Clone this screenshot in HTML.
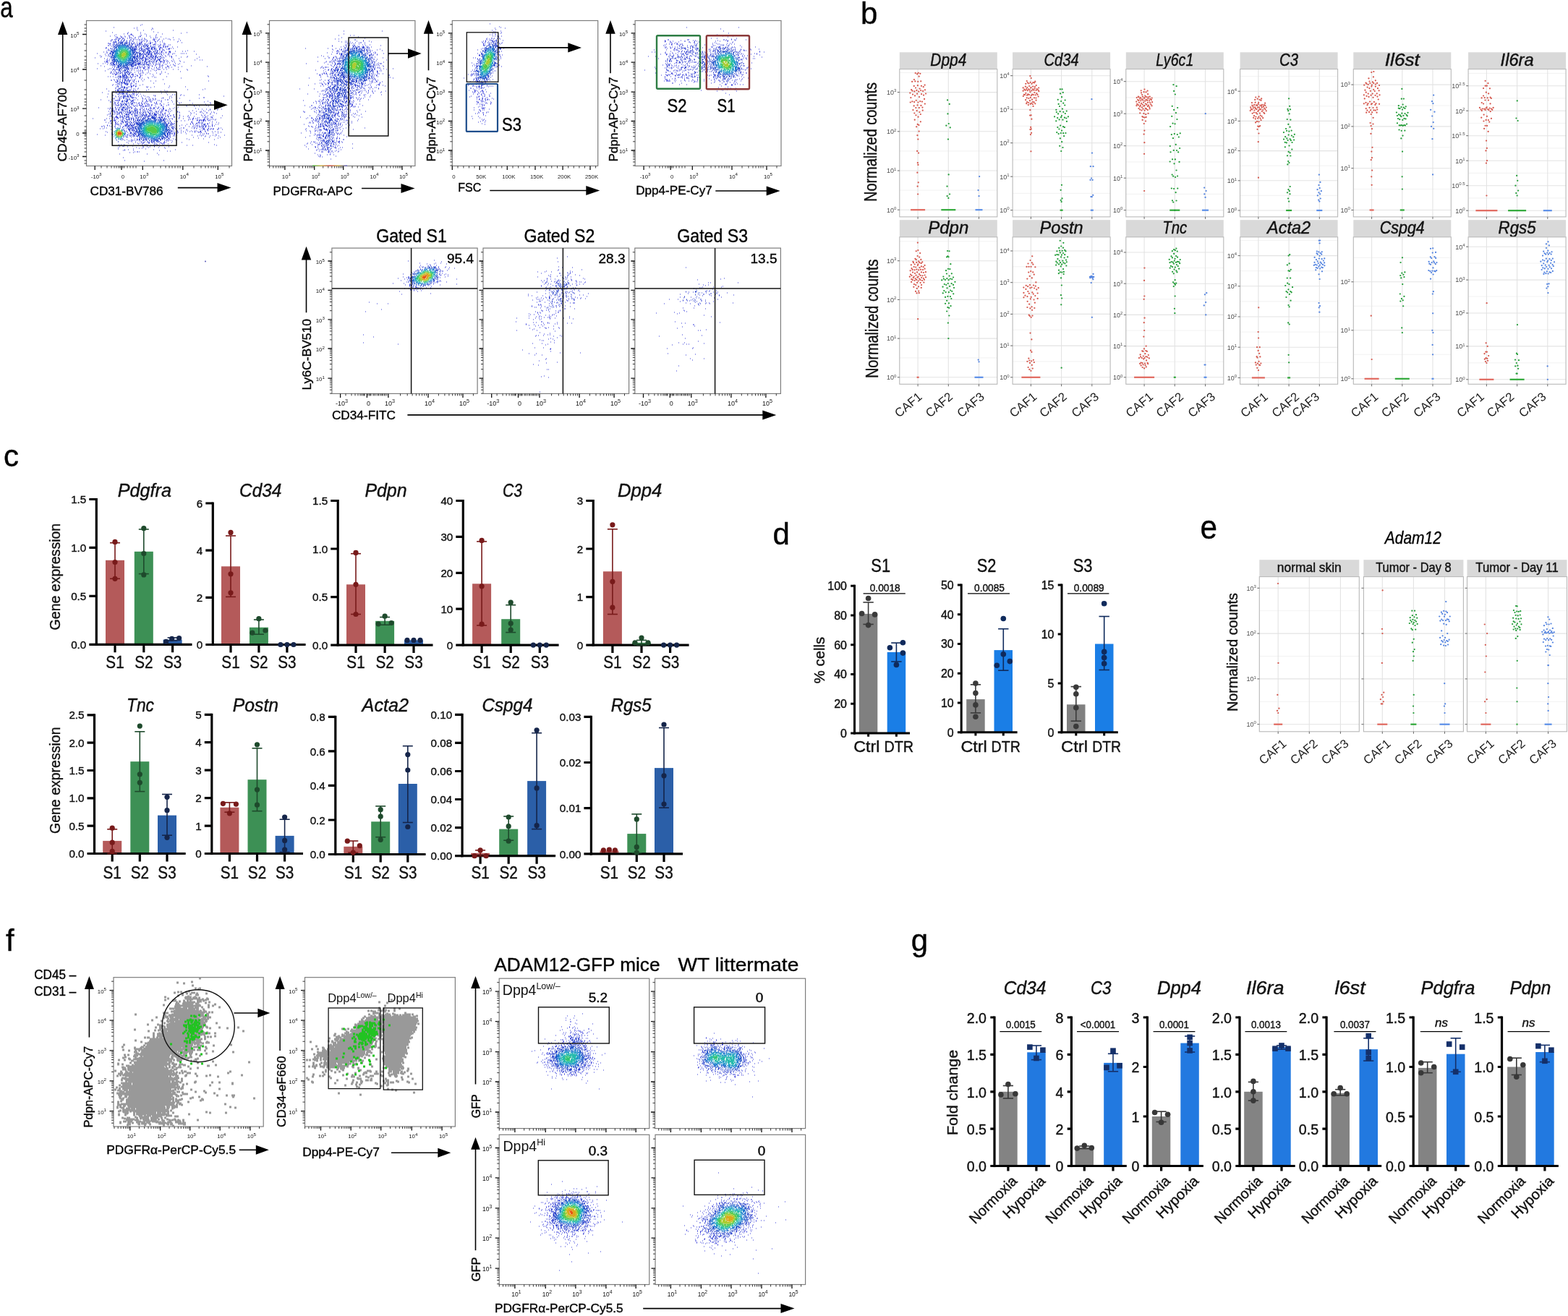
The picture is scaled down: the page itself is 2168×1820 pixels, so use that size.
<!DOCTYPE html>
<html><head><meta charset="utf-8"><title>Figure</title>
<style>html,body{margin:0;padding:0;background:#fff;}svg{display:block;}text{font-family:"Liberation Sans",Arial,sans-serif;}.k{stroke:#111;stroke-width:.4px;}</style>
</head><body>
<svg width="2168" height="1820" viewBox="0 0 2168 1820">
<rect width="2168" height="1820" fill="#fff"/>
<text x="0.3" y="24" font-size="40" class="k" textLength="17.5" lengthAdjust="spacingAndGlyphs">a</text>
<rect x="119.5" y="28.5" width="201" height="201" fill="#fff" stroke="#7d7d7d" stroke-width="1.2"/>
<path d="M131.2 229.5v5.5M168 229.5v5.5M197.3 229.5v5.5M252.8 229.5v5.5M301.3 229.5v5.5" stroke="#111" stroke-width="1.3" fill="none"/>
<path d="M140 229.5v3.0M148 229.5v3.0M154 229.5v3.0M158 229.5v3.0M161 229.5v3.0M164 229.5v3.0M166 229.5v3.0M170 229.5v3.0M172 229.5v3.0M176 229.5v3.0M180 229.5v3.0M184 229.5v3.0M188 229.5v3.0M212 229.5v3.0M222 229.5v3.0M229 229.5v3.0M234 229.5v3.0M238 229.5v3.0M242 229.5v3.0M246 229.5v3.0M249 229.5v3.0M268 229.5v3.0M278 229.5v3.0M284 229.5v3.0M288 229.5v3.0M292 229.5v3.0M295 229.5v3.0M298 229.5v3.0M317 229.5v3.0" stroke="#222" stroke-width="0.9" fill="none"/>
<text x="133.2" y="246.5" font-size="7.8" text-anchor="middle" fill="#111">-10<tspan dy="-3.5" font-size="6.2">3</tspan></text>
<text x="170" y="246.5" font-size="7.8" text-anchor="middle" fill="#222">0</text>
<text x="199.3" y="246.5" font-size="7.8" text-anchor="middle" fill="#111">10<tspan dy="-3.5" font-size="6.2">3</tspan></text>
<text x="254.8" y="246.5" font-size="7.8" text-anchor="middle" fill="#111">10<tspan dy="-3.5" font-size="6.2">4</tspan></text>
<text x="303.3" y="246.5" font-size="7.8" text-anchor="middle" fill="#111">10<tspan dy="-3.5" font-size="6.2">5</tspan></text>
<path d="M119.5 47.5h-5.5M119.5 96h-5.5M119.5 150.1h-5.5M119.5 184h-5.5M119.5 216.5h-5.5" stroke="#111" stroke-width="1.3" fill="none"/>
<path d="M119.5 34h-3.0M119.5 39h-3.0M119.5 43h-3.0M119.5 61h-3.0M119.5 70h-3.0M119.5 78h-3.0M119.5 83h-3.0M119.5 87h-3.0M119.5 90h-3.0M119.5 93h-3.0M119.5 111h-3.0M119.5 124h-3.0M119.5 131h-3.0M119.5 137h-3.0M119.5 141h-3.0M119.5 145h-3.0M119.5 160h-3.0M119.5 168h-3.0M119.5 175h-3.0M119.5 180h-3.0M119.5 182h-3.0M119.5 186h-3.0M119.5 188h-3.0M119.5 192h-3.0M119.5 196h-3.0M119.5 200h-3.0M119.5 205h-3.0M119.5 210h-3.0M119.5 222h-3.0M119.5 226h-3.0" stroke="#222" stroke-width="0.9" fill="none"/>
<text x="109.5" y="51.5" font-size="7.8" text-anchor="end" fill="#111">10<tspan dy="-3.5" font-size="6.2">5</tspan></text>
<text x="109.5" y="100" font-size="7.8" text-anchor="end" fill="#111">10<tspan dy="-3.5" font-size="6.2">4</tspan></text>
<text x="109.5" y="154.1" font-size="7.8" text-anchor="end" fill="#111">10<tspan dy="-3.5" font-size="6.2">3</tspan></text>
<text x="109.5" y="188" font-size="7.8" text-anchor="end" fill="#222">0</text>
<text x="109.5" y="220.5" font-size="7.8" text-anchor="end" fill="#111">-10<tspan dy="-3.5" font-size="6.2">3</tspan></text>
<path d="M196 34h1m-3 1h1m-38 3h1m31 0h1m-5 1h1m24 0h1m-22 1h1m21 0h1m-3 1h1m-20 1h1m7 0h1m40 0h1m-94 1h1m65 1h1m-58 1h1m21 0h1m16 0h1m23 0h1m39 0h1m-83 1h1m73 0h1m-80 1h1m4 0h1m4 0h1m12 0h1m5 0h1m23 0h1m-65 1h1m19 0h1m0 0h1m0 0h1m19 0h1m13 0h1m-59 1h1m19 0h1m4 0h1m11 0h1m19 0h1m-64 1h1m13 0h1m5 0h1m5 0h1m5 0h1m8 0h1m0 0h1m7 0h1m4 0h1m-49 1h1m1 0h1m5 0h1m0 0h1m4 0h1m5 0h1m11 0h1m1 0h1m21 0h1m6 0h1m-62 1h1m0 0h1m5 0h1m10 0h1m1 0h1m4 0h1m0 0h1m20 0h1m6 0h1m1 0h1m21 0h1m-77 1h1m1 0h1m0 0h1m2 0h1m0 0h1m0 0h1m4 0h1m2 0h1m2 0h1m8 0h1m4 0h1m2 0h1m12 0h1m16 0h1m-71 1h1m0 0h1m0 0h1m22 0h1m1 0h1m13 0h1m12 0h1m1 0h1m4 0h1m5 0h1m5 0h1m1 0h1m12 0h1m-94 1h1m0 0h1m2 0h1m21 0h1m0 0h1m2 0h1m3 0h1m1 0h1m1 0h1m0 0h1m1 0h1m0 0h1m3 0h1m1 0h1m8 0h1m0 0h1m0 0h1m5 0h1m15 0h1m4 0h1m-88 1h1m5 0h1m38 0h1m4 0h1m9 0h1m4 0h1m5 0h1m24 0h1m-97 1h1m30 0h1m8 0h1m2 0h1m2 0h1m3 0h1m3 0h1m6 0h1m2 0h1m28 0h1m-91 1h1m32 0h1m5 0h1m0 0h1m5 0h1m11 0h1m0 0h1m5 0h1m2 0h1m20 0h1m-54 1h1m1 0h1m0 0h1m11 0h1m0 0h1m1 0h1m40 0h1m-103 1h1m0 0h1m1 0h1m36 0h1m10 0h1m4 0h1m1 0h1m0 0h1m6 0h1m10 0h1m0 0h1m-77 1h1m0 0h1m54 0h1m5 0h1m0 0h1m6 0h1m6 0h1m-18 1h1m0 0h1m0 0h1m1 0h1m2 0h1m3 0h1m3 0h1m0 0h1m5 0h1m1 0h1m-87 1h1m0 0h1m1 0h1m67 0h1m0 0h1m3 0h1m-7 1h1m6 0h1m1 0h1m0 0h1m1 0h1m0 0h1m-14 1h1m1 0h1m3 0h1m0 0h1m2 0h1m1 0h1m6 0h1m6 0h1m-100 1h1m0 0h1m73 0h1m0 0h1m0 0h1m4 0h1m-83 1h1m73 0h1m0 0h1m2 0h1m8 0h1m0 0h1m1 0h1m2 0h1m-91 1h1m70 0h1m9 0h1m1 0h1m0 0h1m0 0h1m-85 1h1m69 0h1m0 0h1m2 0h1m0 0h1m0 0h1m-78 1h1m77 0h1m31 0h1m-113 1h1m75 0h1m0 0h1m8 0h1m0 0h1m0 0h1m6 0h1m9 0h1m3 0h1m11 0h1m-126 1h1m78 0h1m0 0h1m5 0h1m4 0h1m0 0h1m-89 1h1m0 0h1m74 0h1m1 0h1m2 0h1m1 0h1m2 0h1m1 0h1m-102 1h1m98 0h1m5 0h1m1 0h1m8 0h1m1 0h1m1 0h1m2 0h1m-113 1h1m77 0h1m2 0h1m5 0h1m5 0h1m32 0h1m-123 1h1m82 0h1m1 0h1m-97 1h1m7 0h1m77 0h1m3 0h1m14 0h1m-104 1h1m8 0h1m79 0h1m4 0h1m1 0h1m0 0h1m21 0h1m-121 1h1m85 0h1m11 0h1m12 0h1m7 0h1m16 0h1m-145 1h1m93 0h1m1 0h1m9 0h1m-94 1h1m3 0h1m98 0h1m24 0h1m-122 1h1m73 0h1m13 0h1m-93 1h1m0 0h1m77 0h1m2 0h1m39 0h1m6 0h1m2 0h1m-131 1h1m1 0h1m74 0h1m0 0h1m3 0h1m5 0h1m2 0h1m7 0h1m-105 1h1m1 0h1m0 0h1m0 0h1m73 0h1m0 0h1m0 0h1m1 0h1m3 0h1m1 0h1m5 0h1m10 0h1m-103 1h1m0 0h1m73 0h1m4 0h1m13 0h1m12 0h1m-110 1h1m3 0h1m69 0h1m1 0h1m3 0h1m0 0h1m4 0h1m2 0h1m-100 1h1m6 0h1m9 0h1m58 0h1m4 0h1m25 0h1m5 0h1m-101 1h1m63 0h1m2 0h1m1 0h1m1 0h1m0 0h1m0 0h1m6 0h1m1 0h1m8 0h1m6 0h1m-95 1h1m55 0h1m6 0h1m8 0h1m0 0h1m9 0h1m4 0h1m-102 1h1m70 0h1m3 0h1m5 0h1m0 0h1m1 0h1m7 0h1m9 0h1m0 0h1m21 0h1m-121 1h1m55 0h1m2 0h1m2 0h1m3 0h1m13 0h1m6 0h1m0 0h1m0 0h1m17 0h1m34 0h1m-132 1h1m37 0h1m0 0h1m1 0h1m1 0h1m1 0h1m4 0h1m10 0h1m3 0h1m0 0h1m7 0h1m7 0h1m8 0h1m-58 1h1m0 0h1m2 0h1m4 0h1m0 0h1m4 0h1m0 0h1m0 0h1m6 0h1m2 0h1m2 0h1m4 0h1m4 0h1m3 0h1m-100 1h1m16 0h1m1 0h1m3 0h1m30 0h1m1 0h1m7 0h1m0 0h1m9 0h1m7 0h1m-69 1h1m6 0h1m0 0h1m36 0h1m6 0h1m1 0h1m1 0h1m5 0h1m6 0h1m0 0h1m0 0h1m0 0h1m4 0h1m3 0h1m8 0h1m6 0h1m11 0h1m-104 1h1m2 0h1m0 0h1m25 0h1m5 0h1m8 0h1m12 0h1m2 0h1m42 0h1m-115 1h1m43 0h1m3 0h1m0 0h1m1 0h1m0 0h1m7 0h1m2 0h1m6 0h1m-63 1h1m3 0h1m1 0h1m31 0h1m31 0h1m25 0h1m-96 1h1m5 0h1m25 0h1m10 0h1m7 0h1m22 0h1m-77 1h1m0 0h1m3 0h1m3 0h1m29 0h1m2 0h1m1 0h1m1 0h1m4 0h1m12 0h1m6 0h1m-69 1h1m2 0h1m1 0h1m22 0h1m9 0h1m13 0h1m13 0h1m10 0h1m-77 1h1m2 0h1m0 0h1m0 0h1m20 0h1m0 0h1m0 0h1m2 0h1m5 0h1m7 0h1m9 0h1m9 0h1m-63 1h1m23 0h1m5 0h1m4 0h1m1 0h1m-13 1h1m4 0h1m0 0h1m3 0h1m17 0h1m74 0h1m-139 1h1m2 0h1m3 0h1m26 0h1m2 0h1m0 0h1m6 0h1m15 0h1m19 0h1m57 0h1m-130 1h1m1 0h1m19 0h1m0 0h1m9 0h1m0 0h1m10 0h1m8 0h1m1 0h1m-35 1h1m11 0h1m2 0h1m8 0h1m44 0h1m-64 1h1m-31 1h1m3 0h1m20 0h1m2 0h1m9 0h1m3 0h1m25 0h1m-73 1h1m0 0h1m3 0h1m3 0h1m17 0h1m4 0h1m-25 1h1m21 0h1m1 0h1m5 0h1m5 0h1m10 0h1m6 0h1m72 0h1m-130 1h1m24 0h1m3 0h1m2 0h1m-32 1h1m0 0h1m23 0h1m-24 1h1m18 0h1m0 0h1m29 0h1m-33 1h1m6 0h1m0 0h1m38 0h1m-72 1h1m3 0h1m1 0h1m18 0h1m15 0h1m-43 1h1m24 0h1m3 0h1m0 0h1m7 0h1m-32 1h1m18 0h1m0 0h1m1 0h1m2 0h1m0 0h1m45 0h1m-74 1h1m15 0h1m1 0h1m1 0h1m0 0h1m4 0h1m14 0h1m1 0h1m8 0h1m42 0h1m-81 1h1m4 0h1m21 0h1m4 0h1m24 0h1m-75 1h1m0 0h1m30 0h1m-45 1h1m33 0h1m2 0h1m1 0h1m3 0h1m92 0h1m-122 1h1m16 0h1m25 0h1m53 0h1m20 0h1m-122 1h1m0 0h1m1 0h1m16 0h1m0 0h1m3 0h1m2 0h1m14 0h1m24 0h1m-78 1h1m11 0h1m19 0h1m1 0h1m0 0h1m2 0h1m33 0h1m6 0h1m1 0h1m-76 1h1m28 0h1m6 0h1m0 0h1m49 0h1m-103 1h1m13 0h1m1 0h1m2 0h1m27 0h1m39 0h1m-69 1h1m22 0h1m1 0h1m5 0h1m31 0h1m6 0h1m-82 1h1m12 0h1m0 0h1m19 0h1m0 0h1m0 0h1m3 0h1m4 0h1m-31 1h1m24 0h1m41 0h1m6 0h1m2 0h1m8 0h1m24 0h1m-120 1h1m26 0h1m1 0h1m2 0h1m9 0h1m13 0h1m1 0h1m34 0h1m4 0h1m-96 1h1m4 0h1m26 0h1m3 0h1m4 0h1m13 0h1m21 0h1m72 0h1m-162 1h1m11 0h1m2 0h1m2 0h1m36 0h1m1 0h1m28 0h1m-70 1h1m17 0h1m0 0h1m0 0h1m1 0h1m8 0h1m9 0h1m18 0h1m11 0h1m43 0h1m0 0h1m-127 1h1m1 0h1m6 0h1m1 0h1m15 0h1m4 0h1m8 0h1m3 0h1m9 0h1m2 0h1m8 0h1m1 0h1m8 0h1m13 0h1m26 0h1m-119 1h1m5 0h1m1 0h1m31 0h1m2 0h1m4 0h1m1 0h1m3 0h1m3 0h1m-77 1h1m14 0h1m10 0h1m18 0h1m1 0h1m3 0h1m11 0h1m4 0h1m4 0h1m1 0h1m13 0h1m2 0h1m0 0h1m-83 1h1m4 0h1m3 0h1m0 0h1m0 0h1m0 0h1m0 0h1m0 0h1m0 0h1m18 0h1m12 0h1m4 0h1m3 0h1m1 0h1m1 0h1m7 0h1m1 0h1m2 0h1m13 0h1m24 0h1m-108 1h1m1 0h1m38 0h1m5 0h1m1 0h1m2 0h1m14 0h1m22 0h1m41 0h1m-136 1h1m0 0h1m9 0h1m20 0h1m12 0h1m3 0h1m1 0h1m4 0h1m0 0h1m6 0h1m6 0h1m14 0h1m43 0h1m-125 1h1m0 0h1m3 0h1m21 0h1m0 0h1m1 0h1m3 0h1m2 0h1m4 0h1m12 0h1m2 0h1m15 0h1m14 0h1m2 0h1m39 0h1m-134 1h1m1 0h1m2 0h1m28 0h1m0 0h1m2 0h1m3 0h1m2 0h1m11 0h1m1 0h1m4 0h1m26 0h1m17 0h1m24 0h1m-129 1h1m25 0h1m6 0h1m0 0h1m2 0h1m2 0h1m0 0h1m0 0h1m9 0h1m1 0h1m3 0h1m4 0h1m13 0h1m43 0h1m-130 1h1m1 0h1m1 0h1m0 0h1m3 0h1m18 0h1m8 0h1m0 0h1m2 0h1m9 0h1m2 0h1m0 0h1m12 0h1m8 0h1m0 0h1m28 0h1m28 0h1m-131 1h1m0 0h1m0 0h1m20 0h1m2 0h1m1 0h1m2 0h1m1 0h1m0 0h1m5 0h1m1 0h1m1 0h1m3 0h1m4 0h1m7 0h1m0 0h1m6 0h1m26 0h1m10 0h1m2 0h1m13 0h1m-101 1h1m0 0h1m2 0h1m4 0h1m1 0h1m0 0h1m0 0h1m1 0h1m0 0h1m0 0h1m1 0h1m1 0h1m18 0h1m32 0h1m9 0h1m6 0h1m12 0h1m-134 1h1m3 0h1m19 0h1m0 0h1m0 0h1m16 0h1m9 0h1m6 0h1m3 0h1m5 0h1m20 0h1m-111 1h1m15 0h1m2 0h1m3 0h1m2 0h1m19 0h1m4 0h1m6 0h1m1 0h1m10 0h1m4 0h1m0 0h1m5 0h1m5 0h1m15 0h1m-93 1h1m2 0h1m1 0h1m1 0h1m3 0h1m20 0h1m0 0h1m4 0h1m8 0h1m2 0h1m2 0h1m4 0h1m0 0h1m0 0h1m2 0h1m0 0h1m3 0h1m0 0h1m3 0h1m2 0h1m0 0h1m7 0h1m4 0h1m4 0h1m25 0h1m-120 1h1m2 0h1m5 0h1m27 0h1m0 0h1m3 0h1m0 0h1m7 0h1m2 0h1m5 0h1m13 0h1m0 0h1m8 0h1m38 0h1m4 0h1m5 0h1m4 0h1m10 0h1m4 0h1m-151 1h1m3 0h1m29 0h1m2 0h1m3 0h1m0 0h1m0 0h1m3 0h1m1 0h1m2 0h1m5 0h1m5 0h1m2 0h1m0 0h1m4 0h1m3 0h1m9 0h1m46 0h1m9 0h1m-147 1h1m1 0h1m1 0h1m35 0h1m5 0h1m8 0h1m15 0h1m2 0h1m0 0h1m0 0h1m6 0h1m28 0h1m14 0h1m6 0h1m-139 1h1m2 0h1m1 0h1m0 0h1m1 0h1m59 0h1m0 0h1m2 0h1m0 0h1m0 0h1m7 0h1m2 0h1m9 0h1m15 0h1m9 0h1m6 0h1m4 0h1m-127 1h1m1 0h1m33 0h1m0 0h1m26 0h1m11 0h1m11 0h1m1 0h1m28 0h1m0 0h1m14 0h1m2 0h1m-144 1h1m5 0h1m63 0h1m0 0h1m4 0h1m19 0h1m14 0h1m4 0h1m10 0h1m5 0h1m0 0h1m9 0h1m-145 1h1m7 0h1m63 0h1m2 0h1m0 0h1m5 0h1m29 0h1m16 0h1m9 0h1m7 0h1m-150 1h1m1 0h1m3 0h1m1 0h1m3 0h1m70 0h1m9 0h1m27 0h1m18 0h1m-143 1h1m12 0h1m3 0h1m62 0h1m2 0h1m7 0h1m0 0h1m7 0h1m14 0h1m14 0h1m4 0h1m-131 1h1m12 0h1m64 0h1m3 0h1m0 0h1m11 0h1m11 0h1m18 0h1m2 0h1m4 0h1m6 0h1m12 0h1m-157 1h1m1 0h1m6 0h1m0 0h1m4 0h1m16 0h1m45 0h1m2 0h1m0 0h1m6 0h1m12 0h1m5 0h1m8 0h1m15 0h1m-129 1h1m2 0h1m0 0h1m0 0h1m0 0h1m2 0h1m1 0h1m64 0h1m7 0h1m0 0h1m6 0h1m12 0h1m18 0h1m3 0h1m1 0h1m4 0h1m0 0h1m0 0h1m-136 1h1m2 0h1m0 0h1m0 0h1m2 0h1m80 0h1m13 0h1m5 0h1m5 0h1m1 0h1m6 0h1m0 0h1m9 0h1m11 0h1m-178 1h1m18 0h1m3 0h1m3 0h1m1 0h1m5 0h1m69 0h1m2 0h1m1 0h1m8 0h1m5 0h1m12 0h1m0 0h1m2 0h1m1 0h1m13 0h1m1 0h1m-131 1h1m2 0h1m72 0h1m3 0h1m22 0h1m1 0h1m2 0h1m14 0h1m0 0h1m0 0h1m2 0h1m4 0h1m1 0h1m1 0h1m2 0h1m-155 1h1m0 0h1m11 0h1m1 0h1m6 0h1m1 0h1m91 0h1m5 0h1m5 0h1m0 0h1m1 0h1m0 0h1m0 0h1m0 0h1m1 0h1m0 0h1m0 0h1m4 0h1m1 0h1m7 0h1m-146 1h1m0 0h1m0 0h1m0 0h1m1 0h1m0 0h1m0 0h1m73 0h1m1 0h1m14 0h1m4 0h1m16 0h1m2 0h1m2 0h1m1 0h1m0 0h1m1 0h1m0 0h1m3 0h1m1 0h1m-139 1h1m7 0h1m2 0h1m3 0h1m0 0h1m66 0h1m5 0h1m1 0h1m0 0h1m0 0h1m19 0h1m9 0h1m5 0h1m11 0h1m-148 1h1m12 0h1m76 0h1m27 0h1m0 0h1m8 0h1m24 0h1m-150 1h1m2 0h1m5 0h1m0 0h1m1 0h1m4 0h1m69 0h1m28 0h1m5 0h1m1 0h1m0 0h1m0 0h1m12 0h1m3 0h1m8 0h1m-150 1h1m6 0h1m5 0h1m1 0h1m69 0h1m1 0h1m0 0h1m21 0h1m2 0h1m4 0h1m0 0h1m10 0h1m2 0h1m0 0h1m-129 1h1m1 0h1m0 0h1m0 0h1m0 0h1m2 0h1m71 0h1m18 0h1m4 0h1m3 0h1m2 0h1m16 0h1m5 0h1m4 0h1m2 0h1m-154 1h1m10 0h1m91 0h1m21 0h1m1 0h1m17 0h1m-151 1h1m4 0h1m15 0h1m1 0h1m74 0h1m6 0h1m7 0h1m10 0h1m1 0h1m1 0h1m0 0h1m5 0h1m6 0h1m2 0h1m4 0h1m2 0h1m-157 1h1m0 0h1m2 0h1m8 0h1m4 0h1m0 0h1m10 0h1m0 0h1m89 0h1m4 0h1m6 0h1m1 0h1m0 0h1m1 0h1m5 0h1m3 0h1m1 0h1m2 0h1m-125 1h1m71 0h1m26 0h1m1 0h1m5 0h1m7 0h1m-141 1h1m2 0h1m7 0h1m6 0h1m1 0h1m4 0h1m70 0h1m9 0h1m2 0h1m0 0h1m10 0h1m2 0h1m3 0h1m5 0h1m9 0h1m13 0h1m2 0h1m-168 1h1m3 0h1m21 0h1m6 0h1m2 0h1m67 0h1m5 0h1m19 0h1m2 0h1m8 0h1m0 0h1m0 0h1m5 0h1m2 0h1m0 0h1m1 0h1m0 0h1m6 0h1m-150 1h1m1 0h1m6 0h1m5 0h1m75 0h1m13 0h1m17 0h1m4 0h1m0 0h1m3 0h1m0 0h1m2 0h1m3 0h1m5 0h1m0 0h1m5 0h1m-153 1h1m6 0h1m6 0h1m1 0h1m78 0h1m6 0h1m21 0h1m3 0h1m3 0h1m-128 1h1m4 0h1m2 0h1m2 0h1m0 0h1m1 0h1m65 0h1m4 0h1m13 0h1m4 0h1m4 0h1m1 0h1m5 0h1m9 0h1m-142 1h1m18 0h1m1 0h1m6 0h1m70 0h1m4 0h1m2 0h1m8 0h1m3 0h1m2 0h1m3 0h1m2 0h1m0 0h1m5 0h1m0 0h1m8 0h1m3 0h1m3 0h1m-154 1h1m12 0h1m1 0h1m12 0h1m62 0h1m1 0h1m4 0h1m9 0h1m12 0h1m4 0h1m0 0h1m1 0h1m0 0h1m26 0h1m-145 1h1m6 0h1m0 0h1m71 0h1m3 0h1m4 0h1m34 0h1m8 0h1m6 0h1m-142 1h1m2 0h1m3 0h1m0 0h1m0 0h1m2 0h1m0 0h1m4 0h1m61 0h1m0 0h1m15 0h1m19 0h1m2 0h1m1 0h1m2 0h1m1 0h1m0 0h1m-155 1h1m19 0h1m5 0h1m1 0h1m9 0h1m68 0h1m56 0h1m-154 1h1m14 0h1m2 0h1m2 0h1m4 0h1m3 0h1m0 0h1m1 0h1m61 0h1m3 0h1m20 0h1m10 0h1m2 0h1m1 0h1m12 0h1m4 0h1m10 0h1m-148 1h1m6 0h1m2 0h1m5 0h1m0 0h1m0 0h1m57 0h1m1 0h1m31 0h1m4 0h1m5 0h1m5 0h1m6 0h1m4 0h1m-141 1h1m0 0h1m4 0h1m2 0h1m3 0h1m107 0h1m-110 1h1m1 0h1m4 0h1m53 0h1m31 0h1m21 0h1m14 0h1m-142 1h1m110 0h1m26 0h1m-134 1h1m0 0h1m16 0h1m47 0h1m4 0h1m18 0h1m22 0h1m-116 1h1m3 0h1m4 0h1m5 0h1m7 0h1m52 0h1m18 0h1m34 0h1m-125 1h1m9 0h1m0 0h1m1 0h1m3 0h1m42 0h1m1 0h1m1 0h1m7 0h1m-68 1h1m1 0h1m1 0h1m5 0h1m4 0h1m37 0h1m1 0h1m5 0h1m-76 1h1m18 0h1m44 0h1m-53 1h1m11 0h1m7 0h1m30 0h1m0 0h1m1 0h1m7 0h1m13 0h1m36 0h1m-112 1h1m12 0h1m2 0h1m2 0h1m0 0h1m0 0h1m23 0h1m0 0h1m2 0h1m-43 1h1m6 0h1m28 0h1m3 0h1m0 0h1m1 0h1m4 0h1m-69 1h1m2 0h1m3 0h1m24 0h1m3 0h1m1 0h1m10 0h1m1 0h1m1 0h1m78 0h1m-142 1h1m16 0h1m24 0h1m2 0h1m2 0h1m0 0h1m3 0h1m3 0h1m5 0h1m6 0h1m32 0h1m7 0h1m32 0h1m-130 1h1m0 0h1m11 0h1m14 0h1m14 0h1m6 0h1m-56 1h1m10 0h1m20 0h1m5 0h1m3 0h1m5 0h1m19 0h1m-71 1h1m24 0h1m9 0h1m6 0h1m13 0h1m7 0h1m-36 1h1m3 0h1m31 0h1m-66 1h1m20 0h1m16 0h1m-30 1h1m4 0h1m34 0h1m29 0h1m-73 1h1m1 0h1m11 0h1m35 0h1m10 1h1m3 0h1m-50 1h1m2 0h1m0 0h1m1 0h1m-14 1h1m4 0h1m32 1h1m-53 1h1m37 0h1m15 1h1m-50 4h1m1 4h1m53 0h1m-28 1h1" stroke="#373cd9" stroke-width="1.1" fill="none"/>
<path d="M164 54h1m0 0h1m3 0h1m-7 1h1m4 0h1m2 0h1m0 0h1m-10 1h1m0 0h1m2 0h1m3 0h1m3 0h1m3 0h1m-20 1h1m2 0h1m3 0h1m2 0h1m0 0h1m2 0h1m4 0h1m2 0h1m0 0h1m-27 1h1m0 0h1m0 0h1m0 0h1m4 0h1m0 0h1m7 0h1m1 0h1m2 0h1m-24 1h1m1 0h1m1 0h1m2 0h1m11 0h1m2 0h1m2 0h1m3 0h1m-29 1h1m3 0h1m16 0h1m0 0h1m2 0h1m1 0h1m0 0h1m6 0h1m0 0h1m0 0h1m0 0h1m-40 1h1m1 0h1m22 0h1m0 0h1m0 0h1m3 0h1m2 0h1m1 0h1m0 0h1m2 0h1m2 0h1m1 0h1m1 0h1m-48 1h1m1 0h1m24 0h1m2 0h1m2 0h1m1 0h1m1 0h1m0 0h1m1 0h1m3 0h1m1 0h1m1 0h1m-49 1h1m30 0h1m1 0h1m0 0h1m1 0h1m5 0h1m0 0h1m1 0h1m0 0h1m0 0h1m1 0h1m2 0h1m-55 1h1m2 0h1m29 0h1m0 0h1m3 0h1m2 0h1m1 0h1m0 0h1m1 0h1m2 0h1m0 0h1m3 0h1m5 0h1m-59 1h1m28 0h1m0 0h1m0 0h1m0 0h1m2 0h1m3 0h1m3 0h1m1 0h1m1 0h1m0 0h1m3 0h1m1 0h1m0 0h1m0 0h1m0 0h1m-26 1h1m4 0h1m1 0h1m3 0h1m5 0h1m0 0h1m2 0h1m0 0h1m1 0h1m1 0h1m-63 1h1m0 0h1m1 0h1m31 0h1m1 0h1m2 0h1m1 0h1m0 0h1m1 0h1m3 0h1m0 0h1m0 0h1m0 0h1m0 0h1m0 0h1m2 0h1m0 0h1m2 0h1m0 0h1m1 0h1m-63 1h1m32 0h1m0 0h1m3 0h1m2 0h1m0 0h1m3 0h1m1 0h1m0 0h1m0 0h1m3 0h1m0 0h1m0 0h1m1 0h1m0 0h1m0 0h1m-27 1h1m1 0h1m1 0h1m2 0h1m1 0h1m0 0h1m0 0h1m0 0h1m3 0h1m0 0h1m0 0h1m3 0h1m4 0h1m0 0h1m-66 1h1m1 0h1m39 0h1m0 0h1m0 0h1m1 0h1m2 0h1m6 0h1m6 0h1m2 0h1m0 0h1m-66 1h1m38 0h1m3 0h1m0 0h1m0 0h1m0 0h1m1 0h1m5 0h1m0 0h1m3 0h1m0 0h1m1 0h1m1 0h1m-65 1h1m38 0h1m5 0h1m0 0h1m3 0h1m3 0h1m1 0h1m2 0h1m2 0h1m1 0h1m2 0h1m-69 1h1m45 0h1m2 0h1m0 0h1m0 0h1m0 0h1m2 0h1m2 0h1m2 0h1m2 0h1m0 0h1m-67 1h1m0 0h1m44 0h1m1 0h1m3 0h1m1 0h1m0 0h1m1 0h1m0 0h1m3 0h1m0 0h1m0 0h1m0 0h1m1 0h1m0 0h1m1 0h1m-70 1h1m43 0h1m0 0h1m1 0h1m0 0h1m0 0h1m0 0h1m1 0h1m0 0h1m0 0h1m1 0h1m0 0h1m4 0h1m2 0h1m2 0h1m1 0h1m-73 1h1m47 0h1m2 0h1m2 0h1m0 0h1m1 0h1m1 0h1m0 0h1m2 0h1m1 0h1m7 0h1m-72 1h1m44 0h1m0 0h1m3 0h1m0 0h1m4 0h1m0 0h1m1 0h1m3 0h1m0 0h1m-66 1h1m44 0h1m1 0h1m3 0h1m0 0h1m3 0h1m1 0h1m1 0h1m0 0h1m1 0h1m0 0h1m3 0h1m1 0h1m0 0h1m-71 1h1m0 0h1m43 0h1m0 0h1m1 0h1m1 0h1m1 0h1m0 0h1m1 0h1m0 0h1m0 0h1m0 0h1m1 0h1m1 0h1m0 0h1m0 0h1m0 0h1m2 0h1m1 0h1m-29 1h1m1 0h1m0 0h1m0 0h1m1 0h1m5 0h1m3 0h1m0 0h1m2 0h1m2 0h1m0 0h1m4 0h1m-71 1h1m40 0h1m0 0h1m0 0h1m0 0h1m2 0h1m0 0h1m0 0h1m1 0h1m1 0h1m0 0h1m2 0h1m1 0h1m1 0h1m0 0h1m5 0h1m0 0h1m-30 1h1m1 0h1m5 0h1m0 0h1m1 0h1m3 0h1m0 0h1m2 0h1m1 0h1m3 0h1m0 0h1m0 0h1m0 0h1m-68 1h1m37 0h1m3 0h1m0 0h1m0 0h1m1 0h1m0 0h1m0 0h1m1 0h1m5 0h1m2 0h1m0 0h1m2 0h1m1 0h1m0 0h1m-27 1h1m2 0h1m3 0h1m4 0h1m0 0h1m4 0h1m3 0h1m0 0h1m2 0h1m0 0h1m-67 1h1m36 0h1m0 0h1m2 0h1m2 0h1m0 0h1m0 0h1m3 0h1m0 0h1m1 0h1m0 0h1m1 0h1m1 0h1m1 0h1m0 0h1m4 0h1m-68 1h1m39 0h1m4 0h1m1 0h1m0 0h1m0 0h1m0 0h1m1 0h1m3 0h1m1 0h1m3 0h1m-65 1h1m1 0h1m0 0h1m0 0h1m34 0h1m0 0h1m0 0h1m0 0h1m1 0h1m0 0h1m1 0h1m2 0h1m4 0h1m3 0h1m2 0h1m-62 1h1m2 0h1m0 0h1m31 0h1m0 0h1m0 0h1m0 0h1m0 0h1m6 0h1m1 0h1m3 0h1m1 0h1m-55 1h1m1 0h1m0 0h1m0 0h1m28 0h1m0 0h1m1 0h1m0 0h1m0 0h1m0 0h1m0 0h1m0 0h1m1 0h1m0 0h1m0 0h1m0 0h1m1 0h1m0 0h1m0 0h1m0 0h1m-52 1h1m0 0h1m1 0h1m0 0h1m27 0h1m0 0h1m0 0h1m2 0h1m4 0h1m1 0h1m4 0h1m1 0h1m0 0h1m-51 1h1m2 0h1m25 0h1m1 0h1m5 0h1m5 0h1m5 0h1m-48 1h1m24 0h1m0 0h1m5 0h1m1 0h1m3 0h1m-39 1h1m2 0h1m0 0h1m20 0h1m6 0h1m-30 1h1m1 0h1m14 0h1m2 0h1m4 0h1m0 0h1m-23 1h1m11 0h1m2 0h1m1 0h1m0 0h1m1 0h1m-26 1h1m0 0h1m0 0h1m1 0h1m0 0h1m1 0h1m9 0h1m0 0h1m-16 1h1m0 0h1m0 0h1m2 0h1m7 0h1m4 0h1m0 0h1m-18 1h1m0 0h1m3 0h1m5 0h1m2 0h1m-16 1h1m1 0h1m2 0h1m1 0h1m3 0h1m0 0h1m0 0h1m-17 1h1m1 0h1m3 0h1m4 0h1m2 0h1m1 0h1m0 0h1m1 0h1m0 0h1m-19 1h1m1 0h1m0 0h1m1 0h1m0 0h1m2 0h1m3 0h1m2 0h1m-18 1h1m3 0h1m5 0h1m3 0h1m1 0h1m0 0h1m-16 1h1m4 0h1m0 0h1m6 0h1m0 0h1m2 0h1m-13 1h1m1 0h1m0 0h1m0 0h1m0 0h1m0 0h1m2 0h1m-16 1h1m1 0h1m0 0h1m2 0h1m0 0h1m0 0h1m0 0h1m1 0h1m5 0h1m-18 1h1m1 0h1m0 0h1m0 0h1m1 0h1m0 0h1m0 0h1m2 0h1m0 0h1m0 0h1m3 0h1m-18 1h1m1 0h1m0 0h1m1 0h1m2 0h1m0 0h1m0 0h1m0 0h1m1 0h1m0 0h1m1 0h1m-14 1h1m2 0h1m0 0h1m0 0h1m2 0h1m0 0h1m-13 1h1m0 0h1m7 0h1m0 0h1m1 0h1m1 0h1m-12 1h1m2 0h1m1 0h1m1 0h1m3 0h1m-13 1h1m3 0h1m2 0h1m0 0h1m0 0h1m1 0h1m0 0h1m1 0h1m-18 1h1m0 0h1m5 0h1m2 0h1m1 0h1m1 0h1m1 0h1m0 0h1m-18 1h1m2 0h1m0 0h1m2 0h1m2 0h1m2 0h1m2 0h1m-15 1h1m2 0h1m0 0h1m1 0h1m0 0h1m0 0h1m2 0h1m2 0h1m-14 1h1m1 0h1m0 0h1m0 0h1m1 0h1m0 0h1m0 0h1m1 0h1m-13 1h1m0 0h1m7 0h1m0 0h1m0 0h1m0 0h1m0 0h1m0 0h1m-13 1h1m1 0h1m0 0h1m4 0h1m1 0h1m0 0h1m-2 1h1m-13 1h1m3 0h1m0 0h1m-6 1h1m5 0h1m1 0h1m0 0h1m-6 1h1m0 0h1m0 0h1m1 0h1m0 0h1m1 0h1m-12 1h1m1 0h1m0 0h1m4 0h1m0 0h1m1 0h1m0 0h1m0 0h1m-13 1h1m0 0h1m4 0h1m-8 1h1m3 0h1m0 0h1m1 0h1m3 0h1m-12 1h1m3 0h1m1 0h1m0 0h1m0 0h1m1 0h1m1 0h1m0 0h1m0 0h1m-15 1h1m0 0h1m0 0h1m0 0h1m1 0h1m1 0h1m1 0h1m3 0h1m0 0h1m0 0h1m-11 1h1m0 0h1m0 0h1m0 0h1m7 0h1m-15 1h1m0 0h1m0 0h1m1 0h1m5 0h1m0 0h1m1 0h1m-15 1h1m0 0h1m2 0h1m0 0h1m0 0h1m0 0h1m1 0h1m1 0h1m-10 1h1m1 0h1m1 0h1m0 0h1m2 0h1m0 0h1m-7 1h1m6 0h1m1 0h1m0 0h1m1 0h1m-11 1h1m1 0h1m2 0h1m3 0h1m-14 1h1m2 0h1m0 0h1m0 0h1m1 0h1m1 0h1m0 0h1m1 0h1m0 0h1m0 0h1m-14 1h1m1 0h1m1 0h1m0 0h1m1 0h1m0 0h1m0 0h1m2 0h1m1 0h1m-13 1h1m0 0h1m6 0h1m2 0h1m0 0h1m-13 1h1m0 0h1m2 0h1m-2 1h1m1 0h1m0 0h1m1 0h1m0 0h1m-5 1h1m1 0h1m1 0h1m-11 1h1m2 0h1m2 0h1m0 0h1m3 0h1m1 0h1m0 0h1m-16 1h1m0 0h1m1 0h1m1 0h1m0 0h1m0 0h1m0 0h1m4 0h1m0 0h1m0 0h1m-16 1h1m0 0h1m4 0h1m0 0h1m5 0h1m-11 1h1m5 0h1m2 0h1m2 0h1m-18 1h1m1 0h1m3 0h1m1 0h1m1 0h1m1 0h1m2 0h1m0 0h1m0 0h1m-18 1h1m1 0h1m1 0h1m0 0h1m1 0h1m0 0h1m6 0h1m1 0h1m-17 1h1m0 0h1m1 0h1m2 0h1m0 0h1m0 0h1m2 0h1m2 0h1m-18 1h1m2 0h1m1 0h1m2 0h1m2 0h1m2 0h1m-13 1h1m0 0h1m8 0h1m-9 1h1m1 0h1m0 0h1m1 0h1m2 0h1m0 0h1m-14 1h1m0 0h1m0 0h1m2 0h1m0 0h1m0 0h1m0 0h1m2 0h1m2 0h1m-11 1h1m1 0h1m3 0h1m1 0h1m1 0h1m-16 1h1m1 0h1m2 0h1m0 0h1m2 0h1m0 0h1m1 0h1m0 0h1m8 0h1m0 0h1m-24 1h1m0 0h1m2 0h1m0 0h1m0 0h1m0 0h1m2 0h1m0 0h1m4 0h1m7 0h1m-24 1h1m4 0h1m1 0h1m4 0h1m1 0h1m0 0h1m2 0h1m2 0h1m0 0h1m0 0h1m0 0h1m0 0h1m16 0h1m0 0h1m0 0h1m-48 1h1m6 0h1m1 0h1m1 0h1m2 0h1m3 0h1m2 0h1m2 0h1m1 0h1m2 0h1m6 0h1m2 0h1m2 0h1m6 0h1m4 0h1m0 0h1m-56 1h1m0 0h1m2 0h1m0 0h1m0 0h1m5 0h1m0 0h1m1 0h1m0 0h1m1 0h1m0 0h1m0 0h1m1 0h1m0 0h1m2 0h1m1 0h1m0 0h1m7 0h1m0 0h1m1 0h1m2 0h1m0 0h1m2 0h1m5 0h1m1 0h1m-54 1h1m1 0h1m1 0h1m0 0h1m1 0h1m5 0h1m1 0h1m0 0h1m0 0h1m4 0h1m1 0h1m1 0h1m2 0h1m3 0h1m1 0h1m2 0h1m3 0h1m1 0h1m2 0h1m1 0h1m3 0h1m1 0h1m-57 1h1m1 0h1m0 0h1m2 0h1m3 0h1m2 0h1m2 0h1m1 0h1m2 0h1m1 0h1m1 0h1m1 0h1m0 0h1m2 0h1m0 0h1m2 0h1m3 0h1m4 0h1m0 0h1m2 0h1m2 0h1m0 0h1m3 0h1m2 0h1m-59 1h1m4 0h1m4 0h1m0 0h1m0 0h1m1 0h1m0 0h1m2 0h1m0 0h1m3 0h1m9 0h1m1 0h1m3 0h1m3 0h1m0 0h1m0 0h1m1 0h1m2 0h1m0 0h1m0 0h1m0 0h1m7 0h1m-56 1h1m4 0h1m0 0h1m0 0h1m0 0h1m4 0h1m3 0h1m1 0h1m1 0h1m1 0h1m1 0h1m0 0h1m1 0h1m0 0h1m1 0h1m0 0h1m0 0h1m0 0h1m8 0h1m0 0h1m0 0h1m0 0h1m0 0h1m2 0h1m0 0h1m0 0h1m0 0h1m1 0h1m0 0h1m0 0h1m-56 1h1m0 0h1m5 0h1m7 0h1m0 0h1m0 0h1m0 0h1m6 0h1m0 0h1m1 0h1m0 0h1m1 0h1m2 0h1m0 0h1m0 0h1m0 0h1m0 0h1m0 0h1m3 0h1m0 0h1m-48 1h1m0 0h1m2 0h1m1 0h1m1 0h1m0 0h1m8 0h1m2 0h1m3 0h1m0 0h1m1 0h1m3 0h1m1 0h1m1 0h1m0 0h1m0 0h1m9 0h1m4 0h1m1 0h1m1 0h1m2 0h1m-60 1h1m1 0h1m2 0h1m0 0h1m0 0h1m0 0h1m0 0h1m8 0h1m3 0h1m0 0h1m2 0h1m2 0h1m1 0h1m0 0h1m1 0h1m0 0h1m14 0h1m0 0h1m2 0h1m0 0h1m-56 1h1m0 0h1m3 0h1m3 0h1m1 0h1m1 0h1m1 0h1m3 0h1m0 0h1m1 0h1m2 0h1m3 0h1m0 0h1m17 0h1m1 0h1m0 0h1m0 0h1m0 0h1m0 0h1m0 0h1m2 0h1m-57 1h1m1 0h1m4 0h1m2 0h1m0 0h1m1 0h1m2 0h1m1 0h1m1 0h1m4 0h1m28 0h1m1 0h1m0 0h1m1 0h1m-62 1h1m0 0h1m3 0h1m0 0h1m1 0h1m0 0h1m0 0h1m1 0h1m2 0h1m0 0h1m4 0h1m2 0h1m33 0h1m1 0h1m-55 1h1m0 0h1m1 0h1m2 0h1m2 0h1m2 0h1m1 0h1m0 0h1m0 0h1m36 0h1m2 0h1m-63 1h1m1 0h1m0 0h1m11 0h1m2 0h1m1 0h1m0 0h1m-22 1h1m3 0h1m0 0h1m0 0h1m0 0h1m2 0h1m0 0h1m4 0h1m0 0h1m42 0h1m1 0h1m-63 1h1m0 0h1m2 0h1m1 0h1m1 0h1m3 0h1m2 0h1m2 0h1m0 0h1m44 0h1m45 0h1m-110 1h1m2 0h1m1 0h1m2 0h1m0 0h1m1 0h1m0 0h1m1 0h1m1 0h1m46 0h1m2 0h1m41 0h1m1 0h1m-106 1h1m0 0h1m3 0h1m5 0h1m45 0h1m0 0h1m1 0h1m1 0h1m41 0h1m-106 1h1m0 0h1m0 0h1m3 0h1m2 0h1m1 0h1m0 0h1m49 0h1m1 0h1m39 0h1m2 0h1m0 0h1m0 0h1m-112 1h1m0 0h1m0 0h1m1 0h1m1 0h1m0 0h1m0 0h1m0 0h1m0 0h1m1 0h1m0 0h1m49 0h1m0 0h1m0 0h1m42 0h1m1 0h1m0 0h1m-111 1h1m0 0h1m0 0h1m1 0h1m0 0h1m2 0h1m0 0h1m0 0h1m0 0h1m48 0h1m0 0h1m45 0h1m3 0h1m-109 1h1m0 0h1m0 0h1m1 0h1m1 0h1m53 0h1m1 0h1m0 0h1m40 0h1m0 0h1m1 0h1m-109 1h1m3 0h1m2 0h1m0 0h1m0 0h1m0 0h1m51 0h1m1 0h1m40 0h1m-105 1h1m0 0h1m1 0h1m1 0h1m1 0h1m0 0h1m49 0h1m2 0h1m0 0h1m41 0h1m1 0h1m-106 1h1m1 0h1m0 0h1m0 0h1m0 0h1m1 0h1m53 0h1m0 0h1m-63 1h1m0 0h1m0 0h1m3 0h1m0 0h1m50 0h1m3 0h1m-62 1h1m0 0h1m1 0h1m0 0h1m0 0h1m1 0h1m50 0h1m-58 1h1m3 0h1m0 0h1m0 0h1m49 0h1m1 0h1m0 0h1m-60 1h1m6 0h1m49 0h1m0 0h1m-58 1h1m0 0h1m2 0h1m49 0h1m0 0h1m-56 1h1m0 0h1m3 0h1m0 0h1m47 0h1m0 0h1m1 0h1m-58 1h1m0 0h1m1 0h1m1 0h1m0 0h1m0 0h1m46 0h1m0 0h1m1 0h1m0 0h1m-56 1h1m0 0h1m2 0h1m0 0h1m45 0h1m-54 1h1m2 0h1m0 0h1m0 0h1m45 0h1m1 0h1m0 0h1m-53 1h1m1 0h1m2 0h1m0 0h1m41 0h1m0 0h1m-49 1h1m1 0h1m2 0h1m0 0h1m39 0h1m0 0h1m2 0h1m0 0h1m-44 1h1m37 0h1m0 0h1m0 0h1m-39 1h1m33 0h1m0 0h1m3 0h1m-45 1h1m2 0h1m0 0h1m1 0h1m0 0h1m30 0h1m4 0h1m0 0h1m-44 1h1m1 0h1m0 0h1m1 0h1m2 0h1m25 0h1m2 0h1m2 0h1m0 0h1m-40 1h1m4 0h1m0 0h1m0 0h1m1 0h1m20 0h1m6 0h1m-36 1h1m2 0h1m5 0h1m23 0h1m-33 1h1m4 0h1m3 0h1m4 0h1m1 0h1m5 0h1m1 0h1m0 0h1m-23 1h1m0 0h1m3 0h1m1 0h1m0 0h1m2 0h1m0 0h1m2 0h1m4 0h1m2 0h1m-17 1h1m0 0h1m4 0h1m2 0h1m-2 1h1m2 0h1" stroke="#3140d2" stroke-width="1.1" fill="none"/>
<path d="M168 58h1m0 0h1m-6 1h1m1 0h1m0 0h1m0 0h1m0 0h1m1 0h1m1 0h1m0 0h1m-12 1h1m1 0h1m0 0h1m0 0h1m0 0h1m0 0h1m2 0h1m0 0h1m0 0h1m0 0h1m0 0h1m-16 1h1m1 0h1m10 0h1m4 0h1m-20 1h1m0 0h1m0 0h1m13 0h1m0 0h1m0 0h1m0 0h1m-21 1h1m0 0h1m18 0h1m1 0h1m0 0h1m-25 1h1m21 0h1m0 0h1m-24 1h1m0 0h1m21 0h1m0 0h1m0 0h1m0 0h1m-28 1h1m1 0h1m21 0h1m1 0h1m-26 1h1m23 0h1m0 0h1m0 0h1m0 0h1m0 0h1m-30 1h1m25 0h1m1 0h1m0 0h1m-32 1h1m1 0h1m26 0h1m0 0h1m0 0h1m0 0h1m-32 1h1m27 0h1m0 0h1m0 0h1m17 0h1m0 0h1m0 0h1m-53 1h1m0 0h1m30 0h1m0 0h1m16 0h1m1 0h1m-53 1h1m0 0h1m29 0h1m0 0h1m1 0h1m0 0h1m14 0h1m1 0h1m-52 1h1m29 0h1m0 0h1m1 0h1m0 0h1m0 0h1m0 0h1m0 0h1m1 0h1m10 0h1m0 0h1m-54 1h1m1 0h1m31 0h1m1 0h1m2 0h1m0 0h1m0 0h1m-41 1h1m0 0h1m29 0h1m0 0h1m0 0h1m1 0h1m2 0h1m0 0h1m0 0h1m0 0h1m-41 1h1m30 0h1m0 0h1m2 0h1m2 0h1m1 0h1m-42 1h1m0 0h1m29 0h1m3 0h1m0 0h1m1 0h1m0 0h1m0 0h1m-41 1h1m30 0h1m0 0h1m0 0h1m0 0h1m0 0h1m0 0h1m1 0h1m1 0h1m-41 1h1m0 0h1m29 0h1m0 0h1m2 0h1m0 0h1m1 0h1m0 0h1m-40 1h1m30 0h1m0 0h1m0 0h1m0 0h1m2 0h1m-37 1h1m29 0h1m0 0h1m1 0h1m0 0h1m0 0h1m1 0h1m0 0h1m-38 1h1m29 0h1m1 0h1m0 0h1m-35 1h1m0 0h1m29 0h1m0 0h1m1 0h1m0 0h1m-36 1h1m1 0h1m26 0h1m1 0h1m0 0h1m1 0h1m1 0h1m-36 1h1m0 0h1m0 0h1m25 0h1m0 0h1m0 0h1m1 0h1m0 0h1m0 0h1m-34 1h1m0 0h1m25 0h1m0 0h1m1 0h1m2 0h1m-34 1h1m25 0h1m0 0h1m0 0h1m0 0h1m0 0h1m0 0h1m-29 1h1m0 0h1m20 0h1m0 0h1m0 0h1m-26 1h1m1 0h1m18 0h1m0 0h1m0 0h1m0 0h1m0 0h1m1 0h1m-26 1h1m1 0h1m14 0h1m0 0h1m0 0h1m0 0h1m0 0h1m2 0h1m-24 1h1m0 0h1m0 0h1m12 0h1m3 0h1m0 0h1m0 0h1m0 0h1m-22 1h1m0 0h1m0 0h1m9 0h1m0 0h1m2 0h1m1 0h1m0 0h1m-20 1h1m0 0h1m2 0h1m0 0h1m1 0h1m1 0h1m0 0h1m0 0h1m0 0h1m0 0h1m-13 1h1m1 0h1m1 0h1m1 0h1m0 0h1m0 0h1m0 0h1m0 0h1m1 0h1m0 0h1m-12 1h1m0 0h1m1 0h1m4 0h1m0 0h1m0 0h1m-5 1h1m1 0h1m1 0h1m-6 1h1m0 0h1m0 0h1m0 0h1m-3 1h1m0 0h1m-1 2h1m0 0h1m-1 1h1m-2 1h1m-2 1h1m0 0h1m38 57h1m-3 1h1m0 0h1m1 0h1m-5 1h1m0 0h1m0 0h1m0 0h1m0 0h1m1 0h1m-15 1h1m3 0h1m3 0h1m0 0h1m0 0h1m0 0h1m0 0h1m0 0h1m0 0h1m-19 1h1m0 0h1m0 0h1m0 0h1m3 0h1m0 0h1m0 0h1m0 0h1m0 0h1m1 0h1m0 0h1m0 0h1m0 0h1m0 0h1m6 0h1m-28 1h1m2 0h1m0 0h1m1 0h1m2 0h1m0 0h1m0 0h1m7 0h1m0 0h1m0 0h1m0 0h1m1 0h1m1 0h1m0 0h1m0 0h1m0 0h1m1 0h1m0 0h1m-35 1h1m0 0h1m1 0h1m0 0h1m0 0h1m18 0h1m1 0h1m0 0h1m1 0h1m0 0h1m0 0h1m1 0h1m0 0h1m-35 1h1m0 0h1m1 0h1m0 0h1m1 0h1m25 0h1m0 0h1m0 0h1m0 0h1m-37 1h1m2 0h1m0 0h1m31 0h1m-39 1h1m1 0h1m0 0h1m34 0h1m0 0h1m-41 1h1m0 0h1m0 0h1m1 0h1m0 0h1m34 0h1m0 0h1m-42 1h1m0 0h1m0 0h1m0 0h1m0 0h1m35 0h1m1 0h1m-43 1h1m0 0h1m0 0h1m0 0h1m37 0h1m0 0h1m0 0h1m-42 1h1m0 0h1m38 0h1m0 0h1m-43 1h1m40 0h1m0 0h1m-46 1h1m0 0h1m0 0h1m0 0h1m41 0h1m-45 1h1m2 0h1m41 0h1m0 0h1m-48 1h1m0 0h1m1 0h1m42 0h1m-47 1h1m0 0h1m0 0h1m45 0h1m-47 1h1m0 0h1m42 0h1m0 0h1m-48 1h1m1 0h1m42 0h1m0 0h1m0 0h1m0 0h1m-47 1h1m0 0h1m0 0h1m40 0h1m2 0h1m-48 1h1m0 0h1m0 0h1m42 0h1m0 0h1m-47 1h1m1 0h1m0 0h1m39 0h1m1 0h1m0 0h1m-46 1h1m1 0h1m0 0h1m39 0h1m0 0h1m-42 1h1m38 0h1m0 0h1m0 0h1m-42 1h1m0 0h1m35 0h1m2 0h1m0 0h1m-43 1h1m0 0h1m0 0h1m35 0h1m0 0h1m1 0h1m-41 1h1m0 0h1m1 0h1m33 0h1m0 0h1m-37 1h1m2 0h1m29 0h1m2 0h1m-37 1h1m1 0h1m0 0h1m0 0h1m27 0h1m0 0h1m0 0h1m-30 1h1m24 0h1m0 0h1m0 0h1m1 0h1m-30 1h1m1 0h1m0 0h1m0 0h1m18 0h1m1 0h1m0 0h1m0 0h1m-27 1h1m1 0h1m0 0h1m1 0h1m16 0h1m0 0h1m-21 1h1m3 0h1m2 0h1m0 0h1m1 0h1m3 0h1m0 0h1m0 0h1m2 0h1m-16 1h1m1 0h1m0 0h1m0 0h1m1 0h1m1 0h1m1 0h1m0 0h1m0 0h1m0 0h1m-8 1h1m0 0h1m2 0h1" stroke="#2b44cb" stroke-width="1.1" fill="none"/>
<path d="M166 61h1m1 0h1m0 0h1m1 0h1m0 0h1m-9 1h1m0 0h1m0 0h1m1 0h1m0 0h1m0 0h1m0 0h1m0 0h1m0 0h1m-12 1h1m0 0h1m0 0h1m0 0h1m7 0h1m0 0h1m0 0h1m0 0h1m0 0h1m-17 1h1m0 0h1m0 0h1m11 0h1m0 0h1m0 0h1m-18 1h1m0 0h1m15 0h1m0 0h1m0 0h1m-20 1h1m0 0h1m17 0h1m0 0h1m-22 1h1m19 0h1m0 0h1m-23 1h1m1 0h1m19 0h1m0 0h1m0 0h1m-2 1h1m0 0h1m0 0h1m-27 1h1m0 0h1m23 0h1m0 0h1m-27 1h1m0 0h1m23 0h1m0 0h1m0 0h1m-29 1h1m0 0h1m25 0h1m0 0h1m-29 1h1m0 0h1m24 0h1m0 0h1m0 0h1m-29 1h1m0 0h1m25 0h1m0 0h1m-2 1h1m0 0h1m-29 1h1m25 0h1m0 0h1m-28 1h1m0 0h1m24 0h1m-26 1h1m24 0h1m0 0h1m0 0h1m-29 1h1m0 0h1m25 0h1m0 0h1m-29 1h1m0 0h1m25 0h1m0 0h1m-28 1h1m0 0h1m22 0h1m0 0h1m0 0h1m-27 1h1m0 0h1m23 0h1m0 0h1m-27 1h1m0 0h1m0 0h1m20 0h1m0 0h1m0 0h1m0 0h1m0 0h1m-27 1h1m0 0h1m20 0h1m0 0h1m0 0h1m0 0h1m-25 1h1m0 0h1m0 0h1m17 0h1m2 0h1m0 0h1m-24 1h1m0 0h1m16 0h1m0 0h1m0 0h1m0 0h1m0 0h1m-22 1h1m1 0h1m0 0h1m12 0h1m0 0h1m0 0h1m0 0h1m1 0h1m-20 1h1m12 0h1m0 0h1m0 0h1m1 0h1m0 0h1m-18 1h1m0 0h1m8 0h1m0 0h1m0 0h1m1 0h1m0 0h1m-16 1h1m0 0h1m0 0h1m0 0h1m3 0h1m1 0h1m0 0h1m0 0h1m0 0h1m0 0h1m-12 1h1m0 0h1m1 0h1m0 0h1m0 0h1m0 0h1m0 0h1m0 0h1m0 0h1m-10 1h1m0 0h1m1 0h1m0 0h1m0 0h1m0 0h1m34 73h1m0 0h1m3 0h1m-12 1h1m0 0h1m0 0h1m0 0h1m1 0h1m0 0h1m1 0h1m3 0h1m0 0h1m0 0h1m-17 1h1m0 0h1m0 0h1m0 0h1m0 0h1m0 0h1m0 0h1m5 0h1m0 0h1m0 0h1m0 0h1m0 0h1m2 0h1m1 0h1m0 0h1m0 0h1m0 0h1m-27 1h1m0 0h1m2 0h1m0 0h1m12 0h1m1 0h1m1 0h1m0 0h1m0 0h1m0 0h1m0 0h1m-28 1h1m0 0h1m0 0h1m0 0h1m0 0h1m23 0h1m1 0h1m-33 1h1m0 0h1m0 0h1m0 0h1m0 0h1m27 0h1m-34 1h1m0 0h1m0 0h1m0 0h1m0 0h1m28 0h1m0 0h1m-36 1h1m0 0h1m0 0h1m0 0h1m0 0h1m30 0h1m0 0h1m-37 1h1m0 0h1m0 0h1m0 0h1m33 0h1m-38 1h1m0 0h1m0 0h1m0 0h1m32 0h1m0 0h1m-39 1h1m0 0h1m0 0h1m0 0h1m34 0h1m0 0h1m-40 1h1m1 0h1m35 0h1m0 0h1m-40 1h1m0 0h1m0 0h1m35 0h1m0 0h1m-41 1h1m0 0h1m0 0h1m36 0h1m0 0h1m-40 1h1m0 0h1m36 0h1m0 0h1m0 0h1m-42 1h1m1 0h1m0 0h1m34 0h1m0 0h1m0 0h1m-39 1h1m0 0h1m34 0h1m1 0h1m-40 1h1m0 0h1m0 0h1m33 0h1m0 0h1m0 0h1m0 0h1m-40 1h1m0 0h1m0 0h1m33 0h1m1 0h1m-37 1h1m0 0h1m31 0h1m0 0h1m0 0h1m-37 1h1m0 0h1m0 0h1m0 0h1m30 0h1m0 0h1m0 0h1m-36 1h1m1 0h1m0 0h1m28 0h1m0 0h1m0 0h1m-34 1h1m0 0h1m0 0h1m0 0h1m29 0h1m-32 1h1m0 0h1m0 0h1m25 0h1m0 0h1m-28 1h1m0 0h1m22 0h1m0 0h1m0 0h1m0 0h1m-27 1h1m0 0h1m0 0h1m21 0h1m-24 1h1m1 0h1m0 0h1m15 0h1m0 0h1m-17 1h1m0 0h1m2 0h1m0 0h1m0 0h1m5 0h1m1 0h1m0 0h1m0 0h1m-14 1h1m1 0h1m1 0h1m0 0h1m0 0h1m0 0h1m0 0h1m0 0h1m0 0h1m0 0h1m-6 1h1m0 0h1m0 0h1" stroke="#2657ca" stroke-width="1.1" fill="none"/>
<path d="M166 63h1m0 0h1m0 0h1m0 0h1m0 0h1m0 0h1m0 0h1m-9 1h1m0 0h1m0 0h1m0 0h1m0 0h1m0 0h1m0 0h1m0 0h1m0 0h1m0 0h1m0 0h1m-12 1h1m0 0h1m0 0h1m8 0h1m0 0h1m0 0h1m-14 1h1m0 0h1m10 0h1m1 0h1m-17 1h1m1 0h1m13 0h1m0 0h1m-18 1h1m0 0h1m16 0h1m-20 1h1m0 0h1m18 0h1m-22 1h1m0 0h1m0 0h1m17 0h1m0 0h1m0 0h1m-23 1h1m0 0h1m19 0h1m-23 1h1m0 0h1m0 0h1m19 0h1m0 0h1m-23 1h1m-1 1h1m21 0h1m-24 1h1m0 0h1m21 0h1m-24 1h1m22 0h1m-24 1h1m-1 1h1m0 0h1m20 0h1m0 0h1m-24 1h1m0 0h1m20 0h1m0 0h1m-24 1h1m0 0h1m19 0h1m0 0h1m0 0h1m-3 1h1m0 0h1m-22 1h1m0 0h1m0 0h1m16 0h1m0 0h1m0 0h1m-21 1h1m0 0h1m0 0h1m14 0h1m0 0h1m0 0h1m-19 1h1m0 0h1m0 0h1m12 0h1m0 0h1m0 0h1m0 0h1m-18 1h1m0 0h1m0 0h1m12 0h1m-15 1h1m0 0h1m0 0h1m9 0h1m0 0h1m0 0h1m-12 1h1m0 0h1m5 0h1m0 0h1m0 0h1m0 0h1m-12 1h1m0 0h1m0 0h1m0 0h1m0 0h1m0 0h1m0 0h1m1 0h1m0 0h1m0 0h1m-10 1h1m0 0h1m0 0h1m1 0h1m1 0h1m0 0h1m-6 1h1m1 0h1m35 77h1m0 0h1m0 0h1m0 0h1m0 0h1m-8 1h1m0 0h1m0 0h1m0 0h1m0 0h1m0 0h1m0 0h1m0 0h1m0 0h1m0 0h1m0 0h1m0 0h1m-13 1h1m0 0h1m0 0h1m0 0h1m6 0h1m0 0h1m0 0h1m0 0h1m1 0h1m1 0h1m0 0h1m0 0h1m0 0h1m-24 1h1m0 0h1m0 0h1m0 0h1m13 0h1m0 0h1m0 0h1m0 0h1m0 0h1m0 0h1m0 0h1m1 0h1m-27 1h1m0 0h1m0 0h1m22 0h1m0 0h1m0 0h1m-29 1h1m0 0h1m0 0h1m24 0h1m0 0h1m0 0h1m-30 1h1m0 0h1m26 0h1m0 0h1m0 0h1m-32 1h1m29 0h1m0 0h1m-33 1h1m0 0h1m0 0h1m28 0h1m0 0h1m0 0h1m-35 1h1m0 0h1m31 0h1m0 0h1m-35 1h1m0 0h1m0 0h1m30 0h1m-34 1h1m0 0h1m30 0h1m0 0h1m0 0h1m-36 1h1m0 0h1m0 0h1m30 0h1m1 0h1m-4 1h1m0 0h1m0 0h1m-34 1h1m0 0h1m0 0h1m28 0h1m0 0h1m-33 1h1m0 0h1m0 0h1m27 0h1m-30 1h1m1 0h1m26 0h1m0 0h1m0 0h1m-32 1h1m0 0h1m0 0h1m26 0h1m0 0h1m-30 1h1m0 0h1m0 0h1m24 0h1m0 0h1m0 0h1m-29 1h1m0 0h1m0 0h1m23 0h1m0 0h1m-27 1h1m0 0h1m0 0h1m21 0h1m0 0h1m0 0h1m-26 1h1m0 0h1m0 0h1m18 0h1m0 0h1m0 0h1m-23 1h1m0 0h1m0 0h1m0 0h1m15 0h1m0 0h1m0 0h1m-19 1h1m1 0h1m0 0h1m0 0h1m8 0h1m0 0h1m0 0h1m1 0h1m-16 1h1m0 0h1m1 0h1m0 0h1m0 0h1m0 0h1m0 0h1m0 0h1m0 0h1m1 0h1m0 0h1m-7 1h1m0 0h1m0 0h1m0 0h1m0 0h1" stroke="#2179cf" stroke-width="1.1" fill="none"/>
<path d="M166 65h1m0 0h1m0 0h1m0 0h1m0 0h1m0 0h1m0 0h1m0 0h1m-9 1h1m0 0h1m0 0h1m0 0h1m0 0h1m0 0h1m0 0h1m0 0h1m0 0h1m0 0h1m-11 1h1m0 0h1m0 0h1m7 0h1m1 0h1m-13 1h1m0 0h1m10 0h1m0 0h1m-16 1h1m0 0h1m0 0h1m12 0h1m-16 1h1m0 0h1m14 0h1m-18 1h1m0 0h1m15 0h1m0 0h1m-19 1h1m0 0h1m16 0h1m-20 1h1m0 0h1m17 0h1m0 0h1m-21 1h1m0 0h1m17 0h1m0 0h1m-21 1h1m0 0h1m17 0h1m0 0h1m-22 1h1m0 0h1m18 0h1m0 0h1m-22 1h1m0 0h1m18 0h1m0 0h1m-21 1h1m18 0h1m-20 1h1m0 0h1m16 0h1m-19 1h1m16 0h1m0 0h1m-18 1h1m14 0h1m0 0h1m0 0h1m-17 1h1m0 0h1m11 0h1m1 0h1m-14 1h1m0 0h1m9 0h1m0 0h1m-12 1h1m0 0h1m7 0h1m0 0h1m-11 1h1m0 0h1m0 0h1m0 0h1m3 0h1m0 0h1m0 0h1m-9 1h1m0 0h1m0 0h1m0 0h1m0 0h1m0 0h1m0 0h1m0 0h1m0 0h1m-7 1h1m0 0h1m0 0h1m0 0h1m0 0h1m33 82h1m0 0h1m0 0h1m0 0h1m0 0h1m0 0h1m-9 1h1m1 0h1m0 0h1m0 0h1m0 0h1m0 0h1m0 0h1m0 0h1m1 0h1m0 0h1m-14 1h1m0 0h1m0 0h1m0 0h1m0 0h1m7 0h1m0 0h1m0 0h1m0 0h1m0 0h1m0 0h1m0 0h1m0 0h1m0 0h1m0 0h1m-21 1h1m14 0h1m0 0h1m0 0h1m1 0h1m0 0h1m0 0h1m-25 1h1m0 0h1m0 0h1m19 0h1m0 0h1m0 0h1m0 0h1m-27 1h1m0 0h1m0 0h1m22 0h1m0 0h1m0 0h1m-27 1h1m23 0h1m0 0h1m0 0h1m-28 1h1m24 0h1m0 0h1m0 0h1m0 0h1m-30 1h1m0 0h1m24 0h1m0 0h1m0 0h1m0 0h1m-31 1h1m0 0h1m0 0h1m25 0h1m0 0h1m-30 1h1m1 0h1m24 0h1m0 0h1m0 0h1m-30 1h1m0 0h1m0 0h1m25 0h1m-28 1h1m0 0h1m23 0h1m0 0h1m0 0h1m-28 1h1m0 0h1m23 0h1m0 0h1m-26 1h1m0 0h1m22 0h1m0 0h1m-26 1h1m0 0h1m0 0h1m20 0h1m0 0h1m0 0h1m-25 1h1m0 0h1m0 0h1m19 0h1m0 0h1m-22 1h1m0 0h1m17 0h1m0 0h1m0 0h1m-22 1h1m0 0h1m0 0h1m0 0h1m13 0h1m0 0h1m0 0h1m0 0h1m-20 1h1m0 0h1m0 0h1m0 0h1m0 0h1m0 0h1m9 0h1m0 0h1m0 0h1m-16 1h1m0 0h1m0 0h1m0 0h1m0 0h1m0 0h1m0 0h1m0 0h1m0 0h1m0 0h1m0 0h1m0 0h1m0 0h1m0 0h1m0 0h1m-11 1h1m0 0h1m0 0h1m0 0h1m1 0h1m0 0h1m0 0h1" stroke="#219bc6" stroke-width="1.1" fill="none"/>
<path d="M167 67h1m0 0h1m0 0h1m0 0h1m1 0h1m0 0h1m-8 1h1m0 0h1m0 0h1m0 0h1m0 0h1m0 0h1m0 0h1m0 0h1m0 0h1m0 0h1m-11 1h1m0 0h1m0 0h1m7 0h1m0 0h1m-13 1h1m0 0h1m10 0h1m-14 1h1m0 0h1m0 0h1m11 0h1m-14 1h1m12 0h1m0 0h1m-17 1h1m0 0h1m13 0h1m0 0h1m-17 1h1m0 0h1m14 0h1m-17 1h1m0 0h1m14 0h1m-18 1h1m0 0h1m15 0h1m-18 1h1m0 0h1m14 0h1m0 0h1m-18 1h1m0 0h1m14 0h1m0 0h1m-17 1h1m0 0h1m12 0h1m0 0h1m-16 1h1m0 0h1m0 0h1m10 0h1m0 0h1m-14 1h1m0 0h1m0 0h1m8 0h1m0 0h1m-12 1h1m0 0h1m0 0h1m6 0h1m0 0h1m-9 1h1m0 0h1m4 0h1m0 0h1m0 0h1m-8 1h1m0 0h1m0 0h1m0 0h1m0 0h1m0 0h1m0 0h1m-5 1h1m0 0h1m0 0h1m34 86h1m0 0h1m0 0h1m0 0h1m0 0h1m0 0h1m0 0h1m-10 1h1m0 0h1m0 0h1m0 0h1m0 0h1m0 0h1m0 0h1m0 0h1m0 0h1m1 0h1m0 0h1m0 0h1m0 0h1m-15 1h1m0 0h1m0 0h1m0 0h1m7 0h1m0 0h1m1 0h1m0 0h1m0 0h1m0 0h1m0 0h1m-20 1h1m0 0h1m13 0h1m0 0h1m0 0h1m0 0h1m0 0h1m0 0h1m0 0h1m-23 1h1m0 0h1m16 0h1m0 0h1m1 0h1m0 0h1m-24 1h1m0 0h1m18 0h1m0 0h1m0 0h1m0 0h1m-24 1h1m0 0h1m19 0h1m0 0h1m0 0h1m-24 1h1m0 0h1m19 0h1m0 0h1m0 0h1m-24 1h1m0 0h1m19 0h1m0 0h1m0 0h1m-24 1h1m0 0h1m19 0h1m0 0h1m0 0h1m-24 1h1m0 0h1m19 0h1m0 0h1m-23 1h1m0 0h1m0 0h1m18 0h1m0 0h1m-22 1h1m0 0h1m0 0h1m16 0h1m0 0h1m0 0h1m-21 1h1m0 0h1m0 0h1m16 0h1m-19 1h1m0 0h1m0 0h1m0 0h1m12 0h1m0 0h1m0 0h1m-18 1h1m1 0h1m1 0h1m8 0h1m0 0h1m0 0h1m0 0h1m-15 1h1m0 0h1m0 0h1m0 0h1m0 0h1m0 0h1m0 0h1m2 0h1m0 0h1m0 0h1m0 0h1m-10 1h1m0 0h1m0 0h1m0 0h1m0 0h1m2 0h1m0 0h1" stroke="#27bbad" stroke-width="1.1" fill="none"/>
<path d="M168 69h1m0 0h1m0 0h1m0 0h1m0 0h1m0 0h1m0 0h1m-8 1h1m0 0h1m0 0h1m0 0h1m0 0h1m0 0h1m0 0h1m0 0h1m0 0h1m-10 1h1m0 0h1m0 0h1m5 0h1m0 0h1m0 0h1m-12 1h1m0 0h1m0 0h1m7 0h1m0 0h1m-12 1h1m0 0h1m9 0h1m-12 1h1m10 0h1m0 0h1m-14 1h1m0 0h1m10 0h1m0 0h1m-15 1h1m0 0h1m11 0h1m0 0h1m-15 1h1m0 0h1m10 0h1m0 0h1m-14 1h1m0 0h1m0 0h1m9 0h1m0 0h1m-13 1h1m0 0h1m8 0h1m0 0h1m-11 1h1m0 0h1m6 0h1m0 0h1m-9 1h1m0 0h1m0 0h1m2 0h1m0 0h1m0 0h1m-7 1h1m0 0h1m0 0h1m0 0h1m0 0h1m0 0h1m-4 1h1m0 0h1m0 0h1m34 90h1m0 0h1m0 0h1m0 0h1m0 0h1m0 0h1m0 0h1m-9 1h1m0 0h1m0 0h1m0 0h1m0 0h1m0 0h1m0 0h1m0 0h1m0 0h1m0 0h1m0 0h1m0 0h1m-14 1h1m0 0h1m0 0h1m0 0h1m0 0h1m0 0h1m4 0h1m0 0h1m0 0h1m0 0h1m0 0h1m0 0h1m-17 1h1m0 0h1m0 0h1m0 0h1m9 0h1m0 0h1m0 0h1m0 0h1m0 0h1m-18 1h1m0 0h1m12 0h1m0 0h1m0 0h1m0 0h1m0 0h1m-19 1h1m0 0h1m13 0h1m0 0h1m0 0h1m0 0h1m-19 1h1m0 0h1m14 0h1m0 0h1m0 0h1m-19 1h1m0 0h1m14 0h1m0 0h1m0 0h1m-19 1h1m0 0h1m0 0h1m13 0h1m0 0h1m0 0h1m-18 1h1m0 0h1m0 0h1m0 0h1m11 0h1m0 0h1m0 0h1m-17 1h1m0 0h1m0 0h1m0 0h1m0 0h1m0 0h1m8 0h1m0 0h1m-15 1h1m0 0h1m0 0h1m0 0h1m0 0h1m0 0h1m6 0h1m0 0h1m0 0h1m-12 1h1m0 0h1m0 0h1m0 0h1m0 0h1m0 0h1m0 0h1m0 0h1m0 0h1m0 0h1m-9 1h1m0 0h1m0 0h1m0 0h1m0 0h1m0 0h1m0 0h1m0 0h1m-4 1h1m0 0h1" stroke="#34c476" stroke-width="1.1" fill="none"/>
<path d="M169 71h1m0 0h1m0 0h1m0 0h1m0 0h1m-6 1h1m0 0h1m0 0h1m0 0h1m0 0h1m0 0h1m0 0h1m-8 1h1m0 0h1m0 0h1m3 0h1m0 0h1m0 0h1m-10 1h1m0 0h1m0 0h1m5 0h1m0 0h1m-10 1h1m0 0h1m6 0h1m0 0h1m-11 1h1m0 0h1m0 0h1m6 0h1m0 0h1m-11 1h1m0 0h1m0 0h1m5 0h1m0 0h1m-9 1h1m0 0h1m4 0h1m0 0h1m0 0h1m-9 1h1m0 0h1m0 0h1m0 0h1m1 0h1m0 0h1m0 0h1m-7 1h1m0 0h1m0 0h1m0 0h1m0 0h1m0 0h1m-4 1h1m0 0h1m37 94h1m0 0h1m0 0h1m0 0h1m-7 1h1m0 0h1m0 0h1m0 0h1m0 0h1m0 0h1m0 0h1m0 0h1m0 0h1m-11 1h1m0 0h1m0 0h1m0 0h1m0 0h1m0 0h1m0 0h1m0 0h1m0 0h1m0 0h1m0 0h1m0 0h1m-12 1h1m0 0h1m0 0h1m0 0h1m0 0h1m0 0h1m0 0h1m0 0h1m0 0h1m0 0h1m0 0h1m0 0h1m0 0h1m-13 1h1m0 0h1m0 0h1m0 0h1m0 0h1m0 0h1m0 0h1m0 0h1m0 0h1m0 0h1m0 0h1m0 0h1m0 0h1m0 0h1m-14 1h1m0 0h1m0 0h1m0 0h1m0 0h1m0 0h1m0 0h1m0 0h1m0 0h1m0 0h1m0 0h1m0 0h1m0 0h1m0 0h1m-13 1h1m0 0h1m0 0h1m0 0h1m0 0h1m0 0h1m0 0h1m0 0h1m0 0h1m0 0h1m0 0h1m0 0h1m0 0h1m-11 1h1m0 0h1m0 0h1m0 0h1m0 0h1m0 0h1m0 0h1m0 0h1m0 0h1m0 0h1m0 0h1m-8 1h1m0 0h1m0 0h1m0 0h1m0 0h1m0 0h1m0 0h1m0 0h1m-7 1h1m0 0h1m0 0h1m0 0h1m0 0h1m0 0h1" stroke="#58c948" stroke-width="1.1" fill="none"/>
<path d="M170 73h1m0 0h1m0 0h1m-4 1h1m0 0h1m0 0h1m0 0h1m0 0h1m-6 1h1m0 0h1m0 0h1m0 0h1m0 0h1m0 0h1m-6 1h1m0 0h1m0 0h1m0 0h1m0 0h1m0 0h1m-6 1h1m0 0h1m0 0h1m0 0h1m0 0h1m-5 1h1m0 0h1m0 0h1m0 0h1m-2 1h1" stroke="#accc30" stroke-width="1.1" fill="none"/>
<path d="M151 174h1m21 1h1m3 4h1m-9 23h1" stroke="#3140d2" stroke-width="1.2" fill="none"/>
<path d="M166 175h1m-13 9h1m21 2h1m-2 3h1m-13 7h1" stroke="#2b44cb" stroke-width="1.2" fill="none"/>
<path d="M159 177h1m13 6h1m-18 3h1m16 2h1m-17 1h1m2 4h1m0 1h1m6 0h1" stroke="#2657ca" stroke-width="1.2" fill="none"/>
<path d="M162 177h1m3 0h1m-7 1h1m9 1h1m-14 3h1m14 1h1m0 2h1m-4 5h1m-12 1h1m7 1h1m-5 1h1m2 0h1" stroke="#2179cf" stroke-width="1.2" fill="none"/>
<path d="M161 178h1m1 0h1m0 0h1m0 0h1m3 2h1m-12 2h1m12 0h1m-14 5h1m12 0h1m-12 3h1m-1 1h1m6 0h1m-4 1h1m0 0h1m0 0h1" stroke="#219bc6" stroke-width="1.2" fill="none"/>
<path d="M162 179h1m-3 1h1m0 0h1m6 0h1m-10 1h1m0 0h1m-3 3h1m12 0h1m-14 1h1m12 0h1m-1 1h1m-2 1h1m-12 1h1m0 1h1m0 1h1m5 0h1m0 0h1m-6 1h1" stroke="#27bbad" stroke-width="1.2" fill="none"/>
<path d="M164 179h1m0 0h1m-4 1h1m4 0h1m-7 1h1m6 0h1m-9 1h1m8 0h1m-11 1h1m10 1h1m-1 1h1m-12 1h1m0 1h1m8 1h1m-9 1h1m5 0h1m0 0h1m-7 1h1m1 0h1m0 0h1m0 0h1" stroke="#34c476" stroke-width="1.2" fill="none"/>
<path d="M163 180h1m0 0h1m-3 1h1m4 0h1m-7 1h1m6 0h1m-9 1h1m8 0h1m-10 1h1m8 0h1m-10 1h1m8 0h1m-10 1h1m8 0h1m-1 1h1m-9 1h1m5 0h1m0 0h1m-7 1h1m0 0h1m0 0h1m0 0h1m0 0h1" stroke="#58c948" stroke-width="1.2" fill="none"/>
<path d="M163 181h1m0 0h1m0 0h1m0 0h1m-5 1h1m4 0h1m-7 1h1m6 0h1m-8 1h1m-1 1h1m-1 1h1m6 0h1m-8 1h1m0 0h1m4 0h1m0 0h1m-7 1h1m0 0h1m0 0h1m0 0h1m0 0h1" stroke="#accc30" stroke-width="1.2" fill="none"/>
<path d="M163 182h1m0 0h1m0 0h1m0 0h1m-5 1h1m4 0h1m-6 1h1m5 0h1m-7 1h1m5 0h1m-7 1h1m4 0h1m-5 1h1m0 0h1m0 0h1m0 0h1" stroke="#dba91d" stroke-width="1.2" fill="none"/>
<path d="M163 183h1m0 0h1m0 0h1m0 0h1m-4 1h1m0 0h1m0 0h1m0 0h1m0 0h1m-5 1h1m0 0h1m0 0h1m0 0h1m0 0h1m-5 1h1m0 0h1m0 0h1m0 0h1" stroke="#e65712" stroke-width="1.2" fill="none"/>
<rect x="155.2" y="127.2" width="88.8" height="74.1" fill="none" stroke="#111" stroke-width="1.5"/>
<line x1="244.5" y1="145.3" x2="297" y2="145.3" stroke="#000" stroke-width="1.6"/>
<path d="M314.7 145.3L296 138.6L296 152Z" fill="#000"/>
<text x="92" y="223.5" font-size="16.5" class="k" textLength="102" lengthAdjust="spacingAndGlyphs" transform="rotate(-90 92 223.5)">CD45-AF700</text>
<line x1="86.7" y1="113" x2="86.7" y2="47" stroke="#000" stroke-width="1.6"/>
<path d="M86.7 29.3L80 48L93.4 48Z" fill="#000"/>
<text x="124.5" y="269.5" font-size="16.5" class="k" textLength="101" lengthAdjust="spacingAndGlyphs">CD31-BV786</text>
<line x1="245.8" y1="259.6" x2="301.5" y2="259.6" stroke="#000" stroke-width="1.6"/>
<path d="M319.5 259.6L300.5 253.1L300.5 266.1Z" fill="#000"/>
<rect x="372.5" y="28.5" width="201.4" height="201" fill="#fff" stroke="#7d7d7d" stroke-width="1.2"/>
<path d="M393.9 229.5v5.5M434.7 229.5v5.5M474.7 229.5v5.5M515.5 229.5v5.5M556 229.5v5.5" stroke="#111" stroke-width="1.3" fill="none"/>
<path d="M406.2 229.5v3.0M413.4 229.5v3.0M418.5 229.5v3.0M422.4 229.5v3.0M425.6 229.5v3.0M428.4 229.5v3.0M430.7 229.5v3.0M432.8 229.5v3.0M446.7 229.5v3.0M453.8 229.5v3.0M458.8 229.5v3.0M462.7 229.5v3.0M465.8 229.5v3.0M468.5 229.5v3.0M470.8 229.5v3.0M472.9 229.5v3.0M487 229.5v3.0M494.2 229.5v3.0M499.3 229.5v3.0M503.2 229.5v3.0M506.4 229.5v3.0M509.2 229.5v3.0M511.5 229.5v3.0M513.6 229.5v3.0M527.7 229.5v3.0M534.8 229.5v3.0M539.9 229.5v3.0M543.8 229.5v3.0M547 229.5v3.0M549.7 229.5v3.0M552.1 229.5v3.0M554.1 229.5v3.0M568.2 229.5v3.0M372.7 229.5v3.0M377.8 229.5v3.0M381.7 229.5v3.0M384.9 229.5v3.0M387.6 229.5v3.0M390 229.5v3.0M392 229.5v3.0" stroke="#222" stroke-width="0.9" fill="none"/>
<text x="395.9" y="246.5" font-size="7.8" text-anchor="middle" fill="#111">10<tspan dy="-3.5" font-size="6.2">1</tspan></text>
<text x="436.7" y="246.5" font-size="7.8" text-anchor="middle" fill="#111">10<tspan dy="-3.5" font-size="6.2">2</tspan></text>
<text x="476.7" y="246.5" font-size="7.8" text-anchor="middle" fill="#111">10<tspan dy="-3.5" font-size="6.2">3</tspan></text>
<text x="517.5" y="246.5" font-size="7.8" text-anchor="middle" fill="#111">10<tspan dy="-3.5" font-size="6.2">4</tspan></text>
<text x="558" y="246.5" font-size="7.8" text-anchor="middle" fill="#111">10<tspan dy="-3.5" font-size="6.2">5</tspan></text>
<path d="M372.5 208h-5.5M372.5 167.5h-5.5M372.5 127.2h-5.5M372.5 86.1h-5.5M372.5 45.9h-5.5" stroke="#111" stroke-width="1.3" fill="none"/>
<path d="M372.5 195.8h-3.0M372.5 188.7h-3.0M372.5 183.6h-3.0M372.5 179.7h-3.0M372.5 176.5h-3.0M372.5 173.8h-3.0M372.5 171.4h-3.0M372.5 169.4h-3.0M372.5 155.4h-3.0M372.5 148.3h-3.0M372.5 143.2h-3.0M372.5 139.3h-3.0M372.5 136.1h-3.0M372.5 133.4h-3.0M372.5 131.1h-3.0M372.5 129h-3.0M372.5 114.8h-3.0M372.5 107.6h-3.0M372.5 102.5h-3.0M372.5 98.5h-3.0M372.5 95.2h-3.0M372.5 92.5h-3.0M372.5 90.1h-3.0M372.5 88h-3.0M372.5 74h-3.0M372.5 66.9h-3.0M372.5 61.9h-3.0M372.5 58h-3.0M372.5 54.8h-3.0M372.5 52.1h-3.0M372.5 49.8h-3.0M372.5 47.7h-3.0M372.5 33.8h-3.0M372.5 229h-3.0M372.5 224h-3.0M372.5 220.1h-3.0M372.5 216.9h-3.0M372.5 214.2h-3.0M372.5 211.9h-3.0M372.5 209.8h-3.0" stroke="#222" stroke-width="0.9" fill="none"/>
<text x="362.5" y="212" font-size="7.8" text-anchor="end" fill="#111">10<tspan dy="-3.5" font-size="6.2">1</tspan></text>
<text x="362.5" y="171.5" font-size="7.8" text-anchor="end" fill="#111">10<tspan dy="-3.5" font-size="6.2">2</tspan></text>
<text x="362.5" y="131.2" font-size="7.8" text-anchor="end" fill="#111">10<tspan dy="-3.5" font-size="6.2">3</tspan></text>
<text x="362.5" y="90.1" font-size="7.8" text-anchor="end" fill="#111">10<tspan dy="-3.5" font-size="6.2">4</tspan></text>
<text x="362.5" y="49.9" font-size="7.8" text-anchor="end" fill="#111">10<tspan dy="-3.5" font-size="6.2">5</tspan></text>
<path d="M475 43h1m52 0h1m-54 4h1m-8 2h1m15 0h1m4 0h1m5 2h1m-24 1h1m31 1h1m-42 1h1m4 0h1m21 1h1m0 0h1m10 1h1m-35 1h1m8 0h1m1 0h1m13 0h1m8 0h1m7 0h1m-39 1h1m11 0h1m28 0h1m-37 1h1m1 0h1m7 0h1m3 0h1m4 0h1m1 0h1m0 0h1m4 0h1m-25 1h1m1 0h1m0 0h1m1 0h1m10 1h1m7 0h1m-28 1h1m1 0h1m3 0h1m17 0h1m9 0h1m-53 1h1m18 0h1m26 0h1m20 0h1m-68 1h1m15 0h1m31 0h1m-37 1h1m37 0h1m3 0h1m-4 1h1m-89 1h1m30 0h1m10 0h1m-6 1h1m9 0h1m2 0h1m52 0h1m-66 1h1m10 0h1m0 0h1m48 0h1m-56 1h1m0 0h1m46 0h1m13 0h1m-64 1h1m0 0h1m1 0h1m43 0h1m-54 1h1m58 0h1m-67 1h1m13 0h1m49 0h1m2 0h1m-55 1h1m0 0h1m51 0h1m11 0h1m-73 1h1m62 0h1m-6 1h1m4 0h1m15 0h1m-94 1h1m2 1h1m5 0h1m9 0h1m-25 1h1m21 0h1m2 0h1m53 0h1m-65 1h1m0 0h1m4 0h1m0 0h1m67 0h1m-81 1h1m9 1h1m0 0h1m60 0h1m12 1h1m-77 1h1m1 0h1m59 0h1m-82 1h1m11 0h1m4 0h1m4 0h1m-12 1h1m4 0h1m1 0h1m1 0h1m70 0h1m5 0h1m-89 1h1m74 0h1m12 0h1m-114 1h1m35 0h1m61 0h1m3 0h1m0 0h1m0 0h1m-75 1h1m69 0h1m-67 1h1m64 0h1m-65 1h1m65 0h1m4 0h1m-85 1h1m84 0h1m-87 1h1m4 0h1m0 0h1m0 0h1m1 0h1m68 0h1m-80 1h1m2 0h1m0 0h1m74 0h1m1 0h1m0 0h1m4 1h1m12 0h1m-95 1h1m4 0h1m71 0h1m7 0h1m-99 1h1m16 0h1m0 0h1m-8 1h1m73 0h1m3 0h1m1 0h1m-78 1h1m70 0h1m0 0h1m-2 1h1m-75 1h1m0 0h1m2 0h1m70 0h1m-85 1h1m6 0h1m2 0h1m1 0h1m0 0h1m70 0h1m1 0h1m4 0h1m-88 1h1m2 0h1m6 0h1m65 0h1m-78 1h1m0 0h1m77 0h1m0 0h1m15 0h1m0 0h1m-96 1h1m8 0h1m67 0h1m-68 1h1m68 0h1m-80 1h1m93 0h1m1 0h1m-113 1h1m115 0h1m-26 1h1m-75 1h1m73 0h1m-77 1h1m6 0h1m3 0h1m65 0h1m2 0h1m-8 1h1m4 0h1m-74 1h1m63 0h1m1 0h1m0 0h1m5 0h1m0 0h1m6 0h1m-14 1h1m2 0h1m6 0h1m-84 1h1m1 0h1m3 0h1m64 0h1m11 0h1m-91 1h1m9 0h1m4 0h1m60 0h1m12 0h1m-80 1h1m0 0h1m3 0h1m58 0h1m12 0h1m0 0h1m0 0h1m-99 1h1m78 0h1m1 0h1m4 0h1m7 0h1m3 0h1m4 0h1m-87 1h1m3 0h1m56 0h1m27 0h1m-20 1h1m-5 1h1m1 0h1m1 0h1m4 0h1m1 0h1m-19 1h1m0 0h1m19 0h1m-110 1h1m19 0h1m69 0h1m6 0h1m3 0h1m7 0h1m-78 2h1m1 0h1m51 0h1m2 0h1m1 0h1m3 0h1m-66 1h1m1 0h1m51 0h1m10 0h1m4 0h1m0 0h1m2 0h1m14 0h1m-95 1h1m56 0h1m0 0h1m2 0h1m5 0h1m20 0h1m-33 1h1m0 0h1m12 0h1m5 0h1m10 0h1m-35 1h1m6 0h1m8 0h1m7 0h1m-92 1h1m16 0h1m3 0h1m44 0h1m-44 1h1m40 0h1m2 0h1m4 0h1m5 0h1m1 0h1m21 0h1m-81 1h1m49 0h1m5 0h1m8 0h1m-72 1h1m62 1h1m6 0h1m-66 1h1m0 0h1m0 0h1m43 0h1m3 0h1m-9 1h1m4 0h1m5 0h1m2 0h1m-56 1h1m47 0h1m2 0h1m-57 1h1m3 0h1m0 0h1m46 0h1m2 0h1m11 0h1m-91 1h1m25 0h1m42 0h1m-53 1h1m3 0h1m0 0h1m2 0h1m44 0h1m7 0h1m-61 1h1m4 0h1m44 0h1m-55 1h1m54 0h1m-52 1h1m4 0h1m2 0h1m41 1h1m4 0h1m4 0h1m-55 1h1m43 0h1m-67 1h1m8 0h1m0 0h1m9 0h1m44 0h1m0 0h1m13 0h1m-17 1h1m0 0h1m2 0h1m1 0h1m-64 1h1m6 0h1m4 0h1m43 0h1m3 0h1m1 0h1m4 0h1m-63 1h1m1 0h1m0 0h1m4 0h1m37 0h1m-48 1h1m5 0h1m39 0h1m-49 1h1m4 0h1m41 0h1m2 0h1m0 0h1m-42 1h1m35 0h1m2 0h1m4 0h1m12 0h1m-61 1h1m46 0h1m8 0h1m-75 1h1m14 0h1m43 0h1m26 0h1m-86 1h1m0 0h1m13 0h1m43 0h1m4 0h1m9 0h1m-58 1h1m43 1h1m6 0h1m2 0h1m-14 1h1m0 0h1m10 0h1m8 0h1m-61 1h1m46 0h1m6 0h1m-66 1h1m49 0h1m17 0h1m-59 1h1m39 0h1m9 0h1m-74 1h1m21 0h1m39 0h1m3 0h1m8 0h1m9 0h1m-76 1h1m4 0h1m0 0h1m44 0h1m6 0h1m-61 1h1m7 0h1m4 0h1m-4 1h1m2 0h1m58 0h1m-63 1h1m40 0h1m1 0h1m2 0h1m-49 1h1m3 0h1m0 0h1m41 0h1m1 0h1m13 0h1m-63 1h1m4 0h1m48 0h1m-59 1h1m45 0h1m1 0h1m-50 1h1m1 0h1m2 0h1m0 0h1m37 0h1m8 0h1m5 0h1m-17 1h1m11 0h1m-63 1h1m49 0h1m7 0h1m-42 1h1m32 0h1m2 0h1m9 0h1m-58 1h1m0 1h1m2 0h1m0 0h1m4 0h1m35 0h1m9 0h1m-51 1h1m37 0h1m11 0h1m-47 1h1m1 0h1m30 0h1m8 0h1m25 0h1m-82 1h1m11 0h1m38 0h1m-53 1h1m47 0h1m17 0h1m-54 1h1m1 0h1m1 0h1m1 0h1m25 0h1m-45 1h1m4 0h1m7 0h1m36 0h1m-45 1h1m5 0h1m3 0h1m2 0h1m29 1h1m-57 1h1m12 0h1m37 0h1m2 0h1m-36 1h1m30 0h1m1 0h1m2 0h1m-36 1h1m2 0h1m26 0h1m2 0h1m-36 1h1m3 0h1m36 0h1m-48 1h1m9 0h1m27 1h1m12 0h1m-58 1h1m15 0h1m26 1h1m0 0h1m2 0h1m-33 1h1m27 0h1m3 0h1m-31 1h1m34 0h1m0 0h1m-36 1h1m24 0h1m3 1h1m-40 1h1m2 0h1m1 0h1m29 0h1m1 0h1m0 0h1m0 0h1m2 0h1m-39 1h1m6 0h1m26 0h1m4 0h1m-49 1h1m3 0h1m6 0h1m1 0h1m30 0h1m-46 1h1m16 0h1m45 0h1m-57 1h1m7 0h1m0 0h1m0 0h1m23 0h1m-45 1h1m46 0h1m-30 1h1m23 0h1m2 0h1m-44 1h1m11 0h1m0 0h1m-1 1h1m2 0h1m22 0h1m0 0h1m0 0h1m5 0h1m2 0h1m-10 1h1m22 0h1m-62 1h1m13 0h1m27 0h1m-31 1h1m3 0h1m1 0h1m0 0h1m25 0h1m-35 1h1m27 0h1m-25 1h1m16 0h1m0 0h1m3 0h1m4 0h1m-25 1h1m0 0h1m0 0h1m6 0h1m0 0h1m0 0h1m11 0h1m-14 1h1m2 0h1m2 0h1m-26 1h1m20 1h1m-18 1h1m2 0h1m9 0h1m3 0h1m4 0h1m-19 1h1m-4 1h1m1 0h1m21 0h1m-23 1h1m2 0h1m11 3h1" stroke="#373cd9" stroke-width="1.1" fill="none"/>
<path d="M488 61h1m1 0h1m-10 2h1m1 0h1m3 0h1m1 0h1m0 0h1m-13 1h1m9 0h1m0 0h1m1 0h1m2 0h1m1 0h1m5 0h1m-24 1h1m1 0h1m6 0h1m3 0h1m2 0h1m0 0h1m3 0h1m0 0h1m0 0h1m0 0h1m3 0h1m-32 1h1m0 0h1m3 0h1m15 0h1m3 0h1m0 0h1m0 0h1m3 0h1m0 0h1m-32 1h1m2 0h1m0 0h1m2 0h1m16 0h1m1 0h1m1 0h1m4 0h1m-36 1h1m4 0h1m0 0h1m21 0h1m3 0h1m1 0h1m-33 1h1m1 0h1m24 0h1m1 0h1m0 0h1m3 0h1m-37 1h1m1 0h1m0 0h1m28 0h1m1 0h1m1 0h1m-39 1h1m0 0h1m1 0h1m30 0h1m0 0h1m-41 1h1m5 0h1m1 0h1m34 0h1m-6 1h1m1 0h1m0 0h1m1 0h1m-43 1h1m1 0h1m0 0h1m0 0h1m33 0h1m5 0h1m-45 1h1m1 0h1m0 0h1m35 0h1m4 0h1m-43 1h1m0 0h1m0 0h1m36 0h1m0 0h1m0 0h1m0 0h1m1 0h1m-45 1h1m38 0h1m0 0h1m2 0h1m-44 1h1m39 0h1m-47 1h1m5 0h1m41 0h1m0 0h1m-46 1h1m1 0h1m41 0h1m1 0h1m-51 1h1m0 0h1m1 0h1m1 0h1m43 0h1m-52 1h1m5 0h1m46 0h1m0 0h1m-55 1h1m2 0h1m-5 1h1m1 0h1m3 0h1m46 0h1m-50 1h1m0 0h1m0 0h1m45 0h1m1 0h1m1 0h1m-57 1h1m51 0h1m2 0h1m-55 1h1m4 0h1m45 0h1m0 0h1m2 0h1m-56 1h1m2 0h1m0 0h1m0 0h1m48 0h1m-55 1h1m0 0h1m1 0h1m0 0h1m48 0h1m-55 1h1m53 0h1m0 0h1m0 0h1m1 0h1m-59 1h1m2 0h1m-6 1h1m5 0h1m49 0h1m1 0h1m-58 1h1m2 0h1m0 0h1m2 0h1m47 0h1m-53 1h1m0 0h1m0 0h1m50 0h1m1 0h1m-62 1h1m0 0h1m3 0h1m0 0h1m52 0h1m-60 1h1m2 0h1m53 0h1m1 0h1m0 0h1m-62 1h1m0 0h1m2 0h1m0 0h1m0 0h1m-5 1h1m2 0h1m0 0h1m51 0h1m0 0h1m-60 1h1m1 0h1m1 0h1m1 0h1m50 0h1m-56 1h1m1 0h1m3 0h1m49 0h1m0 0h1m-60 1h1m1 0h1m1 0h1m2 0h1m-9 1h1m1 0h1m0 0h1m0 0h1m6 0h1m45 0h1m0 0h1m1 0h1m-61 1h1m5 0h1m0 0h1m0 0h1m2 0h1m47 0h1m-57 1h1m2 0h1m3 0h1m0 0h1m-11 1h1m1 0h1m1 0h1m1 0h1m0 0h1m48 0h1m0 0h1m0 0h1m1 0h1m-54 1h1m48 0h1m-58 1h1m0 0h1m0 0h1m1 0h1m0 0h1m0 0h1m47 0h1m3 0h1m1 0h1m-58 1h1m1 0h1m0 0h1m46 0h1m0 0h1m0 0h1m1 0h1m0 0h1m2 0h1m-61 1h1m4 0h1m46 0h1m1 0h1m3 0h1m-61 1h1m60 0h1m-63 1h1m3 0h1m1 0h1m0 0h1m0 0h1m44 0h1m2 0h1m3 0h1m-61 1h1m0 1h1m3 0h1m1 0h1m0 0h1m-10 1h1m1 0h1m1 0h1m1 0h1m3 0h1m-11 1h1m0 0h1m3 0h1m0 0h1m34 0h1m7 0h1m1 0h1m0 0h1m-53 1h1m0 0h1m35 0h1m6 0h1m1 0h1m0 0h1m0 0h1m-44 1h1m0 0h1m0 0h1m1 0h1m0 0h1m26 0h1m0 0h1m8 0h1m0 0h1m1 0h1m-51 1h1m31 0h1m4 0h1m0 0h1m0 0h1m0 0h1m0 0h1m2 0h1m2 0h1m-45 1h1m0 0h1m3 0h1m21 0h1m4 0h1m2 0h1m2 0h1m0 0h1m0 0h1m2 0h1m-46 1h1m1 0h1m29 0h1m0 0h1m3 0h1m4 0h1m2 0h1m1 0h1m-49 1h1m0 0h1m0 0h1m24 0h1m0 0h1m4 0h1m6 0h1m0 0h1m2 0h1m2 0h1m-49 1h1m2 0h1m1 0h1m22 0h1m2 0h1m2 0h1m1 0h1m0 0h1m8 0h1m0 0h1m-50 1h1m0 0h1m3 0h1m0 0h1m24 0h1m1 0h1m2 0h1m7 0h1m-43 1h1m0 0h1m28 0h1m9 0h1m0 0h1m1 0h1m1 0h1m-48 1h1m0 0h1m3 0h1m1 0h1m24 0h1m1 0h1m2 0h1m2 0h1m1 0h1m1 0h1m-40 1h1m1 0h1m24 0h1m1 0h1m0 0h1m2 0h1m0 0h1m-41 1h1m0 0h1m2 0h1m2 0h1m0 0h1m2 0h1m0 0h1m29 0h1m-39 1h1m3 0h1m3 0h1m24 0h1m0 0h1m4 0h1m-41 1h1m0 0h1m1 0h1m2 0h1m0 0h1m2 0h1m0 0h1m20 0h1m0 0h1m0 0h1m1 0h1m-39 1h1m0 0h1m2 0h1m3 0h1m1 0h1m1 0h1m20 0h1m-35 1h1m5 0h1m0 0h1m0 0h1m1 0h1m21 0h1m0 0h1m4 0h1m-37 1h1m0 0h1m2 0h1m1 0h1m1 0h1m23 0h1m0 0h1m0 0h1m-34 1h1m2 0h1m0 0h1m0 0h1m0 0h1m0 0h1m25 0h1m-35 1h1m1 0h1m1 0h1m3 0h1m21 0h1m0 0h1m1 0h1m2 0h1m0 0h1m-39 1h1m4 0h1m0 0h1m2 0h1m11 0h1m8 0h1m3 0h1m0 0h1m0 0h1m-29 1h1m0 0h1m15 0h1m0 0h1m1 0h1m0 0h1m0 0h1m1 0h1m1 0h1m0 0h1m-34 1h1m0 0h1m4 0h1m16 0h1m1 0h1m1 0h1m1 0h1m2 0h1m-35 1h1m2 0h1m0 0h1m4 0h1m10 0h1m1 0h1m2 0h1m5 0h1m-31 1h1m2 0h1m4 0h1m10 0h1m5 0h1m2 0h1m3 0h1m0 0h1m-32 1h1m4 0h1m13 0h1m0 0h1m1 0h1m2 0h1m0 0h1m3 0h1m-38 1h1m2 0h1m0 0h1m1 0h1m3 0h1m0 0h1m15 0h1m0 0h1m2 0h1m0 0h1m0 0h1m3 0h1m1 0h1m-40 1h1m1 0h1m3 0h1m3 0h1m18 0h1m1 0h1m3 0h1m0 0h1m0 0h1m-38 1h1m2 0h1m2 0h1m1 0h1m1 0h1m20 0h1m1 0h1m4 0h1m-39 1h1m5 0h1m1 0h1m18 0h1m9 0h1m0 0h1m0 0h1m0 0h1m-37 1h1m3 0h1m1 0h1m17 0h1m5 0h1m1 0h1m-33 1h1m1 0h1m0 0h1m0 0h1m0 0h1m0 0h1m0 0h1m15 0h1m0 0h1m0 0h1m1 0h1m0 0h1m1 0h1m-37 1h1m4 0h1m0 0h1m2 0h1m16 0h1m0 0h1m0 0h1m1 0h1m1 0h1m-31 1h1m0 0h1m18 0h1m1 0h1m0 0h1m2 0h1m0 0h1m4 0h1m-37 1h1m3 0h1m2 0h1m3 0h1m12 0h1m6 0h1m-30 1h1m2 0h1m1 0h1m0 0h1m0 0h1m11 0h1m2 0h1m-22 1h1m2 0h1m0 0h1m14 0h1m5 0h1m0 0h1m1 0h1m-24 1h1m10 0h1m0 0h1m1 0h1m1 0h1m0 0h1m1 0h1m0 0h1m2 0h1m-33 1h1m2 0h1m1 0h1m14 0h1m2 0h1m0 0h1m8 0h1m-34 1h1m0 0h1m0 0h1m23 0h1m3 0h1m-31 1h1m4 0h1m0 0h1m11 0h1m0 0h1m0 0h1m0 0h1m5 0h1m3 0h1m0 0h1m2 0h1m-36 1h1m1 0h1m1 0h1m1 0h1m13 0h1m2 0h1m2 0h1m0 0h1m4 0h1m0 0h1m-14 1h1m1 0h1m1 0h1m0 0h1m0 0h1m4 0h1m-33 1h1m18 0h1m3 0h1m0 0h1m2 0h1m5 0h1m0 0h1m0 0h1m0 0h1m-36 1h1m1 0h1m16 0h1m1 0h1m0 0h1m2 0h1m5 0h1m4 0h1m-36 1h1m2 0h1m0 0h1m13 0h1m1 0h1m0 0h1m3 0h1m4 0h1m1 0h1m0 0h1m-36 1h1m3 0h1m0 0h1m16 0h1m5 0h1m0 0h1m3 0h1m1 0h1m0 0h1m-35 1h1m2 0h1m14 0h1m2 0h1m8 0h1m-32 1h1m0 0h1m2 0h1m14 0h1m14 0h1m-38 1h1m0 0h1m1 0h1m0 0h1m1 0h1m1 0h1m0 0h1m16 0h1m1 0h1m3 0h1m0 0h1m1 0h1m-32 1h1m3 0h1m19 0h1m0 0h1m0 0h1m2 0h1m1 0h1m-37 1h1m0 0h1m1 0h1m0 0h1m4 0h1m15 0h1m0 0h1m0 0h1m6 0h1m-28 1h1m1 0h1m2 0h1m14 0h1m1 0h1m2 0h1m-31 1h1m0 0h1m4 0h1m2 0h1m11 0h1m3 0h1m0 0h1m0 0h1m-28 1h1m1 0h1m6 0h1m0 0h1m0 0h1m10 0h1m0 0h1m5 0h1m-25 1h1m1 0h1m12 0h1m1 0h1m1 0h1m0 0h1m-25 1h1m2 0h1m2 0h1m2 0h1m11 0h1m1 0h1m0 0h1m2 0h1m0 0h1m-29 1h1m1 0h1m0 0h1m1 0h1m1 0h1m1 0h1m7 0h1m1 0h1m0 0h1m1 0h1m0 0h1m1 0h1m-23 1h1m1 0h1m3 0h1m0 0h1m0 0h1m5 0h1m0 0h1m6 0h1m1 0h1m0 0h1m-29 1h1m1 0h1m3 0h1m0 0h1m2 0h1m0 0h1m0 0h1m1 0h1m0 0h1m3 0h1m4 0h1m-25 1h1m1 0h1m0 0h1m0 0h1m1 0h1m0 0h1m0 0h1m3 0h1m0 0h1m2 0h1m5 0h1m0 0h1m1 0h1m0 0h1m-27 1h1m1 0h1m12 0h1m2 0h1m0 0h1m-20 1h1m6 0h1m0 0h1m5 0h1m1 0h1m6 0h1m1 0h1m1 0h1m-21 1h1m0 0h1m2 0h1m5 0h1m2 0h1m0 0h1m2 0h1m1 0h1m-26 1h1m1 0h1m4 0h1m0 0h1m0 0h1m0 0h1m0 0h1m1 0h1m4 0h1m1 0h1m-20 1h1m0 0h1m0 0h1m5 0h1m0 0h1m0 0h1m5 0h1m0 0h1m0 0h1m0 0h1m2 0h1m1 0h1m-15 1h1m5 0h1m5 0h1m1 0h1m-8 1h1m1 0h1m-16 1h1m2 0h1m2 0h1m7 0h1m3 0h1m-24 1h1m3 0h1m2 0h1m0 0h1m0 0h1m8 0h1m1 0h1m3 0h1m-19 1h1m1 0h1m12 0h1m-22 1h1m1 0h1m3 0h1m3 0h1m6 0h1m0 0h1m1 0h1m-22 1h1m0 0h1m0 0h1m1 0h1m1 0h1m4 0h1m8 0h1m1 0h1m-17 1h1m0 0h1m2 0h1m0 0h1m4 0h1m3 0h1m-19 1h1m3 0h1m0 0h1m2 0h1m7 0h1m-19 1h1m0 0h1m0 0h1m6 0h1m0 0h1m1 0h1m2 0h1m1 0h1m2 0h1m-21 1h1m1 0h1m0 0h1m0 0h1m4 0h1m0 0h1m2 0h1m1 0h1m3 0h1m1 0h1m-17 1h1m3 0h1m1 0h1m4 0h1m2 0h1m-18 1h1m4 0h1m8 0h1m1 0h1m-15 1h1m1 0h1m0 0h1m0 0h1m9 0h1m1 0h1m1 0h1m-20 1h1m1 0h1m0 0h1m1 0h1m10 0h1m0 0h1m-14 1h1m0 0h1m10 0h1m0 0h1m0 0h1m-18 1h1m0 0h1m3 0h1m8 0h1m1 0h1m1 0h1m0 0h1m-20 1h1m4 0h1m7 0h1m6 0h1m-22 1h1m1 0h1m4 0h1m6 0h1m0 0h1m1 0h1m0 0h1m-16 1h1m1 0h1m4 0h1m0 0h1m6 0h1m1 0h1m-20 1h1m2 0h1m2 0h1m0 0h1m0 0h1m0 0h1m2 0h1m0 0h1m-14 1h1m0 0h1m2 0h1m8 0h1m0 0h1m1 0h1m-15 1h1m1 0h1m1 0h1m1 0h1m4 0h1m2 0h1m-13 1h1m3 0h1m0 0h1m0 0h1m0 0h1m-11 1h1m0 0h1m0 0h1m5 0h1m4 0h1m-10 1h1m0 0h1m1 0h1m0 0h1m2 0h1m0 0h1m-12 1h1m0 0h1m1 0h1m2 0h1m1 0h1m-6 1h1m1 0h1m2 0h1m1 0h1m-3 1h1" stroke="#3140d2" stroke-width="1.1" fill="none"/>
<path d="M491 65h1m-5 1h1m0 0h1m1 0h1m1 0h1m0 0h1m0 0h1m-9 1h1m2 0h1m0 0h1m1 0h1m0 0h1m3 0h1m1 0h1m-16 1h1m1 0h1m0 0h1m0 0h1m1 0h1m1 0h1m0 0h1m1 0h1m0 0h1m0 0h1m0 0h1m1 0h1m-21 1h1m0 0h1m2 0h1m0 0h1m10 0h1m2 0h1m0 0h1m2 0h1m-25 1h1m0 0h1m19 0h1m0 0h1m0 0h1m0 0h1m-4 1h1m2 0h1m-27 1h1m0 0h1m24 0h1m-28 1h1m3 0h1m20 0h1m-27 1h1m3 0h1m24 0h1m0 0h1m-29 1h1m0 0h1m25 0h1m-30 1h1m0 0h1m1 0h1m26 0h1m0 0h1m-33 1h1m-2 1h1m0 0h1m0 0h1m-2 1h1m1 0h1m31 0h1m2 0h1m-39 1h1m0 0h1m36 0h1m-40 1h1m1 0h1m34 0h1m0 0h1m1 0h1m-40 1h1m36 0h1m0 0h1m0 0h1m0 1h1m-45 1h1m0 0h1m0 0h1m0 0h1m38 0h1m1 0h1m-44 1h1m-2 1h1m42 0h1m-42 1h1m-3 1h1m0 0h1m42 0h1m-45 1h1m0 0h1m0 0h1m40 0h1m-44 2h1m42 0h1m0 0h1m1 0h1m-46 1h1m41 0h1m0 0h1m1 0h1m-47 1h1m42 0h1m2 0h1m-45 1h1m0 0h1m40 0h1m-47 1h1m3 0h1m0 0h1m39 0h1m1 0h1m-51 1h1m1 0h1m0 0h1m0 0h1m2 0h1m42 0h1m-51 1h1m0 0h1m0 0h1m0 0h1m2 0h1m0 0h1m41 0h1m0 0h1m-49 1h1m0 0h1m2 0h1m0 0h1m0 0h1m38 0h1m1 0h1m0 0h1m-49 1h1m2 0h1m41 0h1m0 0h1m-46 1h1m1 0h1m2 0h1m0 0h1m36 0h1m0 0h1m-45 1h1m1 0h1m0 0h1m0 0h1m0 0h1m0 0h1m0 0h1m-6 1h1m3 0h1m0 0h1m35 0h1m0 0h1m-44 1h1m2 0h1m0 0h1m0 0h1m0 0h1m35 0h1m-43 1h1m2 0h1m0 0h1m0 0h1m1 0h1m0 0h1m33 0h1m0 0h1m-45 1h1m1 0h1m0 0h1m0 0h1m1 0h1m0 0h1m0 0h1m32 0h1m2 0h1m-41 1h1m2 0h1m0 0h1m0 0h1m0 0h1m0 0h1m1 0h1m26 0h1m1 0h1m-45 1h1m3 0h1m0 0h1m1 0h1m0 0h1m0 0h1m0 0h1m0 0h1m1 0h1m0 0h1m1 0h1m24 0h1m0 0h1m-43 1h1m0 0h1m1 0h1m2 0h1m3 0h1m0 0h1m3 0h1m1 0h1m0 0h1m21 0h1m-43 1h1m0 0h1m0 0h1m1 0h1m0 0h1m1 0h1m3 0h1m0 0h1m1 0h1m4 0h1m0 0h1m0 0h1m21 0h1m1 0h1m-44 1h1m3 0h1m0 0h1m0 0h1m0 0h1m2 0h1m3 0h1m1 0h1m1 0h1m0 0h1m2 0h1m0 0h1m0 0h1m0 0h1m13 0h1m1 0h1m-44 1h1m1 0h1m0 0h1m0 0h1m0 0h1m1 0h1m1 0h1m0 0h1m1 0h1m1 0h1m1 0h1m3 0h1m1 0h1m1 0h1m3 0h1m0 0h1m0 0h1m9 0h1m0 0h1m0 0h1m0 0h1m-44 1h1m1 0h1m0 0h1m0 0h1m0 0h1m0 0h1m0 0h1m0 0h1m1 0h1m2 0h1m0 0h1m0 0h1m6 0h1m0 0h1m0 0h1m0 0h1m0 0h1m2 0h1m0 0h1m1 0h1m0 0h1m0 0h1m0 0h1m0 0h1m1 0h1m0 0h1m0 0h1m0 0h1m0 0h1m-42 1h1m1 0h1m1 0h1m1 0h1m0 0h1m1 0h1m0 0h1m2 0h1m0 0h1m0 0h1m0 0h1m0 0h1m1 0h1m2 0h1m0 0h1m0 0h1m0 0h1m0 0h1m1 0h1m0 0h1m8 0h1m-38 1h1m0 0h1m0 0h1m3 0h1m0 0h1m1 0h1m0 0h1m2 0h1m0 0h1m0 0h1m2 0h1m0 0h1m0 0h1m5 0h1m0 0h1m2 0h1m3 0h1m0 0h1m-35 1h1m1 0h1m3 0h1m0 0h1m2 0h1m4 0h1m0 0h1m0 0h1m0 0h1m0 0h1m0 0h1m1 0h1m7 0h1m0 0h1m1 0h1m0 0h1m0 0h1m-37 1h1m0 0h1m0 0h1m4 0h1m1 0h1m0 0h1m0 0h1m1 0h1m0 0h1m4 0h1m1 0h1m1 0h1m-22 1h1m2 0h1m0 0h1m4 0h1m0 0h1m0 0h1m1 0h1m1 0h1m1 0h1m0 0h1m0 0h1m0 0h1m-25 1h1m0 0h1m0 0h1m0 0h1m0 0h1m1 0h1m0 0h1m1 0h1m2 0h1m2 0h1m0 0h1m2 0h1m-21 1h1m0 0h1m8 0h1m1 0h1m0 0h1m3 0h1m-19 1h1m0 0h1m0 0h1m1 0h1m0 0h1m0 0h1m5 0h1m3 0h1m-19 1h1m0 0h1m0 0h1m4 0h1m0 0h1m0 0h1m1 0h1m0 0h1m4 0h1m0 0h1m-19 1h1m0 0h1m0 0h1m0 0h1m2 0h1m1 0h1m2 0h1m1 0h1m0 0h1m1 0h1m0 0h1m-20 1h1m1 0h1m2 0h1m1 0h1m0 0h1m0 0h1m2 0h1m0 0h1m0 0h1m2 0h1m3 0h1m-22 1h1m1 0h1m2 0h1m0 0h1m1 0h1m0 0h1m0 0h1m1 0h1m0 0h1m0 0h1m1 0h1m0 0h1m0 0h1m0 0h1m0 0h1m0 0h1m-20 1h1m0 0h1m0 0h1m2 0h1m0 0h1m3 0h1m1 0h1m1 0h1m1 0h1m0 0h1m0 0h1m0 0h1m-17 1h1m0 0h1m1 0h1m0 0h1m3 0h1m1 0h1m0 0h1m0 0h1m1 0h1m2 0h1m-17 1h1m0 0h1m3 0h1m1 0h1m5 0h1m0 0h1m0 0h1m1 0h1m0 0h1m0 0h1m-16 1h1m0 0h1m0 0h1m3 0h1m0 0h1m0 0h1m0 0h1m1 0h1m1 0h1m0 0h1m0 0h1m-17 1h1m0 0h1m0 0h1m0 0h1m0 0h1m0 0h1m0 0h1m1 0h1m2 0h1m0 0h1m2 0h1m-17 1h1m0 0h1m2 0h1m1 0h1m0 0h1m1 0h1m2 0h1m-16 1h1m4 0h1m0 0h1m0 0h1m3 0h1m1 0h1m0 0h1m0 0h1m1 0h1m-20 1h1m1 0h1m3 0h1m0 0h1m0 0h1m0 0h1m0 0h1m1 0h1m0 0h1m2 0h1m1 0h1m-16 1h1m0 0h1m1 0h1m0 0h1m5 0h1m1 0h1m0 0h1m0 0h1m1 0h1m-19 1h1m0 0h1m1 0h1m1 0h1m0 0h1m0 0h1m1 0h1m1 0h1m1 0h1m1 0h1m0 0h1m0 0h1m0 0h1m-16 1h1m1 0h1m1 0h1m0 0h1m5 0h1m0 0h1m1 0h1m-19 1h1m1 0h1m0 0h1m0 0h1m2 0h1m-5 1h1m1 0h1m0 0h1m0 0h1m0 0h1m-8 1h1m0 0h1m2 0h1m3 0h1m-10 1h1m0 0h1m1 0h1m0 0h1m2 0h1m0 0h1m-9 1h1m0 0h1m1 0h1m0 0h1m0 0h1m1 0h1m0 0h1m1 0h1m-11 1h1m0 0h1m2 0h1m0 0h1m1 0h1m1 0h1m-11 1h1m3 0h1m1 0h1m0 0h1m0 0h1m-9 1h1m0 0h1m0 0h1m2 0h1m1 0h1m2 0h1m0 0h1m0 0h1m-12 1h1m2 0h1m3 0h1m2 0h1m0 0h1m0 0h1m-14 1h1m0 0h1m7 0h1m2 0h1m0 0h1m-13 1h1m0 0h1m1 0h1m1 0h1m0 0h1m1 0h1m-13 1h1m0 0h1m2 0h1m0 0h1m0 0h1m0 0h1m0 0h1m3 0h1m0 0h1m-15 1h1m2 0h1m0 0h1m1 0h1m0 0h1m-9 1h1m2 0h1m2 0h1m-7 1h1m0 0h1m2 0h1m0 0h1m1 0h1m0 0h1m-12 1h1m0 0h1m0 0h1m0 0h1m0 0h1m3 0h1m0 0h1m-7 1h1m1 0h1m0 0h1m1 0h1m-10 1h1m0 0h1m1 0h1m0 0h1m0 0h1m0 0h1m0 0h1m-9 1h1m0 0h1m0 0h1m2 0h1m3 0h1m-6 1h1m1 0h1m0 0h1m0 0h1m0 0h1m-11 1h1m0 0h1m4 0h1m1 0h1m1 0h1m-12 1h1m2 0h1m0 0h1m1 0h1m2 0h1m-9 1h1m1 0h1m0 0h1m0 0h1m4 0h1m-11 1h1m0 0h1m0 0h1m0 0h1m1 0h1m0 0h1m0 0h1m0 0h1m-9 1h1m0 0h1m3 0h1m1 0h1m0 0h1m2 0h1m0 0h1m-12 1h1m0 0h1m2 0h1m1 0h1m1 0h1m1 0h1m-12 1h1m0 0h1m1 0h1m0 0h1m2 0h1m4 0h1m-12 1h1m3 0h1m0 0h1m0 0h1m0 0h1m0 0h1m0 0h1m-10 1h1m0 0h1m0 0h1m0 0h1m0 0h1m0 0h1m0 0h1m2 0h1m0 0h1m-6 1h1m0 0h1m1 0h1m0 0h1m0 0h1m-8 1h1m3 0h1m0 0h1m0 0h1m0 0h1m0 0h1m-10 1h1m3 0h1m0 0h1m0 0h1m0 0h1m1 0h1m-10 1h1m0 0h1m3 0h1m-5 1h1m0 0h1m0 0h1m0 0h1m0 0h1m0 0h1m-4 1h1m1 0h1m2 0h1m-7 1h1m0 0h1m1 0h1m1 0h1m-4 2h1m0 0h1m-1 7h1m0 0h1m-2 1h1m0 0h1m-2 1h1m0 0h1m-3 1h1m0 0h1m0 0h1m1 0h1m-5 1h1m0 0h1m0 0h1m1 0h1m-7 1h1m1 0h1m0 0h1m-3 1h1m2 0h1m0 0h1m-4 1h1m0 0h1m-4 1h1m0 0h1m0 0h1m0 0h1m-2 1h1m-1 4h1m-3 1h1m1 0h1m0 0h1m-5 1h1m0 0h1m0 0h1m0 0h1m1 0h1m-7 1h1m0 0h1m2 0h1m1 0h1m-7 1h1m1 0h1m0 0h1m0 0h1m-4 1h1m0 0h1m2 0h1m-5 1h1m0 0h1m1 0h1" stroke="#2b44cb" stroke-width="1.1" fill="none"/>
<path d="M487 69h1m1 0h1m2 0h1m1 0h1m-10 1h1m1 0h1m0 0h1m0 0h1m0 0h1m1 0h1m0 0h1m1 0h1m1 0h1m0 0h1m-16 1h1m0 0h1m0 0h1m0 0h1m0 0h1m0 0h1m0 0h1m0 0h1m0 0h1m1 0h1m0 0h1m0 0h1m0 0h1m0 0h1m0 0h1m0 0h1m-17 1h1m0 0h1m0 0h1m0 0h1m8 0h1m1 0h1m0 0h1m0 0h1m0 0h1m-19 1h1m0 0h1m0 0h1m11 0h1m1 0h1m0 0h1m0 0h1m-21 1h1m0 0h1m0 0h1m0 0h1m13 0h1m2 0h1m-21 1h1m0 0h1m0 0h1m16 0h1m0 0h1m0 0h1m0 0h1m-24 1h1m0 0h1m0 0h1m0 0h1m19 0h1m0 0h1m0 0h1m-27 1h1m0 0h1m0 0h1m20 0h1m0 0h1m1 0h1m0 0h1m-28 1h1m0 0h1m24 0h1m1 0h1m-30 1h1m1 0h1m24 0h1m2 0h1m-32 1h1m0 0h1m0 0h1m26 0h1m0 0h1m0 0h1m-31 1h1m28 0h1m0 0h1m-33 1h1m0 0h1m0 0h1m30 0h1m0 0h1m-36 1h1m0 0h1m0 0h1m30 0h1m1 0h1m-37 1h1m0 0h1m0 0h1m33 0h1m0 0h1m-38 1h1m0 0h1m0 0h1m32 0h1m1 0h1m-39 1h1m1 0h1m34 0h1m0 0h1m-38 1h1m0 0h1m34 0h1m-36 1h1m35 0h1m0 0h1m-39 1h1m0 0h1m34 0h1m0 0h1m0 0h1m-39 1h1m35 0h1m0 0h1m-39 1h1m36 0h1m0 0h1m0 0h1m-39 1h1m0 0h1m34 0h1m0 0h1m-38 1h1m36 0h1m0 0h1m-39 1h1m0 0h1m-2 1h1m0 0h1m0 0h1m33 0h1m0 0h1m-37 1h1m0 0h1m33 0h1m0 0h1m0 0h1m-39 1h1m35 0h1m0 0h1m0 0h1m-39 1h1m2 0h1m31 0h1m0 0h1m-35 1h1m32 0h1m-35 1h1m0 0h1m0 0h1m0 0h1m29 0h1m0 0h1m-33 1h1m1 0h1m28 0h1m0 0h1m-33 1h1m1 0h1m-4 1h1m4 0h1m24 0h1m0 0h1m0 0h1m0 0h1m-32 1h1m0 0h1m0 0h1m1 0h1m0 0h1m23 0h1m0 0h1m-28 1h1m0 0h1m0 0h1m0 0h1m0 0h1m19 0h1m1 0h1m-24 1h1m0 0h1m0 0h1m0 0h1m16 0h1m0 0h1m0 0h1m0 0h1m-24 1h1m2 0h1m1 0h1m0 0h1m12 0h1m0 0h1m0 0h1m0 0h1m-22 1h1m0 0h1m4 0h1m0 0h1m1 0h1m0 0h1m7 0h1m0 0h1m-18 1h1m0 0h1m0 0h1m3 0h1m0 0h1m0 0h1m1 0h1m1 0h1m0 0h1m1 0h1m0 0h1m0 0h1m0 0h1m-13 1h1m3 0h1m0 0h1m0 0h1m0 0h1m0 0h1m2 0h1m-6 1h1m1 0h1" stroke="#2657ca" stroke-width="1.1" fill="none"/>
<path d="M487 72h1m0 0h1m0 0h1m0 0h1m1 0h1m0 0h1m-9 1h1m0 0h1m1 0h1m0 0h1m0 0h1m0 0h1m0 0h1m0 0h1m0 0h1m0 0h1m-12 1h1m0 0h1m0 0h1m0 0h1m0 0h1m1 0h1m0 0h1m0 0h1m0 0h1m2 0h1m-13 1h1m0 0h1m0 0h1m0 0h1m0 0h1m6 0h1m0 0h1m0 0h1m-12 1h1m8 0h1m0 0h1m0 0h1m-16 1h1m2 0h1m10 0h1m0 0h1m2 0h1m-20 1h1m0 0h1m0 0h1m13 0h1m1 0h1m0 0h1m0 0h1m-22 1h1m0 0h1m17 0h1m0 0h1m0 0h1m0 0h1m0 0h1m-25 1h1m21 0h1m0 0h1m1 0h1m-26 1h1m0 0h1m23 0h1m0 0h1m-28 1h1m0 0h1m0 0h1m24 0h1m-29 1h1m0 0h1m26 0h1m0 0h1m-30 1h1m27 0h1m0 0h1m-30 1h1m28 0h1m-32 1h1m0 0h1m0 0h1m28 0h1m0 0h1m0 0h1m-32 1h1m28 0h1m0 0h1m0 0h1m-34 1h1m0 0h1m30 0h1m0 0h1m-2 1h1m0 0h1m-34 1h1m0 0h1m30 0h1m0 0h1m-33 1h1m30 0h1m0 0h1m-34 1h1m0 0h1m0 0h1m29 0h1m0 0h1m-33 1h1m29 0h1m1 0h1m-34 1h1m0 0h1m0 0h1m28 0h1m-31 1h1m0 0h1m28 0h1m0 0h1m-32 1h1m0 0h1m28 0h1m0 0h1m-32 1h1m0 0h1m0 0h1m27 0h1m0 0h1m0 0h1m-32 1h1m0 0h1m27 0h1m0 0h1m-31 1h1m0 0h1m0 0h1m25 0h1m0 0h1m-29 1h1m0 0h1m25 0h1m0 0h1m-28 1h1m0 0h1m0 0h1m22 0h1m0 0h1m0 0h1m-27 1h1m1 0h1m0 0h1m20 0h1m0 0h1m-25 1h1m0 0h1m0 0h1m0 0h1m0 0h1m16 0h1m0 0h1m-19 1h1m1 0h1m13 0h1m0 0h1m0 0h1m-19 1h1m1 0h1m1 0h1m0 0h1m9 0h1m2 0h1m-17 1h1m0 0h1m0 0h1m0 0h1m0 0h1m0 0h1m0 0h1m0 0h1m0 0h1m0 0h1m0 0h1m0 0h1m0 0h1m0 0h1m0 0h1m0 0h1m-13 1h1m2 0h1m2 0h1m0 0h1m1 0h1m0 0h1m0 0h1m-7 1h1m1 0h1m0 0h1m1 0h1" stroke="#2179cf" stroke-width="1.1" fill="none"/>
<path d="M490 75h1m0 0h1m-5 1h1m0 0h1m0 0h1m0 0h1m0 0h1m0 0h1m0 0h1m0 0h1m-9 1h1m0 0h1m0 0h1m0 0h1m0 0h1m0 0h1m2 0h1m0 0h1m-11 1h1m0 0h1m0 0h1m0 0h1m4 0h1m0 0h1m0 0h1m0 0h1m-14 1h1m0 0h1m0 0h1m8 0h1m0 0h1m1 0h1m0 0h1m-17 1h1m0 0h1m1 0h1m11 0h1m0 0h1m1 0h1m-19 1h1m0 0h1m14 0h1m0 0h1m1 0h1m0 0h1m-22 1h1m0 0h1m17 0h1m0 0h1m-22 1h1m0 0h1m20 0h1m0 0h1m0 0h1m-26 1h1m23 0h1m0 0h1m-27 1h1m0 0h1m0 0h1m22 0h1m0 0h1m0 0h1m-28 1h1m0 0h1m24 0h1m0 0h1m-28 1h1m0 0h1m25 0h1m-29 1h1m0 0h1m25 0h1m0 0h1m0 0h1m-30 1h1m0 0h1m0 0h1m24 0h1m1 0h1m-30 1h1m0 0h1m0 0h1m24 0h1m0 0h1m0 0h1m-30 1h1m0 0h1m25 0h1m0 0h1m-27 1h1m24 0h1m0 0h1m-28 1h1m25 0h1m0 0h1m-28 1h1m0 0h1m24 0h1m0 0h1m-27 1h1m24 0h1m0 0h1m-28 1h1m0 0h1m0 0h1m23 0h1m0 0h1m-27 1h1m0 0h1m23 0h1m0 0h1m-27 1h1m1 0h1m22 0h1m0 0h1m-26 1h1m0 0h1m0 0h1m19 0h1m0 0h1m0 0h1m-24 1h1m0 0h1m0 0h1m18 0h1m1 0h1m-23 1h1m0 0h1m0 0h1m0 0h1m15 0h1m0 0h1m0 0h1m-18 1h1m13 0h1m0 0h1m0 0h1m-17 1h1m0 0h1m0 0h1m0 0h1m0 0h1m6 0h1m0 0h1m0 0h1m0 0h1m0 0h1m-13 1h1m0 0h1m0 0h1m0 0h1m2 0h1m0 0h1m0 0h1m0 0h1m0 0h1m0 0h1m-10 1h1m0 0h1m1 0h1m1 0h1m0 0h1m0 0h1" stroke="#219bc6" stroke-width="1.1" fill="none"/>
<path d="M490 78h1m0 0h1m0 0h1m-6 1h1m0 0h1m0 0h1m0 0h1m0 0h1m0 0h1m0 0h1m-8 1h1m0 0h1m0 0h1m0 0h1m0 0h1m0 0h1m0 0h1m1 0h1m0 0h1m-12 1h1m0 0h1m0 0h1m6 0h1m0 0h1m0 0h1m0 0h1m0 0h1m-14 1h1m0 0h1m0 0h1m9 0h1m0 0h1m0 0h1m0 0h1m-18 1h1m0 0h1m0 0h1m13 0h1m0 0h1m0 0h1m0 0h1m-21 1h1m0 0h1m0 0h1m16 0h1m0 0h1m0 0h1m-22 1h1m0 0h1m18 0h1m0 0h1m-23 1h1m0 0h1m0 0h1m18 0h1m0 0h1m-23 1h1m0 0h1m20 0h1m0 0h1m-24 1h1m21 0h1m0 0h1m-24 1h1m0 0h1m20 0h1m-23 1h1m0 0h1m20 0h1m0 0h1m-24 1h1m0 0h1m20 0h1m0 0h1m-24 1h1m0 0h1m20 0h1m-23 1h1m0 0h1m20 0h1m0 0h1m-24 1h1m0 0h1m20 0h1m0 0h1m-23 1h1m20 0h1m0 0h1m-23 1h1m0 0h1m18 0h1m0 0h1m0 0h1m-23 1h1m19 0h1m0 0h1m-21 1h1m0 0h1m16 0h1m0 0h1m0 0h1m-20 1h1m0 0h1m0 0h1m13 0h1m0 0h1m0 0h1m-17 1h1m1 0h1m0 0h1m8 0h1m1 0h1m0 0h1m0 0h1m-16 1h1m0 0h1m2 0h1m0 0h1m1 0h1m0 0h1m0 0h1m0 0h1m0 0h1m0 0h1m0 0h1m0 0h1m-12 1h1m0 0h1m0 0h1m0 0h1m0 0h1m1 0h1m0 0h1m0 0h1m0 0h1m-7 1h1m0 0h1m0 0h1m1 0h1" stroke="#27bbad" stroke-width="1.1" fill="none"/>
<path d="M488 81h1m0 0h1m0 0h1m0 0h1m0 0h1m-6 1h1m0 0h1m0 0h1m0 0h1m0 0h1m0 0h1m0 0h1m0 0h1m-10 1h1m0 0h1m0 0h1m0 0h1m1 0h1m0 0h1m0 0h1m0 0h1m0 0h1m0 0h1m0 0h1m0 0h1m-14 1h1m0 0h1m0 0h1m0 0h1m7 0h1m0 0h1m0 0h1m0 0h1m0 0h1m-17 1h1m0 0h1m0 0h1m11 0h1m0 0h1m0 0h1m0 0h1m-18 1h1m0 0h1m13 0h1m0 0h1m0 0h1m-19 1h1m0 0h1m0 0h1m14 0h1m0 0h1m0 0h1m-20 1h1m0 0h1m15 0h1m0 0h1m0 0h1m-20 1h1m16 0h1m0 0h1m0 0h1m-20 1h1m0 0h1m15 0h1m0 0h1m0 0h1m-19 1h1m15 0h1m0 0h1m0 0h1m-20 1h1m0 0h1m14 0h1m0 0h1m0 0h1m0 0h1m-20 1h1m0 0h1m14 0h1m0 0h1m0 0h1m0 0h1m-20 1h1m0 0h1m14 0h1m0 0h1m0 0h1m0 0h1m-20 1h1m0 0h1m0 0h1m13 0h1m0 0h1m0 0h1m0 0h1m-18 1h1m12 0h1m0 0h1m0 0h1m0 0h1m-18 1h1m0 0h1m0 0h1m10 0h1m0 0h1m0 0h1m0 0h1m0 0h1m-17 1h1m0 0h1m0 0h1m0 0h1m6 0h1m0 0h1m0 0h1m0 0h1m-12 1h1m0 0h1m0 0h1m0 0h1m0 0h1m0 0h1m0 0h1m0 0h1m0 0h1m0 0h1m0 0h1m1 0h1m-10 1h1m0 0h1m0 0h1m1 0h1m0 0h1m0 0h1" stroke="#34c476" stroke-width="1.1" fill="none"/>
<path d="M488 84h1m0 0h1m0 0h1m0 0h1m0 0h1m0 0h1m0 0h1m-9 1h1m0 0h1m0 0h1m0 0h1m0 0h1m0 0h1m0 0h1m0 0h1m0 0h1m0 0h1m0 0h1m-12 1h1m0 0h1m0 0h1m0 0h1m0 0h1m0 0h1m0 0h1m0 0h1m0 0h1m0 0h1m0 0h1m0 0h1m0 0h1m-13 1h1m0 0h1m0 0h1m0 0h1m3 0h1m0 0h1m0 0h1m0 0h1m0 0h1m0 0h1m0 0h1m-15 1h1m0 0h1m0 0h1m0 0h1m5 0h1m0 0h1m0 0h1m0 0h1m0 0h1m0 0h1m-15 1h1m0 0h1m0 0h1m6 0h1m0 0h1m0 0h1m0 0h1m1 0h1m-15 1h1m0 0h1m0 0h1m6 0h1m0 0h1m0 0h1m0 0h1m0 0h1m0 0h1m-15 1h1m0 0h1m0 0h1m5 0h1m0 0h1m1 0h1m0 0h1m0 0h1m0 0h1m-14 1h1m0 0h1m5 0h1m0 0h1m0 0h1m1 0h1m0 0h1m-14 1h1m0 0h1m0 0h1m5 0h1m0 0h1m0 0h1m0 0h1m0 0h1m0 0h1m-14 1h1m0 0h1m0 0h1m4 0h1m0 0h1m0 0h1m0 0h1m0 0h1m0 0h1m0 0h1m-13 1h1m0 0h1m0 0h1m0 0h1m1 0h1m0 0h1m0 0h1m0 0h1m0 0h1m0 0h1m0 0h1m0 0h1m-13 1h1m0 0h1m0 0h1m0 0h1m0 0h1m0 0h1m1 0h1m1 0h1m0 0h1m0 0h1m-11 1h1m0 0h1m0 0h1m0 0h1m0 0h1m0 0h1m0 0h1m0 0h1m0 0h1m0 0h1m-8 1h1m0 0h1m0 0h1m0 0h1m0 0h1m0 0h1" stroke="#58c948" stroke-width="1.1" fill="none"/>
<path d="M489 87h1m0 0h1m0 0h1m-4 1h1m0 0h1m0 0h1m0 0h1m0 0h1m-6 1h1m0 0h1m0 0h1m0 0h1m0 0h1m0 0h1m-6 1h1m0 0h1m0 0h1m0 0h1m0 0h1m0 0h1m-6 1h1m0 0h1m0 0h1m0 0h1m0 0h1m-5 1h1m0 0h1m0 0h1m0 0h1m0 0h1m-5 1h1m0 0h1m0 0h1m0 0h1m0 0h1m-5 1h1m0 0h1m0 0h1m0 0h1m-2 1h1" stroke="#accc30" stroke-width="1.1" fill="none"/>
<defs><linearGradient id="gr1"><stop offset="0" stop-color="#3c3"/><stop offset=".25" stop-color="#ec3"/><stop offset=".5" stop-color="#e33"/><stop offset=".75" stop-color="#ec3"/><stop offset="1" stop-color="#44d"/></linearGradient></defs>
<rect x="432" y="228.4" width="48" height="1.3" fill="url(#gr1)" opacity=".75"/>
<rect x="482.1" y="52" width="54.7" height="136" fill="none" stroke="#111" stroke-width="1.5"/>
<line x1="536.8" y1="74" x2="565" y2="74" stroke="#000" stroke-width="1.6"/>
<path d="M582.7 74L564 67.3L564 80.7Z" fill="#000"/>
<text x="349" y="223.5" font-size="16.5" class="k" textLength="117" lengthAdjust="spacingAndGlyphs" transform="rotate(-90 349 223.5)">Pdpn-APC-Cy7</text>
<line x1="341.3" y1="100" x2="341.3" y2="47" stroke="#000" stroke-width="1.6"/>
<path d="M341.3 29.3L334.6 48L348 48Z" fill="#000"/>
<text x="377.5" y="270" font-size="16.5" class="k" textLength="110" lengthAdjust="spacingAndGlyphs">PDGFRα-APC</text>
<line x1="500" y1="260.5" x2="555.5" y2="260.5" stroke="#000" stroke-width="1.6"/>
<path d="M573.5 260.5L554.5 254L554.5 267Z" fill="#000"/>
<rect x="625.3" y="28.5" width="201.4" height="201" fill="#fff" stroke="#7d7d7d" stroke-width="1.2"/>
<path d="M625.3 229.5v5.5M663.2 229.5v5.5M701.3 229.5v5.5M740 229.5v5.5M778.1 229.5v5.5M816 229.5v5.5" stroke="#111" stroke-width="1.3" fill="none"/>
<path d="M633 229.5v3.0M640.9 229.5v3.0M648.5 229.5v3.0M656 229.5v3.0M671 229.5v3.0M678.6 229.5v3.0M686.2 229.5v3.0M693.8 229.5v3.0M709 229.5v3.0M716.7 229.5v3.0M724.4 229.5v3.0M732 229.5v3.0M747.6 229.5v3.0M755.2 229.5v3.0M762.8 229.5v3.0M770.5 229.5v3.0M785.7 229.5v3.0M793.3 229.5v3.0M800.9 229.5v3.0M808.5 229.5v3.0M823.6 229.5v3.0" stroke="#222" stroke-width="0.9" fill="none"/>
<text x="627.3" y="246.5" font-size="7.8" text-anchor="middle" fill="#222">0</text>
<text x="665.2" y="246.5" font-size="7.8" text-anchor="middle" fill="#222">50K</text>
<text x="703.3" y="246.5" font-size="7.8" text-anchor="middle" fill="#222">100K</text>
<text x="742" y="246.5" font-size="7.8" text-anchor="middle" fill="#222">150K</text>
<text x="780.1" y="246.5" font-size="7.8" text-anchor="middle" fill="#222">200K</text>
<text x="818" y="246.5" font-size="7.8" text-anchor="middle" fill="#222">250K</text>
<path d="M625.3 208h-5.5M625.3 167.5h-5.5M625.3 127.2h-5.5M625.3 86.1h-5.5M625.3 45.9h-5.5" stroke="#111" stroke-width="1.3" fill="none"/>
<path d="M625.3 195.8h-3.0M625.3 188.7h-3.0M625.3 183.6h-3.0M625.3 179.7h-3.0M625.3 176.5h-3.0M625.3 173.8h-3.0M625.3 171.4h-3.0M625.3 169.4h-3.0M625.3 155.4h-3.0M625.3 148.3h-3.0M625.3 143.2h-3.0M625.3 139.3h-3.0M625.3 136.1h-3.0M625.3 133.4h-3.0M625.3 131.1h-3.0M625.3 129h-3.0M625.3 114.8h-3.0M625.3 107.6h-3.0M625.3 102.5h-3.0M625.3 98.5h-3.0M625.3 95.2h-3.0M625.3 92.5h-3.0M625.3 90.1h-3.0M625.3 88h-3.0M625.3 74h-3.0M625.3 66.9h-3.0M625.3 61.9h-3.0M625.3 58h-3.0M625.3 54.8h-3.0M625.3 52.1h-3.0M625.3 49.8h-3.0M625.3 47.7h-3.0M625.3 33.8h-3.0M625.3 229h-3.0M625.3 224h-3.0M625.3 220.1h-3.0M625.3 216.9h-3.0M625.3 214.2h-3.0M625.3 211.9h-3.0M625.3 209.8h-3.0" stroke="#222" stroke-width="0.9" fill="none"/>
<text x="615.3" y="212" font-size="7.8" text-anchor="end" fill="#111">10<tspan dy="-3.5" font-size="6.2">1</tspan></text>
<text x="615.3" y="171.5" font-size="7.8" text-anchor="end" fill="#111">10<tspan dy="-3.5" font-size="6.2">2</tspan></text>
<text x="615.3" y="131.2" font-size="7.8" text-anchor="end" fill="#111">10<tspan dy="-3.5" font-size="6.2">3</tspan></text>
<text x="615.3" y="90.1" font-size="7.8" text-anchor="end" fill="#111">10<tspan dy="-3.5" font-size="6.2">4</tspan></text>
<text x="615.3" y="49.9" font-size="7.8" text-anchor="end" fill="#111">10<tspan dy="-3.5" font-size="6.2">5</tspan></text>
<path d="M677 33h1m12 4h1m1 1h1m-9 1h1m13 0h1m-14 2h1m-6 1h1m11 1h1m-11 1h1m1 0h1m-1 1h1m8 0h1m-13 1h1m10 0h1m-9 1h1m3 0h1m-12 1h1m2 0h1m4 0h1m-5 2h1m2 0h1m2 0h1m1 0h1m3 0h1m-5 1h1m-17 2h1m5 0h1m0 0h1m2 0h1m3 0h1m0 0h1m1 0h1m-19 1h1m3 0h1m5 0h1m8 0h1m-19 1h1m4 0h1m-8 1h1m4 0h1m18 0h1m-28 1h1m2 0h1m-6 1h1m4 0h1m-5 1h1m2 0h1m23 0h1m-27 1h1m21 0h1m2 0h1m-26 1h1m1 0h1m20 0h1m-24 1h1m-1 1h1m-2 4h1m24 0h1m3 0h1m-32 1h1m26 0h1m-33 1h1m32 2h1m-30 1h1m25 0h1m-31 2h1m1 2h1m28 0h1m2 0h1m-33 1h1m28 1h1m0 1h1m-39 1h1m2 0h1m2 1h1m31 0h1m-33 1h1m29 1h1m-39 4h1m5 1h1m-4 1h1m33 1h1m0 0h1m-38 1h1m2 0h1m30 1h1m0 0h1m4 0h1m-8 1h1m-34 4h1m29 1h1m1 0h1m-35 1h1m29 2h1m-30 1h1m-6 1h1m3 0h1m1 0h1m-3 1h1m1 0h1m-3 1h1m28 0h1m-40 3h1m39 2h1m-28 1h1m22 0h1m-28 2h1m3 3h1m-8 1h1m1 0h1m2 0h1m5 0h1m-12 1h1m6 0h1m18 0h1m-21 1h1m0 0h1m1 0h1m16 0h1m3 0h1m1 0h1m1 0h1m-38 1h1m13 0h1m0 0h1m15 0h1m-7 1h1m-20 1h1m0 0h1m7 0h1m8 0h1m-15 1h1m7 0h1m-7 1h1m14 0h1m-24 1h1m7 0h1m1 0h1m7 0h1m0 0h1m-12 1h1m0 0h1m2 0h1m4 0h1m1 0h1m-15 1h1m2 0h1m7 0h1m2 0h1m0 0h1m3 0h1m-19 1h1m1 0h1m4 0h1m0 1h1m4 0h1m0 0h1m9 0h1m-25 1h1m5 0h1m4 0h1m3 0h1m-10 1h1m4 0h1m4 0h1m5 0h1m-11 1h1m-16 1h1m10 0h1m6 0h1m0 0h1m5 0h1m0 0h1m-29 1h1m9 0h1m1 0h1m0 0h1m4 0h1m-9 1h1m13 0h1m-8 1h1m0 0h1m3 0h1m8 0h1m-22 1h1m2 0h1m0 0h1m3 0h1m2 0h1m3 0h1m7 0h1m-21 1h1m3 0h1m4 0h1m1 0h1m0 0h1m1 0h1m-13 1h1m1 0h1m4 0h1m-13 1h1m6 0h1m1 0h1m-10 1h1m1 0h1m3 0h1m1 0h1m2 0h1m7 0h1m-19 1h1m0 0h1m10 0h1m6 0h1m-9 1h1m1 0h1m4 0h1m-20 1h1m3 0h1m1 0h1m1 0h1m10 0h1m-13 1h1m2 0h1m-3 1h1m1 0h1m-7 1h1m2 0h1m-6 1h1m-7 1h1m10 0h1m1 0h1m1 0h1m-5 1h1m0 0h1m0 0h1m0 0h1m6 1h1m-22 1h1m6 0h1m0 0h1m3 0h1m1 0h1m-6 1h1m-1 1h1m-4 1h1m11 0h1m1 0h1m-14 1h1m4 0h1m0 0h1m3 0h1m-16 1h1m2 0h1m7 1h1m-1 1h1m2 1h1m-20 1h1m8 0h1m-18 2h1m18 0h1m-11 1h1m12 1h1m2 0h1m-2 1h1m-2 1h1m3 0h1m-8 1h1m-4 1h1m8 0h1m-5 2h1m3 1h1" stroke="#373cd9" stroke-width="1.1" fill="none"/>
<path d="M686 55h1m1 0h1m-11 1h1m0 0h1m0 0h1m0 0h1m3 0h1m0 0h1m1 0h1m-8 1h1m1 0h1m0 0h1m1 0h1m-12 1h1m4 0h1m0 0h1m0 0h1m3 0h1m1 0h1m0 0h1m-16 1h1m2 0h1m1 0h1m2 0h1m1 0h1m2 0h1m-12 1h1m9 0h1m1 0h1m-14 1h1m0 1h1m-8 1h1m0 0h1m17 1h1m0 0h1m0 1h1m-3 1h1m-2 1h1m2 0h1m0 0h1m-3 1h1m1 0h1m-4 1h1m-22 1h1m0 0h1m-2 1h1m19 0h1m2 0h1m-2 1h1m-24 1h1m-2 1h1m0 0h1m-2 1h1m23 0h1m-27 1h1m26 0h1m-28 1h1m24 2h1m-26 2h1m24 0h1m-26 1h1m24 0h1m-28 1h1m0 0h1m25 0h1m-29 2h1m0 0h1m26 1h1m-28 1h1m-3 1h1m0 0h1m25 0h1m0 0h1m-30 2h1m0 1h1m0 0h1m23 0h1m1 0h1m-29 1h1m0 0h1m-1 1h1m24 0h1m-28 1h1m0 0h1m23 1h1m-27 1h1m-1 2h1m-3 1h1m1 0h1m24 0h1m-3 2h1m-26 1h1m0 0h1m1 0h1m0 1h1m19 0h1m-23 1h1m1 1h1m16 1h1m0 0h1m-19 1h1m19 0h1m-22 1h1m1 0h1m-5 1h1m2 0h1m0 0h1m14 0h1m1 0h1m-22 1h1m3 0h1m13 0h1m1 0h1m-18 1h1m0 0h1m13 0h1m-17 1h1m1 0h1m0 0h1m10 0h1m1 0h1m-15 1h1m0 0h1m0 0h1m4 0h1m2 0h1m0 0h1m0 0h1m-14 1h1m2 0h1m1 0h1m1 0h1m1 0h1m1 0h1m1 0h1m-12 1h1m2 0h1m1 0h1m0 0h1m0 0h1m3 0h1m-14 1h1m4 0h1m1 0h1m0 1h1m1 0h1m0 0h1m-8 1h1m2 0h1m0 0h1m0 0h1m-6 1h1m2 0h1m-5 1h1m0 0h1m0 0h1m1 0h1m-4 1h1m3 0h1m-3 1h1m0 0h1m0 0h1" stroke="#3140d2" stroke-width="1.1" fill="none"/>
<path d="M682 60h1m1 0h1m0 0h1m-9 1h1m1 0h1m1 0h1m1 0h1m1 0h1m-9 1h1m2 0h1m0 0h1m2 0h1m0 0h1m0 0h1m-13 1h1m0 0h1m0 0h1m6 0h1m0 0h1m1 0h1m0 0h1m-16 1h1m0 0h1m10 0h1m0 0h1m0 0h1m0 0h1m-3 1h1m1 0h1m-18 1h1m0 0h1m0 0h1m12 0h1m-17 1h1m1 0h1m0 0h1m-3 1h1m15 0h1m-17 1h1m16 0h1m-18 1h1m14 0h1m0 0h1m-19 1h1m16 0h1m1 1h1m-2 1h1m0 0h1m-22 2h1m20 0h1m-22 1h1m0 0h1m18 0h1m-22 2h1m0 0h1m19 0h1m-1 1h1m0 1h1m-2 1h1m-1 1h1m-22 1h1m20 0h1m-24 1h1m-1 1h1m0 0h1m-2 1h1m21 0h1m-24 1h1m21 0h1m0 0h1m-23 1h1m20 0h1m0 0h1m-3 1h1m-23 1h1m21 0h1m0 0h1m-2 1h1m-24 1h1m-2 3h1m0 0h1m20 1h1m-24 1h1m0 0h1m20 0h1m-23 1h1m0 0h1m-3 1h1m1 0h1m-2 2h1m19 0h1m-20 1h1m0 0h1m0 0h1m16 0h1m-18 1h1m-3 1h1m0 0h1m0 0h1m13 0h1m1 0h1m-3 1h1m-2 1h1m-15 1h1m0 0h1m10 0h1m1 0h1m0 0h1m-15 1h1m0 0h1m0 0h1m8 0h1m-12 1h1m10 0h1m0 0h1m-13 1h1m2 0h1m4 0h1m2 0h1m-11 1h1m4 0h1m1 0h1m0 0h1m-9 1h1m0 0h1m1 0h1" stroke="#2b44cb" stroke-width="1.1" fill="none"/>
<path d="M681 63h1m0 0h1m-6 1h1m0 0h1m1 0h1m0 0h1m0 0h1m-7 1h1m0 0h1m0 0h1m0 0h1m2 0h1m-8 1h1m1 0h1m0 0h1m2 0h1m0 0h1m1 0h1m-12 1h1m0 0h1m0 0h1m6 0h1m0 0h1m-12 1h1m0 0h1m0 0h1m8 0h1m-13 1h1m0 0h1m10 0h1m0 0h1m-14 1h1m0 0h1m-3 1h1m0 0h1m12 0h1m-16 1h1m0 0h1m13 0h1m0 0h1m-16 1h1m14 1h1m-19 1h1m0 0h1m-2 2h1m-1 1h1m0 0h1m-2 1h1m17 0h1m-19 1h1m16 0h1m-18 1h1m16 0h1m0 0h1m-2 1h1m-19 1h1m17 0h1m-21 1h1m0 0h1m17 1h1m-20 1h1m0 0h1m17 0h1m-20 1h1m18 0h1m-20 1h1m18 0h1m-21 1h1m0 0h1m17 0h1m-1 1h1m-21 1h1m0 0h1m17 0h1m0 0h1m-21 1h1m0 0h1m-1 1h1m16 1h1m-1 1h1m-2 1h1m-3 1h1m0 0h1m0 0h1m-20 1h1m0 0h1m16 0h1m-19 1h1m0 0h1m0 0h1m14 0h1m-17 1h1m15 0h1m-17 1h1m14 0h1m-2 1h1m0 0h1m-4 1h1m0 0h1m-13 1h1m10 0h1m0 0h1m-3 1h1m1 0h1m-13 1h1m0 0h1m0 0h1m0 0h1m5 0h1m-9 1h1m0 0h1m0 0h1m0 0h1m0 0h1m2 0h1m0 0h1m-8 1h1m0 0h1m1 0h1m0 0h1m0 0h1m0 0h1m0 0h1m-6 1h1m0 0h1m0 0h1m0 0h1m0 0h1" stroke="#2657ca" stroke-width="1.1" fill="none"/>
<path d="M680 66h1m-5 1h1m0 0h1m0 0h1m0 0h1m0 0h1m0 0h1m-7 1h1m1 0h1m2 0h1m0 0h1m0 0h1m-9 1h1m0 0h1m0 0h1m0 0h1m0 0h1m0 0h1m0 0h1m0 0h1m0 0h1m-10 1h1m7 0h1m0 0h1m-2 1h1m0 0h1m0 0h1m-13 1h1m11 0h1m-13 1h1m0 0h1m10 1h1m0 0h1m-15 1h1m12 0h1m0 0h1m-16 1h1m13 0h1m0 0h1m-17 1h1m0 0h1m14 0h1m-16 1h1m14 0h1m-17 1h1m0 0h1m12 0h1m-15 1h1m-1 1h1m14 0h1m-17 1h1m0 0h1m14 0h1m-18 2h1m15 0h1m-17 1h1m-1 1h1m-2 1h1m15 0h1m-17 1h1m15 0h1m-2 2h1m-17 1h1m15 0h1m-17 1h1m14 0h1m0 0h1m-17 1h1m14 0h1m-18 1h1m0 0h1m0 0h1m-2 1h1m14 0h1m-17 1h1m0 0h1m0 0h1m13 0h1m-15 1h1m-2 1h1m0 0h1m11 0h1m0 0h1m-2 1h1m-14 1h1m0 0h1m11 0h1m-3 1h1m0 0h1m-12 1h1m8 0h1m0 0h1m-12 1h1m0 0h1m0 0h1m6 0h1m-9 1h1m0 0h1m0 0h1m2 0h1m0 0h1m0 0h1m0 0h1m-8 1h1m1 0h1m0 0h1m0 0h1m0 0h1m0 0h1m-6 1h1m0 0h1m0 0h1m0 0h1m0 0h1m-3 1h1" stroke="#2179cf" stroke-width="1.1" fill="none"/>
<path d="M674 70h1m0 0h1m0 0h1m0 0h1m0 0h1m0 0h1m-7 1h1m0 0h1m0 0h1m1 0h1m0 0h1m1 0h1m-9 1h1m0 0h1m6 0h1m0 1h1m0 0h1m-1 1h1m-12 1h1m10 0h1m-13 1h1m0 0h1m10 0h1m-13 1h1m11 0h1m0 0h1m-1 1h1m-15 2h1m12 0h1m-14 1h1m12 0h1m-14 1h1m10 0h1m1 0h1m-16 1h1m0 0h1m0 0h1m11 0h1m-14 1h1m12 1h1m-15 1h1m0 0h1m11 0h1m0 0h1m-2 1h1m-15 1h1m0 0h1m12 0h1m-1 1h1m-2 1h1m-15 1h1m13 0h1m-15 1h1m12 0h1m-14 1h1m11 0h1m0 0h1m-2 1h1m0 0h1m-14 1h1m11 0h1m-2 1h1m-12 1h1m10 0h1m-12 1h1m0 0h1m8 0h1m-12 1h1m1 0h1m7 0h1m0 0h1m-11 1h1m0 0h1m0 0h1m5 0h1m0 0h1m-10 1h1m0 0h1m0 0h1m3 0h1m0 0h1m0 0h1m-9 1h1m0 0h1m0 0h1m0 0h1m0 0h1m0 0h1m0 0h1m0 0h1m-7 1h1m0 0h1m1 0h1m1 0h1m-5 1h1m0 0h1" stroke="#219bc6" stroke-width="1.1" fill="none"/>
<path d="M675 72h1m0 0h1m0 0h1m0 0h1m0 0h1m-7 1h1m1 0h1m0 0h1m0 0h1m0 0h1m0 0h1m0 0h1m-9 1h1m1 0h1m4 0h1m0 0h1m0 0h1m-10 1h1m0 0h1m0 0h1m5 0h1m0 0h1m-10 1h1m0 0h1m7 0h1m-11 1h1m0 0h1m8 0h1m-12 1h1m10 0h1m-1 1h1m-12 1h1m0 0h1m9 0h1m-2 1h1m0 0h1m-12 1h1m-1 1h1m9 0h1m-12 1h1m10 0h1m-13 1h1m0 1h1m-3 1h1m0 0h1m0 0h1m9 1h1m-13 1h1m10 0h1m0 0h1m-2 1h1m-13 1h1m10 0h1m0 0h1m-13 1h1m0 0h1m9 0h1m-12 1h1m0 0h1m8 0h1m-12 1h1m0 0h1m0 0h1m-2 1h1m8 0h1m0 0h1m-12 1h1m0 0h1m7 0h1m-9 1h1m6 0h1m-6 1h1m0 0h1m2 0h1m0 0h1m0 0h1m-8 1h1m0 0h1m0 0h1m0 0h1m0 0h1m0 0h1m0 0h1m-6 1h1m0 0h1m0 0h1m0 0h1m0 0h1m-4 1h1" stroke="#27bbad" stroke-width="1.1" fill="none"/>
<path d="M675 74h1m1 0h1m0 0h1m-4 1h1m0 0h1m0 0h1m0 0h1m0 0h1m-6 1h1m0 0h1m2 0h1m0 0h1m0 0h1m-8 1h1m5 0h1m0 0h1m-10 1h1m0 0h1m0 0h1m5 0h1m0 0h1m-9 1h1m6 0h1m0 0h1m-2 1h1m0 0h1m-11 1h1m0 0h1m0 0h1m6 0h1m-1 1h1m-9 1h1m7 0h1m-10 1h1m0 0h1m7 0h1m-1 1h1m-1 1h1m-10 1h1m7 0h1m-10 1h1m7 0h1m0 0h1m-11 1h1m8 0h1m-11 1h1m0 0h1m0 0h1m7 0h1m-11 1h1m0 0h1m7 0h1m-2 1h1m0 0h1m-3 1h1m0 0h1m-8 1h1m0 0h1m3 0h1m0 0h1m0 0h1m-9 1h1m0 0h1m0 0h1m2 0h1m0 0h1m0 0h1m-8 1h1m0 0h1m1 0h1m0 0h1m0 0h1m0 0h1m-6 1h1m0 0h1m0 0h1m0 0h1m0 0h1m-3 1h1m0 0h1" stroke="#34c476" stroke-width="1.1" fill="none"/>
<path d="M677 76h1m-4 1h1m0 0h1m0 0h1m0 0h1m0 0h1m-5 1h1m0 0h1m0 0h1m1 0h1m-6 1h1m0 0h1m0 0h1m0 0h1m0 0h1m0 0h1m-7 1h1m0 0h1m0 0h1m0 0h1m0 0h1m0 0h1m0 0h1m-6 1h1m0 0h1m2 0h1m0 0h1m-8 1h1m1 0h1m3 0h1m0 0h1m-7 1h1m4 0h1m0 0h1m-1 1h1m-9 1h1m0 0h1m0 0h1m4 0h1m0 0h1m-9 1h1m0 0h1m5 0h1m0 0h1m-2 1h1m-8 1h1m5 0h1m-8 1h1m0 0h1m0 0h1m3 0h1m0 0h1m-7 1h1m0 0h1m0 0h1m0 0h1m0 0h1m0 0h1m-7 1h1m0 0h1m0 0h1m0 0h1m0 0h1m1 0h1m-8 1h1m0 0h1m0 0h1m0 0h1m0 0h1m0 0h1m0 0h1m-7 1h1m0 0h1m0 0h1m0 0h1m0 0h1m0 0h1m-4 1h1m0 0h1m0 0h1m-3 1h1m0 0h1" stroke="#58c948" stroke-width="1.1" fill="none"/>
<path d="M675 81h1m0 0h1m-3 1h1m0 0h1m0 0h1m-3 1h1m0 0h1m0 0h1m-5 1h1m0 0h1m0 0h1m0 0h1m0 0h1m0 0h1m-5 1h1m0 0h1m0 0h1m0 0h1m-5 1h1m0 0h1m0 0h1m0 0h1m0 0h1m-5 1h1m0 0h1m0 0h1m0 0h1m0 0h1m-6 1h1m0 0h1m0 0h1m0 0h1m0 0h1m-4 1h1m0 0h1m0 0h1" stroke="#accc30" stroke-width="1.1" fill="none"/>
<rect x="645.3" y="44.8" width="43.5" height="68.5" fill="none" stroke="#111" stroke-width="1.3"/>
<rect x="644.8" y="116" width="43.2" height="65.9" fill="none" stroke="#1f4e8c" stroke-width="2.2" rx="1.5"/>
<text x="694.1" y="180.8" font-size="25" class="k" textLength="27" lengthAdjust="spacingAndGlyphs">S3</text>
<line x1="688.8" y1="65.9" x2="786.3" y2="65.9" stroke="#000" stroke-width="1.6"/>
<path d="M804 65.9L785.3 59.2L785.3 72.6Z" fill="#000"/>
<text x="601.5" y="223.5" font-size="16.5" class="k" textLength="117" lengthAdjust="spacingAndGlyphs" transform="rotate(-90 601.5 223.5)">Pdpn-APC-Cy7</text>
<line x1="592.5" y1="97.3" x2="592.5" y2="45.7" stroke="#000" stroke-width="1.6"/>
<path d="M592.5 28L585.8 46.7L599.2 46.7Z" fill="#000"/>
<text x="633.3" y="265.3" font-size="16.5" class="k" textLength="32" lengthAdjust="spacingAndGlyphs">FSC</text>
<line x1="677.3" y1="263.5" x2="811.3" y2="263.5" stroke="#000" stroke-width="1.6"/>
<path d="M829.3 263.5L810.3 257L810.3 270Z" fill="#000"/>
<rect x="878.1" y="28.5" width="201.9" height="201" fill="#fff" stroke="#7d7d7d" stroke-width="1.2"/>
<path d="M890.1 229.5v5.5M927.2 229.5v5.5M957.3 229.5v5.5M1012 229.5v5.5M1060 229.5v5.5" stroke="#111" stroke-width="1.3" fill="none"/>
<path d="M898 229.5v3.0M906 229.5v3.0M912 229.5v3.0M916 229.5v3.0M920 229.5v3.0M923 229.5v3.0M925 229.5v3.0M929 229.5v3.0M931 229.5v3.0M935 229.5v3.0M939 229.5v3.0M943 229.5v3.0M947 229.5v3.0M973 229.5v3.0M983 229.5v3.0M989 229.5v3.0M994 229.5v3.0M998 229.5v3.0M1002 229.5v3.0M1005 229.5v3.0M1008 229.5v3.0M1026 229.5v3.0M1035 229.5v3.0M1041 229.5v3.0M1045 229.5v3.0M1049 229.5v3.0M1052 229.5v3.0M1055 229.5v3.0M1074 229.5v3.0" stroke="#222" stroke-width="0.9" fill="none"/>
<text x="892.1" y="246.5" font-size="7.8" text-anchor="middle" fill="#111">-10<tspan dy="-3.5" font-size="6.2">3</tspan></text>
<text x="929.2" y="246.5" font-size="7.8" text-anchor="middle" fill="#222">0</text>
<text x="959.3" y="246.5" font-size="7.8" text-anchor="middle" fill="#111">10<tspan dy="-3.5" font-size="6.2">3</tspan></text>
<text x="1014" y="246.5" font-size="7.8" text-anchor="middle" fill="#111">10<tspan dy="-3.5" font-size="6.2">4</tspan></text>
<text x="1062" y="246.5" font-size="7.8" text-anchor="middle" fill="#111">10<tspan dy="-3.5" font-size="6.2">5</tspan></text>
<path d="M878.1 208h-5.5M878.1 167.5h-5.5M878.1 127.2h-5.5M878.1 86.1h-5.5M878.1 45.9h-5.5" stroke="#111" stroke-width="1.3" fill="none"/>
<path d="M878.1 195.8h-3.0M878.1 188.7h-3.0M878.1 183.6h-3.0M878.1 179.7h-3.0M878.1 176.5h-3.0M878.1 173.8h-3.0M878.1 171.4h-3.0M878.1 169.4h-3.0M878.1 155.4h-3.0M878.1 148.3h-3.0M878.1 143.2h-3.0M878.1 139.3h-3.0M878.1 136.1h-3.0M878.1 133.4h-3.0M878.1 131.1h-3.0M878.1 129h-3.0M878.1 114.8h-3.0M878.1 107.6h-3.0M878.1 102.5h-3.0M878.1 98.5h-3.0M878.1 95.2h-3.0M878.1 92.5h-3.0M878.1 90.1h-3.0M878.1 88h-3.0M878.1 74h-3.0M878.1 66.9h-3.0M878.1 61.9h-3.0M878.1 58h-3.0M878.1 54.8h-3.0M878.1 52.1h-3.0M878.1 49.8h-3.0M878.1 47.7h-3.0M878.1 33.8h-3.0M878.1 229h-3.0M878.1 224h-3.0M878.1 220.1h-3.0M878.1 216.9h-3.0M878.1 214.2h-3.0M878.1 211.9h-3.0M878.1 209.8h-3.0" stroke="#222" stroke-width="0.9" fill="none"/>
<text x="868.1" y="212" font-size="7.8" text-anchor="end" fill="#111">10<tspan dy="-3.5" font-size="6.2">1</tspan></text>
<text x="868.1" y="171.5" font-size="7.8" text-anchor="end" fill="#111">10<tspan dy="-3.5" font-size="6.2">2</tspan></text>
<text x="868.1" y="131.2" font-size="7.8" text-anchor="end" fill="#111">10<tspan dy="-3.5" font-size="6.2">3</tspan></text>
<text x="868.1" y="90.1" font-size="7.8" text-anchor="end" fill="#111">10<tspan dy="-3.5" font-size="6.2">4</tspan></text>
<text x="868.1" y="49.9" font-size="7.8" text-anchor="end" fill="#111">10<tspan dy="-3.5" font-size="6.2">5</tspan></text>
<path d="M949 38h1m71 0h1m-26 2h1m3 3h1m6 3h1m-17 2h1m7 2h1m13 0h1m20 0h1m-29 1h1m-24 2h1m7 0h1m26 0h1m-8 1h1m-89 1h1m0 0h1m25 0h1m0 0h1m0 0h1m47 0h1m0 0h1m2 0h1m6 0h1m3 0h1m1 0h1m13 0h1m-113 1h1m21 0h1m16 0h1m2 0h1m30 0h1m10 0h1m2 0h1m9 0h1m-98 1h1m0 0h1m5 0h1m3 0h1m15 0h1m0 0h1m12 0h1m2 0h1m25 0h1m5 0h1m9 0h1m0 0h1m-88 1h1m7 0h1m10 0h1m13 0h1m0 0h1m6 0h1m5 0h1m46 0h1m-88 1h1m1 0h1m5 0h1m19 0h1m4 0h1m28 0h1m23 0h1m-84 1h1m2 0h1m3 0h1m27 0h1m20 0h1m4 0h1m14 0h1m3 0h1m-89 1h1m3 0h1m2 0h1m6 0h1m0 0h1m3 0h1m1 0h1m0 0h1m48 0h1m1 0h1m16 0h1m3 0h1m-97 1h1m8 0h1m0 0h1m7 0h1m2 0h1m33 0h1m10 0h1m10 0h1m1 0h1m9 0h1m-92 1h1m32 0h1m35 0h1m1 0h1m34 0h1m-105 1h1m1 1h1m4 0h1m2 0h1m3 0h1m2 0h1m13 0h1m32 0h1m0 0h1m0 0h1m29 0h1m9 0h1m18 0h1m-126 1h1m0 0h1m6 0h1m43 0h1m44 0h1m-95 1h1m4 0h1m4 0h1m0 0h1m2 0h1m-5 1h1m47 0h1m1 0h1m41 0h1m11 0h1m0 0h1m11 0h1m-146 1h1m16 0h1m9 0h1m2 0h1m0 0h1m0 0h1m43 0h1m43 0h1m3 0h1m9 0h1m-107 1h1m4 0h1m85 0h1m4 0h1m0 0h1m1 0h1m-105 1h1m10 0h1m0 0h1m37 0h1m3 0h1m68 0h1m-150 1h1m3 0h1m14 0h1m55 0h1m73 0h1m5 0h1m-138 1h1m9 0h1m7 0h1m-18 1h1m5 0h1m3 0h1m3 0h1m90 0h1m17 0h1m2 0h1m-134 1h1m7 0h1m0 0h1m104 0h1m10 0h1m7 0h1m-126 1h1m128 0h1m-91 1h1m65 0h1m2 0h1m3 0h1m-138 1h1m9 0h1m54 0h1m64 0h1m15 0h1m-15 1h1m24 0h1m-23 1h1m-122 1h1m116 0h1m3 0h1m9 0h1m1 0h1m-85 1h1m0 0h1m71 0h1m-73 1h1m-4 1h1m-38 1h1m14 1h1m19 0h1m1 0h1m1 0h1m0 0h1m0 0h1m0 0h1m-29 1h1m0 0h1m103 0h1m-120 1h1m11 0h1m31 0h1m63 0h1m-113 2h1m11 0h1m6 0h1m26 0h1m-34 1h1m2 0h1m1 0h1m3 0h1m14 0h1m5 0h1m69 0h1m-77 1h1m2 0h1m-52 1h1m25 0h1m3 0h1m1 0h1m96 0h1m-116 1h1m9 0h1m102 0h1m0 0h1m-128 1h1m14 0h1m6 0h1m8 0h1m100 0h1m-100 1h1m10 0h1m1 0h1m1 0h1m0 0h1m72 0h1m2 0h1m-141 1h1m29 0h1m10 0h1m1 0h1m5 0h1m11 0h1m4 0h1m72 0h1m-100 1h1m3 0h1m0 0h1m0 0h1m1 0h1m4 0h1m1 0h1m19 0h1m-41 1h1m42 0h1m1 0h1m-52 1h1m0 0h1m11 0h1m9 0h1m7 0h1m12 0h1m62 0h1m-122 1h1m21 0h1m0 0h1m5 0h1m16 0h1m78 0h1m0 0h1m-105 1h1m0 0h1m10 0h1m7 0h1m-29 1h1m3 0h1m1 0h1m3 0h1m13 0h1m3 0h1m76 0h1m1 0h1m-114 1h1m6 0h1m0 0h1m0 0h1m1 0h1m7 0h1m9 0h1m0 0h1m3 0h1m0 0h1m2 0h1m10 0h1m1 0h1m10 0h1m1 0h1m2 0h1m1 0h1m42 0h1m-105 1h1m10 0h1m0 0h1m11 0h1m30 0h1m2 0h1m40 0h1m-103 1h1m7 0h1m14 0h1m0 0h1m7 0h1m73 0h1m-107 1h1m17 0h1m0 0h1m1 0h1m1 0h1m6 0h1m14 0h1m1 0h1m10 0h1m50 0h1m-96 1h1m9 0h1m2 0h1m2 0h1m0 0h1m0 0h1m12 0h1m12 0h1m56 0h1m-116 1h1m9 0h1m3 0h1m18 0h1m27 0h1m41 0h1m3 0h1m-107 1h1m4 0h1m20 0h1m10 0h1m6 0h1m8 0h1m3 0h1m9 0h1m29 0h1m1 0h1m5 0h1m-104 1h1m9 0h1m1 0h1m11 0h1m11 0h1m5 0h1m18 0h1m4 0h1m4 0h1m0 0h1m22 0h1m-100 1h1m2 0h1m0 0h1m0 0h1m0 0h1m0 0h1m0 0h1m14 0h1m5 0h1m4 0h1m3 0h1m3 0h1m12 0h1m21 0h1m28 0h1m-92 1h1m26 0h1m1 0h1m1 0h1m23 0h1m6 0h1m19 0h1m0 0h1m-58 1h1m27 0h1m21 0h1m8 0h1m-90 1h1m0 0h1m11 0h1m40 0h1m14 0h1m6 0h1m8 0h1m-12 1h1m12 0h1m2 0h1m-81 1h1m9 0h1m45 0h1m6 0h1m0 0h1m0 0h1m6 0h1m0 0h1m3 0h1m6 0h1m3 0h1m-17 1h1m0 0h1m-16 1h1m8 1h1m-14 1h1m8 1h1m3 0h1m3 0h1m6 0h1m-22 1h1m11 0h1m-12 1h1m7 0h1m10 0h1m-48 1h1m29 0h1m-9 1h1m26 0h1m-16 3h1m4 2h1" stroke="#373cd9" stroke-width="1.1" fill="none"/>
<path d="M960 59h1m-1 2h1m1 0h1m0 1h1m36 0h1m3 0h1m-66 1h1m3 0h1m0 0h1m11 0h1m2 0h1m1 0h1m0 0h1m35 0h1m1 0h1m5 0h1m0 0h1m-69 1h1m14 0h1m0 0h1m1 0h1m4 0h1m32 0h1m-55 1h1m0 0h1m14 0h1m0 0h1m32 0h1m1 0h1m0 0h1m0 0h1m7 0h1m1 0h1m1 0h1m4 0h1m-70 1h1m1 0h1m1 0h1m3 0h1m2 0h1m2 0h1m1 0h1m1 0h1m1 0h1m26 0h1m2 0h1m0 0h1m1 0h1m2 0h1m0 0h1m1 0h1m0 0h1m1 0h1m5 0h1m1 0h1m-76 1h1m0 0h1m2 0h1m0 0h1m1 0h1m0 0h1m0 0h1m6 0h1m8 0h1m0 0h1m0 0h1m21 0h1m1 0h1m16 0h1m3 0h1m-70 1h1m5 0h1m0 0h1m8 0h1m3 0h1m0 0h1m1 0h1m21 0h1m3 0h1m20 0h1m4 0h1m-67 1h1m0 0h1m5 0h1m5 0h1m2 0h1m21 0h1m0 0h1m1 0h1m21 0h1m0 0h1m1 0h1m-74 1h1m10 0h1m0 0h1m0 0h1m1 0h1m4 0h1m2 0h1m15 0h1m3 0h1m0 0h1m-46 1h1m3 0h1m2 0h1m0 0h1m1 0h1m1 0h1m2 0h1m8 0h1m4 0h1m13 0h1m0 0h1m1 0h1m27 0h1m0 0h1m4 0h1m-81 1h1m3 0h1m1 0h1m0 0h1m1 0h1m1 0h1m1 0h1m2 0h1m0 0h1m8 0h1m0 0h1m1 0h1m2 0h1m43 0h1m0 0h1m1 0h1m1 0h1m-76 1h1m2 0h1m1 0h1m0 0h1m2 0h1m3 0h1m1 0h1m0 0h1m6 0h1m3 0h1m0 0h1m0 0h1m4 0h1m37 0h1m-80 1h1m2 0h1m2 0h1m0 0h1m7 0h1m4 0h1m0 0h1m4 0h1m2 0h1m1 0h1m11 0h1m1 0h1m33 0h1m1 0h1m-81 1h1m0 0h1m0 0h1m0 0h1m3 0h1m0 0h1m0 0h1m5 0h1m6 0h1m1 0h1m2 0h1m4 0h1m3 0h1m3 0h1m36 0h1m4 0h1m-99 1h1m4 0h1m4 0h1m0 0h1m11 0h1m8 0h1m3 0h1m8 0h1m0 0h1m3 0h1m5 0h1m0 0h1m1 0h1m34 0h1m0 0h1m-96 1h1m4 0h1m10 0h1m2 0h1m0 0h1m7 0h1m0 0h1m11 0h1m6 0h1m0 0h1m0 0h1m1 0h1m2 0h1m38 0h1m-97 1h1m3 0h1m0 0h1m0 0h1m6 0h1m0 0h1m3 0h1m7 0h1m2 0h1m2 0h1m5 0h1m3 0h1m0 0h1m1 0h1m1 0h1m1 0h1m0 0h1m2 0h1m1 0h1m1 0h1m1 0h1m0 0h1m-60 1h1m4 0h1m5 0h1m0 0h1m1 0h1m0 0h1m0 0h1m1 0h1m4 0h1m0 0h1m14 0h1m5 0h1m0 0h1m0 0h1m1 0h1m3 0h1m43 0h1m-94 1h1m4 0h1m3 0h1m4 0h1m2 0h1m2 0h1m0 0h1m2 0h1m11 0h1m0 0h1m1 0h1m0 0h1m3 0h1m0 0h1m4 0h1m0 0h1m41 0h1m-100 1h1m2 0h1m1 0h1m1 0h1m1 0h1m0 0h1m0 0h1m6 0h1m5 0h1m3 0h1m1 0h1m12 0h1m1 0h1m5 0h1m5 0h1m-59 1h1m3 0h1m0 0h1m13 0h1m3 0h1m0 0h1m0 0h1m0 0h1m4 0h1m0 0h1m13 0h1m1 0h1m0 0h1m0 0h1m2 0h1m0 0h1m4 0h1m42 0h1m0 0h1m-103 1h1m2 0h1m8 0h1m5 0h1m1 0h1m11 0h1m15 0h1m3 0h1m0 0h1m4 0h1m42 0h1m1 0h1m-107 1h1m1 0h1m2 0h1m0 0h1m1 0h1m6 0h1m0 0h1m0 0h1m4 0h1m9 0h1m0 0h1m0 0h1m15 0h1m5 0h1m1 0h1m2 0h1m-57 1h1m0 0h1m1 0h1m10 0h1m3 0h1m2 0h1m1 0h1m3 0h1m13 0h1m12 0h1m-58 1h1m16 0h1m0 0h1m3 0h1m2 0h1m3 0h1m15 0h1m58 0h1m-90 1h1m1 0h1m0 0h1m2 0h1m9 0h1m11 0h1m1 0h1m56 0h1m0 0h1m-103 1h1m2 0h1m22 0h1m0 0h1m17 0h1m58 0h1m-107 1h1m1 0h1m1 0h1m16 0h1m23 0h1m-46 1h1m2 0h1m0 0h1m18 0h1m2 0h1m2 0h1m17 0h1m56 0h1m-104 1h1m0 0h1m1 0h1m20 0h1m4 0h1m13 0h1m58 0h1m2 0h1m0 0h1m-107 1h1m25 0h1m12 0h1m4 0h1m3 0h1m-50 1h1m1 0h1m4 0h1m13 0h1m0 0h1m0 0h1m2 0h1m0 0h1m2 0h1m4 0h1m1 0h1m1 0h1m7 0h1m1 0h1m-46 1h1m1 0h1m13 0h1m0 0h1m3 0h1m0 0h1m0 0h1m9 0h1m1 0h1m3 0h1m5 0h1m0 0h1m51 0h1m1 0h1m-80 1h1m16 0h1m6 0h1m4 0h1m1 0h1m4 0h1m42 0h1m-105 1h1m19 0h1m0 0h1m15 0h1m2 0h1m1 0h1m3 0h1m2 0h1m1 0h1m1 0h1m2 0h1m0 0h1m1 0h1m1 0h1m41 0h1m1 0h1m-105 1h1m0 0h1m23 0h1m0 0h1m18 0h1m5 0h1m3 0h1m0 0h1m6 0h1m37 0h1m-101 1h1m0 0h1m46 0h1m12 0h1m37 0h1m-63 1h1m14 0h1m1 0h1m0 0h1m2 0h1m1 0h1m40 0h1m-65 1h1m0 0h1m0 0h1m12 0h1m10 0h1m34 0h1m1 0h1m0 0h1m-64 1h1m24 0h1m37 0h1m-70 1h1m1 0h1m1 0h1m0 0h1m57 0h1m2 0h1m1 0h1m-89 1h1m2 0h1m1 0h1m15 0h1m29 0h1m0 0h1m0 0h1m-53 1h1m0 0h1m0 0h1m0 0h1m15 0h1m1 0h1m30 0h1m0 0h1m28 0h1m0 0h1m-67 1h1m6 0h1m26 0h1m0 0h1m30 0h1m-65 1h1m0 0h1m0 0h1m2 0h1m0 0h1m24 0h1m2 0h1m1 0h1m22 0h1m-58 1h1m1 0h1m26 0h1m0 0h1m4 0h1m1 0h1m0 0h1m18 0h1m1 0h1m-28 1h1m1 0h1m4 0h1m2 0h1m7 0h1m2 0h1m0 0h1m-25 1h1m2 0h1m9 0h1m0 0h1m0 0h1m3 0h1m2 0h1m-89 1h1m0 0h1m76 0h1m2 0h1m3 0h1m1 0h1m-11 1h1m1 0h1m5 0h1m5 0h1m2 0h1m-12 1h1m0 0h1m1 0h1m-8 1h1m0 0h1m3 0h1" stroke="#3140d2" stroke-width="1.1" fill="none"/>
<path d="M995 67h1m0 0h1m1 0h1m2 0h1m0 0h1m-9 1h1m1 0h1m2 0h1m0 0h1m0 0h1m2 0h1m1 0h1m0 0h1m0 0h1m-17 1h1m2 0h1m9 0h1m3 0h1m1 0h1m-20 1h1m0 0h1m2 0h1m0 0h1m1 0h1m3 0h1m1 0h1m0 0h1m0 0h1m4 0h1m-24 1h1m2 0h1m0 0h1m17 0h1m0 0h1m-21 1h1m21 0h1m0 0h1m-28 1h1m0 0h1m1 0h1m22 0h1m2 0h1m-4 1h1m-27 1h1m0 0h1m0 0h1m26 0h1m-32 1h1m31 0h1m-34 1h1m30 0h1m-32 1h1m0 0h1m0 0h1m-4 1h1m1 0h1m33 0h1m-1 1h1m0 0h1m-36 1h1m-4 1h1m35 0h1m0 0h1m-35 1h1m34 0h1m0 0h1m-39 1h1m0 0h1m35 0h1m-51 1h1m0 0h1m8 0h1m0 0h1m0 0h1m-15 1h1m1 0h1m0 0h1m0 0h1m2 0h1m0 0h1m0 0h1m1 0h1m3 0h1m-16 1h1m1 0h1m2 0h1m2 0h1m5 0h1m-14 1h1m0 0h1m2 0h1m2 0h1m0 0h1m2 0h1m39 0h1m0 0h1m0 0h1m-51 1h1m0 0h1m1 0h1m0 0h1m3 0h1m1 0h1m38 0h1m-51 1h1m1 0h1m0 0h1m0 0h1m0 0h1m5 0h1m1 0h1m-15 1h1m1 0h1m3 0h1m1 0h1m2 0h1m-9 1h1m6 0h1m1 0h1m1 0h1m37 0h1m-52 1h1m0 0h1m0 0h1m4 0h1m2 0h1m1 0h1m2 0h1m-13 1h1m0 0h1m0 0h1m0 0h1m3 0h1m0 0h1m1 0h1m0 0h1m1 0h1m32 0h1m0 0h1m-39 1h1m1 0h1m0 0h1m33 0h1m0 0h1m-37 1h1m34 0h1m0 0h1m-36 1h1m0 0h1m0 0h1m31 0h1m-32 1h1m30 0h1m-34 1h1m1 0h1m28 0h1m-31 1h1m0 0h1m1 0h1m-1 2h1m0 0h1m21 0h1m0 0h1m-24 1h1m19 0h1m3 0h1m-27 1h1m0 0h1m1 0h1m17 0h1m1 0h1m-23 1h1m0 0h1m4 0h1m0 0h1m0 0h1m0 0h1m6 0h1m0 0h1m1 0h1m2 0h1m0 0h1m-23 1h1m1 0h1m0 0h1m3 0h1m0 0h1m0 0h1m1 0h1m0 0h1m2 0h1m0 0h1m1 0h1m1 0h1m-14 1h1m3 0h1m-4 1h1m0 0h1m0 0h1" stroke="#2b44cb" stroke-width="1.1" fill="none"/>
<path d="M995 71h1m0 0h1m2 0h1m0 0h1m0 0h1m0 0h1m0 0h1m0 0h1m0 0h1m3 0h1m0 0h1m-17 1h1m0 0h1m1 0h1m0 0h1m0 0h1m0 0h1m0 0h1m0 0h1m1 0h1m0 0h1m1 0h1m0 0h1m-15 1h1m1 0h1m3 0h1m10 0h1m1 0h1m-22 1h1m0 0h1m2 0h1m-4 1h1m18 0h1m0 0h1m0 0h1m-1 1h1m-25 1h1m24 0h1m-28 1h1m1 0h1m24 0h1m-27 1h1m27 0h1m-30 1h1m0 0h1m0 0h1m27 0h1m-30 1h1m27 0h1m1 0h1m-34 1h1m0 0h1m30 0h1m-31 1h1m-1 1h1m0 0h1m-4 1h1m0 0h1m0 0h1m31 0h1m-36 1h1m0 0h1m0 0h1m0 0h1m-5 1h1m0 0h1m0 0h1m33 0h1m-36 1h1m0 0h1m0 0h1m-2 1h1m1 0h1m0 0h1m-4 1h1m0 0h1m32 0h1m-34 1h1m32 0h1m-33 2h1m0 0h1m0 0h1m28 0h1m0 0h1m0 0h1m-33 1h1m30 0h1m-33 1h1m0 0h1m29 0h1m0 0h1m-31 1h1m0 0h1m0 0h1m0 0h1m24 0h1m0 0h1m-30 1h1m1 0h1m24 0h1m0 0h1m0 0h1m-3 1h1m0 0h1m-25 1h1m21 0h1m0 0h1m-25 1h1m0 0h1m19 0h1m2 0h1m-25 1h1m0 0h1m0 0h1m-2 1h1m1 0h1m2 0h1m1 0h1m9 0h1m0 0h1m0 0h1m-19 1h1m0 0h1m0 0h1m1 0h1m0 0h1m0 0h1m0 0h1m0 0h1m0 0h1m0 0h1m0 0h1m0 0h1m0 0h1m0 0h1m1 0h1m-13 1h1m3 0h1m2 0h1m0 1h1" stroke="#2657ca" stroke-width="1.1" fill="none"/>
<path d="M1003 73h1m1 0h1m0 0h1m0 0h1m0 0h1m0 0h1m-12 1h1m3 0h1m0 0h1m0 0h1m1 0h1m0 0h1m0 0h1m0 0h1m0 0h1m0 0h1m-17 1h1m0 0h1m0 0h1m2 0h1m2 0h1m7 0h1m-20 1h1m1 0h1m-4 1h1m1 0h1m20 0h1m-24 1h1m0 0h1m20 0h1m-24 1h1m22 0h1m0 0h1m-24 1h1m0 0h1m23 0h1m-26 1h1m22 0h1m0 0h1m-26 1h1m0 0h1m0 0h1m24 0h1m-27 1h1m0 0h1m-3 1h1m0 0h1m26 0h1m-30 1h1m27 0h1m0 0h1m-30 1h1m1 0h1m26 0h1m0 0h1m-32 1h1m0 0h1m1 0h1m0 0h1m24 0h1m0 0h1m0 0h1m-31 1h1m29 0h1m-30 1h1m1 0h1m24 0h1m0 0h1m0 0h1m-31 1h1m0 0h1m0 0h1m0 0h1m24 0h1m1 0h1m-31 1h1m0 0h1m0 0h1m26 0h1m-28 1h1m24 0h1m0 0h1m0 0h1m-28 1h1m24 0h1m0 0h1m0 0h1m-27 1h1m0 0h1m22 0h1m0 0h1m0 0h1m-25 1h1m21 0h1m0 0h1m-2 1h1m0 0h1m-23 1h1m18 0h1m1 0h1m-23 1h1m1 0h1m17 0h1m0 0h1m0 0h1m-22 1h1m0 0h1m0 0h1m0 0h1m12 0h1m0 0h1m-18 1h1m1 0h1m2 0h1m0 0h1m9 0h1m0 0h1m0 0h1m-15 1h1m0 0h1m1 0h1m0 0h1m0 0h1m0 0h1m1 0h1m0 0h1m1 0h1m1 0h1m-11 1h1m1 0h1m0 0h1m0 0h1m1 0h1m0 0h1m0 0h1" stroke="#2179cf" stroke-width="1.1" fill="none"/>
<path d="M1004 75h1m0 0h1m0 0h1m2 0h1m-13 1h1m0 0h1m0 0h1m0 0h1m0 0h1m0 0h1m0 0h1m0 0h1m4 0h1m0 0h1m0 0h1m-18 1h1m0 0h1m0 0h1m0 0h1m0 0h1m0 0h1m0 0h1m0 0h1m0 0h1m7 0h1m0 0h1m0 0h1m-20 1h1m0 0h1m0 0h1m0 0h1m14 0h1m0 0h1m-21 1h1m0 0h1m0 0h1m17 0h1m-20 1h1m0 0h1m17 0h1m0 0h1m0 0h1m-23 1h1m0 0h1m18 0h1m0 0h1m-21 1h1m19 0h1m0 0h1m-1 1h1m0 0h1m-23 1h1m20 0h1m0 0h1m-24 1h1m22 0h1m0 0h1m-25 1h1m22 0h1m0 0h1m-24 1h1m21 0h1m0 0h1m-25 1h1m0 0h1m21 0h1m0 0h1m0 0h1m-25 1h1m22 0h1m-24 1h1m22 0h1m-24 1h1m0 0h1m20 0h1m-23 1h1m0 0h1m19 0h1m0 0h1m-23 1h1m0 0h1m0 0h1m18 0h1m-21 1h1m0 0h1m16 0h1m0 0h1m-1 1h1m0 0h1m-20 1h1m1 0h1m14 0h1m0 0h1m0 0h1m-18 1h1m0 0h1m1 0h1m9 0h1m1 0h1m0 0h1m-17 1h1m1 0h1m0 0h1m0 0h1m9 0h1m0 0h1m-13 1h1m1 0h1m1 0h1m0 0h1m0 0h1m0 0h1m0 0h1m0 0h1m-8 1h1m0 0h1m0 0h1m0 0h1m0 0h1m0 0h1m0 0h1m0 0h1" stroke="#219bc6" stroke-width="1.1" fill="none"/>
<path d="M1006 76h1m0 0h1m0 0h1m-6 1h1m0 0h1m2 0h1m0 0h1m0 0h1m-12 1h1m0 0h1m2 0h1m0 0h1m0 0h1m3 0h1m0 0h1m0 0h1m-16 1h1m0 0h1m0 0h1m0 0h1m0 0h1m0 0h1m0 0h1m0 0h1m6 0h1m0 0h1m0 0h1m-17 1h1m0 0h1m13 0h1m0 0h1m-18 1h1m0 0h1m14 0h1m0 0h1m-18 1h1m0 0h1m14 0h1m0 0h1m0 0h1m-19 1h1m0 0h1m13 0h1m0 0h1m0 0h1m0 0h1m0 0h1m-20 1h1m16 0h1m0 0h1m0 0h1m-20 1h1m0 0h1m0 0h1m13 0h1m0 0h1m0 0h1m0 0h1m0 0h1m-4 1h1m0 0h1m0 0h1m0 0h1m-21 1h1m1 0h1m15 0h1m1 0h1m-19 1h1m15 0h1m0 0h1m-19 1h1m16 0h1m0 0h1m0 0h1m-21 1h1m17 0h1m0 0h1m0 0h1m-20 1h1m0 0h1m0 0h1m13 0h1m0 0h1m0 0h1m-18 1h1m0 0h1m14 0h1m0 0h1m-18 1h1m0 0h1m0 0h1m12 0h1m1 0h1m-18 1h1m0 0h1m0 0h1m11 1h1m0 0h1m0 0h1m-15 1h1m1 0h1m0 0h1m0 0h1m7 0h1m-10 1h1m0 0h1m0 0h1m1 0h1m0 0h1m0 0h1m0 0h1m0 0h1m-7 1h1m1 0h1m2 0h1m0 0h1" stroke="#27bbad" stroke-width="1.1" fill="none"/>
<path d="M1006 78h1m0 0h1m-5 1h1m0 0h1m0 0h1m0 0h1m0 0h1m0 0h1m-12 1h1m0 0h1m0 0h1m0 0h1m0 0h1m0 0h1m0 0h1m0 0h1m0 0h1m0 0h1m0 0h1m0 0h1m0 0h1m-14 1h1m0 0h1m1 0h1m0 0h1m0 0h1m0 0h1m0 0h1m0 0h1m0 0h1m0 0h1m0 0h1m-12 1h1m0 0h1m8 0h1m-1 1h1m0 0h1m0 0h1m-13 1h1m10 0h1m0 0h1m0 0h1m-3 1h1m1 0h1m-14 1h1m11 0h1m1 0h1m-1 1h1m0 0h1m-15 1h1m11 0h1m0 0h1m0 0h1m-16 1h1m0 0h1m12 0h1m0 0h1m-16 1h1m0 0h1m12 0h1m0 0h1m-14 1h1m-1 1h1m10 0h1m0 0h1m0 0h1m-13 1h1m9 0h1m0 0h1m-12 1h1m1 0h1m7 0h1m0 0h1m-11 1h1m0 0h1m0 0h1m3 0h1m0 0h1m1 0h1m-7 1h1m0 0h1m0 0h1m0 0h1m0 0h1m0 0h1" stroke="#34c476" stroke-width="1.1" fill="none"/>
<path d="M998 82h1m0 0h1m0 0h1m0 0h1m0 0h1m0 0h1m0 0h1m-8 1h1m0 0h1m0 0h1m0 0h1m0 0h1m0 0h1m0 0h1m0 0h1m0 0h1m-9 1h1m0 0h1m0 0h1m0 0h1m0 0h1m0 0h1m0 0h1m0 0h1m0 0h1m-9 1h1m0 0h1m0 0h1m5 0h1m0 0h1m-10 1h1m0 0h1m7 0h1m0 0h1m-10 1h1m7 0h1m0 0h1m0 0h1m-10 1h1m7 0h1m0 0h1m-11 1h1m0 0h1m0 0h1m8 0h1m-12 1h1m0 0h1m8 0h1m0 0h1m-11 1h1m1 0h1m5 0h1m0 0h1m0 0h1m-11 1h1m0 0h1m0 0h1m5 0h1m0 0h1m-9 1h1m0 0h1m0 0h1m0 0h1m0 0h1m0 0h1m0 0h1m0 0h1m0 0h1m-7 1h1m0 0h1m0 0h1m0 0h1m0 0h1m0 0h1m0 0h1m-5 1h1m0 0h1" stroke="#58c948" stroke-width="1.1" fill="none"/>
<path d="M1000 85h1m1 0h1m0 0h1m0 0h1m-6 1h1m0 0h1m1 0h1m0 0h1m0 0h1m-6 1h1m0 0h1m0 0h1m1 0h1m1 0h1m-6 1h1m0 0h1m0 0h1m1 0h1m0 0h1m0 0h1m-6 1h1m0 0h1m0 0h1m0 0h1m0 0h1m0 0h1m-7 1h1m0 0h1m0 0h1m0 0h1m0 0h1m0 0h1m0 0h1m0 0h1m-6 1h1m0 0h1m0 0h1m0 0h1m0 0h1m-5 1h1m0 0h1m0 0h1m0 0h1m0 0h1" stroke="#accc30" stroke-width="1.1" fill="none"/>
<rect x="908" y="49.3" width="60" height="73.4" fill="none" stroke="#2e7d44" stroke-width="2.4" rx="1.5"/>
<rect x="976.8" y="49.3" width="59.2" height="73.9" fill="none" stroke="#8b3a3a" stroke-width="2.4" rx="1.5"/>
<text x="936" y="154.7" font-size="25" text-anchor="middle" class="k" textLength="27" lengthAdjust="spacingAndGlyphs">S2</text>
<text x="1004" y="154.7" font-size="25" text-anchor="middle" class="k" textLength="25" lengthAdjust="spacingAndGlyphs">S1</text>
<text x="853.5" y="223.5" font-size="16.5" class="k" textLength="117" lengthAdjust="spacingAndGlyphs" transform="rotate(-90 853.5 223.5)">Pdpn-APC-Cy7</text>
<line x1="844" y1="101.3" x2="844" y2="45.7" stroke="#000" stroke-width="1.6"/>
<path d="M844 28L837.3 46.7L850.7 46.7Z" fill="#000"/>
<text x="879.2" y="269.3" font-size="16.5" class="k" textLength="105.6" lengthAdjust="spacingAndGlyphs">Dpp4-PE-Cy7</text>
<line x1="989.3" y1="264" x2="1060.7" y2="264" stroke="#000" stroke-width="1.6"/>
<path d="M1078.7 264L1059.7 257.5L1059.7 270.5Z" fill="#000"/>
<rect x="458.9" y="343.1" width="201.2" height="201.3" fill="#fff" stroke="#7d7d7d" stroke-width="1.2"/>
<path d="M470.6 544.4v5.5M507.4 544.4v5.5M536.9 544.4v5.5M592 544.4v5.5M640 544.4v5.5" stroke="#111" stroke-width="1.3" fill="none"/>
<path d="M478 544.4v3.0M486 544.4v3.0M491 544.4v3.0M495 544.4v3.0M498 544.4v3.0M500 544.4v3.0M502 544.4v3.0M504 544.4v3.0M509 544.4v3.0M511 544.4v3.0M513 544.4v3.0M516 544.4v3.0M520 544.4v3.0M524 544.4v3.0M528 544.4v3.0M532 544.4v3.0M553.5 544.4v3.0M563.2 544.4v3.0M570.1 544.4v3.0M575.4 544.4v3.0M579.8 544.4v3.0M583.5 544.4v3.0M586.7 544.4v3.0M589.5 544.4v3.0M606.4 544.4v3.0M614.9 544.4v3.0M620.9 544.4v3.0M625.6 544.4v3.0M629.4 544.4v3.0M632.6 544.4v3.0M635.3 544.4v3.0M637.8 544.4v3.0M654.4 544.4v3.0M503.3 544.4v3.0M511.8 544.4v3.0M517.8 544.4v3.0M522.5 544.4v3.0M526.3 544.4v3.0M529.5 544.4v3.0M532.2 544.4v3.0M534.7 544.4v3.0" stroke="#222" stroke-width="0.9" fill="none"/>
<text x="472.6" y="561.4" font-size="9" text-anchor="middle" fill="#111">-10<tspan dy="-4" font-size="7.2">3</tspan></text>
<text x="509.4" y="561.4" font-size="9" text-anchor="middle" fill="#222">0</text>
<text x="538.9" y="561.4" font-size="9" text-anchor="middle" fill="#111">10<tspan dy="-4" font-size="7.2">3</tspan></text>
<text x="594" y="561.4" font-size="9" text-anchor="middle" fill="#111">10<tspan dy="-4" font-size="7.2">4</tspan></text>
<text x="642" y="561.4" font-size="9" text-anchor="middle" fill="#111">10<tspan dy="-4" font-size="7.2">5</tspan></text>
<path d="M458.9 523.1h-5.5M458.9 482h-5.5M458.9 441.9h-5.5M458.9 401.4h-5.5M458.9 361h-5.5" stroke="#111" stroke-width="1.3" fill="none"/>
<path d="M458.9 510.7h-3.0M458.9 503.5h-3.0M458.9 498.4h-3.0M458.9 494.4h-3.0M458.9 491.1h-3.0M458.9 488.4h-3.0M458.9 486h-3.0M458.9 483.9h-3.0M458.9 469.9h-3.0M458.9 462.9h-3.0M458.9 457.9h-3.0M458.9 454h-3.0M458.9 450.8h-3.0M458.9 448.1h-3.0M458.9 445.8h-3.0M458.9 443.7h-3.0M458.9 429.7h-3.0M458.9 422.6h-3.0M458.9 417.5h-3.0M458.9 413.6h-3.0M458.9 410.4h-3.0M458.9 407.7h-3.0M458.9 405.3h-3.0M458.9 403.3h-3.0M458.9 389.2h-3.0M458.9 382.1h-3.0M458.9 377.1h-3.0M458.9 373.2h-3.0M458.9 370h-3.0M458.9 367.3h-3.0M458.9 364.9h-3.0M458.9 362.8h-3.0M458.9 348.8h-3.0M458.9 544.2h-3.0M458.9 539.2h-3.0M458.9 535.3h-3.0M458.9 532.1h-3.0M458.9 529.4h-3.0M458.9 527h-3.0M458.9 524.9h-3.0" stroke="#222" stroke-width="0.9" fill="none"/>
<text x="448.9" y="527.1" font-size="7.8" text-anchor="end" fill="#111">10<tspan dy="-3.5" font-size="6.2">1</tspan></text>
<text x="448.9" y="486" font-size="7.8" text-anchor="end" fill="#111">10<tspan dy="-3.5" font-size="6.2">2</tspan></text>
<text x="448.9" y="445.9" font-size="7.8" text-anchor="end" fill="#111">10<tspan dy="-3.5" font-size="6.2">3</tspan></text>
<text x="448.9" y="405.4" font-size="7.8" text-anchor="end" fill="#111">10<tspan dy="-3.5" font-size="6.2">4</tspan></text>
<text x="448.9" y="365" font-size="7.8" text-anchor="end" fill="#111">10<tspan dy="-3.5" font-size="6.2">5</tspan></text>
<rect x="668" y="343.1" width="201.6" height="201.3" fill="#fff" stroke="#7d7d7d" stroke-width="1.2"/>
<path d="M679.7 544.4v5.5M716.5 544.4v5.5M746 544.4v5.5M801.1 544.4v5.5M849.1 544.4v5.5" stroke="#111" stroke-width="1.3" fill="none"/>
<path d="M687.1 544.4v3.0M695.1 544.4v3.0M700.1 544.4v3.0M704.1 544.4v3.0M707.1 544.4v3.0M709.1 544.4v3.0M711.1 544.4v3.0M713.1 544.4v3.0M718.1 544.4v3.0M720.1 544.4v3.0M722.1 544.4v3.0M725.1 544.4v3.0M729.1 544.4v3.0M733.1 544.4v3.0M737.1 544.4v3.0M741.1 544.4v3.0M762.6 544.4v3.0M772.3 544.4v3.0M779.2 544.4v3.0M784.5 544.4v3.0M788.9 544.4v3.0M792.6 544.4v3.0M795.8 544.4v3.0M798.6 544.4v3.0M815.5 544.4v3.0M824 544.4v3.0M830 544.4v3.0M834.7 544.4v3.0M838.5 544.4v3.0M841.7 544.4v3.0M844.4 544.4v3.0M846.9 544.4v3.0M863.5 544.4v3.0M712.4 544.4v3.0M720.9 544.4v3.0M726.9 544.4v3.0M731.6 544.4v3.0M735.4 544.4v3.0M738.6 544.4v3.0M741.3 544.4v3.0M743.8 544.4v3.0" stroke="#222" stroke-width="0.9" fill="none"/>
<text x="681.7" y="561.4" font-size="9" text-anchor="middle" fill="#111">-10<tspan dy="-4" font-size="7.2">3</tspan></text>
<text x="718.5" y="561.4" font-size="9" text-anchor="middle" fill="#222">0</text>
<text x="748" y="561.4" font-size="9" text-anchor="middle" fill="#111">10<tspan dy="-4" font-size="7.2">3</tspan></text>
<text x="803.1" y="561.4" font-size="9" text-anchor="middle" fill="#111">10<tspan dy="-4" font-size="7.2">4</tspan></text>
<text x="851.1" y="561.4" font-size="9" text-anchor="middle" fill="#111">10<tspan dy="-4" font-size="7.2">5</tspan></text>
<path d="M668 523.1h-5.5M668 482h-5.5M668 441.9h-5.5M668 401.4h-5.5M668 361h-5.5" stroke="#111" stroke-width="1.3" fill="none"/>
<path d="M668 510.7h-3.0M668 503.5h-3.0M668 498.4h-3.0M668 494.4h-3.0M668 491.1h-3.0M668 488.4h-3.0M668 486h-3.0M668 483.9h-3.0M668 469.9h-3.0M668 462.9h-3.0M668 457.9h-3.0M668 454h-3.0M668 450.8h-3.0M668 448.1h-3.0M668 445.8h-3.0M668 443.7h-3.0M668 429.7h-3.0M668 422.6h-3.0M668 417.5h-3.0M668 413.6h-3.0M668 410.4h-3.0M668 407.7h-3.0M668 405.3h-3.0M668 403.3h-3.0M668 389.2h-3.0M668 382.1h-3.0M668 377.1h-3.0M668 373.2h-3.0M668 370h-3.0M668 367.3h-3.0M668 364.9h-3.0M668 362.8h-3.0M668 348.8h-3.0M668 544.2h-3.0M668 539.2h-3.0M668 535.3h-3.0M668 532.1h-3.0M668 529.4h-3.0M668 527h-3.0M668 524.9h-3.0" stroke="#222" stroke-width="0.9" fill="none"/>
<rect x="877.8" y="343.1" width="201.6" height="201.3" fill="#fff" stroke="#7d7d7d" stroke-width="1.2"/>
<path d="M889.5 544.4v5.5M926.3 544.4v5.5M955.8 544.4v5.5M1010.9 544.4v5.5M1058.9 544.4v5.5" stroke="#111" stroke-width="1.3" fill="none"/>
<path d="M896.9 544.4v3.0M904.9 544.4v3.0M909.9 544.4v3.0M913.9 544.4v3.0M916.9 544.4v3.0M918.9 544.4v3.0M920.9 544.4v3.0M922.9 544.4v3.0M927.9 544.4v3.0M929.9 544.4v3.0M931.9 544.4v3.0M934.9 544.4v3.0M938.9 544.4v3.0M942.9 544.4v3.0M946.9 544.4v3.0M950.9 544.4v3.0M972.4 544.4v3.0M982.1 544.4v3.0M989 544.4v3.0M994.3 544.4v3.0M998.7 544.4v3.0M1002.4 544.4v3.0M1005.6 544.4v3.0M1008.4 544.4v3.0M1025.3 544.4v3.0M1033.8 544.4v3.0M1039.8 544.4v3.0M1044.5 544.4v3.0M1048.3 544.4v3.0M1051.5 544.4v3.0M1054.2 544.4v3.0M1056.7 544.4v3.0M1073.3 544.4v3.0M922.2 544.4v3.0M930.7 544.4v3.0M936.7 544.4v3.0M941.4 544.4v3.0M945.2 544.4v3.0M948.4 544.4v3.0M951.1 544.4v3.0M953.6 544.4v3.0" stroke="#222" stroke-width="0.9" fill="none"/>
<text x="891.5" y="561.4" font-size="9" text-anchor="middle" fill="#111">-10<tspan dy="-4" font-size="7.2">3</tspan></text>
<text x="928.3" y="561.4" font-size="9" text-anchor="middle" fill="#222">0</text>
<text x="957.8" y="561.4" font-size="9" text-anchor="middle" fill="#111">10<tspan dy="-4" font-size="7.2">3</tspan></text>
<text x="1012.9" y="561.4" font-size="9" text-anchor="middle" fill="#111">10<tspan dy="-4" font-size="7.2">4</tspan></text>
<text x="1060.9" y="561.4" font-size="9" text-anchor="middle" fill="#111">10<tspan dy="-4" font-size="7.2">5</tspan></text>
<path d="M877.8 523.1h-5.5M877.8 482h-5.5M877.8 441.9h-5.5M877.8 401.4h-5.5M877.8 361h-5.5" stroke="#111" stroke-width="1.3" fill="none"/>
<path d="M877.8 510.7h-3.0M877.8 503.5h-3.0M877.8 498.4h-3.0M877.8 494.4h-3.0M877.8 491.1h-3.0M877.8 488.4h-3.0M877.8 486h-3.0M877.8 483.9h-3.0M877.8 469.9h-3.0M877.8 462.9h-3.0M877.8 457.9h-3.0M877.8 454h-3.0M877.8 450.8h-3.0M877.8 448.1h-3.0M877.8 445.8h-3.0M877.8 443.7h-3.0M877.8 429.7h-3.0M877.8 422.6h-3.0M877.8 417.5h-3.0M877.8 413.6h-3.0M877.8 410.4h-3.0M877.8 407.7h-3.0M877.8 405.3h-3.0M877.8 403.3h-3.0M877.8 389.2h-3.0M877.8 382.1h-3.0M877.8 377.1h-3.0M877.8 373.2h-3.0M877.8 370h-3.0M877.8 367.3h-3.0M877.8 364.9h-3.0M877.8 362.8h-3.0M877.8 348.8h-3.0M877.8 544.2h-3.0M877.8 539.2h-3.0M877.8 535.3h-3.0M877.8 532.1h-3.0M877.8 529.4h-3.0M877.8 527h-3.0M877.8 524.9h-3.0" stroke="#222" stroke-width="0.9" fill="none"/>
<path d="M600 360h1m-37 1h1m45 1h1m-31 2h1m21 0h1m6 0h1m-20 1h1m9 0h1m16 0h1m-37 2h1m-2 2h1m25 0h1m9 0h1m-11 1h1m8 0h1m5 0h1m6 1h1m-9 1h1m-13 1h1m9 1h1m-10 1h1m1 0h1m0 0h1m-44 2h1m41 1h1m-55 1h1m58 0h1m-8 1h1m4 0h1m4 0h1m-11 1h1m9 1h1m-63 1h1m6 0h1m50 0h1m-54 1h1m-13 1h1m8 1h1m71 0h1m-69 1h1m-10 1h1m53 0h1m-2 1h1m1 0h1m-48 1h1m54 0h1m-75 2h1m14 0h1m40 1h1m31 0h1m-72 1h1m47 0h1m-13 2h1m-8 2h1m5 0h1m-37 1h1m5 0h1m29 0h1m-29 1h1m16 0h1m-18 1h1m1 0h1m2 0h1m-1 1h1m9 0h1m-31 1h1m24 0h1m17 3h1m-41 1h1m-46 11h1m10 2h1m14 0h1m-10 8h1m-23 3h1m-4 32h1m13 3h1m-15 8h1m47 2h1" stroke="#373cd9" stroke-width="1.1" fill="none"/>
<path d="M594 366h1m0 1h1m7 0h1m-13 1h1m0 0h1m-10 1h1m1 0h1m-6 1h1m3 0h1m19 2h1m1 0h1m0 0h1m-31 1h1m31 1h1m-36 1h1m0 0h1m31 0h1m-36 1h1m35 0h1m-41 2h1m2 0h1m36 0h1m-39 1h1m36 0h1m-41 1h1m39 0h1m-43 3h1m40 0h1m-42 1h1m42 0h1m-45 1h1m0 0h1m39 0h1m-2 1h1m0 1h1m-41 1h1m0 0h1m37 1h1m0 0h1m-42 1h1m0 0h1m37 0h1m1 0h1m-5 1h1m2 0h1m-6 1h1m-34 1h1m-1 1h1m0 0h1m1 0h1m-4 1h1m2 0h1m22 0h1m-27 1h1m7 0h1m-7 1h1m1 0h1m0 0h1m3 0h1m-7 1h1m4 0h1m0 0h1m0 0h1m0 0h1m0 0h1m1 0h1m1 0h1m-9 1h1m3 0h1m1 0h1m-9 1h1m4 0h1m3 0h1m-7 1h1" stroke="#3140d2" stroke-width="1.1" fill="none"/>
<path d="M595 368h1m-3 1h1m2 0h1m2 0h1m0 0h1m0 0h1m0 0h1m-16 1h1m0 0h1m3 0h1m0 0h1m2 0h1m4 0h1m-1 1h1m0 0h1m0 0h1m-23 1h1m-1 1h1m21 0h1m1 0h1m-30 1h1m1 0h1m0 0h1m23 0h1m0 0h1m0 0h1m-29 1h1m26 0h1m-32 2h1m30 0h1m-1 1h1m-34 1h1m0 0h1m0 0h1m-2 1h1m-3 2h1m33 0h1m-36 1h1m0 0h1m0 0h1m31 0h1m0 0h1m-38 1h1m0 0h1m0 0h1m34 0h1m0 0h1m-39 1h1m0 0h1m33 0h1m-37 1h1m0 0h1m0 0h1m0 0h1m31 0h1m1 0h1m-36 1h1m31 0h1m-34 1h1m0 0h1m31 0h1m-34 1h1m0 0h1m0 0h1m29 0h1m0 0h1m-31 1h1m25 0h1m0 0h1m1 0h1m-31 1h1m0 1h1m23 0h1m0 0h1m0 0h1m-27 1h1m20 0h1m0 0h1m0 0h1m-23 1h1m3 0h1m15 0h1m2 0h1m-23 1h1m12 0h1m1 0h1m0 0h1m-18 1h1m3 0h1m5 0h1m2 0h1m0 0h1" stroke="#2b44cb" stroke-width="1.1" fill="none"/>
<path d="M590 370h1m3 0h1m3 0h1m1 0h1m-14 1h1m0 0h1m3 0h1m0 0h1m0 0h1m1 0h1m0 0h1m1 0h1m0 0h1m-6 1h1m-13 1h1m0 0h1m17 0h1m-21 1h1m19 0h1m-1 1h1m-25 1h1m0 0h1m22 1h1m0 0h1m-31 1h1m1 0h1m-2 1h1m28 1h1m0 0h1m-3 1h1m1 0h1m-32 1h1m29 0h1m-2 1h1m-33 1h1m0 0h1m29 0h1m-32 1h1m29 0h1m-2 1h1m-30 1h1m0 0h1m27 0h1m-31 1h1m0 0h1m28 0h1m-30 1h1m1 1h1m21 0h1m0 0h1m-26 1h1m0 0h1m1 0h1m-2 1h1m0 0h1m3 0h1m13 0h1m-19 1h1m1 0h1m6 0h1m0 0h1m0 0h1m5 0h1m-15 1h1m1 0h1m3 0h1m2 0h1m0 0h1m0 0h1m-9 1h1m1 0h1m0 0h1" stroke="#2657ca" stroke-width="1.1" fill="none"/>
<path d="M591 371h1m-5 1h1m1 0h1m0 0h1m3 0h1m1 0h1m1 0h1m0 0h1m-14 1h1m0 0h1m1 0h1m7 0h1m0 0h1m0 0h1m0 0h1m-17 1h1m15 0h1m0 1h1m-1 1h1m0 0h1m-26 1h1m0 0h1m0 0h1m21 0h1m-26 1h1m0 0h1m0 0h1m-4 1h1m1 0h1m-3 1h1m25 0h1m-26 1h1m-5 1h1m1 0h1m26 0h1m-30 1h1m1 0h1m-3 1h1m27 0h1m-3 1h1m-28 1h1m0 0h1m25 0h1m-27 1h1m25 0h1m-28 1h1m0 0h1m22 0h1m0 0h1m0 0h1m-27 1h1m0 0h1m0 0h1m0 0h1m0 0h1m17 0h1m1 0h1m-20 1h1m16 0h1m-19 1h1m0 0h1m0 0h1m13 0h1m-17 1h1m2 0h1m5 0h1m1 0h1m-9 1h1m0 0h1m5 0h1m1 0h1m0 0h1m0 0h1" stroke="#2179cf" stroke-width="1.1" fill="none"/>
<path d="M588 373h1m1 0h1m2 0h1m0 0h1m0 0h1m-10 1h1m1 0h1m2 0h1m1 0h1m1 0h1m1 0h1m0 0h1m0 0h1m-18 1h1m0 0h1m12 0h1m3 1h1m-21 1h1m0 0h1m0 0h1m17 0h1m-21 1h1m18 0h1m1 0h1m-23 1h1m20 0h1m0 0h1m-25 1h1m22 0h1m-26 1h1m23 0h1m1 0h1m-2 1h1m-28 2h1m0 0h1m23 0h1m-26 1h1m0 0h1m22 0h1m-24 1h1m-2 1h1m0 0h1m20 0h1m0 0h1m-23 1h1m19 0h1m-20 2h1m16 0h1m-15 1h1m0 0h1m0 0h1m0 0h1m7 0h1m0 0h1m-12 1h1m0 0h1m0 0h1m0 0h1m0 0h1m3 0h1" stroke="#219bc6" stroke-width="1.1" fill="none"/>
<path d="M587 374h1m2 0h1m3 0h1m-10 1h1m0 0h1m0 0h1m1 0h1m4 0h1m0 0h1m-13 1h1m0 0h1m0 0h1m11 0h1m0 0h1m0 0h1m-15 1h1m11 0h1m0 0h1m0 0h1m-19 1h1m15 0h1m-20 1h1m2 0h1m17 0h1m-21 1h1m0 0h1m18 0h1m-2 1h1m-23 1h1m20 0h1m1 0h1m-24 1h1m21 0h1m-24 1h1m21 0h1m-23 1h1m-1 1h1m19 0h1m0 0h1m-22 1h1m17 0h1m-19 1h1m0 0h1m14 0h1m-16 1h1m0 0h1m0 0h1m0 0h1m-3 1h1m1 0h1m0 0h1m8 0h1m0 0h1m-8 1h1m2 0h1m0 0h1m0 0h1" stroke="#27bbad" stroke-width="1.1" fill="none"/>
<path d="M588 375h1m1 0h1m0 0h1m0 0h1m-7 1h1m2 0h1m4 0h1m0 0h1m0 0h1m-13 1h1m9 0h1m0 0h1m0 0h1m-15 1h1m0 0h1m0 0h1m13 0h1m-19 1h1m1 0h1m14 0h1m0 0h1m-21 2h1m0 0h1m0 0h1m16 0h1m-21 1h1m0 0h1m0 0h1m18 0h1m-22 1h1m0 0h1m18 0h1m-22 1h1m0 0h1m18 0h1m-21 1h1m0 0h1m0 0h1m15 0h1m0 0h1m0 0h1m-21 1h1m0 0h1m15 0h1m-17 1h1m0 0h1m0 0h1m-2 1h1m0 0h1m12 0h1m-13 1h1m0 0h1m0 0h1m5 0h1m0 0h1m0 0h1m0 0h1m-7 1h1m0 0h1m0 0h1m0 0h1" stroke="#34c476" stroke-width="1.1" fill="none"/>
<path d="M587 376h1m0 0h1m1 0h1m0 0h1m0 0h1m-7 1h1m0 0h1m3 0h1m0 0h1m0 0h1m-8 1h1m8 0h1m0 0h1m-14 1h1m0 0h1m0 0h1m9 0h1m0 0h1m-16 1h1m0 0h1m13 0h1m0 0h1m-2 1h1m-17 1h1m15 0h1m-18 1h1m14 0h1m0 0h1m0 0h1m-19 1h1m0 0h1m12 0h1m0 0h1m0 0h1m0 0h1m-17 1h1m13 0h1m-15 1h1m0 0h1m-1 1h1m11 0h1m-13 1h1m0 0h1m0 0h1m7 0h1m-8 1h1m1 0h1m0 0h1m0 0h1" stroke="#58c948" stroke-width="1.1" fill="none"/>
<path d="M588 377h1m0 0h1m0 0h1m-6 1h1m1 0h1m1 0h1m2 0h1m0 0h1m-8 1h1m1 0h1m3 0h1m0 0h1m0 0h1m-12 1h1m0 0h1m9 0h1m0 0h1m-15 1h1m0 0h1m0 0h1m10 0h1m0 0h1m-15 1h1m0 0h1m11 0h1m0 0h1m-15 1h1m0 0h1m10 0h1m-14 1h1m0 0h1m-2 1h1m0 0h1m0 0h1m9 0h1m-12 1h1m0 0h1m0 0h1m7 0h1m0 0h1m-12 1h1m0 0h1m0 0h1m4 0h1m0 0h1m0 0h1m0 0h1m-9 1h1m1 0h1m0 0h1m0 0h1m0 0h1m0 0h1" stroke="#accc30" stroke-width="1.1" fill="none"/>
<path d="M588 378h1m1 0h1m0 0h1m-5 1h1m1 0h1m0 0h1m0 0h1m-7 1h1m0 0h1m0 0h1m0 0h1m0 0h1m0 0h1m0 0h1m0 0h1m0 0h1m-10 1h1m0 0h1m0 0h1m0 0h1m3 0h1m0 0h1m0 0h1m-11 1h1m0 0h1m5 0h1m0 0h1m0 0h1m0 0h1m-11 1h1m6 0h1m0 0h1m0 0h1m-11 1h1m0 0h1m6 0h1m0 0h1m-9 1h1m0 0h1m4 0h1m0 0h1m0 0h1m-8 1h1m0 0h1m0 0h1m0 0h1m0 0h1m0 0h1m0 0h1m-7 1h1m0 0h1m0 0h1m0 0h1" stroke="#dba91d" stroke-width="1.1" fill="none"/>
<path d="M588 381h1m0 0h1m0 0h1m-6 1h1m0 0h1m0 0h1m0 0h1m0 0h1m-6 1h1m0 0h1m0 0h1m0 0h1m0 0h1m-5 1h1m0 0h1m0 0h1m0 0h1m0 0h1m0 0h1m-5 1h1m0 0h1m0 0h1" stroke="#e65712" stroke-width="1.1" fill="none"/>
<path d="M784 355h1m-15 2h1m0 5h1m0 7h1m4 1h1m13 0h1m-20 3h1m31 0h1m-34 1h1m-17 1h1m32 0h1m-46 1h1m9 0h1m8 0h1m28 0h1m-8 1h1m3 0h1m-41 1h1m24 0h1m0 0h1m10 0h1m2 0h1m-2 1h1m-27 1h1m33 0h1m-38 1h1m16 0h1m25 0h1m-42 1h1m9 0h1m-28 1h1m17 0h1m27 0h1m-13 1h1m-22 1h1m49 0h1m-51 1h1m4 0h1m5 0h1m21 0h1m18 0h1m-19 1h1m-43 1h1m3 0h1m3 0h1m33 0h1m5 0h1m-35 1h1m33 0h1m-47 1h1m15 0h1m30 0h1m3 0h1m1 0h1m5 0h1m-2 1h1m-51 1h1m37 0h1m-45 1h1m8 0h1m29 0h1m9 0h1m4 0h1m-10 1h1m-50 1h1m48 0h1m-50 1h1m6 1h1m-2 1h1m0 2h1m44 1h1m-47 1h1m44 0h1m1 1h1m-60 1h1m11 2h1m58 0h1m-84 1h1m70 1h1m4 0h1m-77 1h1m4 0h1m14 0h1m60 1h1m-69 1h1m10 0h1m40 0h1m-55 1h1m6 0h1m6 0h1m42 0h1m4 0h1m-53 1h1m50 0h1m6 0h1m-68 1h1m1 0h1m1 0h1m39 0h1m-51 1h1m12 0h1m7 0h1m25 0h1m-38 1h1m37 0h1m0 0h1m-41 1h1m1 0h1m-6 1h1m10 0h1m34 1h1m3 0h1m0 0h1m0 0h1m-36 1h1m-16 1h1m2 0h1m-4 1h1m1 0h1m1 0h1m-14 1h1m23 0h1m8 0h1m12 0h1m-47 1h1m12 0h1m4 0h1m34 0h1m-50 1h1m1 0h1m23 0h1m3 0h1m7 0h1m-31 1h1m7 0h1m24 1h1m0 0h1m12 0h1m-47 2h1m6 0h1m2 0h1m15 0h1m-26 1h1m0 0h1m17 0h1m3 0h1m1 0h1m-35 1h1m18 0h1m-17 1h1m2 0h1m24 0h1m0 0h1m-30 1h1m3 0h1m20 0h1m-38 1h1m1 1h1m4 0h1m5 0h1m19 0h1m1 0h1m-13 1h1m4 0h1m3 0h1m-33 1h1m14 0h1m22 0h1m-29 1h1m3 0h1m2 0h1m10 0h1m1 0h1m25 0h1m-36 1h1m4 0h1m1 0h1m-46 1h1m16 0h1m8 0h1m4 0h1m14 0h1m6 0h1m11 0h1m7 0h1m-40 1h1m11 0h1m31 0h1m-56 1h1m8 0h1m-34 3h1m34 0h1m0 0h1m-13 1h1m3 0h1m15 0h1m12 0h1m-20 1h1m5 0h1m1 0h1m24 0h1m5 0h1m-64 1h1m39 0h1m2 0h1m-44 1h1m10 0h1m9 0h1m3 0h1m-22 1h1m12 0h1m-5 1h1m9 0h1m14 0h1m-20 2h1m6 0h1m4 0h1m13 0h1m-41 1h1m21 0h1m0 0h1m17 0h1m-36 1h1m26 0h1m-30 1h1m-23 1h1m27 0h1m24 1h1m10 0h1m-33 2h1m13 1h1m-9 1h1m4 1h1m2 0h1m-20 1h1m2 0h1m6 0h1m22 0h1m-35 1h1m24 0h1m10 0h1m-7 2h1m-10 1h1m-4 1h1m5 0h1m-19 1h1m2 1h1m1 0h1m14 0h1m-6 2h1m4 1h1m-31 1h1m12 0h1m7 1h1m-4 1h1m-16 4h1m11 0h1m9 1h1m-2 1h1m0 0h1m-40 1h1m38 2h1m12 2h1m27 0h1m-72 1h1m9 0h1m-3 2h1m9 0h1m5 5h1m-2 1h1m-10 2h1m24 2h1m-16 1h1m-19 2h1m6 1h1m11 6h1m1 0h1m-7 9h1m-5 1h1m9 1h1m-13 20h1" stroke="#373cd9" stroke-width="1.1" fill="none"/>
<path d="M785 380h1m-1 1h1m-2 1h1m-4 1h1m0 1h1m1 0h1m-6 1h1m-2 1h1m2 0h1m1 0h1m-12 1h1m-3 1h1m1 0h1m1 0h1m3 0h1m6 0h1m-19 1h1m3 0h1m6 0h1m1 0h1m-26 1h1m0 0h1m12 0h1m0 0h1m2 0h1m-20 1h1m14 0h1m15 0h1m0 0h1m-33 1h1m13 0h1m1 0h1m15 0h1m-1 1h1m-30 1h1m6 1h1m3 0h1m19 0h1m-21 1h1m15 0h1m-24 1h1m22 0h1m-26 1h1m23 0h1m8 0h1m2 0h1m-40 1h1m4 0h1m1 0h1m1 0h1m0 0h1m23 0h1m1 0h1m3 0h1m-37 1h1m16 0h1m2 0h1m0 0h1m1 0h1m5 0h1m3 0h1m-35 1h1m34 0h1m-36 1h1m1 0h1m15 0h1m13 0h1m-11 1h1m1 0h1m5 0h1m-12 1h1m5 0h1m2 0h1m3 0h1m-33 1h1m16 0h1m0 0h1m3 0h1m0 0h1m3 0h1m5 0h1m0 0h1m-16 1h1m0 0h1m3 0h1m10 0h1m-20 1h1m13 0h1m-30 1h1m5 0h1m12 0h1m2 0h1m7 0h1m-29 1h1m11 0h1m8 0h1m-25 1h1m12 0h1m0 0h1m3 0h1m1 0h1m2 0h1m2 0h1m3 0h1m-31 1h1m0 0h1m6 0h1m15 0h1m6 0h1m-32 1h1m11 0h1m7 0h1m-21 1h1m0 0h1m4 0h1m8 0h1m0 0h1m0 0h1m9 0h1m3 0h1m0 0h1m1 0h1m-31 1h1m0 0h1m6 0h1m2 0h1m18 0h1m-25 1h1m2 0h1m0 0h1m19 0h1m0 0h1m-36 1h1m3 0h1m13 0h1m-15 1h1m-3 1h1m1 0h1m2 0h1m3 0h1m10 0h1m-13 1h1m1 0h1m4 0h1m1 0h1m-17 1h1m0 0h1m11 0h1m0 0h1m-4 1h1m-10 1h1m7 0h1m4 0h1m-15 1h1m5 0h1m4 0h1m-14 1h1m3 0h1m7 0h1m-17 1h1m5 0h1m-7 1h1m2 1h1m-3 1h1" stroke="#3140d2" stroke-width="1.1" fill="none"/>
<path d="M779 390h1m4 0h1m-4 1h1m-11 1h1m0 0h1m1 0h1m3 0h1m4 0h1m-12 1h1m1 0h1m4 0h1m0 0h1m2 0h1m0 0h1m-14 1h1m2 0h1m1 0h1m4 0h1m0 0h1m0 0h1m-15 1h1m2 0h1m1 0h1m5 0h1m1 0h1m-10 1h1m0 0h1m1 0h1m2 0h1m0 0h1m-12 1h1m5 0h1m1 0h1m0 0h1m1 0h1m-10 1h1m2 0h1m3 0h1m-9 1h1m0 0h1m-5 1h1m8 0h1m-6 1h1m0 0h1m3 0h1m-12 1h1m3 0h1m0 0h1m1 0h1m-10 1h1m2 0h1m3 0h1m0 0h1m-10 1h1m1 0h1m6 0h1m-8 1h1m0 0h1m4 0h1m-7 1h1m4 0h1m-6 1h1m3 0h1m1 0h1m2 0h1m-7 1h1m0 0h1m1 1h1m4 6h1m-1 1h1m-2 1h1m1 0h1m0 0h1" stroke="#2b44cb" stroke-width="1.1" fill="none"/>
<path d="M769 404h1m-2 1h1" stroke="#2657ca" stroke-width="1.1" fill="none"/>
<path d="M948 370h1m52 15h1m-6 1h1m-33 1h1m14 4h1m2 0h1m37 0h1m-55 2h1m5 1h1m6 0h1m-5 1h1m23 1h1m-29 1h1m14 0h1m10 0h1m-39 2h1m25 1h1m-38 3h1m3 1h1m52 1h1m-55 1h1m-12 1h1m73 1h1m-75 3h1m14 0h1m41 0h1m-11 1h1m-63 2h1m11 0h1m54 0h1m-53 3h1m45 0h1m-39 2h1m31 0h1m32 0h1m-96 1h1m35 0h1m26 0h1m-22 3h1m-17 3h1m14 0h1m15 1h1m-31 2h1m0 1h1m2 1h1m-18 1h1m-26 1h1m31 0h1m-4 1h1m36 2h1m9 2h1m-51 7h1m61 1h1m-54 1h1m4 0h1m10 2h1m0 0h1m0 2h1m-18 1h1m-8 2h1m39 2h1m-12 1h1m2 0h1m-26 6h1m26 1h1m-60 1h1m35 3h1m17 4h1m-28 2h1m7 0h1m26 1h1m-30 1h1m4 0h1m2 0h1m-24 1h1m28 4h1m-37 1h1m34 0h1m-35 7h1m37 1h1m-14 1h1m5 5h1m18 0h1m-17 2h1m-20 8h1m-4 7h1" stroke="#373cd9" stroke-width="1.1" fill="none"/>
<path d="M967 398h1m1 0h1m-8 2h1m14 2h1m3 0h1m8 0h1m-16 1h1m0 0h1m3 0h1m-33 1h1m9 0h1m27 0h1m5 0h1m-23 1h1m5 0h1m13 0h1m-9 1h1m0 0h1m7 0h1m-20 1h1m0 0h1m6 0h1m8 0h1m-29 1h1m5 0h1m13 0h1m12 0h1m-24 1h1m11 0h1m10 0h1m-49 1h1m16 0h1m-18 1h1m-2 1h1m16 0h1m3 0h1m-8 1h1m-11 1h1m7 0h1m10 0h1m0 0h1m-26 1h1m4 0h1m5 0h1m19 0h1m-32 1h1m5 0h1m2 0h1m4 0h1m10 0h1m0 0h1m-8 1h1m11 0h1m-15 1h1m5 1h1m8 0h1m-12 1h1m2 0h1m6 0h1m-11 1h1m0 1h1" stroke="#3140d2" stroke-width="1.1" fill="none"/>
<path d="M963 402h1m-3 1h1m0 0h1m-2 1h1m0 0h1m2 1h1m1 0h1m-7 2h1m3 0h1m-6 8h1m0 0h1m-2 2h1" stroke="#2b44cb" stroke-width="1.1" fill="none"/>
<line x1="568.6" y1="343.1" x2="568.6" y2="544.4" stroke="#111" stroke-width="1.5"/>
<line x1="458.9" y1="399" x2="660.1" y2="399" stroke="#111" stroke-width="1.5"/>
<line x1="778.4" y1="343.1" x2="778.4" y2="544.4" stroke="#111" stroke-width="1.5"/>
<line x1="668" y1="399" x2="869.6" y2="399" stroke="#111" stroke-width="1.5"/>
<line x1="988.6" y1="343.1" x2="988.6" y2="544.4" stroke="#111" stroke-width="1.5"/>
<line x1="877.8" y1="399" x2="1079.4" y2="399" stroke="#111" stroke-width="1.5"/>
<text x="569" y="335" font-size="25" text-anchor="middle" class="k" textLength="97.7" lengthAdjust="spacingAndGlyphs">Gated S1</text>
<text x="773.4" y="335" font-size="25" text-anchor="middle" class="k" textLength="97.7" lengthAdjust="spacingAndGlyphs">Gated S2</text>
<text x="985.2" y="335" font-size="25" text-anchor="middle" class="k" textLength="97.7" lengthAdjust="spacingAndGlyphs">Gated S3</text>
<text x="655" y="363.7" font-size="19" text-anchor="end" class="k">95.4</text>
<text x="864.5" y="363.7" font-size="19" text-anchor="end" class="k">28.3</text>
<text x="1074.5" y="363.7" font-size="19" text-anchor="end" class="k">13.5</text>
<text x="429.7" y="539.6" font-size="16.5" class="k" textLength="98.7" lengthAdjust="spacingAndGlyphs" transform="rotate(-90 429.7 539.6)">Ly6C-BV510</text>
<line x1="423.5" y1="432.3" x2="423.5" y2="358.4" stroke="#000" stroke-width="1.6"/>
<path d="M423.5 340.7L416.8 359.4L430.2 359.4Z" fill="#000"/>
<text x="458.9" y="579.7" font-size="16.5" class="k" textLength="88" lengthAdjust="spacingAndGlyphs">CD34-FITC</text>
<circle cx="284" cy="361.5" r="0.9" fill="#4a4ab0"/>
<line x1="563.4" y1="573.9" x2="1055.3" y2="573.9" stroke="#000" stroke-width="1.6"/>
<path d="M1073.3 573.9L1054.3 567.4L1054.3 580.4Z" fill="#000"/>
<text x="1190" y="32.7" font-size="42" class="k">b</text>
<rect x="1243.8" y="72.3" width="135" height="23.3" fill="#d9d9d9"/>
<text x="1311.3" y="90.9" font-size="23" text-anchor="middle" font-style="italic" fill="#111" class="k" textLength="50" lengthAdjust="spacingAndGlyphs">Dpp4</text>
<rect x="1243.8" y="95.6" width="135" height="204.3" fill="#fff"/>
<path d="M1243.8 263.1H1378.8M1243.8 208.9H1378.8M1243.8 154.7H1378.8M1243.8 100.5H1378.8" stroke="#efefef" stroke-width="0.8" fill="none"/>
<path d="M1243.8 290.2H1378.8M1243.8 236H1378.8M1243.8 181.8H1378.8M1243.8 127.6H1378.8M1269.1 95.6V299.9M1311.3 95.6V299.9M1353.5 95.6V299.9" stroke="#e3e3e3" stroke-width="1.1" fill="none"/>
<rect x="1243.8" y="95.6" width="135" height="204.3" fill="none" stroke="#b8b8b8" stroke-width="1.1"/>
<text x="1239.3" y="293.5" font-size="9" text-anchor="end" fill="#4d4d4d">10<tspan dy="-3.6" font-size="6">0</tspan></text>
<text x="1239.3" y="239.3" font-size="9" text-anchor="end" fill="#4d4d4d">10<tspan dy="-3.6" font-size="6">1</tspan></text>
<text x="1239.3" y="185.1" font-size="9" text-anchor="end" fill="#4d4d4d">10<tspan dy="-3.6" font-size="6">2</tspan></text>
<text x="1239.3" y="130.9" font-size="9" text-anchor="end" fill="#4d4d4d">10<tspan dy="-3.6" font-size="6">3</tspan></text>
<path d="M1243.8 290.2h-3M1243.8 236h-3M1243.8 181.8h-3M1243.8 127.6h-3M1269.1 299.9v3M1311.3 299.9v3M1353.5 299.9v3" stroke="#555" stroke-width="0.9" fill="none"/>
<rect x="1259.1" y="289.1" width="20" height="2.2" fill="#e0685e"/>
<path d="M1269.1 268.5h.1M1268.6 257.7h.1M1269.7 252.3h.1M1268.3 238.7h.1M1269.4 227.9h.1M1268.8 225.2h.1M1270.0 211.6h.1M1268.1 208.9h.1M1269.3 192.6h.1M1268.4 187.2h.1M1270.6 181.6h.1M1267.1 175.3h.1M1270.4 173.0h.1M1268.7 171.9h.1M1272.8 168.3h.1M1264.7 165.7h.1M1269.5 161.7h.1M1266.4 159.3h.1M1272.8 158.0h.1M1264.3 156.5h.1M1271.4 155.1h.1M1267.6 153.2h.1M1275.7 152.7h.1M1262.4 152.1h.1M1270.8 149.1h.1M1266.3 149.1h.1M1275.4 148.6h.1M1263.6 146.4h.1M1273.4 145.9h.1M1268.5 145.4h.1M1278.8 143.6h.1M1258.7 141.5h.1M1269.4 141.5h.1M1264.1 141.1h.1M1274.9 140.6h.1M1261.3 140.3h.1M1272.2 140.1h.1M1266.7 138.8h.1M1278.0 136.9h.1M1259.3 135.1h.1M1271.0 134.1h.1M1265.0 132.4h.1M1277.0 131.6h.1M1262.0 130.6h.1M1274.0 130.1h.1M1268.0 129.7h.1M1280.0 129.5h.1M1258.3 128.6h.1M1270.2 126.6h.1M1264.3 126.4h.1M1276.1 125.9h.1M1261.4 125.6h.1M1273.1 125.0h.1M1267.3 124.9h.1M1278.9 124.3h.1M1260.1 124.1h.1M1271.6 122.6h.1M1266.0 121.5h.1M1276.7 120.2h.1M1263.7 118.9h.1M1273.9 118.8h.1M1268.8 118.2h.1M1278.6 117.6h.1M1261.1 112.9h.1M1269.2 112.8h.1M1265.3 112.4h.1M1273.2 112.3h.1M1263.9 110.0h.1M1270.6 105.7h.1M1268.1 102.4h.1M1272.3 101.8h.1M1265.7 101.1h.1M1269.7 100.8h.1" stroke="#d65a50" stroke-width="2.2" stroke-linecap="round" fill="none"/>
<rect x="1301.3" y="289.1" width="20" height="2.2" fill="#2fa838"/>
<path d="M1311.3 273.9h.1M1309.6 271.2h.1M1313.0 268.5h.1M1309.5 257.7h.1M1311.6 241.4h.1M1310.9 192.6h.1M1313.7 176.4h.1M1308.3 173.7h.1M1311.7 171.0h.1M1310.4 157.4h.1M1312.7 143.9h.1M1310.0 138.4h.1" stroke="#259e3a" stroke-width="2.2" stroke-linecap="round" fill="none"/>
<rect x="1348.5" y="289.1" width="10" height="2.2" fill="#5a8ee8"/>
<path d="M1353.5 271.2h.1M1352.5 263.1h.1M1354.1 244.1h.1" stroke="#5585e0" stroke-width="2.2" stroke-linecap="round" fill="none"/>
<rect x="1400.1" y="72.3" width="135" height="23.3" fill="#d9d9d9"/>
<text x="1467.6" y="90.9" font-size="23" text-anchor="middle" font-style="italic" fill="#111" class="k" textLength="48" lengthAdjust="spacingAndGlyphs">Cd34</text>
<rect x="1400.1" y="95.6" width="135" height="204.3" fill="#fff"/>
<path d="M1400.1 267.4H1535.1M1400.1 220.9H1535.1M1400.1 174.4H1535.1M1400.1 127.9H1535.1" stroke="#efefef" stroke-width="0.8" fill="none"/>
<path d="M1400.1 290.7H1535.1M1400.1 244.2H1535.1M1400.1 197.7H1535.1M1400.1 151.2H1535.1M1400.1 104.7H1535.1M1425.4 95.6V299.9M1467.6 95.6V299.9M1509.8 95.6V299.9" stroke="#e3e3e3" stroke-width="1.1" fill="none"/>
<rect x="1400.1" y="95.6" width="135" height="204.3" fill="none" stroke="#b8b8b8" stroke-width="1.1"/>
<text x="1395.6" y="294" font-size="9" text-anchor="end" fill="#4d4d4d">10<tspan dy="-3.6" font-size="6">0</tspan></text>
<text x="1395.6" y="247.5" font-size="9" text-anchor="end" fill="#4d4d4d">10<tspan dy="-3.6" font-size="6">1</tspan></text>
<text x="1395.6" y="201" font-size="9" text-anchor="end" fill="#4d4d4d">10<tspan dy="-3.6" font-size="6">2</tspan></text>
<text x="1395.6" y="154.5" font-size="9" text-anchor="end" fill="#4d4d4d">10<tspan dy="-3.6" font-size="6">3</tspan></text>
<text x="1395.6" y="108" font-size="9" text-anchor="end" fill="#4d4d4d">10<tspan dy="-3.6" font-size="6">4</tspan></text>
<path d="M1400.1 290.7h-3M1400.1 244.2h-3M1400.1 197.7h-3M1400.1 151.2h-3M1400.1 104.7h-3M1425.4 299.9v3M1467.6 299.9v3M1509.8 299.9v3" stroke="#555" stroke-width="0.9" fill="none"/>
<path d="M1425.4 209.3h.1M1424.9 186.1h.1M1426.0 183.8h.1M1424.4 179.1h.1M1425.7 178.4h.1M1425.1 175.9h.1M1426.3 164.7h.1M1424.1 159.6h.1M1425.6 159.3h.1M1424.3 152.2h.1M1428.5 146.9h.1M1421.8 145.1h.1M1427.8 144.0h.1M1424.6 143.8h.1M1431.2 143.3h.1M1419.2 143.2h.1M1425.8 142.8h.1M1422.2 142.0h.1M1429.7 141.3h.1M1420.1 141.1h.1M1427.8 141.1h.1M1423.8 139.2h.1M1432.5 138.7h.1M1418.1 138.2h.1M1427.1 137.7h.1M1422.3 136.0h.1M1432.4 135.5h.1M1419.7 135.3h.1M1429.9 135.3h.1M1424.8 134.9h.1M1435.6 133.5h.1M1414.8 133.0h.1M1425.8 132.0h.1M1420.1 131.7h.1M1431.5 131.3h.1M1417.1 131.1h.1M1428.7 131.1h.1M1422.9 131.0h.1M1434.4 130.9h.1M1415.7 130.8h.1M1427.2 130.6h.1M1421.4 130.3h.1M1433.2 129.0h.1M1418.3 128.8h.1M1430.3 128.0h.1M1424.3 127.2h.1M1436.3 126.2h.1M1414.6 125.7h.1M1426.5 125.3h.1M1420.6 125.2h.1M1432.5 125.0h.1M1417.6 124.8h.1M1429.5 124.7h.1M1423.6 124.6h.1M1435.4 124.5h.1M1416.3 123.7h.1M1428.0 123.4h.1M1422.2 123.3h.1M1433.7 123.2h.1M1419.3 123.1h.1M1430.7 122.3h.1M1425.1 121.6h.1M1436.1 121.5h.1M1414.6 121.4h.1M1425.6 121.0h.1M1420.2 121.0h.1M1430.8 120.0h.1M1417.8 119.7h.1M1428.1 119.6h.1M1423.1 119.0h.1M1432.7 118.1h.1M1418.2 115.8h.1M1426.6 115.8h.1M1422.5 115.5h.1M1430.2 114.4h.1M1420.8 114.3h.1M1428.3 114.1h.1M1424.6 113.8h.1M1431.2 112.7h.1M1419.7 112.0h.1M1425.7 108.0h.1M1424.3 105.1h.1" stroke="#d65a50" stroke-width="2.2" stroke-linecap="round" fill="none"/>
<rect x="1465.6" y="289.6" width="4" height="2.2" fill="#2fa838"/>
<path d="M1467.6 279.1h.1M1466.7 276.8h.1M1468.5 274.4h.1M1466.6 262.8h.1M1467.9 255.8h.1M1467.2 209.0h.1M1469.4 204.0h.1M1465.2 201.8h.1M1468.1 196.2h.1M1465.8 191.4h.1M1471.1 188.2h.1M1463.6 185.1h.1M1470.1 184.2h.1M1466.8 184.1h.1M1473.4 184.0h.1M1461.2 183.1h.1M1468.0 180.6h.1M1464.4 178.5h.1M1471.9 176.1h.1M1462.3 176.1h.1M1470.0 175.2h.1M1466.1 173.6h.1M1474.9 167.9h.1M1460.2 167.3h.1M1469.4 165.7h.1M1464.6 165.4h.1M1474.3 163.5h.1M1462.1 163.1h.1M1471.9 162.7h.1M1467.0 162.2h.1M1476.9 161.3h.1M1458.0 161.3h.1M1467.9 160.1h.1M1463.0 157.4h.1M1472.8 157.0h.1M1460.8 155.0h.1M1470.2 154.8h.1M1465.6 154.2h.1M1474.7 153.6h.1M1460.3 151.8h.1M1468.9 150.6h.1M1465.0 147.0h.1M1472.2 145.5h.1M1463.6 143.9h.1M1470.2 142.7h.1M1467.1 140.0h.1M1472.6 138.5h.1M1462.7 137.8h.1M1468.0 134.2h.1M1466.0 129.4h.1M1469.7 127.9h.1M1465.8 123.4h.1M1468.5 123.4h.1" stroke="#259e3a" stroke-width="2.2" stroke-linecap="round" fill="none"/>
<rect x="1507.8" y="289.6" width="4" height="2.2" fill="#5a8ee8"/>
<path d="M1509.8 272.1h.1M1508.4 272.1h.1M1511.2 269.8h.1M1507.5 248.8h.1M1510.6 248.8h.1M1509.0 246.5h.1M1511.5 230.2h.1M1507.8 230.2h.1M1509.9 211.6h.1M1509.4 137.2h.1" stroke="#5585e0" stroke-width="2.2" stroke-linecap="round" fill="none"/>
<rect x="1556.8" y="72.3" width="135" height="23.3" fill="#d9d9d9"/>
<text x="1624.3" y="90.9" font-size="23" text-anchor="middle" font-style="italic" fill="#111" class="k" textLength="52" lengthAdjust="spacingAndGlyphs">Ly6c1</text>
<rect x="1556.8" y="95.6" width="135" height="204.3" fill="#fff"/>
<path d="M1556.8 268.4H1691.8M1556.8 223.9H1691.8M1556.8 179.4H1691.8M1556.8 134.9H1691.8" stroke="#efefef" stroke-width="0.8" fill="none"/>
<path d="M1556.8 290.7H1691.8M1556.8 246.2H1691.8M1556.8 201.7H1691.8M1556.8 157.2H1691.8M1556.8 112.7H1691.8M1582.1 95.6V299.9M1624.3 95.6V299.9M1666.5 95.6V299.9" stroke="#e3e3e3" stroke-width="1.1" fill="none"/>
<rect x="1556.8" y="95.6" width="135" height="204.3" fill="none" stroke="#b8b8b8" stroke-width="1.1"/>
<text x="1552.3" y="294" font-size="9" text-anchor="end" fill="#4d4d4d">10<tspan dy="-3.6" font-size="6">0</tspan></text>
<text x="1552.3" y="249.5" font-size="9" text-anchor="end" fill="#4d4d4d">10<tspan dy="-3.6" font-size="6">1</tspan></text>
<text x="1552.3" y="205" font-size="9" text-anchor="end" fill="#4d4d4d">10<tspan dy="-3.6" font-size="6">2</tspan></text>
<text x="1552.3" y="160.5" font-size="9" text-anchor="end" fill="#4d4d4d">10<tspan dy="-3.6" font-size="6">3</tspan></text>
<text x="1552.3" y="116" font-size="9" text-anchor="end" fill="#4d4d4d">10<tspan dy="-3.6" font-size="6">4</tspan></text>
<path d="M1556.8 290.7h-3M1556.8 246.2h-3M1556.8 201.7h-3M1556.8 157.2h-3M1556.8 112.7h-3M1582.1 299.9v3M1624.3 299.9v3M1666.5 299.9v3" stroke="#555" stroke-width="0.9" fill="none"/>
<path d="M1582.1 264.0h.1M1582.0 212.8h.1M1582.3 197.2h.1M1581.6 185.6h.1M1582.3 180.6h.1M1581.7 171.0h.1M1584.0 167.5h.1M1579.6 165.9h.1M1582.6 162.5h.1M1580.6 162.0h.1M1584.6 161.9h.1M1579.4 161.2h.1M1584.2 158.2h.1M1581.4 156.9h.1M1587.5 156.8h.1M1576.2 156.3h.1M1582.6 152.7h.1M1578.5 152.6h.1M1586.8 152.1h.1M1576.2 151.6h.1M1585.0 150.7h.1M1580.4 150.6h.1M1589.6 150.4h.1M1574.4 150.0h.1M1583.9 149.8h.1M1578.9 148.4h.1M1589.2 148.1h.1M1576.1 147.4h.1M1586.8 147.1h.1M1581.4 146.7h.1M1592.5 146.3h.1M1571.4 146.2h.1M1582.5 146.1h.1M1576.8 145.7h.1M1588.1 145.6h.1M1573.9 145.3h.1M1585.4 144.7h.1M1579.6 144.6h.1M1591.2 144.4h.1M1572.2 143.9h.1M1584.0 143.5h.1M1578.0 142.8h.1M1590.0 142.0h.1M1575.0 141.8h.1M1587.0 141.8h.1M1581.0 141.5h.1M1593.0 141.2h.1M1571.2 140.6h.1M1583.2 139.7h.1M1577.3 139.3h.1M1589.1 139.3h.1M1574.4 139.1h.1M1586.2 138.9h.1M1580.3 138.6h.1M1591.9 138.1h.1M1573.1 138.0h.1M1584.6 137.7h.1M1578.9 137.2h.1M1590.2 136.9h.1M1576.2 136.7h.1M1587.3 136.4h.1M1581.8 135.9h.1M1592.6 135.6h.1M1571.7 135.1h.1M1582.3 135.0h.1M1577.0 135.0h.1M1587.4 134.4h.1M1574.6 134.4h.1M1584.8 134.1h.1M1579.8 133.7h.1M1589.7 133.7h.1M1573.8 133.5h.1M1583.4 132.6h.1M1579.1 131.0h.1M1587.1 130.2h.1M1578.0 128.4h.1M1584.5 127.4h.1M1581.5 127.2h.1M1586.6 125.6h.1M1577.7 125.3h.1M1582.4 123.5h.1" stroke="#d65a50" stroke-width="2.2" stroke-linecap="round" fill="none"/>
<rect x="1617.3" y="289.6" width="14" height="2.2" fill="#2fa838"/>
<path d="M1624.3 290.8h.1M1622.2 279.6h.1M1626.5 277.5h.1M1620.9 277.3h.1M1625.6 266.2h.1M1623.0 261.0h.1M1628.2 260.6h.1M1619.8 260.5h.1M1625.0 245.0h.1M1622.1 243.7h.1M1628.0 243.5h.1M1620.6 241.5h.1M1626.5 235.5h.1M1623.5 226.3h.1M1630.5 223.9h.1M1617.6 223.5h.1M1624.8 220.4h.1M1621.0 220.3h.1M1629.1 210.4h.1M1618.5 210.3h.1M1627.0 208.0h.1M1622.7 207.9h.1M1631.1 205.0h.1M1617.8 202.0h.1M1625.7 199.9h.1M1621.9 191.2h.1M1629.8 189.5h.1M1619.8 186.1h.1M1627.8 186.1h.1M1623.8 185.1h.1M1631.7 184.3h.1M1618.1 175.1h.1M1624.5 171.3h.1M1621.5 170.6h.1M1627.4 165.0h.1M1620.2 160.8h.1M1625.9 156.1h.1M1623.1 151.9h.1M1628.1 149.0h.1M1620.7 146.8h.1M1624.8 130.5h.1M1623.1 125.9h.1M1626.6 119.2h.1M1622.4 117.2h.1" stroke="#259e3a" stroke-width="2.2" stroke-linecap="round" fill="none"/>
<rect x="1662" y="289.6" width="9" height="2.2" fill="#5a8ee8"/>
<path d="M1666.5 272.9h.1M1665.3 268.4h.1M1667.6 264.0h.1M1665.1 259.6h.1M1666.7 157.2h.1" stroke="#5585e0" stroke-width="2.2" stroke-linecap="round" fill="none"/>
<rect x="1714.6" y="72.3" width="135" height="23.3" fill="#d9d9d9"/>
<text x="1782.1" y="90.9" font-size="23" text-anchor="middle" font-style="italic" fill="#111" class="k" textLength="26" lengthAdjust="spacingAndGlyphs">C3</text>
<rect x="1714.6" y="95.6" width="135" height="204.3" fill="#fff"/>
<path d="M1714.6 270.4H1849.6M1714.6 229.2H1849.6M1714.6 188H1849.6M1714.6 146.8H1849.6M1714.6 105.6H1849.6" stroke="#efefef" stroke-width="0.8" fill="none"/>
<path d="M1714.6 291H1849.6M1714.6 249.8H1849.6M1714.6 208.6H1849.6M1714.6 167.4H1849.6M1714.6 126.2H1849.6M1739.9 95.6V299.9M1782.1 95.6V299.9M1824.3 95.6V299.9" stroke="#e3e3e3" stroke-width="1.1" fill="none"/>
<rect x="1714.6" y="95.6" width="135" height="204.3" fill="none" stroke="#b8b8b8" stroke-width="1.1"/>
<text x="1710.1" y="294.3" font-size="9" text-anchor="end" fill="#4d4d4d">10<tspan dy="-3.6" font-size="6">0</tspan></text>
<text x="1710.1" y="253.1" font-size="9" text-anchor="end" fill="#4d4d4d">10<tspan dy="-3.6" font-size="6">1</tspan></text>
<text x="1710.1" y="211.9" font-size="9" text-anchor="end" fill="#4d4d4d">10<tspan dy="-3.6" font-size="6">2</tspan></text>
<text x="1710.1" y="170.7" font-size="9" text-anchor="end" fill="#4d4d4d">10<tspan dy="-3.6" font-size="6">3</tspan></text>
<text x="1710.1" y="129.5" font-size="9" text-anchor="end" fill="#4d4d4d">10<tspan dy="-3.6" font-size="6">4</tspan></text>
<path d="M1714.6 291h-3M1714.6 249.8h-3M1714.6 208.6h-3M1714.6 167.4h-3M1714.6 126.2h-3M1739.9 299.9v3M1782.1 299.9v3M1824.3 299.9v3" stroke="#555" stroke-width="0.9" fill="none"/>
<path d="M1739.9 245.7h.1M1739.7 196.2h.1M1740.4 184.5h.1M1738.5 178.8h.1M1740.6 175.1h.1M1739.2 174.6h.1M1742.1 174.1h.1M1736.0 169.4h.1M1740.5 168.3h.1M1738.0 167.9h.1M1743.5 166.1h.1M1735.8 164.4h.1M1742.5 163.7h.1M1739.1 163.7h.1M1746.1 163.2h.1M1733.1 162.8h.1M1740.4 161.7h.1M1736.4 161.5h.1M1744.6 160.8h.1M1734.0 160.2h.1M1742.7 159.6h.1M1738.1 157.6h.1M1748.2 156.9h.1M1731.6 156.8h.1M1741.9 156.6h.1M1736.6 155.9h.1M1747.3 155.6h.1M1733.8 155.5h.1M1744.9 154.1h.1M1739.2 154.0h.1M1750.7 153.3h.1M1728.7 153.1h.1M1740.3 152.6h.1M1734.4 152.5h.1M1746.2 152.0h.1M1731.3 151.5h.1M1743.3 151.3h.1M1737.3 151.2h.1M1749.3 151.1h.1M1729.8 150.8h.1M1741.8 150.8h.1M1735.8 149.9h.1M1747.8 149.5h.1M1732.8 149.3h.1M1744.7 148.7h.1M1738.8 148.6h.1M1750.7 148.5h.1M1729.2 148.4h.1M1741.0 148.4h.1M1735.1 148.3h.1M1746.8 147.2h.1M1732.4 147.0h.1M1743.8 146.6h.1M1738.2 145.9h.1M1749.3 145.8h.1M1731.3 145.6h.1M1742.3 145.5h.1M1736.9 145.3h.1M1747.6 145.0h.1M1734.2 144.9h.1M1744.9 144.8h.1M1739.6 143.9h.1M1749.1 142.7h.1M1730.9 142.1h.1M1740.1 141.8h.1M1735.6 141.7h.1M1743.5 138.8h.1M1735.2 137.9h.1M1741.6 137.8h.1M1738.6 136.7h.1M1744.1 136.4h.1M1736.2 134.5h.1M1740.5 133.7h.1" stroke="#d65a50" stroke-width="2.2" stroke-linecap="round" fill="none"/>
<rect x="1778.1" y="289.9" width="8" height="2.2" fill="#2fa838"/>
<path d="M1782.1 278.6h.1M1781.0 274.5h.1M1783.5 268.3h.1M1779.9 266.3h.1M1782.8 264.2h.1M1781.4 262.2h.1M1783.7 258.0h.1M1780.3 227.4h.1M1782.4 225.1h.1M1781.1 223.0h.1M1784.3 215.5h.1M1779.9 215.3h.1M1783.6 211.3h.1M1781.6 209.9h.1M1786.3 206.6h.1M1776.8 203.3h.1M1782.5 201.5h.1M1778.8 197.4h.1M1786.5 197.0h.1M1776.7 196.8h.1M1784.8 194.2h.1M1780.5 194.0h.1M1789.1 193.5h.1M1775.0 192.6h.1M1783.7 192.3h.1M1779.3 191.4h.1M1788.2 189.4h.1M1777.1 189.2h.1M1785.9 187.5h.1M1781.6 186.6h.1M1789.8 185.8h.1M1774.9 183.1h.1M1782.3 181.6h.1M1779.0 180.8h.1M1785.6 180.6h.1M1778.0 178.0h.1M1783.5 175.7h.1M1781.3 171.9h.1M1784.3 165.6h.1M1779.7 165.0h.1M1782.6 157.4h.1M1781.1 153.2h.1M1784.0 151.3h.1M1780.4 150.9h.1M1783.1 146.8h.1M1782.0 136.3h.1" stroke="#259e3a" stroke-width="2.2" stroke-linecap="round" fill="none"/>
<rect x="1820.3" y="289.9" width="8" height="2.2" fill="#5a8ee8"/>
<path d="M1824.3 278.6h.1M1823.1 276.6h.1M1825.7 274.5h.1M1821.8 270.4h.1M1825.1 268.3h.1M1823.4 266.3h.1M1826.8 264.2h.1M1821.5 262.2h.1M1824.7 260.1h.1M1823.4 256.0h.1M1825.4 251.9h.1M1823.8 241.6h.1" stroke="#5585e0" stroke-width="2.2" stroke-linecap="round" fill="none"/>
<rect x="1871.3" y="72.3" width="135" height="23.3" fill="#d9d9d9"/>
<text x="1938.8" y="90.9" font-size="23" text-anchor="middle" font-style="italic" fill="#111" class="k" textLength="48" lengthAdjust="spacingAndGlyphs">Il6st</text>
<rect x="1871.3" y="95.6" width="135" height="204.3" fill="#fff"/>
<path d="M1871.3 261.6H2006.3M1871.3 203.8H2006.3M1871.3 146H2006.3" stroke="#efefef" stroke-width="0.8" fill="none"/>
<path d="M1871.3 290.5H2006.3M1871.3 232.7H2006.3M1871.3 174.9H2006.3M1871.3 117.1H2006.3M1896.6 95.6V299.9M1938.8 95.6V299.9M1981 95.6V299.9" stroke="#e3e3e3" stroke-width="1.1" fill="none"/>
<rect x="1871.3" y="95.6" width="135" height="204.3" fill="none" stroke="#b8b8b8" stroke-width="1.1"/>
<text x="1866.8" y="293.8" font-size="9" text-anchor="end" fill="#4d4d4d">10<tspan dy="-3.6" font-size="6">0</tspan></text>
<text x="1866.8" y="236" font-size="9" text-anchor="end" fill="#4d4d4d">10<tspan dy="-3.6" font-size="6">1</tspan></text>
<text x="1866.8" y="178.2" font-size="9" text-anchor="end" fill="#4d4d4d">10<tspan dy="-3.6" font-size="6">2</tspan></text>
<text x="1866.8" y="120.4" font-size="9" text-anchor="end" fill="#4d4d4d">10<tspan dy="-3.6" font-size="6">3</tspan></text>
<path d="M1871.3 290.5h-3M1871.3 232.7h-3M1871.3 174.9h-3M1871.3 117.1h-3M1896.6 299.9v3M1938.8 299.9v3M1981 299.9v3" stroke="#555" stroke-width="0.9" fill="none"/>
<rect x="1893.6" y="289.4" width="6" height="2.2" fill="#e0685e"/>
<path d="M1896.6 255.8h.1M1896.2 244.3h.1M1897.1 235.6h.1M1895.7 221.1h.1M1896.9 218.2h.1M1896.3 209.6h.1M1897.4 203.8h.1M1895.4 184.9h.1M1896.9 178.2h.1M1895.6 174.1h.1M1898.5 171.5h.1M1894.6 170.0h.1M1898.6 162.8h.1M1895.7 158.0h.1M1903.5 155.7h.1M1889.2 155.7h.1M1897.1 155.3h.1M1893.0 154.9h.1M1901.7 152.7h.1M1890.4 152.7h.1M1899.4 152.4h.1M1894.9 152.3h.1M1904.2 151.5h.1M1888.7 150.1h.1M1898.5 149.0h.1M1893.5 148.9h.1M1903.6 148.7h.1M1890.5 145.2h.1M1901.4 144.9h.1M1895.9 144.1h.1M1907.0 143.8h.1M1885.8 143.3h.1M1897.0 143.3h.1M1891.4 143.2h.1M1902.5 143.1h.1M1888.5 141.9h.1M1899.8 140.9h.1M1894.1 140.6h.1M1905.7 137.5h.1M1886.7 136.4h.1M1898.5 134.8h.1M1892.5 133.9h.1M1904.4 133.6h.1M1889.5 132.8h.1M1901.5 131.8h.1M1895.5 131.7h.1M1907.5 131.3h.1M1885.8 131.3h.1M1897.7 129.6h.1M1891.7 129.6h.1M1903.7 129.3h.1M1888.7 127.7h.1M1900.7 126.0h.1M1894.8 125.8h.1M1906.6 125.3h.1M1887.4 124.7h.1M1899.2 123.9h.1M1893.4 122.2h.1M1904.9 122.2h.1M1890.6 120.6h.1M1901.8 119.7h.1M1896.3 119.5h.1M1907.0 118.0h.1M1886.2 117.7h.1M1896.8 117.6h.1M1891.6 116.9h.1M1901.9 116.5h.1M1889.3 115.7h.1M1899.2 115.0h.1M1894.3 115.0h.1M1904.0 114.9h.1M1888.5 114.5h.1M1897.9 113.4h.1M1893.5 112.5h.1M1901.8 111.3h.1M1892.4 108.4h.1M1898.9 106.4h.1M1896.2 100.0h.1M1899.3 99.0h.1" stroke="#d65a50" stroke-width="2.2" stroke-linecap="round" fill="none"/>
<rect x="1935.8" y="289.4" width="6" height="2.2" fill="#2fa838"/>
<path d="M1938.8 261.6h.1M1938.6 244.3h.1M1939.0 209.6h.1M1937.3 191.4h.1M1939.5 187.6h.1M1937.7 180.8h.1M1942.3 180.6h.1M1934.5 179.5h.1M1939.6 173.9h.1M1936.3 173.4h.1M1942.9 173.4h.1M1934.7 173.3h.1M1941.3 173.0h.1M1938.0 173.0h.1M1945.0 171.5h.1M1931.9 170.3h.1M1939.3 165.9h.1M1935.2 165.2h.1M1943.5 164.4h.1M1933.0 164.0h.1M1941.4 163.8h.1M1937.2 161.2h.1M1945.7 160.3h.1M1931.9 160.0h.1M1940.4 159.9h.1M1936.1 159.4h.1M1944.6 158.8h.1M1934.0 158.4h.1M1942.5 157.1h.1M1938.3 156.7h.1M1946.5 155.8h.1M1930.9 155.5h.1M1939.0 151.5h.1M1935.5 150.2h.1M1942.5 150.0h.1M1933.8 149.7h.1M1940.7 148.7h.1M1937.4 148.1h.1M1943.7 147.3h.1M1933.8 146.2h.1M1939.6 144.5h.1M1937.8 136.7h.1M1940.8 136.6h.1M1938.3 122.9h.1" stroke="#259e3a" stroke-width="2.2" stroke-linecap="round" fill="none"/>
<path d="M1981.0 241.4h.1M1980.4 192.2h.1M1982.2 177.8h.1M1979.0 174.9h.1M1981.7 169.1h.1M1980.2 160.5h.1M1983.4 154.7h.1M1978.1 151.8h.1M1981.4 143.1h.1M1980.0 140.2h.1M1982.1 131.6h.1" stroke="#5585e0" stroke-width="2.2" stroke-linecap="round" fill="none"/>
<rect x="2030.1" y="72.3" width="135" height="23.3" fill="#d9d9d9"/>
<text x="2097.6" y="90.9" font-size="23" text-anchor="middle" font-style="italic" fill="#111" class="k" textLength="46" lengthAdjust="spacingAndGlyphs">Il6ra</text>
<rect x="2030.1" y="95.6" width="135" height="204.3" fill="#fff"/>
<path d="M2030.1 273.9H2165.1M2030.1 239.4H2165.1M2030.1 204.9H2165.1M2030.1 170.4H2165.1M2030.1 135.9H2165.1M2030.1 101.4H2165.1" stroke="#efefef" stroke-width="0.8" fill="none"/>
<path d="M2030.1 291.2H2165.1M2030.1 256.7H2165.1M2030.1 222.2H2165.1M2030.1 187.7H2165.1M2030.1 153.2H2165.1M2030.1 118.7H2165.1M2055.4 95.6V299.9M2097.6 95.6V299.9M2139.8 95.6V299.9" stroke="#e3e3e3" stroke-width="1.1" fill="none"/>
<rect x="2030.1" y="95.6" width="135" height="204.3" fill="none" stroke="#b8b8b8" stroke-width="1.1"/>
<text x="2025.6" y="294.5" font-size="9" text-anchor="end" fill="#4d4d4d">10<tspan dy="-3.6" font-size="6">0</tspan></text>
<text x="2025.6" y="260" font-size="9" text-anchor="end" fill="#4d4d4d">10<tspan dy="-3.6" font-size="6">0.5</tspan></text>
<text x="2025.6" y="225.5" font-size="9" text-anchor="end" fill="#4d4d4d">10<tspan dy="-3.6" font-size="6">1</tspan></text>
<text x="2025.6" y="191" font-size="9" text-anchor="end" fill="#4d4d4d">10<tspan dy="-3.6" font-size="6">1.5</tspan></text>
<text x="2025.6" y="156.5" font-size="9" text-anchor="end" fill="#4d4d4d">10<tspan dy="-3.6" font-size="6">2</tspan></text>
<text x="2025.6" y="122" font-size="9" text-anchor="end" fill="#4d4d4d">10<tspan dy="-3.6" font-size="6">2.5</tspan></text>
<path d="M2030.1 291.2h-3M2030.1 256.7h-3M2030.1 222.2h-3M2030.1 187.7h-3M2030.1 153.2h-3M2030.1 118.7h-3M2055.4 299.9v3M2097.6 299.9v3M2139.8 299.9v3" stroke="#555" stroke-width="0.9" fill="none"/>
<rect x="2040.4" y="290.1" width="30" height="2.2" fill="#e0685e"/>
<path d="M2055.4 270.5h.1M2054.9 225.6h.1M2056.0 222.2h.1M2054.4 208.4h.1M2055.8 204.9h.1M2055.0 194.6h.1M2057.6 181.9h.1M2052.1 177.9h.1M2056.0 173.9h.1M2053.6 173.8h.1M2059.2 168.6h.1M2051.4 167.5h.1M2057.9 166.1h.1M2054.6 165.9h.1M2061.9 163.8h.1M2048.2 162.7h.1M2055.9 160.8h.1M2051.6 158.6h.1M2060.7 154.2h.1M2048.8 153.1h.1M2058.4 152.1h.1M2053.6 151.9h.1M2063.3 151.8h.1M2047.5 151.3h.1M2057.2 151.1h.1M2052.4 150.7h.1M2062.1 150.6h.1M2049.9 150.5h.1M2059.7 149.6h.1M2054.8 149.4h.1M2064.6 148.9h.1M2045.9 148.9h.1M2055.7 148.3h.1M2051.0 143.5h.1M2060.5 143.4h.1M2048.7 142.0h.1M2057.9 138.6h.1M2053.5 138.5h.1M2061.8 136.0h.1M2048.6 135.4h.1M2056.7 135.3h.1M2052.7 135.1h.1M2060.6 134.7h.1M2051.0 132.5h.1M2058.1 129.4h.1M2054.8 127.7h.1M2059.9 122.3h.1M2051.0 122.1h.1M2055.8 118.7h.1M2053.7 118.7h.1M2057.4 115.2h.1M2053.6 111.8h.1" stroke="#d65a50" stroke-width="2.2" stroke-linecap="round" fill="none"/>
<rect x="2085.1" y="290.1" width="25" height="2.2" fill="#2fa838"/>
<path d="M2097.6 270.5h.1M2096.2 267.1h.1M2099.1 263.6h.1M2095.4 256.7h.1M2098.2 249.8h.1M2097.1 242.9h.1M2098.6 167.0h.1M2096.4 163.5h.1M2097.7 139.4h.1" stroke="#259e3a" stroke-width="2.2" stroke-linecap="round" fill="none"/>
<rect x="2133.8" y="290.1" width="12" height="2.2" fill="#5a8ee8"/>
<rect x="1243.8" y="304.2" width="135" height="23.6" fill="#d9d9d9"/>
<text x="1311.3" y="323.1" font-size="23" text-anchor="middle" font-style="italic" fill="#111" class="k" textLength="56" lengthAdjust="spacingAndGlyphs">Pdpn</text>
<rect x="1243.8" y="327.8" width="135" height="203.5" fill="#fff"/>
<path d="M1243.8 494.9H1378.8M1243.8 441.2H1378.8M1243.8 387.5H1378.8M1243.8 333.8H1378.8" stroke="#efefef" stroke-width="0.8" fill="none"/>
<path d="M1243.8 521.8H1378.8M1243.8 468.1H1378.8M1243.8 414.4H1378.8M1243.8 360.7H1378.8M1269.1 327.8V531.3M1311.3 327.8V531.3M1353.5 327.8V531.3" stroke="#e3e3e3" stroke-width="1.1" fill="none"/>
<rect x="1243.8" y="327.8" width="135" height="203.5" fill="none" stroke="#b8b8b8" stroke-width="1.1"/>
<text x="1239.3" y="525.1" font-size="9" text-anchor="end" fill="#4d4d4d">10<tspan dy="-3.6" font-size="6">0</tspan></text>
<text x="1239.3" y="471.4" font-size="9" text-anchor="end" fill="#4d4d4d">10<tspan dy="-3.6" font-size="6">1</tspan></text>
<text x="1239.3" y="417.7" font-size="9" text-anchor="end" fill="#4d4d4d">10<tspan dy="-3.6" font-size="6">2</tspan></text>
<text x="1239.3" y="364" font-size="9" text-anchor="end" fill="#4d4d4d">10<tspan dy="-3.6" font-size="6">3</tspan></text>
<path d="M1243.8 521.8h-3M1243.8 468.1h-3M1243.8 414.4h-3M1243.8 360.7h-3M1269.1 531.3v3M1311.3 531.3v3M1353.5 531.3v3" stroke="#555" stroke-width="0.9" fill="none"/>
<rect x="1267.6" y="520.7" width="3" height="2.2" fill="#e0685e"/>
<path d="M1269.1 441.2h.1M1267.5 405.4h.1M1270.7 405.2h.1M1266.0 402.9h.1M1270.2 402.6h.1M1267.7 398.9h.1M1273.7 397.9h.1M1263.3 396.8h.1M1270.0 396.4h.1M1266.2 394.2h.1M1274.0 394.1h.1M1263.9 393.1h.1M1272.6 391.1h.1M1268.0 390.9h.1M1277.3 390.6h.1M1260.1 389.9h.1M1269.7 388.5h.1M1264.6 388.0h.1M1275.0 388.0h.1M1261.8 387.2h.1M1272.4 387.2h.1M1267.1 386.8h.1M1277.9 386.8h.1M1260.2 386.0h.1M1271.2 385.5h.1M1265.6 385.3h.1M1276.9 384.8h.1M1262.7 384.2h.1M1274.1 384.0h.1M1268.4 383.6h.1M1280.0 383.4h.1M1257.8 382.7h.1M1269.5 382.7h.1M1263.6 382.6h.1M1275.4 381.3h.1M1260.5 381.0h.1M1272.5 380.9h.1M1266.5 380.7h.1M1278.5 380.5h.1M1259.0 379.5h.1M1271.0 379.1h.1M1265.0 378.0h.1M1276.9 377.0h.1M1262.0 376.6h.1M1273.9 376.4h.1M1268.0 376.4h.1M1279.9 376.2h.1M1258.6 374.3h.1M1270.2 373.4h.1M1264.5 373.3h.1M1275.9 373.1h.1M1261.6 373.1h.1M1273.0 372.8h.1M1267.3 372.6h.1M1278.5 371.7h.1M1260.5 371.2h.1M1271.5 370.2h.1M1266.2 369.5h.1M1276.6 369.2h.1M1263.6 369.0h.1M1273.9 368.4h.1M1268.8 367.0h.1M1278.5 366.9h.1M1259.8 366.3h.1M1269.3 365.6h.1M1264.7 365.5h.1M1273.6 364.2h.1M1263.0 363.3h.1M1271.3 363.2h.1M1267.2 362.9h.1M1275.2 362.4h.1M1262.4 361.9h.1M1270.2 361.3h.1M1266.7 359.1h.1M1273.3 358.9h.1M1265.4 357.8h.1M1271.2 355.6h.1M1268.6 354.0h.1M1272.1 350.1h.1M1266.7 347.3h.1M1269.3 346.1h.1M1268.8 335.6h.1" stroke="#d65a50" stroke-width="2.2" stroke-linecap="round" fill="none"/>
<path d="M1311.3 468.1h.1M1310.8 446.6h.1M1312.3 436.5h.1M1309.1 430.5h.1M1312.2 425.8h.1M1310.3 425.1h.1M1314.5 423.2h.1M1307.0 419.8h.1M1311.9 419.3h.1M1309.1 415.8h.1M1315.3 413.0h.1M1307.0 410.9h.1M1313.9 410.1h.1M1310.4 409.9h.1M1318.2 406.3h.1M1303.7 405.4h.1M1311.8 404.2h.1M1307.6 404.1h.1M1316.2 402.8h.1M1305.3 402.1h.1M1314.1 401.5h.1M1309.5 398.4h.1M1319.0 398.0h.1M1303.5 396.7h.1M1313.1 395.9h.1M1308.2 394.0h.1M1318.0 393.9h.1M1305.8 393.0h.1M1315.6 392.2h.1M1310.7 392.0h.1M1320.4 389.8h.1M1302.2 387.4h.1M1311.6 387.2h.1M1306.9 387.0h.1M1316.2 386.1h.1M1304.8 385.6h.1M1313.8 385.5h.1M1309.3 385.2h.1M1318.0 383.5h.1M1304.3 382.5h.1M1312.6 381.6h.1M1308.9 378.5h.1M1315.8 378.3h.1M1308.0 374.2h.1M1313.3 372.2h.1M1310.9 371.8h.1M1314.3 365.2h.1M1309.0 355.5h.1M1311.5 355.3h.1M1310.3 354.3h.1M1312.5 347.3h.1M1310.0 347.0h.1" stroke="#259e3a" stroke-width="2.2" stroke-linecap="round" fill="none"/>
<rect x="1347.5" y="520.7" width="12" height="2.2" fill="#5a8ee8"/>
<path d="M1353.5 500.3h.1M1352.6 497.6h.1" stroke="#5585e0" stroke-width="2.2" stroke-linecap="round" fill="none"/>
<text x="1275.8" y="550.5" font-size="16.8" text-anchor="end" transform="rotate(-40 1275.8 550.5)" fill="#1a1a1a">CAF1</text>
<text x="1318.5" y="550.5" font-size="16.8" text-anchor="end" transform="rotate(-40 1318.5 550.5)" fill="#1a1a1a">CAF2</text>
<text x="1362.2" y="550.5" font-size="16.8" text-anchor="end" transform="rotate(-40 1362.2 550.5)" fill="#1a1a1a">CAF3</text>
<rect x="1400.1" y="304.2" width="135" height="23.6" fill="#d9d9d9"/>
<text x="1467.6" y="323.1" font-size="23" text-anchor="middle" font-style="italic" fill="#111" class="k" textLength="60" lengthAdjust="spacingAndGlyphs">Postn</text>
<rect x="1400.1" y="327.8" width="135" height="203.5" fill="#fff"/>
<path d="M1400.1 499.9H1535.1M1400.1 456.2H1535.1M1400.1 412.5H1535.1M1400.1 368.8H1535.1" stroke="#efefef" stroke-width="0.8" fill="none"/>
<path d="M1400.1 521.8H1535.1M1400.1 478.1H1535.1M1400.1 434.4H1535.1M1400.1 390.7H1535.1M1400.1 347H1535.1M1425.4 327.8V531.3M1467.6 327.8V531.3M1509.8 327.8V531.3" stroke="#e3e3e3" stroke-width="1.1" fill="none"/>
<rect x="1400.1" y="327.8" width="135" height="203.5" fill="none" stroke="#b8b8b8" stroke-width="1.1"/>
<text x="1395.6" y="525.1" font-size="9" text-anchor="end" fill="#4d4d4d">10<tspan dy="-3.6" font-size="6">0</tspan></text>
<text x="1395.6" y="481.4" font-size="9" text-anchor="end" fill="#4d4d4d">10<tspan dy="-3.6" font-size="6">1</tspan></text>
<text x="1395.6" y="437.7" font-size="9" text-anchor="end" fill="#4d4d4d">10<tspan dy="-3.6" font-size="6">2</tspan></text>
<text x="1395.6" y="394" font-size="9" text-anchor="end" fill="#4d4d4d">10<tspan dy="-3.6" font-size="6">3</tspan></text>
<text x="1395.6" y="350.3" font-size="9" text-anchor="end" fill="#4d4d4d">10<tspan dy="-3.6" font-size="6">4</tspan></text>
<path d="M1400.1 521.8h-3M1400.1 478.1h-3M1400.1 434.4h-3M1400.1 390.7h-3M1400.1 347h-3M1425.4 531.3v3M1467.6 531.3v3M1509.8 531.3v3" stroke="#555" stroke-width="0.9" fill="none"/>
<rect x="1412.4" y="520.7" width="26" height="2.2" fill="#e0685e"/>
<path d="M1425.4 512.8h.1M1423.3 510.9h.1M1427.7 509.6h.1M1421.6 508.0h.1M1426.8 504.8h.1M1423.9 501.9h.1M1429.8 501.1h.1M1420.4 499.9h.1M1426.1 499.3h.1M1423.3 498.5h.1M1428.8 497.8h.1M1422.3 495.7h.1M1426.4 486.8h.1M1425.1 484.7h.1M1426.3 469.4h.1M1424.5 460.6h.1M1425.6 438.8h.1M1423.8 437.0h.1M1427.5 436.6h.1M1422.7 435.7h.1M1427.1 428.8h.1M1424.3 426.4h.1M1430.3 426.0h.1M1420.4 425.0h.1M1426.6 424.3h.1M1423.1 420.7h.1M1430.8 418.7h.1M1420.6 416.8h.1M1429.5 414.5h.1M1424.8 413.4h.1M1434.6 412.9h.1M1415.4 411.3h.1M1425.7 410.8h.1M1420.4 410.1h.1M1431.3 409.1h.1M1417.4 408.7h.1M1428.7 406.6h.1M1422.8 405.8h.1M1434.6 405.5h.1M1415.4 404.9h.1M1427.3 404.4h.1M1421.3 403.1h.1M1433.2 400.4h.1M1418.4 399.9h.1M1430.1 398.5h.1M1424.3 398.3h.1M1435.7 398.2h.1M1415.3 397.6h.1M1426.5 397.5h.1M1421.1 396.2h.1M1431.7 395.7h.1M1418.7 394.8h.1M1428.9 394.5h.1M1423.9 394.0h.1M1432.3 390.4h.1M1420.3 385.6h.1M1426.8 384.4h.1M1423.7 381.9h.1M1429.7 379.7h.1M1422.2 376.6h.1M1428.2 376.4h.1M1425.2 375.2h.1M1431.3 369.3h.1M1419.5 368.9h.1M1425.5 368.8h.1M1422.5 368.8h.1M1428.3 365.7h.1M1421.5 364.5h.1M1426.8 363.4h.1M1424.5 360.0h.1M1427.2 354.3h.1" stroke="#d65a50" stroke-width="2.2" stroke-linecap="round" fill="none"/>
<path d="M1467.6 508.7h.1M1467.2 421.3h.1M1468.1 412.5h.1M1466.9 408.2h.1M1467.8 394.5h.1M1467.0 384.4h.1M1470.6 379.0h.1M1463.8 378.2h.1M1468.2 376.6h.1M1465.8 376.3h.1M1470.8 375.9h.1M1464.0 373.7h.1M1470.0 372.1h.1M1466.7 368.4h.1M1474.3 367.5h.1M1460.1 366.6h.1M1468.1 365.7h.1M1464.0 365.4h.1M1472.4 364.4h.1M1461.7 363.6h.1M1470.3 363.3h.1M1466.0 363.2h.1M1474.8 362.3h.1M1460.3 361.7h.1M1469.3 360.7h.1M1464.8 360.5h.1M1473.9 359.6h.1M1462.4 358.2h.1M1471.6 356.5h.1M1467.0 355.4h.1M1476.1 355.3h.1M1459.1 352.8h.1M1467.9 352.6h.1M1463.5 352.4h.1M1472.2 352.2h.1M1461.4 352.1h.1M1469.9 350.0h.1M1465.8 349.4h.1M1473.4 347.4h.1M1461.4 347.3h.1M1468.7 346.8h.1M1465.1 346.6h.1M1472.1 345.8h.1M1464.2 342.9h.1M1469.9 342.7h.1M1467.2 340.5h.1M1470.3 335.8h.1M1465.7 332.8h.1" stroke="#259e3a" stroke-width="2.2" stroke-linecap="round" fill="none"/>
<path d="M1509.8 438.8h.1M1508.7 391.1h.1M1511.3 386.3h.1M1507.3 384.3h.1M1510.6 384.3h.1M1509.0 383.3h.1M1512.2 382.9h.1M1506.9 382.8h.1M1510.2 382.4h.1M1508.6 381.8h.1M1511.5 378.9h.1" stroke="#5585e0" stroke-width="2.2" stroke-linecap="round" fill="none"/>
<text x="1434.7" y="550.5" font-size="16.8" text-anchor="end" transform="rotate(-40 1434.7 550.5)" fill="#1a1a1a">CAF1</text>
<text x="1476.1" y="550.5" font-size="16.8" text-anchor="end" transform="rotate(-40 1476.1 550.5)" fill="#1a1a1a">CAF2</text>
<text x="1520.4" y="550.5" font-size="16.8" text-anchor="end" transform="rotate(-40 1520.4 550.5)" fill="#1a1a1a">CAF3</text>
<rect x="1556.8" y="304.2" width="135" height="23.6" fill="#d9d9d9"/>
<text x="1624.3" y="323.1" font-size="23" text-anchor="middle" font-style="italic" fill="#111" class="k" textLength="34" lengthAdjust="spacingAndGlyphs">Tnc</text>
<rect x="1556.8" y="327.8" width="135" height="203.5" fill="#fff"/>
<path d="M1556.8 500.2H1691.8M1556.8 457H1691.8M1556.8 413.8H1691.8M1556.8 370.6H1691.8" stroke="#efefef" stroke-width="0.8" fill="none"/>
<path d="M1556.8 521.8H1691.8M1556.8 478.6H1691.8M1556.8 435.4H1691.8M1556.8 392.2H1691.8M1556.8 349H1691.8M1582.1 327.8V531.3M1624.3 327.8V531.3M1666.5 327.8V531.3" stroke="#e3e3e3" stroke-width="1.1" fill="none"/>
<rect x="1556.8" y="327.8" width="135" height="203.5" fill="none" stroke="#b8b8b8" stroke-width="1.1"/>
<text x="1552.3" y="525.1" font-size="9" text-anchor="end" fill="#4d4d4d">10<tspan dy="-3.6" font-size="6">0</tspan></text>
<text x="1552.3" y="481.9" font-size="9" text-anchor="end" fill="#4d4d4d">10<tspan dy="-3.6" font-size="6">1</tspan></text>
<text x="1552.3" y="438.7" font-size="9" text-anchor="end" fill="#4d4d4d">10<tspan dy="-3.6" font-size="6">2</tspan></text>
<text x="1552.3" y="395.5" font-size="9" text-anchor="end" fill="#4d4d4d">10<tspan dy="-3.6" font-size="6">3</tspan></text>
<text x="1552.3" y="352.3" font-size="9" text-anchor="end" fill="#4d4d4d">10<tspan dy="-3.6" font-size="6">4</tspan></text>
<path d="M1556.8 521.8h-3M1556.8 478.6h-3M1556.8 435.4h-3M1556.8 392.2h-3M1556.8 349h-3M1582.1 531.3v3M1624.3 531.3v3M1666.5 531.3v3" stroke="#555" stroke-width="0.9" fill="none"/>
<rect x="1568.1" y="520.7" width="28" height="2.2" fill="#e0685e"/>
<path d="M1582.1 509.4h.1M1579.6 508.0h.1M1584.7 507.4h.1M1577.6 505.4h.1M1583.6 505.0h.1M1580.5 504.3h.1M1587.2 503.2h.1M1576.1 502.9h.1M1583.0 502.6h.1M1579.5 502.1h.1M1586.6 501.9h.1M1577.6 501.5h.1M1585.0 498.4h.1M1581.1 496.4h.1M1588.8 495.4h.1M1574.9 495.1h.1M1582.6 495.0h.1M1578.8 495.0h.1M1586.4 493.8h.1M1577.0 493.4h.1M1584.4 493.0h.1M1580.7 492.5h.1M1587.8 491.0h.1M1576.6 490.4h.1M1583.3 489.2h.1M1580.4 485.9h.1M1585.8 485.9h.1M1579.2 485.3h.1M1584.3 485.0h.1M1581.9 482.4h.1M1584.6 478.6h.1M1581.3 465.6h.1M1582.1 457.0h.1M1581.7 446.2h.1M1582.5 439.7h.1M1581.6 413.8h.1M1582.3 409.5h.1M1582.0 387.9h.1M1582.4 370.6h.1" stroke="#d65a50" stroke-width="2.2" stroke-linecap="round" fill="none"/>
<rect x="1622.8" y="520.7" width="3" height="2.2" fill="#2fa838"/>
<path d="M1624.3 433.2h.1M1623.9 426.8h.1M1624.6 409.5h.1M1622.7 396.1h.1M1624.9 393.8h.1M1623.7 392.2h.1M1626.2 391.7h.1M1622.0 390.3h.1M1624.6 387.2h.1M1622.7 378.3h.1M1627.4 376.4h.1M1621.1 375.8h.1M1626.4 374.4h.1M1623.5 372.6h.1M1630.1 371.7h.1M1617.7 370.6h.1M1624.8 369.6h.1M1621.0 369.1h.1M1628.7 368.1h.1M1618.9 367.9h.1M1626.9 366.0h.1M1622.7 364.7h.1M1631.1 364.2h.1M1617.5 363.2h.1M1625.9 362.8h.1M1621.7 362.6h.1M1630.0 362.1h.1M1619.6 362.0h.1M1627.9 361.9h.1M1623.8 360.5h.1M1631.7 359.0h.1M1616.7 358.8h.1M1624.5 357.8h.1M1620.9 356.4h.1M1628.0 355.7h.1M1619.5 354.4h.1M1626.1 354.1h.1M1623.1 350.9h.1M1627.7 347.6h.1M1620.8 347.2h.1M1624.9 346.1h.1M1623.1 345.2h.1M1626.3 343.6h.1" stroke="#259e3a" stroke-width="2.2" stroke-linecap="round" fill="none"/>
<rect x="1664.5" y="520.7" width="4" height="2.2" fill="#5a8ee8"/>
<path d="M1666.5 504.5h.1M1665.5 504.5h.1M1667.2 435.4h.1M1664.7 422.4h.1M1667.1 418.1h.1M1665.9 407.3h.1M1668.2 405.2h.1" stroke="#5585e0" stroke-width="2.2" stroke-linecap="round" fill="none"/>
<text x="1595.4" y="550.5" font-size="16.8" text-anchor="end" transform="rotate(-40 1595.4 550.5)" fill="#1a1a1a">CAF1</text>
<text x="1637.3" y="550.5" font-size="16.8" text-anchor="end" transform="rotate(-40 1637.3 550.5)" fill="#1a1a1a">CAF2</text>
<text x="1681.3" y="550.5" font-size="16.8" text-anchor="end" transform="rotate(-40 1681.3 550.5)" fill="#1a1a1a">CAF3</text>
<rect x="1714.6" y="304.2" width="135" height="23.6" fill="#d9d9d9"/>
<text x="1782.1" y="323.1" font-size="23" text-anchor="middle" font-style="italic" fill="#111" class="k" textLength="60" lengthAdjust="spacingAndGlyphs">Acta2</text>
<rect x="1714.6" y="327.8" width="135" height="203.5" fill="#fff"/>
<path d="M1714.6 501.3H1849.6M1714.6 459.1H1849.6M1714.6 416.9H1849.6M1714.6 374.7H1849.6M1714.6 332.5H1849.6" stroke="#efefef" stroke-width="0.8" fill="none"/>
<path d="M1714.6 522.4H1849.6M1714.6 480.2H1849.6M1714.6 438H1849.6M1714.6 395.8H1849.6M1714.6 353.6H1849.6M1739.9 327.8V531.3M1782.1 327.8V531.3M1824.3 327.8V531.3" stroke="#e3e3e3" stroke-width="1.1" fill="none"/>
<rect x="1714.6" y="327.8" width="135" height="203.5" fill="none" stroke="#b8b8b8" stroke-width="1.1"/>
<text x="1710.1" y="525.7" font-size="9" text-anchor="end" fill="#4d4d4d">10<tspan dy="-3.6" font-size="6">0</tspan></text>
<text x="1710.1" y="483.5" font-size="9" text-anchor="end" fill="#4d4d4d">10<tspan dy="-3.6" font-size="6">1</tspan></text>
<text x="1710.1" y="441.3" font-size="9" text-anchor="end" fill="#4d4d4d">10<tspan dy="-3.6" font-size="6">2</tspan></text>
<text x="1710.1" y="399.1" font-size="9" text-anchor="end" fill="#4d4d4d">10<tspan dy="-3.6" font-size="6">3</tspan></text>
<text x="1710.1" y="356.9" font-size="9" text-anchor="end" fill="#4d4d4d">10<tspan dy="-3.6" font-size="6">4</tspan></text>
<path d="M1714.6 522.4h-3M1714.6 480.2h-3M1714.6 438h-3M1714.6 395.8h-3M1714.6 353.6h-3M1739.9 531.3v3M1782.1 531.3v3M1824.3 531.3v3" stroke="#555" stroke-width="0.9" fill="none"/>
<rect x="1730.9" y="521.3" width="18" height="2.2" fill="#e0685e"/>
<path d="M1739.9 512.1h.1M1738.2 508.8h.1M1742.0 505.1h.1M1736.7 504.6h.1M1741.0 504.5h.1M1738.8 502.7h.1M1743.3 502.5h.1M1735.9 501.4h.1M1740.5 499.8h.1M1738.4 494.6h.1M1742.3 493.4h.1M1737.6 493.2h.1M1741.1 488.8h.1M1739.6 484.9h.1M1741.7 480.2h.1M1738.0 480.2h.1M1740.0 467.5h.1M1739.6 459.1h.1M1740.2 425.3h.1" stroke="#d65a50" stroke-width="2.2" stroke-linecap="round" fill="none"/>
<rect x="1780.1" y="521.3" width="4" height="2.2" fill="#2fa838"/>
<path d="M1782.1 501.3h.1M1781.6 490.8h.1M1782.7 448.5h.1M1781.1 446.4h.1M1782.6 424.3h.1M1781.5 422.0h.1M1784.5 415.7h.1M1778.4 411.0h.1M1782.8 406.9h.1M1780.0 404.5h.1M1785.6 404.3h.1M1778.5 403.0h.1M1784.3 403.0h.1M1781.4 400.3h.1M1787.0 397.2h.1M1777.2 395.0h.1M1782.4 393.2h.1M1780.1 391.7h.1M1784.1 384.6h.1M1779.7 384.6h.1M1783.1 374.9h.1M1781.5 374.4h.1M1784.7 372.8h.1M1779.8 366.4h.1M1782.6 364.4h.1M1781.6 353.6h.1M1783.2 352.1h.1" stroke="#259e3a" stroke-width="2.2" stroke-linecap="round" fill="none"/>
<path d="M1824.3 431.7h.1M1823.7 425.3h.1M1824.9 423.2h.1M1823.5 419.0h.1M1824.6 386.0h.1M1823.5 379.3h.1M1827.9 375.3h.1M1819.2 373.3h.1M1825.1 371.5h.1M1821.7 370.8h.1M1828.7 370.2h.1M1819.8 370.1h.1M1827.1 369.5h.1M1823.3 368.6h.1M1831.3 367.3h.1M1816.7 366.8h.1M1824.8 366.7h.1M1820.7 366.5h.1M1828.9 365.9h.1M1818.6 365.8h.1M1826.9 364.3h.1M1822.7 364.0h.1M1831.1 363.4h.1M1817.5 362.8h.1M1825.8 362.6h.1M1821.7 361.4h.1M1829.8 360.5h.1M1819.9 359.1h.1M1827.6 358.2h.1M1823.8 357.5h.1M1831.2 357.4h.1M1817.6 355.9h.1M1824.5 353.8h.1M1821.7 351.7h.1M1827.2 351.7h.1M1820.6 350.3h.1M1825.7 350.0h.1M1823.3 348.4h.1M1827.7 348.3h.1M1820.8 347.5h.1M1824.5 336.4h.1M1823.8 332.7h.1M1825.1 332.5h.1" stroke="#5585e0" stroke-width="2.2" stroke-linecap="round" fill="none"/>
<text x="1754.2" y="550.5" font-size="16.8" text-anchor="end" transform="rotate(-40 1754.2 550.5)" fill="#1a1a1a">CAF1</text>
<text x="1797.4" y="550.5" font-size="16.8" text-anchor="end" transform="rotate(-40 1797.4 550.5)" fill="#1a1a1a">CAF2</text>
<text x="1825.3" y="550.5" font-size="16.8" text-anchor="end" transform="rotate(-40 1825.3 550.5)" fill="#1a1a1a">CAF3</text>
<rect x="1871.3" y="304.2" width="135" height="23.6" fill="#d9d9d9"/>
<text x="1938.8" y="323.1" font-size="23" text-anchor="middle" font-style="italic" fill="#111" class="k" textLength="62" lengthAdjust="spacingAndGlyphs">Cspg4</text>
<rect x="1871.3" y="327.8" width="135" height="203.5" fill="#fff"/>
<path d="M1871.3 490.3H2006.3M1871.3 423.3H2006.3M1871.3 356.3H2006.3" stroke="#efefef" stroke-width="0.8" fill="none"/>
<path d="M1871.3 523.8H2006.3M1871.3 456.8H2006.3M1871.3 389.8H2006.3M1896.6 327.8V531.3M1938.8 327.8V531.3M1981 327.8V531.3" stroke="#e3e3e3" stroke-width="1.1" fill="none"/>
<rect x="1871.3" y="327.8" width="135" height="203.5" fill="none" stroke="#b8b8b8" stroke-width="1.1"/>
<text x="1866.8" y="527.1" font-size="9" text-anchor="end" fill="#4d4d4d">10<tspan dy="-3.6" font-size="6">0</tspan></text>
<text x="1866.8" y="460.1" font-size="9" text-anchor="end" fill="#4d4d4d">10<tspan dy="-3.6" font-size="6">1</tspan></text>
<text x="1866.8" y="393.1" font-size="9" text-anchor="end" fill="#4d4d4d">10<tspan dy="-3.6" font-size="6">2</tspan></text>
<path d="M1871.3 523.8h-3M1871.3 456.8h-3M1871.3 389.8h-3M1896.6 531.3v3M1938.8 531.3v3M1981 531.3v3" stroke="#555" stroke-width="0.9" fill="none"/>
<rect x="1886.6" y="522.7" width="20" height="2.2" fill="#e0685e"/>
<path d="M1896.6 497.0h.1M1895.7 436.7h.1" stroke="#d65a50" stroke-width="2.2" stroke-linecap="round" fill="none"/>
<rect x="1928.8" y="522.7" width="20" height="2.2" fill="#2fa838"/>
<path d="M1938.8 460.1h.1M1938.2 453.4h.1M1940.1 423.3h.1M1936.3 416.6h.1M1939.7 415.3h.1M1937.9 413.2h.1M1941.4 409.9h.1M1935.8 406.5h.1M1939.2 393.1h.1M1937.2 384.4h.1M1941.4 383.1h.1M1936.2 381.1h.1M1940.4 379.8h.1M1938.3 377.7h.1M1942.3 376.4h.1M1936.5 363.0h.1M1938.9 356.3h.1" stroke="#259e3a" stroke-width="2.2" stroke-linecap="round" fill="none"/>
<rect x="1979.5" y="522.7" width="3" height="2.2" fill="#5a8ee8"/>
<path d="M1981.0 490.3h.1M1980.6 476.9h.1M1981.4 460.1h.1M1980.3 456.8h.1M1981.1 433.3h.1M1980.8 406.5h.1M1981.8 403.2h.1M1978.0 385.7h.1M1981.6 379.5h.1M1979.0 377.1h.1M1984.6 375.4h.1M1977.4 375.1h.1M1983.2 374.8h.1M1980.3 374.6h.1M1986.2 374.0h.1M1975.3 374.0h.1M1981.4 370.4h.1M1978.0 365.8h.1M1984.8 365.2h.1M1976.3 364.7h.1M1983.1 363.3h.1M1979.7 363.1h.1M1986.4 363.0h.1M1975.6 361.8h.1M1982.2 361.3h.1M1979.1 357.0h.1M1985.1 356.9h.1M1977.8 355.3h.1M1983.5 355.2h.1M1980.7 349.6h.1M1985.0 348.9h.1M1978.0 343.8h.1M1981.1 343.3h.1" stroke="#5585e0" stroke-width="2.2" stroke-linecap="round" fill="none"/>
<text x="1906.7" y="550.5" font-size="16.8" text-anchor="end" transform="rotate(-40 1906.7 550.5)" fill="#1a1a1a">CAF1</text>
<text x="1948.9" y="550.5" font-size="16.8" text-anchor="end" transform="rotate(-40 1948.9 550.5)" fill="#1a1a1a">CAF2</text>
<text x="1993" y="550.5" font-size="16.8" text-anchor="end" transform="rotate(-40 1993 550.5)" fill="#1a1a1a">CAF3</text>
<rect x="2030.1" y="304.2" width="135" height="23.6" fill="#d9d9d9"/>
<text x="2097.6" y="323.1" font-size="23" text-anchor="middle" font-style="italic" fill="#111" class="k" textLength="52" lengthAdjust="spacingAndGlyphs">Rgs5</text>
<rect x="2030.1" y="327.8" width="135" height="203.5" fill="#fff"/>
<path d="M2030.1 501.8H2165.1M2030.1 455.9H2165.1M2030.1 410H2165.1M2030.1 364.1H2165.1" stroke="#efefef" stroke-width="0.8" fill="none"/>
<path d="M2030.1 524.8H2165.1M2030.1 478.9H2165.1M2030.1 433H2165.1M2030.1 387.1H2165.1M2030.1 341.2H2165.1M2055.4 327.8V531.3M2097.6 327.8V531.3M2139.8 327.8V531.3" stroke="#e3e3e3" stroke-width="1.1" fill="none"/>
<rect x="2030.1" y="327.8" width="135" height="203.5" fill="none" stroke="#b8b8b8" stroke-width="1.1"/>
<text x="2025.6" y="528.1" font-size="9" text-anchor="end" fill="#4d4d4d">10<tspan dy="-3.6" font-size="6">0</tspan></text>
<text x="2025.6" y="482.2" font-size="9" text-anchor="end" fill="#4d4d4d">10<tspan dy="-3.6" font-size="6">1</tspan></text>
<text x="2025.6" y="436.3" font-size="9" text-anchor="end" fill="#4d4d4d">10<tspan dy="-3.6" font-size="6">2</tspan></text>
<text x="2025.6" y="390.4" font-size="9" text-anchor="end" fill="#4d4d4d">10<tspan dy="-3.6" font-size="6">3</tspan></text>
<text x="2025.6" y="344.5" font-size="9" text-anchor="end" fill="#4d4d4d">10<tspan dy="-3.6" font-size="6">4</tspan></text>
<path d="M2030.1 524.8h-3M2030.1 478.9h-3M2030.1 433h-3M2030.1 387.1h-3M2030.1 341.2h-3M2055.4 531.3v3M2097.6 531.3v3M2139.8 531.3v3" stroke="#555" stroke-width="0.9" fill="none"/>
<rect x="2045.4" y="523.7" width="20" height="2.2" fill="#e0685e"/>
<path d="M2055.4 502.0h.1M2053.9 500.0h.1M2057.0 498.8h.1M2052.8 496.7h.1M2056.3 495.8h.1M2054.5 495.2h.1M2058.1 492.0h.1M2052.5 489.2h.1M2055.8 486.7h.1M2054.3 486.6h.1M2056.6 478.9h.1M2054.6 474.3h.1M2055.6 419.2h.1" stroke="#d65a50" stroke-width="2.2" stroke-linecap="round" fill="none"/>
<rect x="2087.6" y="523.7" width="20" height="2.2" fill="#2fa838"/>
<path d="M2097.6 516.7h.1M2096.6 516.7h.1M2099.1 509.8h.1M2095.2 506.4h.1M2098.4 505.7h.1M2096.8 502.0h.1M2099.9 498.2h.1M2095.0 497.6h.1M2097.9 489.9h.1M2096.9 488.7h.1M2097.9 449.1h.1" stroke="#259e3a" stroke-width="2.2" stroke-linecap="round" fill="none"/>
<path d="M2139.8 524.8h.1M2139.6 506.4h.1M2140.4 405.1h.1M2138.4 398.6h.1M2140.3 396.3h.1M2139.2 392.9h.1M2141.5 392.4h.1M2134.4 378.9h.1M2140.6 378.5h.1M2137.4 378.2h.1M2144.2 377.0h.1M2135.3 376.6h.1M2142.5 376.3h.1M2138.8 375.3h.1M2146.8 374.9h.1M2131.6 373.0h.1M2140.4 371.8h.1M2135.8 371.4h.1M2145.0 371.3h.1M2133.3 370.4h.1M2142.8 369.3h.1M2138.0 369.0h.1M2147.8 368.1h.1M2131.7 367.2h.1M2141.7 366.8h.1M2136.7 366.6h.1M2146.6 366.1h.1M2134.2 364.3h.1M2144.1 363.8h.1M2139.2 362.3h.1M2149.0 362.3h.1M2130.3 361.7h.1M2140.1 360.6h.1M2135.3 360.5h.1M2144.8 360.1h.1M2133.0 359.5h.1M2142.4 358.2h.1M2137.8 357.7h.1M2146.8 357.6h.1M2133.0 353.6h.1M2140.9 351.7h.1M2137.2 351.7h.1M2144.6 351.6h.1M2135.6 350.3h.1M2142.6 349.8h.1M2139.2 349.5h.1M2145.5 348.3h.1M2134.2 347.7h.1M2140.3 346.7h.1M2137.9 343.0h.1M2141.8 339.4h.1M2137.9 337.4h.1M2140.5 334.3h.1" stroke="#5585e0" stroke-width="2.2" stroke-linecap="round" fill="none"/>
<text x="2053.1" y="550.5" font-size="16.8" text-anchor="end" transform="rotate(-40 2053.1 550.5)" fill="#1a1a1a">CAF1</text>
<text x="2094.6" y="550.5" font-size="16.8" text-anchor="end" transform="rotate(-40 2094.6 550.5)" fill="#1a1a1a">CAF2</text>
<text x="2138.9" y="550.5" font-size="16.8" text-anchor="end" transform="rotate(-40 2138.9 550.5)" fill="#1a1a1a">CAF3</text>
<text x="1211.5" y="279" font-size="23.5" fill="#111" class="k" textLength="165" lengthAdjust="spacingAndGlyphs" transform="rotate(-90 1211.5 279)">Normalized counts</text>
<text x="1214" y="523" font-size="23.5" fill="#111" class="k" textLength="164.4" lengthAdjust="spacingAndGlyphs" transform="rotate(-90 1214 523)">Normalized counts</text>
<text x="1659.5" y="745.2" font-size="46" class="k" textLength="23.5" lengthAdjust="spacingAndGlyphs">e</text>
<text x="1953.8" y="752.3" font-size="24" text-anchor="middle" font-style="italic" class="k" textLength="78" lengthAdjust="spacingAndGlyphs">Adam12</text>
<rect x="1741.3" y="774.2" width="138" height="23.4" fill="#d9d9d9"/>
<text x="1810.3" y="791" font-size="18" text-anchor="middle" fill="#111" class="k" textLength="89" lengthAdjust="spacingAndGlyphs">normal skin</text>
<rect x="1741.3" y="797.6" width="138" height="214.2" fill="#fff"/>
<path d="M1741.3 970.3H1879.3M1741.3 907.5H1879.3M1741.3 844.7H1879.3" stroke="#efefef" stroke-width="0.8" fill="none"/>
<path d="M1741.3 1001.7H1879.3M1741.3 938.9H1879.3M1741.3 876.1H1879.3M1741.3 813.3H1879.3M1767.2 797.6V1011.8M1810.3 797.6V1011.8M1853.4 797.6V1011.8" stroke="#e3e3e3" stroke-width="1.1" fill="none"/>
<rect x="1741.3" y="797.6" width="138" height="214.2" fill="none" stroke="#b8b8b8" stroke-width="1.1"/>
<text x="1736.8" y="1005" font-size="9" text-anchor="end" fill="#4d4d4d">10<tspan dy="-3.6" font-size="6">0</tspan></text>
<text x="1736.8" y="942.2" font-size="9" text-anchor="end" fill="#4d4d4d">10<tspan dy="-3.6" font-size="6">1</tspan></text>
<text x="1736.8" y="879.4" font-size="9" text-anchor="end" fill="#4d4d4d">10<tspan dy="-3.6" font-size="6">2</tspan></text>
<text x="1736.8" y="816.6" font-size="9" text-anchor="end" fill="#4d4d4d">10<tspan dy="-3.6" font-size="6">3</tspan></text>
<path d="M1741.3 1001.7h-3M1741.3 938.9h-3M1741.3 876.1h-3M1741.3 813.3h-3M1767.2 1011.8v3M1810.3 1011.8v3M1853.4 1011.8v3" stroke="#555" stroke-width="0.9" fill="none"/>
<rect x="1761.2" y="1000.6" width="12" height="2.2" fill="#e0685e"/>
<path d="M1767.2 986.0h.1M1765.9 982.9h.1M1768.4 979.7h.1M1766.3 960.9h.1M1767.4 916.9h.1M1767.0 807.0h.1" stroke="#d65a50" stroke-width="2.2" stroke-linecap="round" fill="none"/>
<text x="1779.7" y="1030.3" font-size="16.8" text-anchor="end" transform="rotate(-40 1779.7 1030.3)" fill="#1a1a1a">CAF1</text>
<text x="1822.8" y="1030.3" font-size="16.8" text-anchor="end" transform="rotate(-40 1822.8 1030.3)" fill="#1a1a1a">CAF2</text>
<text x="1865.9" y="1030.3" font-size="16.8" text-anchor="end" transform="rotate(-40 1865.9 1030.3)" fill="#1a1a1a">CAF3</text>
<rect x="1885.4" y="774.2" width="138" height="23.4" fill="#d9d9d9"/>
<text x="1954.4" y="791" font-size="18" text-anchor="middle" fill="#111" class="k" textLength="104.4" lengthAdjust="spacingAndGlyphs">Tumor - Day 8</text>
<rect x="1885.4" y="797.6" width="138" height="214.2" fill="#fff"/>
<path d="M1885.4 970.3H2023.4M1885.4 907.5H2023.4M1885.4 844.7H2023.4" stroke="#efefef" stroke-width="0.8" fill="none"/>
<path d="M1885.4 1001.7H2023.4M1885.4 938.9H2023.4M1885.4 876.1H2023.4M1885.4 813.3H2023.4M1911.3 797.6V1011.8M1954.4 797.6V1011.8M1997.5 797.6V1011.8" stroke="#e3e3e3" stroke-width="1.1" fill="none"/>
<rect x="1885.4" y="797.6" width="138" height="214.2" fill="none" stroke="#b8b8b8" stroke-width="1.1"/>
<path d="M1885.4 1001.7h-3M1885.4 938.9h-3M1885.4 876.1h-3M1885.4 813.3h-3M1911.3 1011.8v3M1954.4 1011.8v3M1997.5 1011.8v3" stroke="#555" stroke-width="0.9" fill="none"/>
<rect x="1904.3" y="1000.6" width="14" height="2.2" fill="#e0685e"/>
<path d="M1911.3 973.4h.1M1909.8 973.4h.1M1912.8 970.3h.1M1908.8 967.2h.1M1912.1 964.0h.1M1910.5 960.9h.1M1913.2 957.7h.1M1910.8 916.9h.1M1911.4 876.1h.1M1910.9 869.8h.1M1911.6 816.4h.1" stroke="#d65a50" stroke-width="2.2" stroke-linecap="round" fill="none"/>
<rect x="1950.4" y="1000.6" width="8" height="2.2" fill="#2fa838"/>
<path d="M1954.4 986.0h.1M1954.0 976.6h.1M1954.7 960.9h.1M1953.6 913.8h.1M1954.7 907.5h.1M1954.0 901.2h.1M1955.6 898.1h.1M1952.8 888.7h.1M1954.7 883.8h.1M1952.8 871.1h.1M1957.2 870.6h.1M1951.4 869.4h.1M1956.5 865.0h.1M1953.7 863.1h.1M1959.6 862.9h.1M1948.8 862.0h.1M1954.8 860.9h.1M1951.7 859.9h.1M1957.9 859.6h.1M1950.2 857.8h.1M1956.3 857.8h.1M1953.3 856.8h.1M1959.2 854.7h.1M1949.7 854.2h.1M1955.5 853.3h.1M1952.8 851.2h.1M1957.9 850.2h.1M1952.3 844.7h.1M1956.0 844.7h.1" stroke="#259e3a" stroke-width="2.2" stroke-linecap="round" fill="none"/>
<rect x="1990.5" y="1000.6" width="14" height="2.2" fill="#5a8ee8"/>
<path d="M1997.5 986.0h.1M1996.9 976.6h.1M1998.1 973.4h.1M1997.2 945.2h.1M1998.9 893.0h.1M1996.1 892.6h.1M2002.0 891.5h.1M1992.2 891.2h.1M1998.3 888.3h.1M1995.0 887.7h.1M2001.7 886.9h.1M1993.3 886.2h.1M2000.1 886.0h.1M1996.7 885.0h.1M2003.6 884.7h.1M1991.1 881.9h.1M1998.0 881.9h.1M1994.6 879.3h.1M2001.2 876.1h.1M1993.1 872.4h.1M1999.7 863.8h.1M1996.2 862.7h.1M2003.7 859.3h.1M1991.3 858.6h.1M1999.0 858.1h.1M1995.1 858.0h.1M2002.8 856.8h.1M1993.2 856.6h.1M2000.9 856.4h.1M1997.0 852.7h.1M2004.7 852.5h.1M1990.2 852.5h.1M1997.8 849.8h.1M1994.2 848.9h.1M2001.0 847.2h.1M1992.9 846.7h.1M1999.3 845.5h.1M1996.2 844.9h.1M1999.2 832.1h.1" stroke="#5585e0" stroke-width="2.2" stroke-linecap="round" fill="none"/>
<text x="1923.8" y="1030.3" font-size="16.8" text-anchor="end" transform="rotate(-40 1923.8 1030.3)" fill="#1a1a1a">CAF1</text>
<text x="1966.9" y="1030.3" font-size="16.8" text-anchor="end" transform="rotate(-40 1966.9 1030.3)" fill="#1a1a1a">CAF2</text>
<text x="2010" y="1030.3" font-size="16.8" text-anchor="end" transform="rotate(-40 2010 1030.3)" fill="#1a1a1a">CAF3</text>
<rect x="2028.5" y="774.2" width="138" height="23.4" fill="#d9d9d9"/>
<text x="2097.5" y="791" font-size="18" text-anchor="middle" fill="#111" class="k" textLength="114.4" lengthAdjust="spacingAndGlyphs">Tumor - Day 11</text>
<rect x="2028.5" y="797.6" width="138" height="214.2" fill="#fff"/>
<path d="M2028.5 970.3H2166.5M2028.5 907.5H2166.5M2028.5 844.7H2166.5" stroke="#efefef" stroke-width="0.8" fill="none"/>
<path d="M2028.5 1001.7H2166.5M2028.5 938.9H2166.5M2028.5 876.1H2166.5M2028.5 813.3H2166.5M2054.4 797.6V1011.8M2097.5 797.6V1011.8M2140.6 797.6V1011.8" stroke="#e3e3e3" stroke-width="1.1" fill="none"/>
<rect x="2028.5" y="797.6" width="138" height="214.2" fill="none" stroke="#b8b8b8" stroke-width="1.1"/>
<path d="M2028.5 1001.7h-3M2028.5 938.9h-3M2028.5 876.1h-3M2028.5 813.3h-3M2054.4 1011.8v3M2097.5 1011.8v3M2140.6 1011.8v3" stroke="#555" stroke-width="0.9" fill="none"/>
<rect x="2047.4" y="1000.6" width="14" height="2.2" fill="#e0685e"/>
<path d="M2054.4 986.0h.1M2053.0 970.3h.1M2055.7 967.2h.1M2053.3 929.5h.1M2054.8 907.5h.1M2053.8 891.8h.1M2056.1 876.1h.1M2052.7 863.5h.1" stroke="#d65a50" stroke-width="2.2" stroke-linecap="round" fill="none"/>
<rect x="2096.5" y="1000.6" width="2" height="2.2" fill="#2fa838"/>
<path d="M2097.5 970.3h.1M2097.3 951.5h.1M2097.7 913.8h.1M2095.7 882.9h.1M2098.3 880.1h.1M2096.2 871.9h.1M2101.6 870.9h.1M2092.6 870.5h.1M2098.2 869.5h.1M2095.3 869.3h.1M2101.3 868.0h.1M2093.5 866.6h.1M2099.9 866.6h.1M2096.7 864.5h.1M2103.4 863.3h.1M2091.1 863.1h.1M2097.9 862.3h.1M2094.5 860.6h.1M2101.4 859.6h.1M2092.7 859.4h.1M2099.6 855.9h.1M2096.2 855.5h.1M2103.0 855.3h.1M2092.1 854.7h.1M2098.7 851.4h.1M2095.6 850.8h.1M2101.7 850.5h.1M2094.5 847.1h.1M2099.7 845.9h.1M2097.2 845.5h.1M2102.2 845.2h.1M2092.9 844.1h.1M2097.6 838.4h.1M2096.0 838.0h.1" stroke="#259e3a" stroke-width="2.2" stroke-linecap="round" fill="none"/>
<rect x="2135.6" y="1000.6" width="10" height="2.2" fill="#5a8ee8"/>
<path d="M2140.6 982.9h.1M2140.2 973.4h.1M2141.0 964.0h.1M2140.3 945.2h.1M2140.9 920.1h.1M2140.3 920.1h.1M2142.7 906.0h.1M2137.3 901.5h.1M2141.2 898.5h.1M2138.9 898.0h.1M2144.2 893.9h.1M2137.0 893.5h.1M2142.8 893.3h.1M2139.9 892.8h.1M2146.9 888.5h.1M2133.8 888.0h.1M2141.1 885.2h.1M2137.2 885.0h.1M2145.1 884.8h.1M2135.0 883.6h.1M2143.2 883.3h.1M2139.1 883.0h.1M2147.7 879.5h.1M2133.4 877.4h.1M2142.3 876.0h.1M2137.9 875.4h.1M2146.7 875.4h.1M2135.7 875.2h.1M2144.5 874.9h.1M2140.1 874.8h.1M2148.8 874.3h.1M2132.2 873.8h.1M2140.9 873.7h.1M2136.6 873.5h.1M2145.2 873.1h.1M2134.6 871.6h.1M2143.0 871.6h.1M2138.8 870.1h.1M2146.8 868.9h.1M2134.9 865.2h.1M2141.6 863.5h.1M2138.5 863.3h.1M2144.5 862.5h.1M2137.4 861.0h.1M2142.2 856.6h.1M2140.4 853.3h.1" stroke="#5585e0" stroke-width="2.2" stroke-linecap="round" fill="none"/>
<text x="2066.9" y="1030.3" font-size="16.8" text-anchor="end" transform="rotate(-40 2066.9 1030.3)" fill="#1a1a1a">CAF1</text>
<text x="2110" y="1030.3" font-size="16.8" text-anchor="end" transform="rotate(-40 2110 1030.3)" fill="#1a1a1a">CAF2</text>
<text x="2153.1" y="1030.3" font-size="16.8" text-anchor="end" transform="rotate(-40 2153.1 1030.3)" fill="#1a1a1a">CAF3</text>
<text x="1711" y="984" font-size="21" fill="#111" class="k" textLength="164" lengthAdjust="spacingAndGlyphs" transform="rotate(-90 1711 984)">Normalized counts</text>
<text x="5" y="645" font-size="42" class="k">c</text>
<rect x="146" y="774.8" width="26" height="116.5" fill="#b45a5a"/>
<rect x="185.8" y="762.8" width="26" height="128.5" fill="#3d9055"/>
<rect x="225.6" y="884.6" width="26" height="6.7" fill="#2b5fa8"/>
<line x1="133.3" y1="689" x2="133.3" y2="892.9" stroke="#000" stroke-width="3.2"/>
<line x1="131.7" y1="891.3" x2="265.5" y2="891.3" stroke="#000" stroke-width="3.2"/>
<path d="M133.3 891.3h-10M133.3 824.4h-10M133.3 757.4h-10M133.3 690.5h-10M159 891.3v11M198.8 891.3v11M238.6 891.3v11" stroke="#000" stroke-width="3.2" fill="none"/>
<text x="119.3" y="896.9" font-size="15.2" text-anchor="end" fill="#111" class="k">0.0</text>
<text x="119.3" y="830" font-size="15.2" text-anchor="end" fill="#111" class="k">0.5</text>
<text x="119.3" y="763.1" font-size="15.2" text-anchor="end" fill="#111" class="k">1.0</text>
<text x="119.3" y="696.1" font-size="15.2" text-anchor="end" fill="#111" class="k">1.5</text>
<line x1="159" y1="750.7" x2="159" y2="800.3" stroke="#781a1a" stroke-width="1.6"/>
<line x1="152" y1="750.7" x2="166" y2="750.7" stroke="#781a1a" stroke-width="1.6"/>
<line x1="152" y1="800.3" x2="166" y2="800.3" stroke="#781a1a" stroke-width="1.6"/>
<circle cx="159" cy="749.4" r="3.6" fill="#781a1a"/>
<circle cx="159" cy="777.5" r="3.6" fill="#781a1a"/>
<circle cx="159" cy="800.3" r="3.6" fill="#781a1a"/>
<line x1="198.8" y1="732" x2="198.8" y2="793.6" stroke="#1e4a2c" stroke-width="1.6"/>
<line x1="191.8" y1="732" x2="205.8" y2="732" stroke="#1e4a2c" stroke-width="1.6"/>
<line x1="191.8" y1="793.6" x2="205.8" y2="793.6" stroke="#1e4a2c" stroke-width="1.6"/>
<circle cx="198.8" cy="730.7" r="3.6" fill="#1e4a2c"/>
<circle cx="198.8" cy="765.5" r="3.6" fill="#1e4a2c"/>
<circle cx="198.8" cy="794.9" r="3.6" fill="#1e4a2c"/>
<line x1="238.6" y1="881.9" x2="238.6" y2="885.9" stroke="#15254a" stroke-width="1.6"/>
<line x1="231.6" y1="881.9" x2="245.6" y2="881.9" stroke="#15254a" stroke-width="1.6"/>
<line x1="231.6" y1="885.9" x2="245.6" y2="885.9" stroke="#15254a" stroke-width="1.6"/>
<circle cx="237.6" cy="883.3" r="3.6" fill="#15254a"/>
<circle cx="247.6" cy="882.6" r="3.6" fill="#15254a"/>
<circle cx="229.6" cy="887.3" r="3.6" fill="#15254a"/>
<text x="159" y="923.8" font-size="23" text-anchor="middle" fill="#111" class="k" textLength="25.3" lengthAdjust="spacingAndGlyphs">S1</text>
<text x="198.8" y="923.8" font-size="23" text-anchor="middle" fill="#111" class="k" textLength="25.3" lengthAdjust="spacingAndGlyphs">S2</text>
<text x="238.6" y="923.8" font-size="23" text-anchor="middle" fill="#111" class="k" textLength="25.3" lengthAdjust="spacingAndGlyphs">S3</text>
<text x="199.8" y="687" font-size="25" text-anchor="middle" font-style="italic" fill="#111" class="k" textLength="74.3" lengthAdjust="spacingAndGlyphs">Pdgfra</text>
<rect x="306" y="783.3" width="26" height="108.2" fill="#b45a5a"/>
<rect x="344.9" y="867.7" width="26" height="23.8" fill="#3d9055"/>
<rect x="383.9" y="890.8" width="26" height="0.7" fill="#2b5fa8"/>
<line x1="294.3" y1="694.5" x2="294.3" y2="893.1" stroke="#000" stroke-width="3.2"/>
<line x1="292.7" y1="891.5" x2="422.6" y2="891.5" stroke="#000" stroke-width="3.2"/>
<path d="M294.3 891.5h-10M294.3 826.3h-10M294.3 761.2h-10M294.3 696h-10M319 891.5v11M357.9 891.5v11M396.9 891.5v11" stroke="#000" stroke-width="3.2" fill="none"/>
<text x="280.3" y="897.1" font-size="15.2" text-anchor="end" fill="#111" class="k">0</text>
<text x="280.3" y="832" font-size="15.2" text-anchor="end" fill="#111" class="k">2</text>
<text x="280.3" y="766.8" font-size="15.2" text-anchor="end" fill="#111" class="k">4</text>
<text x="280.3" y="701.6" font-size="15.2" text-anchor="end" fill="#111" class="k">6</text>
<line x1="319" y1="741" x2="319" y2="825.4" stroke="#781a1a" stroke-width="1.6"/>
<line x1="312" y1="741" x2="326" y2="741" stroke="#781a1a" stroke-width="1.6"/>
<line x1="312" y1="825.4" x2="326" y2="825.4" stroke="#781a1a" stroke-width="1.6"/>
<circle cx="319" cy="736.4" r="3.6" fill="#781a1a"/>
<circle cx="319" cy="793.8" r="3.6" fill="#781a1a"/>
<circle cx="319" cy="819.8" r="3.6" fill="#781a1a"/>
<line x1="357.9" y1="857" x2="357.9" y2="877.2" stroke="#1e4a2c" stroke-width="1.6"/>
<line x1="350.9" y1="857" x2="364.9" y2="857" stroke="#1e4a2c" stroke-width="1.6"/>
<line x1="350.9" y1="877.2" x2="364.9" y2="877.2" stroke="#1e4a2c" stroke-width="1.6"/>
<circle cx="357.9" cy="855.7" r="3.6" fill="#1e4a2c"/>
<circle cx="348.9" cy="875.2" r="3.6" fill="#1e4a2c"/>
<circle cx="366.9" cy="872" r="3.6" fill="#1e4a2c"/>
<circle cx="387.9" cy="891.5" r="3.6" fill="#15254a"/>
<circle cx="396.9" cy="891.5" r="3.6" fill="#15254a"/>
<circle cx="405.9" cy="891.5" r="3.6" fill="#15254a"/>
<text x="319" y="923.8" font-size="23" text-anchor="middle" fill="#111" class="k" textLength="25.3" lengthAdjust="spacingAndGlyphs">S1</text>
<text x="357.9" y="923.8" font-size="23" text-anchor="middle" fill="#111" class="k" textLength="25.3" lengthAdjust="spacingAndGlyphs">S2</text>
<text x="396.9" y="923.8" font-size="23" text-anchor="middle" fill="#111" class="k" textLength="25.3" lengthAdjust="spacingAndGlyphs">S3</text>
<text x="360.2" y="687" font-size="25" text-anchor="middle" font-style="italic" fill="#111" class="k" textLength="58.3" lengthAdjust="spacingAndGlyphs">Cd34</text>
<rect x="479" y="808.3" width="26" height="83.8" fill="#b45a5a"/>
<rect x="519.1" y="858.8" width="26" height="33.3" fill="#3d9055"/>
<rect x="559" y="885.4" width="26" height="6.7" fill="#2b5fa8"/>
<line x1="467.2" y1="691" x2="467.2" y2="893.7" stroke="#000" stroke-width="3.2"/>
<line x1="465.6" y1="892.1" x2="598.5" y2="892.1" stroke="#000" stroke-width="3.2"/>
<path d="M467.2 892.1h-10M467.2 825.6h-10M467.2 759h-10M467.2 692.5h-10M492 892.1v11M532.1 892.1v11M572 892.1v11" stroke="#000" stroke-width="3.2" fill="none"/>
<text x="453.2" y="897.7" font-size="15.2" text-anchor="end" fill="#111" class="k">0.0</text>
<text x="453.2" y="831.2" font-size="15.2" text-anchor="end" fill="#111" class="k">0.5</text>
<text x="453.2" y="764.7" font-size="15.2" text-anchor="end" fill="#111" class="k">1.0</text>
<text x="453.2" y="698.1" font-size="15.2" text-anchor="end" fill="#111" class="k">1.5</text>
<line x1="492" y1="765.7" x2="492" y2="849.5" stroke="#781a1a" stroke-width="1.6"/>
<line x1="485" y1="765.7" x2="499" y2="765.7" stroke="#781a1a" stroke-width="1.6"/>
<line x1="485" y1="849.5" x2="499" y2="849.5" stroke="#781a1a" stroke-width="1.6"/>
<circle cx="492" cy="764.4" r="3.6" fill="#781a1a"/>
<circle cx="492" cy="808.3" r="3.6" fill="#781a1a"/>
<circle cx="492" cy="849.5" r="3.6" fill="#781a1a"/>
<line x1="532.1" y1="853.5" x2="532.1" y2="864.2" stroke="#1e4a2c" stroke-width="1.6"/>
<line x1="525.1" y1="853.5" x2="539.1" y2="853.5" stroke="#1e4a2c" stroke-width="1.6"/>
<line x1="525.1" y1="864.2" x2="539.1" y2="864.2" stroke="#1e4a2c" stroke-width="1.6"/>
<circle cx="532.1" cy="852.2" r="3.6" fill="#1e4a2c"/>
<circle cx="523.1" cy="862.8" r="3.6" fill="#1e4a2c"/>
<circle cx="541.1" cy="861.5" r="3.6" fill="#1e4a2c"/>
<circle cx="563" cy="885.4" r="3.6" fill="#15254a"/>
<circle cx="572" cy="885.4" r="3.6" fill="#15254a"/>
<circle cx="581" cy="885.4" r="3.6" fill="#15254a"/>
<text x="492" y="923.8" font-size="23" text-anchor="middle" fill="#111" class="k" textLength="25.3" lengthAdjust="spacingAndGlyphs">S1</text>
<text x="532.1" y="923.8" font-size="23" text-anchor="middle" fill="#111" class="k" textLength="25.3" lengthAdjust="spacingAndGlyphs">S2</text>
<text x="572" y="923.8" font-size="23" text-anchor="middle" fill="#111" class="k" textLength="25.3" lengthAdjust="spacingAndGlyphs">S3</text>
<text x="533.5" y="687" font-size="25" text-anchor="middle" font-style="italic" fill="#111" class="k" textLength="58.2" lengthAdjust="spacingAndGlyphs">Pdpn</text>
<rect x="653.1" y="807.3" width="26" height="84.8" fill="#b45a5a"/>
<rect x="693.2" y="856.2" width="26" height="35.9" fill="#3d9055"/>
<rect x="733.3" y="891.6" width="26" height="0.5" fill="#2b5fa8"/>
<line x1="640.3" y1="691" x2="640.3" y2="893.7" stroke="#000" stroke-width="3.2"/>
<line x1="638.7" y1="892.1" x2="772.6" y2="892.1" stroke="#000" stroke-width="3.2"/>
<path d="M640.3 892.1h-10M640.3 842.2h-10M640.3 792.3h-10M640.3 742.4h-10M640.3 692.5h-10M666.1 892.1v11M706.2 892.1v11M746.3 892.1v11" stroke="#000" stroke-width="3.2" fill="none"/>
<text x="626.3" y="897.7" font-size="15.2" text-anchor="end" fill="#111" class="k">0</text>
<text x="626.3" y="847.8" font-size="15.2" text-anchor="end" fill="#111" class="k">10</text>
<text x="626.3" y="797.9" font-size="15.2" text-anchor="end" fill="#111" class="k">20</text>
<text x="626.3" y="748" font-size="15.2" text-anchor="end" fill="#111" class="k">30</text>
<text x="626.3" y="698.1" font-size="15.2" text-anchor="end" fill="#111" class="k">40</text>
<line x1="666.1" y1="748.9" x2="666.1" y2="864.9" stroke="#781a1a" stroke-width="1.6"/>
<line x1="659.1" y1="748.9" x2="673.1" y2="748.9" stroke="#781a1a" stroke-width="1.6"/>
<line x1="659.1" y1="864.9" x2="673.1" y2="864.9" stroke="#781a1a" stroke-width="1.6"/>
<circle cx="666.1" cy="747.4" r="3.6" fill="#781a1a"/>
<circle cx="666.1" cy="810.8" r="3.6" fill="#781a1a"/>
<circle cx="666.1" cy="863.2" r="3.6" fill="#781a1a"/>
<line x1="706.2" y1="836.7" x2="706.2" y2="874.6" stroke="#1e4a2c" stroke-width="1.6"/>
<line x1="699.2" y1="836.7" x2="713.2" y2="836.7" stroke="#1e4a2c" stroke-width="1.6"/>
<line x1="699.2" y1="874.6" x2="713.2" y2="874.6" stroke="#1e4a2c" stroke-width="1.6"/>
<circle cx="706.2" cy="833.2" r="3.6" fill="#1e4a2c"/>
<circle cx="706.2" cy="862.2" r="3.6" fill="#1e4a2c"/>
<circle cx="706.2" cy="871.1" r="3.6" fill="#1e4a2c"/>
<circle cx="737.3" cy="892.1" r="3.6" fill="#15254a"/>
<circle cx="746.3" cy="892.1" r="3.6" fill="#15254a"/>
<circle cx="755.3" cy="892.1" r="3.6" fill="#15254a"/>
<text x="666.1" y="923.8" font-size="23" text-anchor="middle" fill="#111" class="k" textLength="25.3" lengthAdjust="spacingAndGlyphs">S1</text>
<text x="706.2" y="923.8" font-size="23" text-anchor="middle" fill="#111" class="k" textLength="25.3" lengthAdjust="spacingAndGlyphs">S2</text>
<text x="746.3" y="923.8" font-size="23" text-anchor="middle" fill="#111" class="k" textLength="25.3" lengthAdjust="spacingAndGlyphs">S3</text>
<text x="708.6" y="687" font-size="25" text-anchor="middle" font-style="italic" fill="#111" class="k" textLength="27.2" lengthAdjust="spacingAndGlyphs">C3</text>
<rect x="833.9" y="790.3" width="26" height="101.8" fill="#b45a5a"/>
<rect x="874" y="888.8" width="26" height="3.3" fill="#3d9055"/>
<rect x="913.6" y="892.1" width="26" height="0" fill="#2b5fa8"/>
<line x1="820.3" y1="691" x2="820.3" y2="893.7" stroke="#000" stroke-width="3.2"/>
<line x1="818.7" y1="892.1" x2="952.6" y2="892.1" stroke="#000" stroke-width="3.2"/>
<path d="M820.3 892.1h-10M820.3 825.6h-10M820.3 759h-10M820.3 692.5h-10M846.9 892.1v11M887 892.1v11M926.6 892.1v11" stroke="#000" stroke-width="3.2" fill="none"/>
<text x="806.3" y="897.7" font-size="15.2" text-anchor="end" fill="#111" class="k">0</text>
<text x="806.3" y="831.2" font-size="15.2" text-anchor="end" fill="#111" class="k">1</text>
<text x="806.3" y="764.7" font-size="15.2" text-anchor="end" fill="#111" class="k">2</text>
<text x="806.3" y="698.1" font-size="15.2" text-anchor="end" fill="#111" class="k">3</text>
<line x1="846.9" y1="731.8" x2="846.9" y2="849.5" stroke="#781a1a" stroke-width="1.6"/>
<line x1="839.9" y1="731.8" x2="853.9" y2="731.8" stroke="#781a1a" stroke-width="1.6"/>
<line x1="839.9" y1="849.5" x2="853.9" y2="849.5" stroke="#781a1a" stroke-width="1.6"/>
<circle cx="846.9" cy="725.8" r="3.6" fill="#781a1a"/>
<circle cx="846.9" cy="804.3" r="3.6" fill="#781a1a"/>
<circle cx="846.9" cy="840.2" r="3.6" fill="#781a1a"/>
<line x1="887" y1="885.4" x2="887" y2="892.1" stroke="#1e4a2c" stroke-width="1.6"/>
<line x1="880" y1="885.4" x2="894" y2="885.4" stroke="#1e4a2c" stroke-width="1.6"/>
<line x1="880" y1="892.1" x2="894" y2="892.1" stroke="#1e4a2c" stroke-width="1.6"/>
<circle cx="887" cy="882.1" r="3.6" fill="#1e4a2c"/>
<circle cx="878" cy="888.8" r="3.6" fill="#1e4a2c"/>
<circle cx="896" cy="888.8" r="3.6" fill="#1e4a2c"/>
<circle cx="917.6" cy="892.1" r="3.6" fill="#15254a"/>
<circle cx="926.6" cy="892.1" r="3.6" fill="#15254a"/>
<circle cx="935.6" cy="892.1" r="3.6" fill="#15254a"/>
<text x="846.9" y="923.8" font-size="23" text-anchor="middle" fill="#111" class="k" textLength="25.3" lengthAdjust="spacingAndGlyphs">S1</text>
<text x="887" y="923.8" font-size="23" text-anchor="middle" fill="#111" class="k" textLength="25.3" lengthAdjust="spacingAndGlyphs">S2</text>
<text x="926.6" y="923.8" font-size="23" text-anchor="middle" fill="#111" class="k" textLength="25.3" lengthAdjust="spacingAndGlyphs">S3</text>
<text x="884.7" y="687" font-size="25" text-anchor="middle" font-style="italic" fill="#111" class="k" textLength="61.4" lengthAdjust="spacingAndGlyphs">Dpp4</text>
<rect x="142.2" y="1162.9" width="26" height="17.6" fill="#b45a5a"/>
<rect x="180.3" y="1053.2" width="26" height="127.3" fill="#3d9055"/>
<rect x="218" y="1127.6" width="26" height="52.9" fill="#2b5fa8"/>
<line x1="130.5" y1="987.3" x2="130.5" y2="1182.1" stroke="#000" stroke-width="3.2"/>
<line x1="128.9" y1="1180.5" x2="256.7" y2="1180.5" stroke="#000" stroke-width="3.2"/>
<path d="M130.5 1180.5h-10M130.5 1142.2h-10M130.5 1103.8h-10M130.5 1065.5h-10M130.5 1027.1h-10M130.5 988.8h-10M155.2 1180.5v11M193.3 1180.5v11M231 1180.5v11" stroke="#000" stroke-width="3.2" fill="none"/>
<text x="116.5" y="1186.1" font-size="15.2" text-anchor="end" fill="#111" class="k">0.0</text>
<text x="116.5" y="1147.8" font-size="15.2" text-anchor="end" fill="#111" class="k">0.5</text>
<text x="116.5" y="1109.4" font-size="15.2" text-anchor="end" fill="#111" class="k">1.0</text>
<text x="116.5" y="1071.1" font-size="15.2" text-anchor="end" fill="#111" class="k">1.5</text>
<text x="116.5" y="1032.8" font-size="15.2" text-anchor="end" fill="#111" class="k">2.0</text>
<text x="116.5" y="994.4" font-size="15.2" text-anchor="end" fill="#111" class="k">2.5</text>
<line x1="155.2" y1="1146.8" x2="155.2" y2="1180.5" stroke="#781a1a" stroke-width="1.6"/>
<line x1="148.2" y1="1146.8" x2="162.2" y2="1146.8" stroke="#781a1a" stroke-width="1.6"/>
<line x1="148.2" y1="1180.5" x2="162.2" y2="1180.5" stroke="#781a1a" stroke-width="1.6"/>
<circle cx="155.2" cy="1145.2" r="3.6" fill="#781a1a"/>
<circle cx="155.2" cy="1165.2" r="3.6" fill="#781a1a"/>
<circle cx="155.2" cy="1177.4" r="3.6" fill="#781a1a"/>
<line x1="193.3" y1="1011.8" x2="193.3" y2="1094.6" stroke="#1e4a2c" stroke-width="1.6"/>
<line x1="186.3" y1="1011.8" x2="200.3" y2="1011.8" stroke="#1e4a2c" stroke-width="1.6"/>
<line x1="186.3" y1="1094.6" x2="200.3" y2="1094.6" stroke="#1e4a2c" stroke-width="1.6"/>
<circle cx="193.3" cy="1004.1" r="3.6" fill="#1e4a2c"/>
<circle cx="193.3" cy="1070.8" r="3.6" fill="#1e4a2c"/>
<circle cx="193.3" cy="1082.3" r="3.6" fill="#1e4a2c"/>
<line x1="231" y1="1098.5" x2="231" y2="1155.2" stroke="#15254a" stroke-width="1.6"/>
<line x1="224" y1="1098.5" x2="238" y2="1098.5" stroke="#15254a" stroke-width="1.6"/>
<line x1="224" y1="1155.2" x2="238" y2="1155.2" stroke="#15254a" stroke-width="1.6"/>
<circle cx="231" cy="1102.3" r="3.6" fill="#15254a"/>
<circle cx="231" cy="1120.7" r="3.6" fill="#15254a"/>
<circle cx="231" cy="1158.3" r="3.6" fill="#15254a"/>
<text x="155.2" y="1215" font-size="23" text-anchor="middle" fill="#111" class="k" textLength="25.3" lengthAdjust="spacingAndGlyphs">S1</text>
<text x="193.3" y="1215" font-size="23" text-anchor="middle" fill="#111" class="k" textLength="25.3" lengthAdjust="spacingAndGlyphs">S2</text>
<text x="231" y="1215" font-size="23" text-anchor="middle" fill="#111" class="k" textLength="25.3" lengthAdjust="spacingAndGlyphs">S3</text>
<text x="194" y="984" font-size="25" text-anchor="middle" font-style="italic" fill="#111" class="k" textLength="38" lengthAdjust="spacingAndGlyphs">Tnc</text>
<rect x="304.4" y="1116.7" width="26" height="63.8" fill="#b45a5a"/>
<rect x="342.5" y="1078.2" width="26" height="102.3" fill="#3d9055"/>
<rect x="380.6" y="1155.9" width="26" height="24.6" fill="#2b5fa8"/>
<line x1="292.8" y1="986.8" x2="292.8" y2="1182.1" stroke="#000" stroke-width="3.2"/>
<line x1="291.2" y1="1180.5" x2="419" y2="1180.5" stroke="#000" stroke-width="3.2"/>
<path d="M292.8 1180.5h-10M292.8 1142.1h-10M292.8 1103.6h-10M292.8 1065.2h-10M292.8 1026.7h-10M292.8 988.3h-10M317.4 1180.5v11M355.5 1180.5v11M393.6 1180.5v11" stroke="#000" stroke-width="3.2" fill="none"/>
<text x="278.8" y="1186.1" font-size="15.2" text-anchor="end" fill="#111" class="k">0</text>
<text x="278.8" y="1147.7" font-size="15.2" text-anchor="end" fill="#111" class="k">1</text>
<text x="278.8" y="1109.2" font-size="15.2" text-anchor="end" fill="#111" class="k">2</text>
<text x="278.8" y="1070.8" font-size="15.2" text-anchor="end" fill="#111" class="k">3</text>
<text x="278.8" y="1032.4" font-size="15.2" text-anchor="end" fill="#111" class="k">4</text>
<text x="278.8" y="993.9" font-size="15.2" text-anchor="end" fill="#111" class="k">5</text>
<line x1="317.4" y1="1109.8" x2="317.4" y2="1123.2" stroke="#781a1a" stroke-width="1.6"/>
<line x1="310.4" y1="1109.8" x2="324.4" y2="1109.8" stroke="#781a1a" stroke-width="1.6"/>
<line x1="310.4" y1="1123.2" x2="324.4" y2="1123.2" stroke="#781a1a" stroke-width="1.6"/>
<circle cx="308.4" cy="1111.3" r="3.6" fill="#781a1a"/>
<circle cx="326.4" cy="1112.1" r="3.6" fill="#781a1a"/>
<circle cx="317.4" cy="1124.8" r="3.6" fill="#781a1a"/>
<line x1="355.5" y1="1034.8" x2="355.5" y2="1121.7" stroke="#1e4a2c" stroke-width="1.6"/>
<line x1="348.5" y1="1034.8" x2="362.5" y2="1034.8" stroke="#1e4a2c" stroke-width="1.6"/>
<line x1="348.5" y1="1121.7" x2="362.5" y2="1121.7" stroke="#1e4a2c" stroke-width="1.6"/>
<circle cx="355.5" cy="1029.8" r="3.6" fill="#1e4a2c"/>
<circle cx="355.5" cy="1092.1" r="3.6" fill="#1e4a2c"/>
<circle cx="355.5" cy="1113.2" r="3.6" fill="#1e4a2c"/>
<line x1="393.6" y1="1133.2" x2="393.6" y2="1178.6" stroke="#15254a" stroke-width="1.6"/>
<line x1="386.6" y1="1133.2" x2="400.6" y2="1133.2" stroke="#15254a" stroke-width="1.6"/>
<line x1="386.6" y1="1178.6" x2="400.6" y2="1178.6" stroke="#15254a" stroke-width="1.6"/>
<circle cx="393.6" cy="1130.1" r="3.6" fill="#15254a"/>
<circle cx="393.6" cy="1162.4" r="3.6" fill="#15254a"/>
<circle cx="393.6" cy="1175.1" r="3.6" fill="#15254a"/>
<text x="317.4" y="1215" font-size="23" text-anchor="middle" fill="#111" class="k" textLength="25.3" lengthAdjust="spacingAndGlyphs">S1</text>
<text x="355.5" y="1215" font-size="23" text-anchor="middle" fill="#111" class="k" textLength="25.3" lengthAdjust="spacingAndGlyphs">S2</text>
<text x="393.6" y="1215" font-size="23" text-anchor="middle" fill="#111" class="k" textLength="25.3" lengthAdjust="spacingAndGlyphs">S3</text>
<text x="353.5" y="984" font-size="25" text-anchor="middle" font-style="italic" fill="#111" class="k" textLength="63.3" lengthAdjust="spacingAndGlyphs">Postn</text>
<rect x="475.3" y="1170.8" width="26" height="10.7" fill="#b45a5a"/>
<rect x="513.2" y="1136.3" width="26" height="45.2" fill="#3d9055"/>
<rect x="550.8" y="1084" width="26" height="97.5" fill="#2b5fa8"/>
<line x1="463.8" y1="989.8" x2="463.8" y2="1183.1" stroke="#000" stroke-width="3.2"/>
<line x1="462.2" y1="1181.5" x2="588.6" y2="1181.5" stroke="#000" stroke-width="3.2"/>
<path d="M463.8 1181.5h-10M463.8 1134h-10M463.8 1086.4h-10M463.8 1038.8h-10M463.8 991.3h-10M488.3 1181.5v11M526.2 1181.5v11M563.8 1181.5v11" stroke="#000" stroke-width="3.2" fill="none"/>
<text x="449.8" y="1187.1" font-size="15.2" text-anchor="end" fill="#111" class="k">0.0</text>
<text x="449.8" y="1139.6" font-size="15.2" text-anchor="end" fill="#111" class="k">0.2</text>
<text x="449.8" y="1092" font-size="15.2" text-anchor="end" fill="#111" class="k">0.4</text>
<text x="449.8" y="1044.5" font-size="15.2" text-anchor="end" fill="#111" class="k">0.6</text>
<text x="449.8" y="996.9" font-size="15.2" text-anchor="end" fill="#111" class="k">0.8</text>
<line x1="488.3" y1="1163" x2="488.3" y2="1179.1" stroke="#781a1a" stroke-width="1.6"/>
<line x1="481.3" y1="1163" x2="495.3" y2="1163" stroke="#781a1a" stroke-width="1.6"/>
<line x1="481.3" y1="1179.1" x2="495.3" y2="1179.1" stroke="#781a1a" stroke-width="1.6"/>
<circle cx="480.3" cy="1163.2" r="3.6" fill="#781a1a"/>
<circle cx="497.3" cy="1169.6" r="3.6" fill="#781a1a"/>
<circle cx="488.3" cy="1179.1" r="3.6" fill="#781a1a"/>
<line x1="526.2" y1="1114.9" x2="526.2" y2="1157.7" stroke="#1e4a2c" stroke-width="1.6"/>
<line x1="519.2" y1="1114.9" x2="533.2" y2="1114.9" stroke="#1e4a2c" stroke-width="1.6"/>
<line x1="519.2" y1="1157.7" x2="533.2" y2="1157.7" stroke="#1e4a2c" stroke-width="1.6"/>
<circle cx="526.2" cy="1119.7" r="3.6" fill="#1e4a2c"/>
<circle cx="526.2" cy="1129.2" r="3.6" fill="#1e4a2c"/>
<circle cx="526.2" cy="1161.3" r="3.6" fill="#1e4a2c"/>
<line x1="563.8" y1="1031.7" x2="563.8" y2="1137.5" stroke="#15254a" stroke-width="1.6"/>
<line x1="556.8" y1="1031.7" x2="570.8" y2="1031.7" stroke="#15254a" stroke-width="1.6"/>
<line x1="556.8" y1="1137.5" x2="570.8" y2="1137.5" stroke="#15254a" stroke-width="1.6"/>
<circle cx="563.8" cy="1043.6" r="3.6" fill="#15254a"/>
<circle cx="563.8" cy="1065" r="3.6" fill="#15254a"/>
<circle cx="563.8" cy="1143.5" r="3.6" fill="#15254a"/>
<text x="488.3" y="1215" font-size="23" text-anchor="middle" fill="#111" class="k" textLength="25.3" lengthAdjust="spacingAndGlyphs">S1</text>
<text x="526.2" y="1215" font-size="23" text-anchor="middle" fill="#111" class="k" textLength="25.3" lengthAdjust="spacingAndGlyphs">S2</text>
<text x="563.8" y="1215" font-size="23" text-anchor="middle" fill="#111" class="k" textLength="25.3" lengthAdjust="spacingAndGlyphs">S3</text>
<text x="532.8" y="984.1" font-size="25" text-anchor="middle" font-style="italic" fill="#111" class="k" textLength="64.4" lengthAdjust="spacingAndGlyphs">Acta2</text>
<rect x="651.1" y="1179.8" width="26" height="3.9" fill="#b45a5a"/>
<rect x="690.2" y="1146.6" width="26" height="37.1" fill="#3d9055"/>
<rect x="729.1" y="1080.1" width="26" height="103.6" fill="#2b5fa8"/>
<line x1="639.1" y1="986.8" x2="639.1" y2="1185.3" stroke="#000" stroke-width="3.2"/>
<line x1="637.5" y1="1183.7" x2="768.1" y2="1183.7" stroke="#000" stroke-width="3.2"/>
<path d="M639.1 1183.7h-10M639.1 1144.6h-10M639.1 1105.5h-10M639.1 1066.5h-10M639.1 1027.4h-10M639.1 988.3h-10M664.1 1183.7v11M703.2 1183.7v11M742.1 1183.7v11" stroke="#000" stroke-width="3.2" fill="none"/>
<text x="625.1" y="1189.3" font-size="15.2" text-anchor="end" fill="#111" class="k">0.00</text>
<text x="625.1" y="1150.2" font-size="15.2" text-anchor="end" fill="#111" class="k">0.02</text>
<text x="625.1" y="1111.2" font-size="15.2" text-anchor="end" fill="#111" class="k">0.04</text>
<text x="625.1" y="1072.1" font-size="15.2" text-anchor="end" fill="#111" class="k">0.06</text>
<text x="625.1" y="1033" font-size="15.2" text-anchor="end" fill="#111" class="k">0.08</text>
<text x="625.1" y="993.9" font-size="15.2" text-anchor="end" fill="#111" class="k">0.10</text>
<line x1="664.1" y1="1175.9" x2="664.1" y2="1183.7" stroke="#781a1a" stroke-width="1.6"/>
<line x1="657.1" y1="1175.9" x2="671.1" y2="1175.9" stroke="#781a1a" stroke-width="1.6"/>
<line x1="657.1" y1="1183.7" x2="671.1" y2="1183.7" stroke="#781a1a" stroke-width="1.6"/>
<circle cx="664.1" cy="1175.9" r="3.6" fill="#781a1a"/>
<circle cx="656.1" cy="1183.7" r="3.6" fill="#781a1a"/>
<circle cx="672.1" cy="1183.7" r="3.6" fill="#781a1a"/>
<line x1="703.2" y1="1129" x2="703.2" y2="1162.2" stroke="#1e4a2c" stroke-width="1.6"/>
<line x1="696.2" y1="1129" x2="710.2" y2="1129" stroke="#1e4a2c" stroke-width="1.6"/>
<line x1="696.2" y1="1162.2" x2="710.2" y2="1162.2" stroke="#1e4a2c" stroke-width="1.6"/>
<circle cx="703.2" cy="1130" r="3.6" fill="#1e4a2c"/>
<circle cx="703.2" cy="1142.7" r="3.6" fill="#1e4a2c"/>
<circle cx="703.2" cy="1163.2" r="3.6" fill="#1e4a2c"/>
<line x1="742.1" y1="1013.7" x2="742.1" y2="1146.6" stroke="#15254a" stroke-width="1.6"/>
<line x1="735.1" y1="1013.7" x2="749.1" y2="1013.7" stroke="#15254a" stroke-width="1.6"/>
<line x1="735.1" y1="1146.6" x2="749.1" y2="1146.6" stroke="#15254a" stroke-width="1.6"/>
<circle cx="742.1" cy="1009.8" r="3.6" fill="#15254a"/>
<circle cx="742.1" cy="1089.9" r="3.6" fill="#15254a"/>
<circle cx="742.1" cy="1141.7" r="3.6" fill="#15254a"/>
<text x="664.1" y="1215" font-size="23" text-anchor="middle" fill="#111" class="k" textLength="25.3" lengthAdjust="spacingAndGlyphs">S1</text>
<text x="703.2" y="1215" font-size="23" text-anchor="middle" fill="#111" class="k" textLength="25.3" lengthAdjust="spacingAndGlyphs">S2</text>
<text x="742.1" y="1215" font-size="23" text-anchor="middle" fill="#111" class="k" textLength="25.3" lengthAdjust="spacingAndGlyphs">S3</text>
<text x="701.5" y="984.1" font-size="25" text-anchor="middle" font-style="italic" fill="#111" class="k" textLength="69.8" lengthAdjust="spacingAndGlyphs">Cspg4</text>
<rect x="829.4" y="1176.5" width="26" height="4.4" fill="#b45a5a"/>
<rect x="867.3" y="1153.1" width="26" height="27.8" fill="#3d9055"/>
<rect x="905" y="1062.1" width="26" height="118.8" fill="#2b5fa8"/>
<line x1="817.4" y1="989.8" x2="817.4" y2="1182.5" stroke="#000" stroke-width="3.2"/>
<line x1="815.8" y1="1180.9" x2="944" y2="1180.9" stroke="#000" stroke-width="3.2"/>
<path d="M817.4 1180.9h-10M817.4 1117.7h-10M817.4 1054.5h-10M817.4 991.3h-10M842.4 1180.9v11M880.3 1180.9v11M918 1180.9v11" stroke="#000" stroke-width="3.2" fill="none"/>
<text x="803.4" y="1186.5" font-size="15.2" text-anchor="end" fill="#111" class="k">0.00</text>
<text x="803.4" y="1123.3" font-size="15.2" text-anchor="end" fill="#111" class="k">0.01</text>
<text x="803.4" y="1060.1" font-size="15.2" text-anchor="end" fill="#111" class="k">0.02</text>
<text x="803.4" y="996.9" font-size="15.2" text-anchor="end" fill="#111" class="k">0.03</text>
<circle cx="834.4" cy="1175.8" r="3.6" fill="#781a1a"/>
<circle cx="842.4" cy="1175.2" r="3.6" fill="#781a1a"/>
<circle cx="850.4" cy="1175.8" r="3.6" fill="#781a1a"/>
<line x1="880.3" y1="1125.9" x2="880.3" y2="1179.6" stroke="#1e4a2c" stroke-width="1.6"/>
<line x1="873.3" y1="1125.9" x2="887.3" y2="1125.9" stroke="#1e4a2c" stroke-width="1.6"/>
<line x1="873.3" y1="1179.6" x2="887.3" y2="1179.6" stroke="#1e4a2c" stroke-width="1.6"/>
<circle cx="880.3" cy="1132.9" r="3.6" fill="#1e4a2c"/>
<circle cx="880.3" cy="1171.4" r="3.6" fill="#1e4a2c"/>
<circle cx="880.3" cy="1179" r="3.6" fill="#1e4a2c"/>
<line x1="918" y1="1006.5" x2="918" y2="1117.1" stroke="#15254a" stroke-width="1.6"/>
<line x1="911" y1="1006.5" x2="925" y2="1006.5" stroke="#15254a" stroke-width="1.6"/>
<line x1="911" y1="1117.1" x2="925" y2="1117.1" stroke="#15254a" stroke-width="1.6"/>
<circle cx="918" cy="1002" r="3.6" fill="#15254a"/>
<circle cx="918" cy="1072.8" r="3.6" fill="#15254a"/>
<circle cx="918" cy="1112" r="3.6" fill="#15254a"/>
<text x="842.4" y="1215" font-size="23" text-anchor="middle" fill="#111" class="k" textLength="25.3" lengthAdjust="spacingAndGlyphs">S1</text>
<text x="880.3" y="1215" font-size="23" text-anchor="middle" fill="#111" class="k" textLength="25.3" lengthAdjust="spacingAndGlyphs">S2</text>
<text x="918" y="1215" font-size="23" text-anchor="middle" fill="#111" class="k" textLength="25.3" lengthAdjust="spacingAndGlyphs">S3</text>
<text x="872.7" y="984.1" font-size="25" text-anchor="middle" font-style="italic" fill="#111" class="k" textLength="55.7" lengthAdjust="spacingAndGlyphs">Rgs5</text>
<text x="83.3" y="871.4" font-size="21" fill="#111" class="k" textLength="147.6" lengthAdjust="spacingAndGlyphs" transform="rotate(-90 83.3 871.4)">Gene expression</text>
<text x="83.3" y="1153" font-size="21" fill="#111" class="k" textLength="147.5" lengthAdjust="spacingAndGlyphs" transform="rotate(-90 83.3 1153)">Gene expression</text>
<text x="1068.6" y="753.2" font-size="42" class="k">d</text>
<rect x="1187.8" y="848.9" width="25.5" height="165.1" fill="#808080"/>
<rect x="1226.7" y="901.9" width="25.5" height="112.1" fill="#1a7ee6"/>
<line x1="1181.5" y1="808.7" x2="1181.5" y2="1015.5" stroke="#000" stroke-width="3"/>
<line x1="1180" y1="1014" x2="1258" y2="1014" stroke="#000" stroke-width="3"/>
<path d="M1181.5 1014h-5.3M1181.5 973.2h-5.3M1181.5 932.5h-5.3M1181.5 891.7h-5.3M1181.5 851h-5.3M1181.5 810.2h-5.3M1200.6 1014v4.8M1239.4 1014v4.8" stroke="#000" stroke-width="3" fill="none"/>
<text x="1171" y="1019.8" font-size="16" text-anchor="end" fill="#111" class="k">0</text>
<text x="1171" y="979" font-size="16" text-anchor="end" fill="#111" class="k">20</text>
<text x="1171" y="938.2" font-size="16" text-anchor="end" fill="#111" class="k">40</text>
<text x="1171" y="897.5" font-size="16" text-anchor="end" fill="#111" class="k">60</text>
<text x="1171" y="856.7" font-size="16" text-anchor="end" fill="#111" class="k">80</text>
<text x="1171" y="816" font-size="16" text-anchor="end" fill="#111" class="k">100</text>
<line x1="1200.6" y1="833" x2="1200.6" y2="863.4" stroke="#3a3a3a" stroke-width="1.6"/>
<line x1="1193.4" y1="833" x2="1207.8" y2="833" stroke="#3a3a3a" stroke-width="1.6"/>
<line x1="1193.4" y1="863.4" x2="1207.8" y2="863.4" stroke="#3a3a3a" stroke-width="1.6"/>
<circle cx="1200.6" cy="827.5" r="3.8" fill="#3a3a3a"/>
<circle cx="1191.6" cy="848.5" r="3.8" fill="#3a3a3a"/>
<circle cx="1209.6" cy="849.9" r="3.8" fill="#3a3a3a"/>
<circle cx="1200.6" cy="864.6" r="3.8" fill="#3a3a3a"/>
<line x1="1239.4" y1="889.1" x2="1239.4" y2="915" stroke="#0f2a5c" stroke-width="1.6"/>
<line x1="1232.2" y1="889.1" x2="1246.6" y2="889.1" stroke="#0f2a5c" stroke-width="1.6"/>
<line x1="1232.2" y1="915" x2="1246.6" y2="915" stroke="#0f2a5c" stroke-width="1.6"/>
<circle cx="1248.4" cy="888.7" r="3.8" fill="#0f2a5c"/>
<circle cx="1230.4" cy="895.8" r="3.8" fill="#0f2a5c"/>
<circle cx="1248.4" cy="903.1" r="3.8" fill="#0f2a5c"/>
<circle cx="1239.4" cy="919.4" r="3.8" fill="#0f2a5c"/>
<text x="1198.3" y="1040.4" font-size="22.5" text-anchor="middle" fill="#111" class="k" textLength="36.3" lengthAdjust="spacingAndGlyphs">Ctrl</text>
<text x="1242.8" y="1040.4" font-size="22.5" text-anchor="middle" fill="#111" class="k" textLength="40.8" lengthAdjust="spacingAndGlyphs">DTR</text>
<text x="1217.7" y="791.1" font-size="25" text-anchor="middle" fill="#111" class="k" textLength="26.7" lengthAdjust="spacingAndGlyphs">S1</text>
<text x="1223.7" y="817.6" font-size="14" text-anchor="middle" fill="#111" class="k" textLength="42" lengthAdjust="spacingAndGlyphs">0.0018</text>
<line x1="1193.6" y1="820.9" x2="1251.8" y2="820.9" stroke="#000" stroke-width="1.3"/>
<rect x="1336.2" y="967.1" width="25.5" height="45.7" fill="#808080"/>
<rect x="1374.5" y="899.1" width="25.5" height="113.7" fill="#1a7ee6"/>
<line x1="1329.2" y1="807.5" x2="1329.2" y2="1014.3" stroke="#000" stroke-width="3"/>
<line x1="1327.7" y1="1012.8" x2="1406.6" y2="1012.8" stroke="#000" stroke-width="3"/>
<path d="M1329.2 1012.8h-5.3M1329.2 972h-5.3M1329.2 931.3h-5.3M1329.2 890.5h-5.3M1329.2 849.8h-5.3M1329.2 809h-5.3M1348.9 1012.8v4.8M1387.3 1012.8v4.8" stroke="#000" stroke-width="3" fill="none"/>
<text x="1318.7" y="1018.6" font-size="16" text-anchor="end" fill="#111" class="k">0</text>
<text x="1318.7" y="977.8" font-size="16" text-anchor="end" fill="#111" class="k">10</text>
<text x="1318.7" y="937" font-size="16" text-anchor="end" fill="#111" class="k">20</text>
<text x="1318.7" y="896.3" font-size="16" text-anchor="end" fill="#111" class="k">30</text>
<text x="1318.7" y="855.5" font-size="16" text-anchor="end" fill="#111" class="k">40</text>
<text x="1318.7" y="814.8" font-size="16" text-anchor="end" fill="#111" class="k">50</text>
<line x1="1348.9" y1="946.8" x2="1348.9" y2="985.9" stroke="#3a3a3a" stroke-width="1.6"/>
<line x1="1341.8" y1="946.8" x2="1356.1" y2="946.8" stroke="#3a3a3a" stroke-width="1.6"/>
<line x1="1341.8" y1="985.9" x2="1356.1" y2="985.9" stroke="#3a3a3a" stroke-width="1.6"/>
<circle cx="1348.9" cy="945.1" r="3.8" fill="#3a3a3a"/>
<circle cx="1348.9" cy="958.6" r="3.8" fill="#3a3a3a"/>
<circle cx="1348.9" cy="974.9" r="3.8" fill="#3a3a3a"/>
<circle cx="1348.9" cy="991.2" r="3.8" fill="#3a3a3a"/>
<line x1="1387.3" y1="869.7" x2="1387.3" y2="927.2" stroke="#0f2a5c" stroke-width="1.6"/>
<line x1="1380.1" y1="869.7" x2="1394.5" y2="869.7" stroke="#0f2a5c" stroke-width="1.6"/>
<line x1="1380.1" y1="927.2" x2="1394.5" y2="927.2" stroke="#0f2a5c" stroke-width="1.6"/>
<circle cx="1387.3" cy="855.5" r="3.8" fill="#0f2a5c"/>
<circle cx="1387.3" cy="904.8" r="3.8" fill="#0f2a5c"/>
<circle cx="1396.3" cy="914.6" r="3.8" fill="#0f2a5c"/>
<circle cx="1378.3" cy="920.3" r="3.8" fill="#0f2a5c"/>
<text x="1346.6" y="1040.4" font-size="22.5" text-anchor="middle" fill="#111" class="k" textLength="36.4" lengthAdjust="spacingAndGlyphs">Ctrl</text>
<text x="1390.7" y="1040.4" font-size="22.5" text-anchor="middle" fill="#111" class="k" textLength="40.3" lengthAdjust="spacingAndGlyphs">DTR</text>
<text x="1364" y="791.1" font-size="25" text-anchor="middle" fill="#111" class="k" textLength="26.7" lengthAdjust="spacingAndGlyphs">S2</text>
<text x="1368" y="817.6" font-size="14" text-anchor="middle" fill="#111" class="k" textLength="42" lengthAdjust="spacingAndGlyphs">0.0085</text>
<line x1="1338" y1="820.9" x2="1396" y2="820.9" stroke="#000" stroke-width="1.3"/>
<rect x="1475" y="974.3" width="25.5" height="38.5" fill="#808080"/>
<rect x="1514" y="890.5" width="25.5" height="122.3" fill="#1a7ee6"/>
<line x1="1468" y1="807.5" x2="1468" y2="1014.3" stroke="#000" stroke-width="3"/>
<line x1="1466.5" y1="1012.8" x2="1545.8" y2="1012.8" stroke="#000" stroke-width="3"/>
<path d="M1468 1012.8h-5.3M1468 944.9h-5.3M1468 876.9h-5.3M1468 809h-5.3M1487.8 1012.8v4.8M1526.7 1012.8v4.8" stroke="#000" stroke-width="3" fill="none"/>
<text x="1457.5" y="1018.6" font-size="16" text-anchor="end" fill="#111" class="k">0</text>
<text x="1457.5" y="950.6" font-size="16" text-anchor="end" fill="#111" class="k">5</text>
<text x="1457.5" y="882.7" font-size="16" text-anchor="end" fill="#111" class="k">10</text>
<text x="1457.5" y="814.8" font-size="16" text-anchor="end" fill="#111" class="k">15</text>
<line x1="1487.8" y1="949.6" x2="1487.8" y2="997.2" stroke="#3a3a3a" stroke-width="1.6"/>
<line x1="1480.6" y1="949.6" x2="1495" y2="949.6" stroke="#3a3a3a" stroke-width="1.6"/>
<line x1="1480.6" y1="997.2" x2="1495" y2="997.2" stroke="#3a3a3a" stroke-width="1.6"/>
<circle cx="1487.8" cy="950.3" r="3.8" fill="#3a3a3a"/>
<circle cx="1487.8" cy="959.8" r="3.8" fill="#3a3a3a"/>
<circle cx="1487.8" cy="978.8" r="3.8" fill="#3a3a3a"/>
<circle cx="1487.8" cy="1004.6" r="3.8" fill="#3a3a3a"/>
<line x1="1526.7" y1="852.5" x2="1526.7" y2="926.5" stroke="#0f2a5c" stroke-width="1.6"/>
<line x1="1519.5" y1="852.5" x2="1533.9" y2="852.5" stroke="#0f2a5c" stroke-width="1.6"/>
<line x1="1519.5" y1="926.5" x2="1533.9" y2="926.5" stroke="#0f2a5c" stroke-width="1.6"/>
<circle cx="1526.7" cy="834.8" r="3.8" fill="#0f2a5c"/>
<circle cx="1526.7" cy="901.4" r="3.8" fill="#0f2a5c"/>
<circle cx="1526.7" cy="909.5" r="3.8" fill="#0f2a5c"/>
<circle cx="1526.7" cy="917.7" r="3.8" fill="#0f2a5c"/>
<text x="1485.5" y="1040.4" font-size="22.5" text-anchor="middle" fill="#111" class="k" textLength="36.8" lengthAdjust="spacingAndGlyphs">Ctrl</text>
<text x="1530.1" y="1040.4" font-size="22.5" text-anchor="middle" fill="#111" class="k" textLength="39.8" lengthAdjust="spacingAndGlyphs">DTR</text>
<text x="1497" y="791.1" font-size="25" text-anchor="middle" fill="#111" class="k" textLength="26.7" lengthAdjust="spacingAndGlyphs">S3</text>
<text x="1505.7" y="817.6" font-size="14" text-anchor="middle" fill="#111" class="k" textLength="42" lengthAdjust="spacingAndGlyphs">0.0089</text>
<line x1="1476" y1="820.9" x2="1533.4" y2="820.9" stroke="#000" stroke-width="1.3"/>
<text x="1140.4" y="945.2" font-size="21" fill="#111" class="k" textLength="64.4" lengthAdjust="spacingAndGlyphs" transform="rotate(-90 1140.4 945.2)">% cells</text>
<text x="1259.8" y="1315" font-size="42" class="k">g</text>
<rect x="1381.2" y="1509.8" width="25.5" height="102.8" fill="#838383"/>
<rect x="1420.2" y="1455.3" width="25.5" height="157.2" fill="#2279e0"/>
<line x1="1375" y1="1405.5" x2="1375" y2="1614.1" stroke="#000" stroke-width="3.2"/>
<line x1="1373.4" y1="1612.5" x2="1452" y2="1612.5" stroke="#000" stroke-width="3.2"/>
<path d="M1375 1612.5h-5.7M1375 1561.1h-5.7M1375 1509.8h-5.7M1375 1458.4h-5.7M1375 1407h-5.7M1393.9 1612.5v7M1432.9 1612.5v7" stroke="#000" stroke-width="3.2" fill="none"/>
<text x="1364" y="1620.3" font-size="19.6" text-anchor="end" fill="#111" class="k">0.0</text>
<text x="1364" y="1569" font-size="19.6" text-anchor="end" fill="#111" class="k">0.5</text>
<text x="1364" y="1517.6" font-size="19.6" text-anchor="end" fill="#111" class="k">1.0</text>
<text x="1364" y="1466.2" font-size="19.6" text-anchor="end" fill="#111" class="k">1.5</text>
<text x="1364" y="1414.8" font-size="19.6" text-anchor="end" fill="#111" class="k">2.0</text>
<line x1="1393.9" y1="1501.5" x2="1393.9" y2="1519" stroke="#383838" stroke-width="1.6"/>
<line x1="1386.8" y1="1501.5" x2="1401" y2="1501.5" stroke="#383838" stroke-width="1.6"/>
<line x1="1386.8" y1="1519" x2="1401" y2="1519" stroke="#383838" stroke-width="1.6"/>
<circle cx="1393.9" cy="1499.5" r="3.8" fill="#383838"/>
<circle cx="1383.9" cy="1513.9" r="3.8" fill="#383838"/>
<circle cx="1403.9" cy="1512.8" r="3.8" fill="#383838"/>
<line x1="1432.9" y1="1446" x2="1432.9" y2="1465.6" stroke="#14306a" stroke-width="1.6"/>
<line x1="1425.8" y1="1446" x2="1440" y2="1446" stroke="#14306a" stroke-width="1.6"/>
<line x1="1425.8" y1="1465.6" x2="1440" y2="1465.6" stroke="#14306a" stroke-width="1.6"/>
<rect x="1420.1" y="1444.3" width="7.6" height="7.6" fill="#14306a"/>
<rect x="1438.1" y="1448.4" width="7.6" height="7.6" fill="#14306a"/>
<rect x="1429.1" y="1459.7" width="7.6" height="7.6" fill="#14306a"/>
<text x="1407.4" y="1634.5" font-size="20" text-anchor="end" fill="#111" class="k" textLength="83.5" lengthAdjust="spacingAndGlyphs" transform="rotate(-45 1407.4 1634.5)">Normoxia</text>
<text x="1446.4" y="1634.5" font-size="20" text-anchor="end" fill="#111" class="k" textLength="73.5" lengthAdjust="spacingAndGlyphs" transform="rotate(-45 1446.4 1634.5)">Hypoxia</text>
<text x="1417" y="1375.4" font-size="25" text-anchor="middle" font-style="italic" fill="#111" class="k" textLength="58.5" lengthAdjust="spacingAndGlyphs">Cd34</text>
<text x="1411.3" y="1422.4" font-size="14" text-anchor="middle" fill="#111" class="k" textLength="41" lengthAdjust="spacingAndGlyphs">0.0015</text>
<line x1="1382.4" y1="1426.6" x2="1440.2" y2="1426.6" stroke="#000" stroke-width="1.3"/>
<rect x="1486.5" y="1586.8" width="25.5" height="25.7" fill="#838383"/>
<rect x="1526.2" y="1469.9" width="25.5" height="142.6" fill="#2279e0"/>
<line x1="1481.4" y1="1405.5" x2="1481.4" y2="1614.1" stroke="#000" stroke-width="3.2"/>
<line x1="1479.8" y1="1612.5" x2="1557.8" y2="1612.5" stroke="#000" stroke-width="3.2"/>
<path d="M1481.4 1612.5h-5.7M1481.4 1561.1h-5.7M1481.4 1509.8h-5.7M1481.4 1458.4h-5.7M1481.4 1407h-5.7M1499.3 1612.5v7M1539 1612.5v7" stroke="#000" stroke-width="3.2" fill="none"/>
<text x="1470.4" y="1620.3" font-size="19.6" text-anchor="end" fill="#111" class="k">0</text>
<text x="1470.4" y="1569" font-size="19.6" text-anchor="end" fill="#111" class="k">2</text>
<text x="1470.4" y="1517.6" font-size="19.6" text-anchor="end" fill="#111" class="k">4</text>
<text x="1470.4" y="1466.2" font-size="19.6" text-anchor="end" fill="#111" class="k">6</text>
<text x="1470.4" y="1414.8" font-size="19.6" text-anchor="end" fill="#111" class="k">8</text>
<line x1="1499.3" y1="1585" x2="1499.3" y2="1588.6" stroke="#383838" stroke-width="1.6"/>
<line x1="1492.2" y1="1585" x2="1506.4" y2="1585" stroke="#383838" stroke-width="1.6"/>
<line x1="1492.2" y1="1588.6" x2="1506.4" y2="1588.6" stroke="#383838" stroke-width="1.6"/>
<circle cx="1499.3" cy="1584.2" r="3.8" fill="#383838"/>
<circle cx="1489.3" cy="1588.1" r="3.8" fill="#383838"/>
<circle cx="1509.3" cy="1587.6" r="3.8" fill="#383838"/>
<line x1="1539" y1="1457.3" x2="1539" y2="1481.8" stroke="#14306a" stroke-width="1.6"/>
<line x1="1531.9" y1="1457.3" x2="1546.1" y2="1457.3" stroke="#14306a" stroke-width="1.6"/>
<line x1="1531.9" y1="1481.8" x2="1546.1" y2="1481.8" stroke="#14306a" stroke-width="1.6"/>
<rect x="1535.2" y="1449.4" width="7.6" height="7.6" fill="#14306a"/>
<rect x="1526.2" y="1472.6" width="7.6" height="7.6" fill="#14306a"/>
<rect x="1544.2" y="1470" width="7.6" height="7.6" fill="#14306a"/>
<text x="1512.8" y="1634.5" font-size="20" text-anchor="end" fill="#111" class="k" textLength="83.5" lengthAdjust="spacingAndGlyphs" transform="rotate(-45 1512.8 1634.5)">Normoxia</text>
<text x="1552.5" y="1634.5" font-size="20" text-anchor="end" fill="#111" class="k" textLength="73.5" lengthAdjust="spacingAndGlyphs" transform="rotate(-45 1552.5 1634.5)">Hypoxia</text>
<text x="1522.2" y="1375.4" font-size="25" text-anchor="middle" font-style="italic" fill="#111" class="k" textLength="28.5" lengthAdjust="spacingAndGlyphs">C3</text>
<text x="1518" y="1422.4" font-size="14" text-anchor="middle" fill="#111" class="k" textLength="48.3" lengthAdjust="spacingAndGlyphs"><0.0001</text>
<line x1="1489" y1="1426.6" x2="1547" y2="1426.6" stroke="#000" stroke-width="1.3"/>
<rect x="1592.8" y="1544" width="25.5" height="68.5" fill="#838383"/>
<rect x="1632.3" y="1442.6" width="25.5" height="169.9" fill="#2279e0"/>
<line x1="1586.4" y1="1405.5" x2="1586.4" y2="1614.1" stroke="#000" stroke-width="3.2"/>
<line x1="1584.8" y1="1612.5" x2="1663.9" y2="1612.5" stroke="#000" stroke-width="3.2"/>
<path d="M1586.4 1612.5h-5.7M1586.4 1544h-5.7M1586.4 1475.5h-5.7M1586.4 1407h-5.7M1605.6 1612.5v7M1645.1 1612.5v7" stroke="#000" stroke-width="3.2" fill="none"/>
<text x="1575.4" y="1620.3" font-size="19.6" text-anchor="end" fill="#111" class="k">0</text>
<text x="1575.4" y="1551.8" font-size="19.6" text-anchor="end" fill="#111" class="k">1</text>
<text x="1575.4" y="1483.3" font-size="19.6" text-anchor="end" fill="#111" class="k">2</text>
<text x="1575.4" y="1414.8" font-size="19.6" text-anchor="end" fill="#111" class="k">3</text>
<line x1="1605.6" y1="1537.2" x2="1605.6" y2="1551.5" stroke="#383838" stroke-width="1.6"/>
<line x1="1598.5" y1="1537.2" x2="1612.7" y2="1537.2" stroke="#383838" stroke-width="1.6"/>
<line x1="1598.5" y1="1551.5" x2="1612.7" y2="1551.5" stroke="#383838" stroke-width="1.6"/>
<circle cx="1596.6" cy="1538.5" r="3.8" fill="#383838"/>
<circle cx="1614.6" cy="1541.3" r="3.8" fill="#383838"/>
<circle cx="1605.6" cy="1552.2" r="3.8" fill="#383838"/>
<line x1="1645.1" y1="1433" x2="1645.1" y2="1455" stroke="#14306a" stroke-width="1.6"/>
<line x1="1638" y1="1433" x2="1652.2" y2="1433" stroke="#14306a" stroke-width="1.6"/>
<line x1="1638" y1="1455" x2="1652.2" y2="1455" stroke="#14306a" stroke-width="1.6"/>
<rect x="1641.3" y="1430.6" width="7.6" height="7.6" fill="#14306a"/>
<rect x="1641.3" y="1438.8" width="7.6" height="7.6" fill="#14306a"/>
<rect x="1641.3" y="1449.1" width="7.6" height="7.6" fill="#14306a"/>
<text x="1619.1" y="1634.5" font-size="20" text-anchor="end" fill="#111" class="k" textLength="83.5" lengthAdjust="spacingAndGlyphs" transform="rotate(-45 1619.1 1634.5)">Normoxia</text>
<text x="1658.6" y="1634.5" font-size="20" text-anchor="end" fill="#111" class="k" textLength="73.5" lengthAdjust="spacingAndGlyphs" transform="rotate(-45 1658.6 1634.5)">Hypoxia</text>
<text x="1630.5" y="1375.4" font-size="25" text-anchor="middle" font-style="italic" fill="#111" class="k" textLength="61" lengthAdjust="spacingAndGlyphs">Dpp4</text>
<text x="1623.5" y="1422.4" font-size="14" text-anchor="middle" fill="#111" class="k" textLength="41" lengthAdjust="spacingAndGlyphs">0.0001</text>
<line x1="1594.6" y1="1426.6" x2="1652.4" y2="1426.6" stroke="#000" stroke-width="1.3"/>
<rect x="1720.2" y="1509.8" width="25.5" height="102.8" fill="#838383"/>
<rect x="1759.2" y="1448.1" width="25.5" height="164.4" fill="#2279e0"/>
<line x1="1714" y1="1405.5" x2="1714" y2="1614.1" stroke="#000" stroke-width="3.2"/>
<line x1="1712.4" y1="1612.5" x2="1790.7" y2="1612.5" stroke="#000" stroke-width="3.2"/>
<path d="M1714 1612.5h-5.7M1714 1561.1h-5.7M1714 1509.8h-5.7M1714 1458.4h-5.7M1714 1407h-5.7M1732.9 1612.5v7M1772 1612.5v7" stroke="#000" stroke-width="3.2" fill="none"/>
<text x="1703" y="1620.3" font-size="19.6" text-anchor="end" fill="#111" class="k">0.0</text>
<text x="1703" y="1569" font-size="19.6" text-anchor="end" fill="#111" class="k">0.5</text>
<text x="1703" y="1517.6" font-size="19.6" text-anchor="end" fill="#111" class="k">1.0</text>
<text x="1703" y="1466.2" font-size="19.6" text-anchor="end" fill="#111" class="k">1.5</text>
<text x="1703" y="1414.8" font-size="19.6" text-anchor="end" fill="#111" class="k">2.0</text>
<line x1="1732.9" y1="1496.4" x2="1732.9" y2="1522.1" stroke="#383838" stroke-width="1.6"/>
<line x1="1725.8" y1="1496.4" x2="1740" y2="1496.4" stroke="#383838" stroke-width="1.6"/>
<line x1="1725.8" y1="1522.1" x2="1740" y2="1522.1" stroke="#383838" stroke-width="1.6"/>
<circle cx="1732.9" cy="1495.4" r="3.8" fill="#383838"/>
<circle cx="1732.9" cy="1509.8" r="3.8" fill="#383838"/>
<circle cx="1732.9" cy="1522.1" r="3.8" fill="#383838"/>
<line x1="1772" y1="1446" x2="1772" y2="1451.2" stroke="#14306a" stroke-width="1.6"/>
<line x1="1764.9" y1="1446" x2="1779.1" y2="1446" stroke="#14306a" stroke-width="1.6"/>
<line x1="1764.9" y1="1451.2" x2="1779.1" y2="1451.2" stroke="#14306a" stroke-width="1.6"/>
<rect x="1759.2" y="1446.4" width="7.6" height="7.6" fill="#14306a"/>
<rect x="1768.2" y="1442.2" width="7.6" height="7.6" fill="#14306a"/>
<rect x="1777.2" y="1446.4" width="7.6" height="7.6" fill="#14306a"/>
<text x="1746.4" y="1634.5" font-size="20" text-anchor="end" fill="#111" class="k" textLength="83.5" lengthAdjust="spacingAndGlyphs" transform="rotate(-45 1746.4 1634.5)">Normoxia</text>
<text x="1785.5" y="1634.5" font-size="20" text-anchor="end" fill="#111" class="k" textLength="73.5" lengthAdjust="spacingAndGlyphs" transform="rotate(-45 1785.5 1634.5)">Hypoxia</text>
<text x="1749.3" y="1375.4" font-size="25" text-anchor="middle" font-style="italic" fill="#111" class="k" textLength="52.4" lengthAdjust="spacingAndGlyphs">Il6ra</text>
<text x="1750.4" y="1422.4" font-size="14" text-anchor="middle" fill="#111" class="k" textLength="41" lengthAdjust="spacingAndGlyphs">0.0013</text>
<line x1="1721.5" y1="1426.6" x2="1779.3" y2="1426.6" stroke="#000" stroke-width="1.3"/>
<rect x="1840.5" y="1511.8" width="25.5" height="100.7" fill="#838383"/>
<rect x="1879.5" y="1451.2" width="25.5" height="161.3" fill="#2279e0"/>
<line x1="1834.1" y1="1405.5" x2="1834.1" y2="1614.1" stroke="#000" stroke-width="3.2"/>
<line x1="1832.5" y1="1612.5" x2="1910.2" y2="1612.5" stroke="#000" stroke-width="3.2"/>
<path d="M1834.1 1612.5h-5.7M1834.1 1561.1h-5.7M1834.1 1509.8h-5.7M1834.1 1458.4h-5.7M1834.1 1407h-5.7M1853.2 1612.5v7M1892.2 1612.5v7" stroke="#000" stroke-width="3.2" fill="none"/>
<text x="1823.1" y="1620.3" font-size="19.6" text-anchor="end" fill="#111" class="k">0.0</text>
<text x="1823.1" y="1569" font-size="19.6" text-anchor="end" fill="#111" class="k">0.5</text>
<text x="1823.1" y="1517.6" font-size="19.6" text-anchor="end" fill="#111" class="k">1.0</text>
<text x="1823.1" y="1466.2" font-size="19.6" text-anchor="end" fill="#111" class="k">1.5</text>
<text x="1823.1" y="1414.8" font-size="19.6" text-anchor="end" fill="#111" class="k">2.0</text>
<line x1="1853.2" y1="1506.7" x2="1853.2" y2="1514.9" stroke="#383838" stroke-width="1.6"/>
<line x1="1846.1" y1="1506.7" x2="1860.3" y2="1506.7" stroke="#383838" stroke-width="1.6"/>
<line x1="1846.1" y1="1514.9" x2="1860.3" y2="1514.9" stroke="#383838" stroke-width="1.6"/>
<circle cx="1853.2" cy="1504.6" r="3.8" fill="#383838"/>
<circle cx="1844.2" cy="1512.8" r="3.8" fill="#383838"/>
<circle cx="1862.2" cy="1512.8" r="3.8" fill="#383838"/>
<line x1="1892.2" y1="1435.8" x2="1892.2" y2="1467.1" stroke="#14306a" stroke-width="1.6"/>
<line x1="1885.1" y1="1435.8" x2="1899.3" y2="1435.8" stroke="#14306a" stroke-width="1.6"/>
<line x1="1885.1" y1="1467.1" x2="1899.3" y2="1467.1" stroke="#14306a" stroke-width="1.6"/>
<rect x="1888.4" y="1428.9" width="7.6" height="7.6" fill="#14306a"/>
<rect x="1888.4" y="1451.5" width="7.6" height="7.6" fill="#14306a"/>
<rect x="1888.4" y="1459.7" width="7.6" height="7.6" fill="#14306a"/>
<text x="1866.7" y="1634.5" font-size="20" text-anchor="end" fill="#111" class="k" textLength="83.5" lengthAdjust="spacingAndGlyphs" transform="rotate(-45 1866.7 1634.5)">Normoxia</text>
<text x="1905.7" y="1634.5" font-size="20" text-anchor="end" fill="#111" class="k" textLength="73.5" lengthAdjust="spacingAndGlyphs" transform="rotate(-45 1905.7 1634.5)">Hypoxia</text>
<text x="1866.6" y="1375.4" font-size="25" text-anchor="middle" font-style="italic" fill="#111" class="k" textLength="42.2" lengthAdjust="spacingAndGlyphs">l6st</text>
<text x="1873.4" y="1422.4" font-size="14" text-anchor="middle" fill="#111" class="k" textLength="41" lengthAdjust="spacingAndGlyphs">0.0037</text>
<line x1="1844.4" y1="1426.6" x2="1902.4" y2="1426.6" stroke="#000" stroke-width="1.3"/>
<rect x="1961" y="1476.9" width="25.5" height="135.6" fill="#838383"/>
<rect x="2000" y="1457.7" width="25.5" height="154.8" fill="#2279e0"/>
<line x1="1954.2" y1="1405.5" x2="1954.2" y2="1614.1" stroke="#000" stroke-width="3.2"/>
<line x1="1952.6" y1="1612.5" x2="2031.7" y2="1612.5" stroke="#000" stroke-width="3.2"/>
<path d="M1954.2 1612.5h-5.7M1954.2 1544h-5.7M1954.2 1475.5h-5.7M1954.2 1407h-5.7M1973.7 1612.5v7M2012.7 1612.5v7" stroke="#000" stroke-width="3.2" fill="none"/>
<text x="1943.2" y="1620.3" font-size="19.6" text-anchor="end" fill="#111" class="k">0.0</text>
<text x="1943.2" y="1551.8" font-size="19.6" text-anchor="end" fill="#111" class="k">0.5</text>
<text x="1943.2" y="1483.3" font-size="19.6" text-anchor="end" fill="#111" class="k">1.0</text>
<text x="1943.2" y="1414.8" font-size="19.6" text-anchor="end" fill="#111" class="k">1.5</text>
<line x1="1973.7" y1="1468.7" x2="1973.7" y2="1483.7" stroke="#383838" stroke-width="1.6"/>
<line x1="1966.6" y1="1468.7" x2="1980.8" y2="1468.7" stroke="#383838" stroke-width="1.6"/>
<line x1="1966.6" y1="1483.7" x2="1980.8" y2="1483.7" stroke="#383838" stroke-width="1.6"/>
<circle cx="1964.7" cy="1470" r="3.8" fill="#383838"/>
<circle cx="1982.7" cy="1475.5" r="3.8" fill="#383838"/>
<circle cx="1964.7" cy="1483.7" r="3.8" fill="#383838"/>
<line x1="2012.7" y1="1435.8" x2="2012.7" y2="1482.3" stroke="#14306a" stroke-width="1.6"/>
<line x1="2005.6" y1="1435.8" x2="2019.8" y2="1435.8" stroke="#14306a" stroke-width="1.6"/>
<line x1="2005.6" y1="1482.3" x2="2019.8" y2="1482.3" stroke="#14306a" stroke-width="1.6"/>
<rect x="1999.9" y="1440.2" width="7.6" height="7.6" fill="#14306a"/>
<rect x="2017.9" y="1444.3" width="7.6" height="7.6" fill="#14306a"/>
<rect x="2008.9" y="1478.5" width="7.6" height="7.6" fill="#14306a"/>
<text x="1987.2" y="1634.5" font-size="20" text-anchor="end" fill="#111" class="k" textLength="83.5" lengthAdjust="spacingAndGlyphs" transform="rotate(-45 1987.2 1634.5)">Normoxia</text>
<text x="2026.2" y="1634.5" font-size="20" text-anchor="end" fill="#111" class="k" textLength="73.5" lengthAdjust="spacingAndGlyphs" transform="rotate(-45 2026.2 1634.5)">Hypoxia</text>
<text x="2002" y="1375.4" font-size="25" text-anchor="middle" font-style="italic" fill="#111" class="k" textLength="74.9" lengthAdjust="spacingAndGlyphs">Pdgfra</text>
<text x="1993" y="1420" font-size="17" text-anchor="middle" font-style="italic" fill="#111" class="k">ns</text>
<line x1="1963.9" y1="1426.6" x2="2022" y2="1426.6" stroke="#000" stroke-width="1.3"/>
<rect x="2084.1" y="1475.5" width="25.5" height="137" fill="#838383"/>
<rect x="2123.2" y="1455" width="25.5" height="157.5" fill="#2279e0"/>
<line x1="2076.5" y1="1405.5" x2="2076.5" y2="1614.1" stroke="#000" stroke-width="3.2"/>
<line x1="2074.9" y1="1612.5" x2="2154.9" y2="1612.5" stroke="#000" stroke-width="3.2"/>
<path d="M2076.5 1612.5h-5.7M2076.5 1544h-5.7M2076.5 1475.5h-5.7M2076.5 1407h-5.7M2096.8 1612.5v7M2135.9 1612.5v7" stroke="#000" stroke-width="3.2" fill="none"/>
<text x="2065.5" y="1620.3" font-size="19.6" text-anchor="end" fill="#111" class="k">0.0</text>
<text x="2065.5" y="1551.8" font-size="19.6" text-anchor="end" fill="#111" class="k">0.5</text>
<text x="2065.5" y="1483.3" font-size="19.6" text-anchor="end" fill="#111" class="k">1.0</text>
<text x="2065.5" y="1414.8" font-size="19.6" text-anchor="end" fill="#111" class="k">1.5</text>
<line x1="2096.8" y1="1463.2" x2="2096.8" y2="1486.5" stroke="#383838" stroke-width="1.6"/>
<line x1="2089.7" y1="1463.2" x2="2103.9" y2="1463.2" stroke="#383838" stroke-width="1.6"/>
<line x1="2089.7" y1="1486.5" x2="2103.9" y2="1486.5" stroke="#383838" stroke-width="1.6"/>
<circle cx="2087.8" cy="1464.5" r="3.8" fill="#383838"/>
<circle cx="2105.8" cy="1472.8" r="3.8" fill="#383838"/>
<circle cx="2096.8" cy="1489.2" r="3.8" fill="#383838"/>
<line x1="2135.9" y1="1445.4" x2="2135.9" y2="1468.7" stroke="#14306a" stroke-width="1.6"/>
<line x1="2128.8" y1="1445.4" x2="2143" y2="1445.4" stroke="#14306a" stroke-width="1.6"/>
<line x1="2128.8" y1="1468.7" x2="2143" y2="1468.7" stroke="#14306a" stroke-width="1.6"/>
<rect x="2123.1" y="1442.9" width="7.6" height="7.6" fill="#14306a"/>
<rect x="2141.1" y="1448.4" width="7.6" height="7.6" fill="#14306a"/>
<rect x="2132.1" y="1463.5" width="7.6" height="7.6" fill="#14306a"/>
<text x="2110.3" y="1634.5" font-size="20" text-anchor="end" fill="#111" class="k" textLength="83.5" lengthAdjust="spacingAndGlyphs" transform="rotate(-45 2110.3 1634.5)">Normoxia</text>
<text x="2149.4" y="1634.5" font-size="20" text-anchor="end" fill="#111" class="k" textLength="73.5" lengthAdjust="spacingAndGlyphs" transform="rotate(-45 2149.4 1634.5)">Hypoxia</text>
<text x="2115.9" y="1375.4" font-size="25" text-anchor="middle" font-style="italic" fill="#111" class="k" textLength="57" lengthAdjust="spacingAndGlyphs">Pdpn</text>
<text x="2113.6" y="1420" font-size="17" text-anchor="middle" font-style="italic" fill="#111" class="k">ns</text>
<line x1="2084.6" y1="1426.6" x2="2142.7" y2="1426.6" stroke="#000" stroke-width="1.3"/>
<text x="1324.4" y="1570" font-size="21" fill="#111" class="k" textLength="118.3" lengthAdjust="spacingAndGlyphs" transform="rotate(-90 1324.4 1570)">Fold change</text>
<text x="8" y="1315" font-size="42" class="k">f</text>
<rect x="157" y="1351.7" width="207.2" height="206.3" fill="#fff" stroke="#7d7d7d" stroke-width="1.2"/>
<path d="M179.8 1558v5.5M221.6 1558v5.5M262.7 1558v5.5M304.2 1558v5.5M345.9 1558v5.5" stroke="#111" stroke-width="1.3" fill="none"/>
<path d="M192.4 1558v3.0M199.7 1558v3.0M205 1558v3.0M209 1558v3.0M212.3 1558v3.0M215.1 1558v3.0M217.5 1558v3.0M219.7 1558v3.0M234 1558v3.0M241.2 1558v3.0M246.3 1558v3.0M250.3 1558v3.0M253.6 1558v3.0M256.3 1558v3.0M258.7 1558v3.0M260.8 1558v3.0M275.2 1558v3.0M282.5 1558v3.0M287.7 1558v3.0M291.7 1558v3.0M295 1558v3.0M297.8 1558v3.0M300.2 1558v3.0M302.3 1558v3.0M316.8 1558v3.0M324.1 1558v3.0M329.3 1558v3.0M333.3 1558v3.0M336.6 1558v3.0M339.4 1558v3.0M341.9 1558v3.0M344 1558v3.0M358.5 1558v3.0M158 1558v3.0M163.2 1558v3.0M167.2 1558v3.0M170.5 1558v3.0M173.3 1558v3.0M175.8 1558v3.0M177.9 1558v3.0" stroke="#222" stroke-width="0.9" fill="none"/>
<text x="181.8" y="1574" font-size="7.8" text-anchor="middle" fill="#111">10<tspan dy="-3.5" font-size="6.2">1</tspan></text>
<text x="223.6" y="1574" font-size="7.8" text-anchor="middle" fill="#111">10<tspan dy="-3.5" font-size="6.2">2</tspan></text>
<text x="264.7" y="1574" font-size="7.8" text-anchor="middle" fill="#111">10<tspan dy="-3.5" font-size="6.2">3</tspan></text>
<text x="306.2" y="1574" font-size="7.8" text-anchor="middle" fill="#111">10<tspan dy="-3.5" font-size="6.2">4</tspan></text>
<text x="347.9" y="1574" font-size="7.8" text-anchor="middle" fill="#111">10<tspan dy="-3.5" font-size="6.2">5</tspan></text>
<path d="M157 1536.7h-5.5M157 1494.9h-5.5M157 1452.9h-5.5M157 1411.1h-5.5M157 1369.7h-5.5" stroke="#111" stroke-width="1.3" fill="none"/>
<path d="M157 1524.1h-3.0M157 1516.8h-3.0M157 1511.5h-3.0M157 1507.5h-3.0M157 1504.2h-3.0M157 1501.4h-3.0M157 1499h-3.0M157 1496.8h-3.0M157 1482.3h-3.0M157 1474.9h-3.0M157 1469.6h-3.0M157 1465.5h-3.0M157 1462.2h-3.0M157 1459.4h-3.0M157 1457h-3.0M157 1454.8h-3.0M157 1440.3h-3.0M157 1433h-3.0M157 1427.7h-3.0M157 1423.7h-3.0M157 1420.4h-3.0M157 1417.6h-3.0M157 1415.2h-3.0M157 1413h-3.0M157 1398.6h-3.0M157 1391.3h-3.0M157 1386.2h-3.0M157 1382.2h-3.0M157 1378.9h-3.0M157 1376.1h-3.0M157 1373.7h-3.0M157 1371.6h-3.0M157 1357.2h-3.0M157 1553.2h-3.0M157 1549.2h-3.0M157 1545.9h-3.0M157 1543.1h-3.0M157 1540.7h-3.0M157 1538.6h-3.0" stroke="#222" stroke-width="0.9" fill="none"/>
<text x="147" y="1540.7" font-size="7.8" text-anchor="end" fill="#111">10<tspan dy="-3.5" font-size="6.2">1</tspan></text>
<text x="147" y="1498.9" font-size="7.8" text-anchor="end" fill="#111">10<tspan dy="-3.5" font-size="6.2">2</tspan></text>
<text x="147" y="1456.9" font-size="7.8" text-anchor="end" fill="#111">10<tspan dy="-3.5" font-size="6.2">3</tspan></text>
<text x="147" y="1415.1" font-size="7.8" text-anchor="end" fill="#111">10<tspan dy="-3.5" font-size="6.2">4</tspan></text>
<text x="147" y="1373.7" font-size="7.8" text-anchor="end" fill="#111">10<tspan dy="-3.5" font-size="6.2">5</tspan></text>
<path d="M275 1353h3m-14 5h3m-23 1h3m6 1h3m9 3h3m1 4h3m3 0h3m-5 1h3m-16 3h3m-18 1h3m1 0h3m4 0h3m-19 1h3m21 0h3m0 0h3m-13 1h3m11 0h3m10 0h3m-36 1h3m8 0h3m-14 1h3m16 0h3m-1 0h3m-30 1h3m11 1h3m-35 1h3m26 0h3m3 0h3m3 0h3m-16 1h3m4 0h3m1 0h3m1 0h3m1 0h3m-46 1h3m22 0h3m0 0h3m-1 0h3m3 0h3m-2 0h3m-2 0h3m13 0h3m-27 1h3m0 0h3m6 0h3m3 0h3m4 0h3m-62 1h3m10 0h3m-2 0h3m18 0h3m7 0h3m1 0h3m4 0h3m-48 1h3m0 0h3m9 0h3m2 0h3m19 0h3m-36 1h3m3 0h3m2 0h3m12 0h3m0 0h3m-36 1h3m7 0h3m-2 0h3m2 0h3m-2 0h3m-1 0h3m-1 0h3m-2 0h3m-1 0h3m2 0h3m-2 0h3m12 0h3m-48 1h3m8 0h3m-1 0h3m-2 0h3m4 0h3m-2 0h3m4 0h3m8 0h3m-41 1h3m4 0h3m5 0h3m-2 0h3m-2 0h3m-1 0h3m3 0h3m-31 1h3m10 0h3m-1 0h3m1 0h3m-1 0h3m5 0h3m-2 0h3m21 0h3m-74 1h3m16 0h3m-1 0h3m11 0h3m-1 0h3m9 0h3m10 0h3m-46 1h3m2 0h3m-2 0h3m-1 0h3m-2 0h3m0 0h3m-1 0h3m4 0h3m-1 0h3m0 0h3m-1 0h3m0 0h3m15 0h3m-55 1h3m9 0h3m-2 0h3m-2 0h3m-2 0h3m-1 0h3m8 0h3m-28 1h3m0 0h3m3 0h3m-2 0h3m-2 0h3m2 0h3m0 0h3m-1 0h3m2 0h3m-1 0h3m3 0h3m6 0h3m12 0h3m-64 1h3m1 0h3m8 0h3m3 0h3m-2 0h3m-1 0h3m1 0h3m0 0h3m-41 1h3m-2 0h3m-1 0h3m-2 0h3m4 0h3m0 0h3m-2 0h3m-1 0h3m-2 0h3m-2 0h3m-1 0h3m-2 0h3m2 0h3m3 0h3m-28 1h3m-1 0h3m2 0h3m1 0h3m4 0h3m-2 0h3m-2 0h3m-2 0h3m-2 0h3m-2 0h3m-1 0h3m1 0h3m6 0h3m-34 1h3m0 0h3m-2 0h3m-2 0h3m2 0h3m4 0h3m3 0h3m-35 1h3m-2 0h3m0 0h3m-1 0h3m-2 0h3m-2 0h3m-1 0h3m2 0h3m-1 0h3m-2 0h3m-1 0h3m-2 0h3m-2 0h3m0 0h3m0 0h3m0 0h3m-2 0h3m1 0h3m2 0h3m-48 1h3m-1 0h3m0 0h3m-2 0h3m0 0h3m-2 0h3m2 0h3m0 0h3m-2 0h3m0 0h3m0 0h3m-2 0h3m-2 0h3m-1 0h3m4 0h3m-2 0h3m-2 0h3m-1 0h3m4 0h3m-43 1h3m2 0h3m1 0h3m0 0h3m-2 0h3m-1 0h3m-2 0h3m-2 0h3m-2 0h3m3 0h3m3 0h3m3 0h3m-1 0h3m4 0h3m1 0h3m-70 1h3m0 0h3m-2 0h3m-2 0h3m8 0h3m-2 0h3m0 0h3m-1 0h3m2 0h3m3 0h3m4 0h3m1 0h3m-2 0h3m-2 0h3m-2 0h3m-2 0h3m-2 0h3m-2 0h3m-38 1h3m-2 0h3m2 0h3m-1 0h3m-1 0h3m-2 0h3m-1 0h3m0 0h3m2 0h3m-1 0h3m1 0h3m-2 0h3m-2 0h3m4 0h3m-1 0h3m4 0h3m-2 0h3m-103 1h3m37 0h3m8 0h3m4 0h3m-2 0h3m1 0h3m-1 0h3m4 0h3m-2 0h3m-2 0h3m-2 0h3m1 0h3m-2 0h3m-2 0h3m-2 0h3m-1 0h3m-2 0h3m5 0h3m-49 1h3m-2 0h3m0 0h3m6 0h3m2 0h3m-2 0h3m-2 0h3m-2 0h3m-1 0h3m-1 0h3m-2 0h3m-2 0h3m-2 0h3m-2 0h3m-2 0h3m-2 0h3m1 0h3m-2 0h3m0 0h3m-2 0h3m-1 0h3m-1 0h3m-53 1h3m7 0h3m-2 0h3m0 0h3m-2 0h3m1 0h3m1 0h3m-2 0h3m-2 0h3m-1 0h3m-2 0h3m-2 0h3m-2 0h3m-2 0h3m-2 0h3m1 0h3m-2 0h3m-1 0h3m0 0h3m-2 0h3m-2 0h3m1 0h3m-1 0h3m6 0h3m-62 1h3m0 0h3m1 0h3m0 0h3m2 0h3m-2 0h3m-2 0h3m-1 0h3m-2 0h3m-1 0h3m-1 0h3m-1 0h3m-2 0h3m-2 0h3m-2 0h3m-2 0h3m-2 0h3m-1 0h3m-1 0h3m-2 0h3m-1 0h3m1 0h3m-2 0h3m2 0h3m2 0h3m0 0h3m-71 1h3m11 0h3m10 0h3m-1 0h3m3 0h3m-1 0h3m-2 0h3m0 0h3m-1 0h3m1 0h3m-1 0h3m-1 0h3m0 0h3m-2 0h3m16 0h3m-67 1h3m7 0h3m-2 0h3m3 0h3m0 0h3m-1 0h3m-2 0h3m-2 0h3m-1 0h3m-2 0h3m0 0h3m0 0h3m-2 0h3m-2 0h3m-1 0h3m-2 0h3m-2 0h3m-2 0h3m-2 0h3m-1 0h3m-2 0h3m-2 0h3m-2 0h3m-2 0h3m-2 0h3m5 0h3m-2 0h3m1 0h3m-58 1h3m3 0h3m-1 0h3m-1 0h3m0 0h3m1 0h3m-2 0h3m-1 0h3m2 0h3m-2 0h3m-2 0h3m-1 0h3m-2 0h3m-2 0h3m-1 0h3m-1 0h3m-2 0h3m-1 0h3m0 0h3m3 0h3m1 0h3m1 0h3m-53 1h3m-1 0h3m-2 0h3m2 0h3m1 0h3m-2 0h3m-1 0h3m-1 0h3m-1 0h3m-2 0h3m-2 0h3m-2 0h3m-1 0h3m-1 0h3m-2 0h3m-1 0h3m0 0h3m-2 0h3m-2 0h3m0 0h3m0 0h3m-1 0h3m-1 0h3m-1 0h3m-1 0h3m-78 1h3m22 0h3m2 0h3m-2 0h3m1 0h3m3 0h3m1 0h3m-2 0h3m-2 0h3m-2 0h3m-2 0h3m-2 0h3m-2 0h3m0 0h3m0 0h3m-1 0h3m-1 0h3m0 0h3m-1 0h3m-56 1h3m5 0h3m1 0h3m0 0h3m2 0h3m2 0h3m-2 0h3m-2 0h3m-2 0h3m-1 0h3m-2 0h3m-2 0h3m-1 0h3m-2 0h3m-2 0h3m-2 0h3m-2 0h3m-2 0h3m-2 0h3m-2 0h3m-2 0h3m-2 0h3m-1 0h3m0 0h3m1 0h3m-2 0h3m-2 0h3m5 0h3m-56 1h3m1 0h3m-1 0h3m-2 0h3m4 0h3m-2 0h3m-2 0h3m-2 0h3m-2 0h3m-1 0h3m-2 0h3m-1 0h3m-2 0h3m-2 0h3m-2 0h3m-1 0h3m-2 0h3m-2 0h3m-2 0h3m-2 0h3m-2 0h3m2 0h3m-2 0h3m2 0h3m1 0h3m1 0h3m-51 1h3m-1 0h3m3 0h3m3 0h3m-2 0h3m-2 0h3m-2 0h3m-2 0h3m-2 0h3m-2 0h3m-2 0h3m-2 0h3m-2 0h3m-2 0h3m-2 0h3m-2 0h3m-2 0h3m-2 0h3m-2 0h3m-2 0h3m-1 0h3m-1 0h3m-2 0h3m-2 0h3m-2 0h3m-2 0h3m0 0h3m0 0h3m-2 0h3m-57 1h3m6 0h3m-2 0h3m-1 0h3m-2 0h3m-2 0h3m-1 0h3m-2 0h3m-1 0h3m-2 0h3m-2 0h3m-2 0h3m-2 0h3m-2 0h3m3 0h3m-2 0h3m1 0h3m-2 0h3m-2 0h3m-2 0h3m-1 0h3m-2 0h3m-2 0h3m-2 0h3m2 0h3m-1 0h3m-2 0h3m-2 0h3m17 0h3m-68 1h3m5 0h3m-2 0h3m-2 0h3m-2 0h3m0 0h3m-2 0h3m-1 0h3m-1 0h3m-2 0h3m-2 0h3m-2 0h3m-2 0h3m0 0h3m-2 0h3m-2 0h3m-1 0h3m-2 0h3m-2 0h3m-2 0h3m-2 0h3m-2 0h3m0 0h3m3 0h3m1 0h3m-81 1h3m11 0h3m10 0h3m5 0h3m-1 0h3m-2 0h3m-2 0h3m-2 0h3m-2 0h3m-1 0h3m-2 0h3m-2 0h3m-1 0h3m-2 0h3m-1 0h3m-2 0h3m-2 0h3m-2 0h3m-2 0h3m-2 0h3m-2 0h3m1 0h3m-2 0h3m-2 0h3m-2 0h3m-2 0h3m-2 0h3m-2 0h3m-2 0h3m-2 0h3m-1 0h3m-2 0h3m-1 0h3m1 0h3m-1 0h3m-65 1h3m10 0h3m-2 0h3m-1 0h3m-2 0h3m-2 0h3m-2 0h3m-1 0h3m-2 0h3m-1 0h3m-1 0h3m-2 0h3m1 0h3m-2 0h3m-2 0h3m-2 0h3m-2 0h3m-1 0h3m0 0h3m-1 0h3m-2 0h3m-2 0h3m-2 0h3m-1 0h3m-1 0h3m-2 0h3m1 0h3m-1 0h3m-1 0h3m-58 1h3m-2 0h3m3 0h3m5 0h3m-2 0h3m0 0h3m-1 0h3m-2 0h3m-2 0h3m-2 0h3m-2 0h3m-1 0h3m3 0h3m-2 0h3m-1 0h3m-1 0h3m0 0h3m-2 0h3m-2 0h3m-1 0h3m-1 0h3m-47 1h3m8 0h3m-1 0h3m3 0h3m-2 0h3m-2 0h3m-2 0h3m-2 0h3m-2 0h3m-2 0h3m-2 0h3m0 0h3m-1 0h3m-2 0h3m-2 0h3m-2 0h3m-2 0h3m1 0h3m-1 0h3m0 0h3m-2 0h3m0 0h3m-2 0h3m-1 0h3m-1 0h3m2 0h3m-73 1h3m3 0h3m8 0h3m-1 0h3m-1 0h3m-2 0h3m-2 0h3m-2 0h3m-2 0h3m-2 0h3m-2 0h3m-2 0h3m-1 0h3m-2 0h3m-1 0h3m-2 0h3m-2 0h3m-2 0h3m-2 0h3m-2 0h3m-1 0h3m-2 0h3m-2 0h3m-2 0h3m-2 0h3m-2 0h3m-2 0h3m-2 0h3m-2 0h3m-2 0h3m-2 0h3m-1 0h3m-2 0h3m-1 0h3m2 0h3m-2 0h3m7 0h3m14 0h3m23 0h3m-110 1h3m12 0h3m-1 0h3m-1 0h3m4 0h3m-1 0h3m-2 0h3m-2 0h3m-1 0h3m-1 0h3m-1 0h3m-2 0h3m-1 0h3m1 0h3m-2 0h3m-1 0h3m-2 0h3m-1 0h3m-2 0h3m1 0h3m-1 0h3m-2 0h3m8 0h3m21 0h3m-90 1h3m-2 0h3m0 0h3m-1 0h3m-2 0h3m-2 0h3m-1 0h3m-2 0h3m0 0h3m-2 0h3m1 0h3m-2 0h3m-2 0h3m-2 0h3m-2 0h3m-1 0h3m-1 0h3m-2 0h3m0 0h3m-2 0h3m-2 0h3m-2 0h3m-2 0h3m-1 0h3m-1 0h3m-2 0h3m-2 0h3m-1 0h3m-1 0h3m-1 0h3m1 0h3m-95 1h3m32 0h3m1 0h3m-2 0h3m-2 0h3m-1 0h3m-2 0h3m-1 0h3m-1 0h3m-2 0h3m0 0h3m-2 0h3m-1 0h3m-2 0h3m0 0h3m-1 0h3m-1 0h3m-2 0h3m-2 0h3m-2 0h3m-2 0h3m-2 0h3m-2 0h3m-2 0h3m-2 0h3m-2 0h3m-1 0h3m0 0h3m-2 0h3m-2 0h3m1 0h3m-2 0h3m-2 0h3m-1 0h3m0 0h3m-1 0h3m-67 1h3m2 0h3m7 0h3m1 0h3m-2 0h3m2 0h3m-2 0h3m-2 0h3m-2 0h3m-2 0h3m-1 0h3m0 0h3m-2 0h3m-2 0h3m-2 0h3m-2 0h3m-2 0h3m-2 0h3m-2 0h3m-1 0h3m-2 0h3m-2 0h3m-2 0h3m-2 0h3m-2 0h3m-2 0h3m-2 0h3m-2 0h3m-2 0h3m-1 0h3m0 0h3m-2 0h3m-70 1h3m15 0h3m-1 0h3m0 0h3m2 0h3m-2 0h3m-1 0h3m-2 0h3m-2 0h3m-1 0h3m-2 0h3m-2 0h3m-2 0h3m-1 0h3m-2 0h3m-2 0h3m-1 0h3m-1 0h3m-2 0h3m1 0h3m-2 0h3m-2 0h3m-2 0h3m-2 0h3m-1 0h3m-1 0h3m-2 0h3m-2 0h3m1 0h3m-2 0h3m-2 0h3m-2 0h3m-1 0h3m0 0h3m55 0h3m-112 1h3m-2 0h3m-2 0h3m1 0h3m-1 0h3m3 0h3m-1 0h3m-1 0h3m-2 0h3m-2 0h3m-1 0h3m-1 0h3m-2 0h3m-1 0h3m-2 0h3m-2 0h3m-1 0h3m-1 0h3m-2 0h3m-2 0h3m-2 0h3m0 0h3m-2 0h3m-2 0h3m0 0h3m-2 0h3m0 0h3m-2 0h3m0 0h3m-2 0h3m-55 1h3m-1 0h3m-2 0h3m0 0h3m-2 0h3m-2 0h3m-1 0h3m-2 0h3m-2 0h3m-1 0h3m-2 0h3m-1 0h3m-2 0h3m-2 0h3m-1 0h3m-2 0h3m0 0h3m-2 0h3m-2 0h3m0 0h3m-1 0h3m-1 0h3m-1 0h3m-2 0h3m-2 0h3m-2 0h3m-1 0h3m-1 0h3m-1 0h3m-2 0h3m-1 0h3m0 0h3m-1 0h3m2 0h3m-77 1h3m5 0h3m1 0h3m-2 0h3m-1 0h3m-2 0h3m-2 0h3m-1 0h3m-2 0h3m-2 0h3m-2 0h3m-1 0h3m-2 0h3m1 0h3m-2 0h3m-2 0h3m-2 0h3m-2 0h3m-2 0h3m-1 0h3m0 0h3m-2 0h3m-2 0h3m-2 0h3m-2 0h3m-2 0h3m-2 0h3m-2 0h3m-2 0h3m-2 0h3m-1 0h3m-1 0h3m0 0h3m-2 0h3m-1 0h3m-1 0h3m-1 0h3m1 0h3m-1 0h3m1 0h3m1 0h3m-2 0h3m5 0h3m-82 1h3m2 0h3m0 0h3m3 0h3m-1 0h3m-2 0h3m1 0h3m-1 0h3m-2 0h3m-2 0h3m-2 0h3m-2 0h3m-1 0h3m-2 0h3m-2 0h3m-2 0h3m-2 0h3m-1 0h3m-2 0h3m-2 0h3m1 0h3m0 0h3m-2 0h3m-1 0h3m4 0h3m-2 0h3m-1 0h3m1 0h3m-70 1h3m4 0h3m2 0h3m-2 0h3m-1 0h3m-2 0h3m-2 0h3m-1 0h3m-2 0h3m-2 0h3m-2 0h3m-2 0h3m-2 0h3m-2 0h3m-2 0h3m-2 0h3m-1 0h3m-2 0h3m-2 0h3m-1 0h3m1 0h3m-2 0h3m-2 0h3m-2 0h3m-2 0h3m-2 0h3m-2 0h3m-2 0h3m-2 0h3m-2 0h3m-2 0h3m-2 0h3m-2 0h3m-2 0h3m-2 0h3m0 0h3m-2 0h3m0 0h3m-2 0h3m4 0h3m1 0h3m-67 1h3m0 0h3m0 0h3m-1 0h3m-2 0h3m-2 0h3m-2 0h3m0 0h3m-2 0h3m-2 0h3m1 0h3m-2 0h3m1 0h3m0 0h3m-1 0h3m-2 0h3m-2 0h3m-2 0h3m-2 0h3m-2 0h3m-1 0h3m0 0h3m-1 0h3m-1 0h3m0 0h3m-1 0h3m-2 0h3m1 0h3m-1 0h3m-58 1h3m-2 0h3m-2 0h3m-2 0h3m-2 0h3m-1 0h3m-1 0h3m-2 0h3m-2 0h3m-1 0h3m-2 0h3m-2 0h3m-2 0h3m-2 0h3m-1 0h3m-2 0h3m-2 0h3m-2 0h3m-2 0h3m-2 0h3m-2 0h3m0 0h3m0 0h3m-2 0h3m-2 0h3m-2 0h3m-2 0h3m0 0h3m-2 0h3m-1 0h3m0 0h3m-1 0h3m4 0h3m-2 0h3m-1 0h3m-2 0h3m19 0h3m-88 1h3m12 0h3m-2 0h3m-2 0h3m-1 0h3m-2 0h3m1 0h3m-1 0h3m-2 0h3m-2 0h3m-1 0h3m-2 0h3m-1 0h3m0 0h3m-2 0h3m-2 0h3m-2 0h3m-2 0h3m-2 0h3m-1 0h3m0 0h3m-1 0h3m-2 0h3m-2 0h3m-2 0h3m0 0h3m-1 0h3m-2 0h3m0 0h3m8 0h3m1 0h3m1 0h3m-94 1h3m1 0h3m-2 0h3m9 0h3m1 0h3m-1 0h3m4 0h3m-2 0h3m1 0h3m-2 0h3m-2 0h3m-1 0h3m-2 0h3m-2 0h3m-2 0h3m-2 0h3m-1 0h3m-2 0h3m1 0h3m-1 0h3m-1 0h3m-2 0h3m-2 0h3m0 0h3m-2 0h3m0 0h3m1 0h3m-2 0h3m-2 0h3m-49 1h3m4 0h3m0 0h3m-1 0h3m-2 0h3m-2 0h3m-2 0h3m-2 0h3m-2 0h3m-2 0h3m-1 0h3m1 0h3m-2 0h3m-1 0h3m-2 0h3m-2 0h3m-2 0h3m-1 0h3m-1 0h3m-1 0h3m1 0h3m-1 0h3m-2 0h3m-2 0h3m2 0h3m-67 1h3m0 0h3m0 0h3m-2 0h3m1 0h3m-1 0h3m-2 0h3m-1 0h3m-1 0h3m-2 0h3m-2 0h3m-2 0h3m1 0h3m-2 0h3m-2 0h3m-2 0h3m-2 0h3m-1 0h3m-1 0h3m-1 0h3m-2 0h3m-2 0h3m-2 0h3m-2 0h3m-2 0h3m0 0h3m-2 0h3m0 0h3m0 0h3m-2 0h3m-1 0h3m-2 0h3m-2 0h3m-2 0h3m0 0h3m-1 0h3m6 0h3m2 0h3m-78 1h3m2 0h3m-2 0h3m-2 0h3m-2 0h3m-2 0h3m0 0h3m-2 0h3m-2 0h3m-2 0h3m-2 0h3m-2 0h3m-1 0h3m-2 0h3m-2 0h3m0 0h3m-1 0h3m1 0h3m-2 0h3m-1 0h3m-2 0h3m-1 0h3m-1 0h3m-2 0h3m-1 0h3m-2 0h3m-2 0h3m0 0h3m-1 0h3m-2 0h3m-1 0h3m-2 0h3m-2 0h3m-1 0h3m-2 0h3m-1 0h3m0 0h3m0 0h3m0 0h3m-2 0h3m-92 1h3m22 0h3m-1 0h3m-2 0h3m0 0h3m-1 0h3m-1 0h3m-2 0h3m-2 0h3m-2 0h3m-1 0h3m-1 0h3m-2 0h3m-1 0h3m-2 0h3m0 0h3m1 0h3m-2 0h3m-1 0h3m0 0h3m0 0h3m-2 0h3m-2 0h3m-2 0h3m-2 0h3m-2 0h3m-2 0h3m-1 0h3m-2 0h3m-2 0h3m-1 0h3m0 0h3m-2 0h3m4 0h3m0 0h3m-71 1h3m-1 0h3m2 0h3m0 0h3m-2 0h3m-2 0h3m0 0h3m1 0h3m0 0h3m-2 0h3m-2 0h3m-1 0h3m-1 0h3m-2 0h3m-2 0h3m0 0h3m-2 0h3m-2 0h3m1 0h3m-2 0h3m-1 0h3m0 0h3m-1 0h3m-1 0h3m0 0h3m-2 0h3m-2 0h3m-1 0h3m-2 0h3m-2 0h3m-1 0h3m-2 0h3m-76 1h3m14 0h3m-1 0h3m-2 0h3m-2 0h3m-1 0h3m-2 0h3m-1 0h3m-1 0h3m-1 0h3m-2 0h3m-1 0h3m-2 0h3m-1 0h3m-2 0h3m-1 0h3m-2 0h3m-2 0h3m-2 0h3m1 0h3m-2 0h3m-2 0h3m-1 0h3m-1 0h3m-1 0h3m-1 0h3m-2 0h3m2 0h3m-1 0h3m-2 0h3m-1 0h3m-2 0h3m-1 0h3m-2 0h3m7 0h3m7 0h3m-84 1h3m0 0h3m-1 0h3m2 0h3m-1 0h3m3 0h3m-2 0h3m-2 0h3m-1 0h3m-2 0h3m-2 0h3m-1 0h3m0 0h3m-2 0h3m-2 0h3m-2 0h3m-2 0h3m-2 0h3m1 0h3m-2 0h3m1 0h3m-2 0h3m-1 0h3m-2 0h3m-1 0h3m-1 0h3m2 0h3m-1 0h3m-1 0h3m-2 0h3m-1 0h3m0 0h3m-1 0h3m1 0h3m5 0h3m0 0h3m-90 1h3m0 0h3m-2 0h3m0 0h3m-2 0h3m5 0h3m-2 0h3m-2 0h3m-2 0h3m-1 0h3m-2 0h3m-2 0h3m-1 0h3m0 0h3m-2 0h3m-2 0h3m-2 0h3m-2 0h3m-2 0h3m-2 0h3m-1 0h3m0 0h3m0 0h3m-1 0h3m-2 0h3m1 0h3m2 0h3m-1 0h3m0 0h3m2 0h3m2 0h3m7 0h3m-71 1h3m-2 0h3m-2 0h3m0 0h3m-2 0h3m-1 0h3m-1 0h3m-2 0h3m-2 0h3m-2 0h3m-2 0h3m-2 0h3m-1 0h3m-2 0h3m-1 0h3m-2 0h3m-2 0h3m1 0h3m0 0h3m0 0h3m0 0h3m-2 0h3m4 0h3m-2 0h3m1 0h3m0 0h3m-2 0h3m2 0h3m2 0h3m-106 1h3m30 0h3m-2 0h3m-2 0h3m3 0h3m-1 0h3m-2 0h3m-1 0h3m-1 0h3m-2 0h3m-1 0h3m-1 0h3m-1 0h3m-2 0h3m-2 0h3m-1 0h3m1 0h3m-2 0h3m-2 0h3m-2 0h3m0 0h3m-2 0h3m-2 0h3m-2 0h3m0 0h3m-2 0h3m-2 0h3m-1 0h3m-2 0h3m-1 0h3m6 0h3m0 0h3m5 0h3m-2 0h3m42 0h3m-123 1h3m2 0h3m2 0h3m2 0h3m2 0h3m-1 0h3m-2 0h3m-1 0h3m-2 0h3m-1 0h3m1 0h3m-2 0h3m-2 0h3m-2 0h3m2 0h3m-2 0h3m-2 0h3m-2 0h3m-2 0h3m0 0h3m-1 0h3m-1 0h3m0 0h3m2 0h3m-2 0h3m-2 0h3m-2 0h3m-2 0h3m-1 0h3m10 0h3m15 0h3m-95 1h3m1 0h3m5 0h3m-2 0h3m-2 0h3m-1 0h3m-2 0h3m-2 0h3m-1 0h3m-2 0h3m-1 0h3m-1 0h3m-2 0h3m-2 0h3m-2 0h3m0 0h3m0 0h3m0 0h3m-1 0h3m-2 0h3m0 0h3m-2 0h3m-2 0h3m-1 0h3m1 0h3m-2 0h3m-2 0h3m-2 0h3m-1 0h3m0 0h3m-96 1h3m24 0h3m-2 0h3m2 0h3m-1 0h3m0 0h3m-1 0h3m-2 0h3m-1 0h3m-2 0h3m-2 0h3m0 0h3m-1 0h3m-2 0h3m-2 0h3m-2 0h3m-1 0h3m-1 0h3m-2 0h3m-2 0h3m-1 0h3m-1 0h3m-2 0h3m-1 0h3m-1 0h3m-2 0h3m-2 0h3m2 0h3m2 0h3m1 0h3m-1 0h3m1 0h3m-2 0h3m0 0h3m2 0h3m-1 0h3m0 0h3m8 0h3m-101 1h3m6 0h3m4 0h3m-2 0h3m0 0h3m2 0h3m-2 0h3m2 0h3m-2 0h3m-2 0h3m-2 0h3m-2 0h3m-2 0h3m0 0h3m-2 0h3m-2 0h3m1 0h3m-2 0h3m-1 0h3m1 0h3m-1 0h3m-1 0h3m0 0h3m0 0h3m-2 0h3m5 0h3m-1 0h3m-2 0h3m-2 0h3m-1 0h3m-2 0h3m9 0h3m-93 1h3m5 0h3m3 0h3m2 0h3m-2 0h3m0 0h3m-2 0h3m-2 0h3m-1 0h3m-1 0h3m-2 0h3m-2 0h3m-2 0h3m-1 0h3m-2 0h3m-2 0h3m-1 0h3m-2 0h3m-2 0h3m-2 0h3m-2 0h3m-2 0h3m-2 0h3m-2 0h3m-1 0h3m-2 0h3m0 0h3m-1 0h3m-1 0h3m0 0h3m-1 0h3m7 0h3m-2 0h3m3 0h3m-2 0h3m18 0h3m-100 1h3m-2 0h3m-1 0h3m0 0h3m2 0h3m-2 0h3m7 0h3m-2 0h3m-1 0h3m-2 0h3m-2 0h3m2 0h3m0 0h3m-2 0h3m-2 0h3m-1 0h3m3 0h3m-2 0h3m1 0h3m-1 0h3m2 0h3m1 0h3m-2 0h3m-2 0h3m0 0h3m-2 0h3m-1 0h3m0 0h3m-2 0h3m-1 0h3m-96 1h3m14 0h3m6 0h3m0 0h3m1 0h3m0 0h3m-2 0h3m0 0h3m-1 0h3m-1 0h3m-2 0h3m-2 0h3m-1 0h3m-2 0h3m-2 0h3m-2 0h3m-2 0h3m-2 0h3m0 0h3m-2 0h3m-1 0h3m-2 0h3m-2 0h3m-2 0h3m-2 0h3m-2 0h3m-2 0h3m-1 0h3m-2 0h3m2 0h3m-1 0h3m0 0h3m0 0h3m3 0h3m2 0h3m0 0h3m0 0h3m2 0h3m-2 0h3m-1 0h3m-101 1h3m11 0h3m3 0h3m-2 0h3m-2 0h3m-1 0h3m1 0h3m-1 0h3m0 0h3m-2 0h3m0 0h3m-2 0h3m-2 0h3m-2 0h3m-1 0h3m-2 0h3m-1 0h3m3 0h3m-1 0h3m-2 0h3m-2 0h3m-2 0h3m-2 0h3m-1 0h3m-1 0h3m8 0h3m2 0h3m2 0h3m20 0h3m-90 1h3m6 0h3m-1 0h3m0 0h3m-2 0h3m0 0h3m-1 0h3m1 0h3m-2 0h3m-2 0h3m-2 0h3m-2 0h3m0 0h3m0 0h3m-1 0h3m-2 0h3m-1 0h3m-2 0h3m-2 0h3m-2 0h3m-2 0h3m-2 0h3m4 0h3m-1 0h3m7 0h3m1 0h3m28 0h3m-111 1h3m-1 0h3m5 0h3m2 0h3m-2 0h3m-2 0h3m-1 0h3m-2 0h3m1 0h3m-2 0h3m-2 0h3m-2 0h3m-2 0h3m-2 0h3m-2 0h3m-2 0h3m-2 0h3m0 0h3m1 0h3m-2 0h3m-1 0h3m-1 0h3m-2 0h3m-2 0h3m-2 0h3m-2 0h3m-2 0h3m-2 0h3m0 0h3m0 0h3m-2 0h3m4 0h3m-2 0h3m0 0h3m1 0h3m1 0h3m0 0h3m54 0h3m-128 1h3m-1 0h3m1 0h3m-1 0h3m-2 0h3m0 0h3m0 0h3m2 0h3m-1 0h3m0 0h3m-1 0h3m-2 0h3m-1 0h3m-2 0h3m-2 0h3m-2 0h3m-1 0h3m-2 0h3m-2 0h3m-2 0h3m-2 0h3m3 0h3m7 0h3m-2 0h3m1 0h3m-70 1h3m2 0h3m-1 0h3m-1 0h3m-1 0h3m-2 0h3m0 0h3m1 0h3m-2 0h3m-2 0h3m-1 0h3m-2 0h3m-2 0h3m-2 0h3m0 0h3m-1 0h3m-2 0h3m-2 0h3m-2 0h3m0 0h3m-2 0h3m-1 0h3m0 0h3m0 0h3m0 0h3m0 0h3m-2 0h3m-1 0h3m6 0h3m-2 0h3m-1 0h3m2 0h3m-1 0h3m18 0h3m-100 1h3m-1 0h3m-1 0h3m0 0h3m-2 0h3m1 0h3m2 0h3m-2 0h3m-1 0h3m-1 0h3m-2 0h3m0 0h3m-1 0h3m-2 0h3m-1 0h3m-2 0h3m-2 0h3m-2 0h3m-1 0h3m-2 0h3m-2 0h3m-1 0h3m-1 0h3m-2 0h3m-2 0h3m-1 0h3m1 0h3m0 0h3m-1 0h3m-2 0h3m0 0h3m-1 0h3m19 0h3m-102 1h3m2 0h3m6 0h3m5 0h3m-2 0h3m-2 0h3m-1 0h3m2 0h3m-1 0h3m2 0h3m-2 0h3m-2 0h3m-2 0h3m2 0h3m-2 0h3m1 0h3m-2 0h3m-2 0h3m0 0h3m2 0h3m3 0h3m-1 0h3m-1 0h3m2 0h3m12 0h3m-77 1h3m7 0h3m-2 0h3m-2 0h3m-2 0h3m-2 0h3m-1 0h3m-2 0h3m-2 0h3m0 0h3m-2 0h3m2 0h3m-2 0h3m-2 0h3m3 0h3m-2 0h3m-2 0h3m-2 0h3m-1 0h3m1 0h3m2 0h3m-2 0h3m1 0h3m1 0h3m1 0h3m0 0h3m19 0h3m-94 1h3m11 0h3m1 0h3m-2 0h3m0 0h3m-2 0h3m0 0h3m-2 0h3m-1 0h3m-2 0h3m-1 0h3m-2 0h3m0 0h3m-2 0h3m-2 0h3m-2 0h3m0 0h3m-2 0h3m-2 0h3m-2 0h3m9 0h3m-72 1h3m11 0h3m5 0h3m4 0h3m-1 0h3m-2 0h3m-2 0h3m-1 0h3m-1 0h3m-2 0h3m-2 0h3m-2 0h3m-1 0h3m-2 0h3m-2 0h3m-2 0h3m-1 0h3m2 0h3m0 0h3m0 0h3m3 0h3m4 0h3m5 0h3m8 0h3m-2 0h3m-97 1h3m20 0h3m-1 0h3m-2 0h3m-1 0h3m-2 0h3m-1 0h3m-2 0h3m0 0h3m-1 0h3m-2 0h3m-2 0h3m-2 0h3m-1 0h3m-2 0h3m-2 0h3m-2 0h3m-2 0h3m-2 0h3m-2 0h3m0 0h3m-1 0h3m-2 0h3m-2 0h3m-2 0h3m0 0h3m0 0h3m3 0h3m5 0h3m7 0h3m1 0h3m-85 1h3m8 0h3m-2 0h3m-1 0h3m0 0h3m2 0h3m-2 0h3m-2 0h3m-1 0h3m-1 0h3m-1 0h3m0 0h3m-2 0h3m-2 0h3m-2 0h3m-2 0h3m-2 0h3m-2 0h3m-2 0h3m4 0h3m-2 0h3m-1 0h3m1 0h3m-2 0h3m2 0h3m4 0h3m0 0h3m0 0h3m0 0h3m2 0h3m11 0h3m-97 1h3m3 0h3m-2 0h3m-2 0h3m-2 0h3m2 0h3m-1 0h3m0 0h3m-2 0h3m2 0h3m-1 0h3m-2 0h3m-2 0h3m-2 0h3m-2 0h3m-2 0h3m-1 0h3m0 0h3m-2 0h3m4 0h3m3 0h3m3 0h3m7 0h3m-2 0h3m20 0h3m-109 1h3m5 0h3m21 0h3m-1 0h3m-2 0h3m1 0h3m-2 0h3m-2 0h3m-1 0h3m-2 0h3m-1 0h3m-1 0h3m-2 0h3m-2 0h3m-2 0h3m-1 0h3m-1 0h3m-1 0h3m-1 0h3m-2 0h3m0 0h3m-2 0h3m2 0h3m4 0h3m2 0h3m2 0h3m18 0h3m-92 1h3m-2 0h3m5 0h3m-1 0h3m-1 0h3m1 0h3m-1 0h3m1 0h3m-2 0h3m0 0h3m-2 0h3m-2 0h3m-2 0h3m-1 0h3m-2 0h3m-1 0h3m-2 0h3m-2 0h3m1 0h3m-2 0h3m0 0h3m0 0h3m-1 0h3m11 0h3m15 0h3m1 0h3m-1 0h3m-83 1h3m1 0h3m-1 0h3m-2 0h3m0 0h3m1 0h3m-2 0h3m-1 0h3m-2 0h3m-1 0h3m-2 0h3m-1 0h3m1 0h3m-2 0h3m-1 0h3m-2 0h3m1 0h3m-1 0h3m4 0h3m-1 0h3m10 0h3m42 0h3m-111 1h3m0 0h3m-1 0h3m1 0h3m3 0h3m-2 0h3m-1 0h3m-2 0h3m-2 0h3m-2 0h3m-2 0h3m-2 0h3m-2 0h3m1 0h3m-2 0h3m-2 0h3m7 0h3m115 0h3m-167 1h3m3 0h3m-2 0h3m-1 0h3m-2 0h3m-1 0h3m0 0h3m-1 0h3m1 0h3m-2 0h3m-2 0h3m-2 0h3m-1 0h3m1 0h3m-2 0h3m-2 0h3m0 0h3m-1 0h3m-2 0h3m0 0h3m-1 0h3m2 0h3m-2 0h3m2 0h3m2 0h3m31 0h3m-113 1h3m23 0h3m1 0h3m2 0h3m2 0h3m-1 0h3m-2 0h3m-2 0h3m-2 0h3m-1 0h3m0 0h3m-2 0h3m-1 0h3m-2 0h3m-1 0h3m-1 0h3m1 0h3m-2 0h3m-2 0h3m1 0h3m-1 0h3m2 0h3m-78 1h3m3 0h3m15 0h3m3 0h3m-2 0h3m6 0h3m2 0h3m0 0h3m0 0h3m-1 0h3m-1 0h3m-2 0h3m-2 0h3m-2 0h3m0 0h3m-2 0h3m3 0h3m8 0h3m-2 0h3m3 0h3m-1 0h3m-71 1h3m6 0h3m0 0h3m3 0h3m-1 0h3m-2 0h3m-1 0h3m1 0h3m-2 0h3m-1 0h3m1 0h3m1 0h3m2 0h3m-1 0h3m9 0h3m5 0h3m3 0h3m-2 0h3m40 0h3m-126 1h3m-2 0h3m-2 0h3m4 0h3m3 0h3m0 0h3m-2 0h3m-2 0h3m-1 0h3m0 0h3m-2 0h3m-1 0h3m-2 0h3m1 0h3m-2 0h3m-2 0h3m-2 0h3m-1 0h3m-2 0h3m0 0h3m-1 0h3m2 0h3m-2 0h3m1 0h3m2 0h3m50 0h3m-2 0h3m-114 1h3m0 0h3m2 0h3m0 0h3m1 0h3m-1 0h3m2 0h3m-2 0h3m-2 0h3m-1 0h3m-2 0h3m-1 0h3m-1 0h3m-2 0h3m1 0h3m-2 0h3m-2 0h3m0 0h3m-1 0h3m-2 0h3m-1 0h3m15 0h3m16 0h3m-94 1h3m-2 0h3m4 0h3m2 0h3m-2 0h3m-1 0h3m0 0h3m9 0h3m-1 0h3m-2 0h3m-2 0h3m-2 0h3m1 0h3m0 0h3m0 0h3m-2 0h3m-1 0h3m-1 0h3m-2 0h3m-2 0h3m-2 0h3m8 0h3m1 0h3m6 0h3m-1 0h3m-80 1h3m10 0h3m-2 0h3m1 0h3m-1 0h3m-2 0h3m-1 0h3m-2 0h3m-1 0h3m-2 0h3m-2 0h3m-2 0h3m-2 0h3m-2 0h3m2 0h3m-1 0h3m4 0h3m0 0h3m-1 0h3m-2 0h3m-2 0h3m-1 0h3m1 0h3m5 0h3m3 0h3m26 0h3m-97 1h3m-2 0h3m6 0h3m-1 0h3m-1 0h3m-2 0h3m-1 0h3m-2 0h3m1 0h3m-2 0h3m3 0h3m-1 0h3m-1 0h3m0 0h3m-1 0h3m2 0h3m4 0h3m-1 0h3m29 0h3m-96 1h3m0 0h3m1 0h3m3 0h3m0 0h3m1 0h3m-2 0h3m0 0h3m-1 0h3m-2 0h3m-2 0h3m-2 0h3m-1 0h3m-2 0h3m-2 0h3m-2 0h3m-2 0h3m-2 0h3m-2 0h3m-2 0h3m0 0h3m-2 0h3m-1 0h3m-1 0h3m-1 0h3m-2 0h3m-2 0h3m-1 0h3m-2 0h3m-1 0h3m-2 0h3m-1 0h3m10 0h3m-1 0h3m-68 1h3m-1 0h3m2 0h3m3 0h3m3 0h3m-1 0h3m0 0h3m-2 0h3m-1 0h3m-2 0h3m-2 0h3m-1 0h3m-2 0h3m-2 0h3m1 0h3m-2 0h3m0 0h3m-1 0h3m-1 0h3m-1 0h3m-1 0h3m-2 0h3m-1 0h3m-2 0h3m2 0h3m-80 1h3m19 0h3m-2 0h3m3 0h3m-1 0h3m0 0h3m-2 0h3m-1 0h3m3 0h3m0 0h3m-2 0h3m-2 0h3m-1 0h3m-2 0h3m-2 0h3m-2 0h3m-2 0h3m-2 0h3m-2 0h3m-2 0h3m2 0h3m-1 0h3m-1 0h3m-1 0h3m-2 0h3m-2 0h3m-2 0h3m-1 0h3m0 0h3m1 0h3m9 0h3m-87 1h3m4 0h3m3 0h3m3 0h3m-1 0h3m-2 0h3m10 0h3m0 0h3m-2 0h3m-2 0h3m-2 0h3m-2 0h3m-2 0h3m1 0h3m-2 0h3m0 0h3m-1 0h3m-1 0h3m-2 0h3m5 0h3m-1 0h3m0 0h3m16 0h3m-2 0h3m59 0h3m-146 1h3m3 0h3m1 0h3m-1 0h3m2 0h3m-2 0h3m-2 0h3m-1 0h3m-1 0h3m-2 0h3m-1 0h3m-2 0h3m-2 0h3m-2 0h3m-1 0h3m-2 0h3m-2 0h3m-2 0h3m-2 0h3m-2 0h3m0 0h3m-1 0h3m-2 0h3m-2 0h3m3 0h3m-1 0h3m-1 0h3m5 0h3m5 0h3m-79 1h3m6 0h3m7 0h3m0 0h3m-2 0h3m-2 0h3m-1 0h3m-2 0h3m-2 0h3m-2 0h3m0 0h3m0 0h3m-2 0h3m-2 0h3m-1 0h3m-2 0h3m-1 0h3m-1 0h3m-2 0h3m1 0h3m0 0h3m-2 0h3m1 0h3m0 0h3m2 0h3m4 0h3m5 0h3m1 0h3m4 0h3m0 0h3m50 0h3m-154 1h3m0 0h3m3 0h3m1 0h3m-1 0h3m2 0h3m-1 0h3m-1 0h3m-1 0h3m-2 0h3m-2 0h3m-1 0h3m-1 0h3m1 0h3m-2 0h3m-2 0h3m-2 0h3m1 0h3m-2 0h3m-1 0h3m-2 0h3m-2 0h3m-1 0h3m-1 0h3m-2 0h3m-2 0h3m-2 0h3m-2 0h3m1 0h3m-1 0h3m0 0h3m0 0h3m2 0h3m-2 0h3m2 0h3m24 0h3m-101 1h3m1 0h3m1 0h3m0 0h3m2 0h3m2 0h3m-2 0h3m-2 0h3m0 0h3m-2 0h3m-2 0h3m-2 0h3m-2 0h3m-2 0h3m-2 0h3m3 0h3m-2 0h3m-1 0h3m-2 0h3m-2 0h3m-1 0h3m-1 0h3m-1 0h3m0 0h3m2 0h3m-2 0h3m-2 0h3m0 0h3m-2 0h3m-1 0h3m-2 0h3m-1 0h3m-77 1h3m1 0h3m-2 0h3m8 0h3m-1 0h3m-1 0h3m0 0h3m-1 0h3m-1 0h3m-2 0h3m-2 0h3m-2 0h3m-2 0h3m-2 0h3m-2 0h3m0 0h3m0 0h3m-2 0h3m-2 0h3m-2 0h3m-2 0h3m-1 0h3m-1 0h3m-2 0h3m-2 0h3m-2 0h3m-2 0h3m-2 0h3m-1 0h3m0 0h3m-2 0h3m-1 0h3m-1 0h3m-1 0h3m6 0h3m15 0h3m30 0h3m41 0h3m-175 1h3m9 0h3m0 0h3m-2 0h3m-2 0h3m-1 0h3m0 0h3m-2 0h3m-1 0h3m-1 0h3m0 0h3m-1 0h3m0 0h3m-2 0h3m1 0h3m-2 0h3m-1 0h3m-2 0h3m-2 0h3m2 0h3m-2 0h3m-1 0h3m-2 0h3m-2 0h3m-1 0h3m-2 0h3m-2 0h3m-2 0h3m0 0h3m-1 0h3m-2 0h3m-2 0h3m-2 0h3m2 0h3m5 0h3m-1 0h3m8 0h3m13 0h3m10 0h3m-108 1h3m6 0h3m0 0h3m0 0h3m-2 0h3m-1 0h3m-2 0h3m0 0h3m-1 0h3m-2 0h3m-2 0h3m-2 0h3m-2 0h3m0 0h3m1 0h3m0 0h3m0 0h3m-2 0h3m-2 0h3m-2 0h3m-1 0h3m-2 0h3m1 0h3m67 0h3m-123 1h3m-2 0h3m4 0h3m-2 0h3m-2 0h3m-2 0h3m-2 0h3m-2 0h3m-2 0h3m-1 0h3m-2 0h3m-2 0h3m-2 0h3m1 0h3m-2 0h3m-2 0h3m-2 0h3m-2 0h3m-2 0h3m-2 0h3m-2 0h3m-2 0h3m-1 0h3m-1 0h3m-2 0h3m-2 0h3m-2 0h3m0 0h3m-2 0h3m-2 0h3m-1 0h3m-2 0h3m-2 0h3m0 0h3m-65 1h3m0 0h3m-2 0h3m3 0h3m-1 0h3m1 0h3m0 0h3m0 0h3m0 0h3m4 0h3m-2 0h3m-2 0h3m-2 0h3m-1 0h3m-1 0h3m-2 0h3m-2 0h3m-2 0h3m-2 0h3m0 0h3m-1 0h3m-2 0h3m0 0h3m-1 0h3m-2 0h3m-2 0h3m1 0h3m0 0h3m0 0h3m-1 0h3m1 0h3m0 0h3m-1 0h3m-77 1h3m1 0h3m5 0h3m-1 0h3m0 0h3m-2 0h3m0 0h3m1 0h3m-2 0h3m0 0h3m-1 0h3m-2 0h3m-2 0h3m-2 0h3m-2 0h3m-1 0h3m-2 0h3m-1 0h3m-2 0h3m-2 0h3m-2 0h3m-1 0h3m-2 0h3m-2 0h3m-2 0h3m-2 0h3m-1 0h3m-2 0h3m-2 0h3m-2 0h3m-1 0h3m6 0h3m0 0h3m8 0h3m-86 1h3m3 0h3m-2 0h3m0 0h3m2 0h3m-1 0h3m-1 0h3m0 0h3m-2 0h3m-2 0h3m-1 0h3m0 0h3m-2 0h3m-2 0h3m-2 0h3m-2 0h3m-2 0h3m-2 0h3m-2 0h3m-1 0h3m-2 0h3m-2 0h3m-2 0h3m-2 0h3m0 0h3m-2 0h3m-2 0h3m-2 0h3m-2 0h3m-2 0h3m-2 0h3m-2 0h3m-1 0h3m-2 0h3m-2 0h3m-2 0h3m1 0h3m-2 0h3m-2 0h3m-2 0h3m-2 0h3m-1 0h3m-1 0h3m1 0h3m-1 0h3m5 0h3m-86 1h3m6 0h3m0 0h3m1 0h3m-1 0h3m-2 0h3m-2 0h3m-2 0h3m-2 0h3m-1 0h3m-2 0h3m-2 0h3m-2 0h3m-2 0h3m-1 0h3m-1 0h3m-2 0h3m-2 0h3m-2 0h3m-2 0h3m-2 0h3m-2 0h3m-1 0h3m-2 0h3m-2 0h3m-2 0h3m-2 0h3m-2 0h3m-2 0h3m-2 0h3m-2 0h3m-2 0h3m-2 0h3m-2 0h3m-2 0h3m-2 0h3m-1 0h3m-1 0h3m-1 0h3m-1 0h3m-2 0h3m-1 0h3m9 0h3m-73 1h3m3 0h3m1 0h3m-1 0h3m-2 0h3m-2 0h3m-2 0h3m-2 0h3m-1 0h3m1 0h3m-2 0h3m-2 0h3m-2 0h3m-1 0h3m-1 0h3m-2 0h3m-2 0h3m-2 0h3m-2 0h3m-2 0h3m-2 0h3m-2 0h3m0 0h3m-2 0h3m-2 0h3m-2 0h3m-2 0h3m-2 0h3m0 0h3m-1 0h3m-1 0h3m-2 0h3m0 0h3m-1 0h3m0 0h3m1 0h3m-2 0h3m2 0h3m4 0h3m-76 1h3m-1 0h3m-2 0h3m-2 0h3m-1 0h3m1 0h3m-2 0h3m-2 0h3m-2 0h3m-1 0h3m0 0h3m-2 0h3m-2 0h3m-2 0h3m0 0h3m-2 0h3m-2 0h3m-2 0h3m0 0h3m-1 0h3m-2 0h3m-2 0h3m-2 0h3m-2 0h3m-2 0h3m-1 0h3m0 0h3m-2 0h3m-2 0h3m-1 0h3m-2 0h3m-1 0h3m-1 0h3m2 0h3m2 0h3m4 0h3m21 0h3m-88 1h3m0 0h3m-2 0h3m-2 0h3m-2 0h3m-2 0h3m-2 0h3m-1 0h3m-2 0h3m-2 0h3m0 0h3m-2 0h3m-2 0h3m-2 0h3m-2 0h3m-2 0h3m-1 0h3m-2 0h3m-2 0h3m-2 0h3m-2 0h3m0 0h3m-1 0h3m-1 0h3m-2 0h3m-2 0h3m1 0h3m-2 0h3m-2 0h3m-1 0h3m-2 0h3m2 0h3m1 0h3m-1 0h3m-2 0h3m-1 0h3m3 0h3m17 0h3m21 0h3m7 0h3m-138 1h3m0 0h3m-1 0h3m-1 0h3m2 0h3m1 0h3m-1 0h3m4 0h3m-2 0h3m-2 0h3m-2 0h3m-2 0h3m-2 0h3m-2 0h3m-2 0h3m-2 0h3m-2 0h3m-2 0h3m-1 0h3m-2 0h3m-2 0h3m-1 0h3m-1 0h3m-2 0h3m-2 0h3m-2 0h3m-2 0h3m-2 0h3m0 0h3m-2 0h3m-1 0h3m-2 0h3m-2 0h3m-2 0h3m-2 0h3m-2 0h3m-2 0h3m1 0h3m-1 0h3m1 0h3m80 0h3m-151 1h3m-2 0h3m0 0h3m-1 0h3m2 0h3m-2 0h3m-2 0h3m-2 0h3m0 0h3m0 0h3m-1 0h3m-2 0h3m-2 0h3m-2 0h3m-1 0h3m-2 0h3m-2 0h3m-2 0h3m-2 0h3m-2 0h3m-2 0h3m-2 0h3m-1 0h3m-2 0h3m-2 0h3m-2 0h3m-2 0h3m-2 0h3m-2 0h3m-1 0h3m-2 0h3m-2 0h3m-2 0h3m-2 0h3m-2 0h3m-1 0h3m-2 0h3m-1 0h3m0 0h3m-2 0h3m-2 0h3m-1 0h3m0 0h3m-1 0h3m2 0h3m11 0h3m60 0h3m-154 1h3m-1 0h3m-2 0h3m4 0h3m6 0h3m-2 0h3m-2 0h3m-2 0h3m-2 0h3m-2 0h3m0 0h3m0 0h3m-2 0h3m-2 0h3m-2 0h3m-2 0h3m0 0h3m-2 0h3m-2 0h3m-2 0h3m-2 0h3m-2 0h3m-2 0h3m-2 0h3m-2 0h3m-2 0h3m-1 0h3m-2 0h3m-1 0h3m-1 0h3m-1 0h3m-2 0h3m-2 0h3m-1 0h3m-1 0h3m-2 0h3m-2 0h3m-2 0h3m4 0h3m-2 0h3m0 0h3m5 0h3m-91 1h3m2 0h3m-2 0h3m-2 0h3m1 0h3m0 0h3m-2 0h3m1 0h3m-1 0h3m-2 0h3m-1 0h3m-2 0h3m-1 0h3m-2 0h3m-1 0h3m0 0h3m-1 0h3m-2 0h3m-2 0h3m-2 0h3m-2 0h3m-2 0h3m-2 0h3m-2 0h3m-2 0h3m-1 0h3m-2 0h3m-2 0h3m-2 0h3m-1 0h3m-2 0h3m-2 0h3m-2 0h3m-2 0h3m-2 0h3m-1 0h3m-2 0h3m-2 0h3m-1 0h3m-2 0h3m-2 0h3m-2 0h3m-1 0h3m-1 0h3m-2 0h3m0 0h3m-2 0h3m4 0h3m42 0h3m-122 1h3m7 0h3m-2 0h3m-2 0h3m6 0h3m-1 0h3m-2 0h3m-2 0h3m-1 0h3m-2 0h3m-2 0h3m-2 0h3m-2 0h3m-2 0h3m-2 0h3m-2 0h3m-2 0h3m-1 0h3m-2 0h3m-2 0h3m-2 0h3m-2 0h3m-1 0h3m-2 0h3m-2 0h3m-2 0h3m0 0h3m-1 0h3m-2 0h3m-2 0h3m-2 0h3m-2 0h3m-1 0h3m1 0h3m-2 0h3m-2 0h3m-2 0h3m0 0h3m-73 1h3m-2 0h3m2 0h3m-2 0h3m-1 0h3m-2 0h3m1 0h3m-1 0h3m-1 0h3m-2 0h3m-2 0h3m-2 0h3m-2 0h3m-2 0h3m-2 0h3m-2 0h3m-2 0h3m-2 0h3m-2 0h3m-2 0h3m-2 0h3m-1 0h3m-2 0h3m-2 0h3m-2 0h3m-2 0h3m-2 0h3m-2 0h3m-2 0h3m-2 0h3m-1 0h3m-2 0h3m-1 0h3m-2 0h3m-2 0h3m-2 0h3m-2 0h3m-1 0h3m-2 0h3m0 0h3m-1 0h3m-1 0h3m-2 0h3m-1 0h3m-2 0h3m-1 0h3m-1 0h3m-1 0h3m-2 0h3m0 0h3m3 0h3m2 0h3m-94 1h3m6 0h3m3 0h3m2 0h3m-2 0h3m-2 0h3m-2 0h3m-2 0h3m-1 0h3m1 0h3m0 0h3m-2 0h3m-2 0h3m-2 0h3m-2 0h3m-2 0h3m-2 0h3m-1 0h3m-2 0h3m-2 0h3m-2 0h3m-2 0h3m-2 0h3m-2 0h3m-1 0h3m-2 0h3m0 0h3m-2 0h3m-2 0h3m-2 0h3m-2 0h3m-2 0h3m-2 0h3m-2 0h3m1 0h3m-2 0h3m-1 0h3m0 0h3m-2 0h3m-2 0h3m-2 0h3m0 0h3m-2 0h3m0 0h3m-1 0h3m-1 0h3m-1 0h3m-85 1h3m3 0h3m0 0h3m-2 0h3m-2 0h3m0 0h3m-1 0h3m0 0h3m-1 0h3m-2 0h3m-2 0h3m-1 0h3m-1 0h3m-2 0h3m-2 0h3m-2 0h3m-2 0h3m-1 0h3m-2 0h3m-2 0h3m-2 0h3m-2 0h3m-2 0h3m-2 0h3m-2 0h3m-2 0h3m-2 0h3m-2 0h3m-2 0h3m-2 0h3m-2 0h3m-2 0h3m-2 0h3m-2 0h3m-2 0h3m-2 0h3m-2 0h3m-2 0h3m-1 0h3m0 0h3m-2 0h3m-1 0h3m1 0h3m-2 0h3m0 0h3m-2 0h3m13 0h3m-2 0h3m-85 1h3m7 0h3m-1 0h3m-2 0h3m1 0h3m-2 0h3m-1 0h3m-2 0h3m-2 0h3m-2 0h3m-2 0h3m-2 0h3m-2 0h3m-2 0h3m-2 0h3m-1 0h3m-2 0h3m-2 0h3m-2 0h3m-2 0h3m-2 0h3m-2 0h3m-1 0h3m-2 0h3m-2 0h3m-2 0h3m-2 0h3m-2 0h3m-1 0h3m-2 0h3m-2 0h3m-2 0h3m-2 0h3m-1 0h3m-2 0h3m-2 0h3m-2 0h3m-1 0h3m-2 0h3m-1 0h3m-1 0h3m-2 0h3m7 0h3m1 0h3m1 0h3m50 0h3m-147 1h3m12 0h3m-2 0h3m5 0h3m-2 0h3m3 0h3m-1 0h3m-2 0h3m-2 0h3m-2 0h3m-2 0h3m-2 0h3m-2 0h3m-2 0h3m-2 0h3m-2 0h3m-2 0h3m-2 0h3m-2 0h3m-2 0h3m-2 0h3m-2 0h3m-2 0h3m-1 0h3m-1 0h3m-2 0h3m-2 0h3m-2 0h3m-1 0h3m-2 0h3m-2 0h3m-2 0h3m-1 0h3m-2 0h3m0 0h3m-2 0h3m-2 0h3m-1 0h3m0 0h3m-2 0h3m-2 0h3m4 0h3m19 0h3m-104 1h3m-1 0h3m4 0h3m4 0h3m0 0h3m-1 0h3m-1 0h3m-2 0h3m-2 0h3m-2 0h3m-2 0h3m-2 0h3m-1 0h3m1 0h3m-2 0h3m-2 0h3m-2 0h3m-2 0h3m-2 0h3m-2 0h3m-2 0h3m-2 0h3m-2 0h3m-2 0h3m-2 0h3m-2 0h3m-1 0h3m-2 0h3m0 0h3m-2 0h3m-2 0h3m-2 0h3m-2 0h3m-2 0h3m-2 0h3m0 0h3m-2 0h3m-2 0h3m-2 0h3m-2 0h3m-2 0h3m-1 0h3m-1 0h3m-2 0h3m2 0h3m-76 1h3m-2 0h3m10 0h3m-1 0h3m-1 0h3m-2 0h3m-1 0h3m-2 0h3m-2 0h3m-2 0h3m-2 0h3m-2 0h3m0 0h3m-2 0h3m-2 0h3m-1 0h3m-2 0h3m-1 0h3m0 0h3m-2 0h3m-2 0h3m-2 0h3m-2 0h3m-2 0h3m-2 0h3m-2 0h3m-2 0h3m-2 0h3m-2 0h3m-2 0h3m-2 0h3m-2 0h3m-2 0h3m-2 0h3m-2 0h3m-2 0h3m-2 0h3m-2 0h3m-2 0h3m-2 0h3m-2 0h3m-1 0h3m-2 0h3m-2 0h3m0 0h3m-1 0h3m43 0h3m-115 1h3m2 0h3m0 0h3m1 0h3m-1 0h3m0 0h3m-1 0h3m1 0h3m-2 0h3m-2 0h3m-2 0h3m-2 0h3m-2 0h3m-2 0h3m-2 0h3m-1 0h3m-1 0h3m-2 0h3m-2 0h3m-1 0h3m0 0h3m-2 0h3m-2 0h3m-2 0h3m-2 0h3m-1 0h3m-2 0h3m-1 0h3m-2 0h3m-2 0h3m-2 0h3m-1 0h3m-2 0h3m-2 0h3m-2 0h3m2 0h3m9 0h3m-2 0h3m-2 0h3m20 0h3m-97 1h3m-2 0h3m1 0h3m-2 0h3m0 0h3m0 0h3m-1 0h3m-2 0h3m-1 0h3m1 0h3m0 0h3m-2 0h3m0 0h3m-2 0h3m-2 0h3m-2 0h3m-2 0h3m-1 0h3m-2 0h3m-1 0h3m-2 0h3m-2 0h3m-2 0h3m0 0h3m-2 0h3m-2 0h3m-2 0h3m-2 0h3m-2 0h3m-2 0h3m-2 0h3m2 0h3m-1 0h3m3 0h3m-1 0h3m8 0h3m29 0h3m-125 1h3m0 0h3m-1 0h3m0 0h3m0 0h3m-2 0h3m-2 0h3m4 0h3m0 0h3m-1 0h3m-1 0h3m-2 0h3m-2 0h3m-2 0h3m-2 0h3m-1 0h3m-1 0h3m-2 0h3m-2 0h3m-2 0h3m-2 0h3m-2 0h3m-2 0h3m-2 0h3m0 0h3m-2 0h3m-1 0h3m-2 0h3m-2 0h3m-2 0h3m-1 0h3m-2 0h3m-2 0h3m-2 0h3m-2 0h3m-2 0h3m1 0h3m-1 0h3m-2 0h3m-2 0h3m-2 0h3m2 0h3m-2 0h3m58 0h3m-133 1h3m-2 0h3m0 0h3m0 0h3m4 0h3m-2 0h3m-1 0h3m1 0h3m0 0h3m-1 0h3m-2 0h3m-1 0h3m-2 0h3m-1 0h3m-2 0h3m-2 0h3m-2 0h3m-2 0h3m-2 0h3m-1 0h3m-2 0h3m-1 0h3m-2 0h3m-2 0h3m-2 0h3m-2 0h3m-2 0h3m-2 0h3m-2 0h3m-2 0h3m-2 0h3m-2 0h3m-2 0h3m-2 0h3m-2 0h3m-2 0h3m-2 0h3m-2 0h3m-2 0h3m-2 0h3m-1 0h3m-2 0h3m-2 0h3m0 0h3m-1 0h3m-2 0h3m-2 0h3m0 0h3m10 0h3m-1 0h3m-2 0h3m-1 0h3m-97 1h3m0 0h3m6 0h3m-1 0h3m1 0h3m-2 0h3m0 0h3m-1 0h3m-1 0h3m-2 0h3m-2 0h3m-2 0h3m-2 0h3m-2 0h3m-1 0h3m-2 0h3m-2 0h3m-2 0h3m0 0h3m-2 0h3m-2 0h3m-1 0h3m-2 0h3m-1 0h3m-2 0h3m-2 0h3m-1 0h3m-2 0h3m-2 0h3m-2 0h3m-2 0h3m-1 0h3m-1 0h3m-2 0h3m-1 0h3m-1 0h3m-2 0h3m-2 0h3m-2 0h3m0 0h3m-1 0h3m-1 0h3m3 0h3m-79 1h3m3 0h3m5 0h3m-2 0h3m-2 0h3m1 0h3m-1 0h3m-2 0h3m-2 0h3m-2 0h3m-2 0h3m-1 0h3m-2 0h3m-1 0h3m-2 0h3m-2 0h3m-2 0h3m-2 0h3m0 0h3m-2 0h3m-2 0h3m-1 0h3m0 0h3m-2 0h3m-2 0h3m0 0h3m-2 0h3m-2 0h3m-2 0h3m-2 0h3m-2 0h3m-1 0h3m-2 0h3m-1 0h3m-1 0h3m0 0h3m-2 0h3m-2 0h3m-1 0h3m-2 0h3m4 0h3m3 0h3m47 0h3m10 0h3m5 0h3m-1 0h3m-152 1h3m5 0h3m-1 0h3m-1 0h3m-1 0h3m-2 0h3m-2 0h3m-2 0h3m-1 0h3m-2 0h3m-2 0h3m-2 0h3m-1 0h3m-2 0h3m-2 0h3m-2 0h3m-2 0h3m-2 0h3m-2 0h3m-2 0h3m-2 0h3m1 0h3m-1 0h3m-2 0h3m-2 0h3m-2 0h3m-2 0h3m-1 0h3m-2 0h3m-2 0h3m-1 0h3m-1 0h3m-1 0h3m-2 0h3m3 0h3m1 0h3m4 0h3m-1 0h3m-84 1h3m5 0h3m-2 0h3m2 0h3m0 0h3m-2 0h3m-2 0h3m4 0h3m0 0h3m-2 0h3m-1 0h3m-2 0h3m0 0h3m-2 0h3m-2 0h3m-1 0h3m-2 0h3m-2 0h3m-2 0h3m-2 0h3m-2 0h3m-2 0h3m-2 0h3m-2 0h3m-2 0h3m-2 0h3m-2 0h3m-2 0h3m-2 0h3m-1 0h3m-2 0h3m-2 0h3m-1 0h3m-1 0h3m-2 0h3m2 0h3m0 0h3m37 0h3m44 0h3m-159 1h3m9 0h3m2 0h3m-1 0h3m-1 0h3m-2 0h3m-2 0h3m-2 0h3m-2 0h3m-2 0h3m-1 0h3m-2 0h3m0 0h3m-1 0h3m-2 0h3m-2 0h3m-2 0h3m-2 0h3m-2 0h3m-1 0h3m-2 0h3m-2 0h3m-2 0h3m-2 0h3m-1 0h3m-2 0h3m-2 0h3m-2 0h3m-1 0h3m-2 0h3m3 0h3m-1 0h3m0 0h3m-2 0h3m-2 0h3m0 0h3m1 0h3m24 0h3m-103 1h3m1 0h3m6 0h3m-1 0h3m-1 0h3m-1 0h3m2 0h3m0 0h3m-2 0h3m0 0h3m1 0h3m-1 0h3m-2 0h3m-2 0h3m-2 0h3m-2 0h3m-2 0h3m-2 0h3m-2 0h3m-2 0h3m-2 0h3m-2 0h3m-2 0h3m-2 0h3m-1 0h3m-2 0h3m-2 0h3m1 0h3m-2 0h3m0 0h3m-1 0h3m-1 0h3m-2 0h3m28 0h3m85 0h3m-186 1h3m6 0h3m-1 0h3m-2 0h3m2 0h3m-1 0h3m-1 0h3m1 0h3m-2 0h3m-1 0h3m-2 0h3m-2 0h3m-2 0h3m-2 0h3m-1 0h3m-2 0h3m-2 0h3m-2 0h3m-2 0h3m-2 0h3m-2 0h3m-2 0h3m-2 0h3m-2 0h3m-2 0h3m-2 0h3m0 0h3m-2 0h3m-1 0h3m-2 0h3m-2 0h3m-2 0h3m-2 0h3m3 0h3m-2 0h3m-2 0h3m2 0h3m0 0h3m1 0h3m5 0h3m25 0h3m-113 1h3m3 0h3m-2 0h3m0 0h3m-2 0h3m-2 0h3m-2 0h3m0 0h3m0 0h3m-1 0h3m2 0h3m-2 0h3m-1 0h3m-2 0h3m-1 0h3m-2 0h3m-2 0h3m-1 0h3m-2 0h3m-2 0h3m-2 0h3m-2 0h3m0 0h3m-2 0h3m-2 0h3m-2 0h3m-2 0h3m-1 0h3m-2 0h3m-1 0h3m-1 0h3m-2 0h3m-1 0h3m-2 0h3m-2 0h3m-2 0h3m2 0h3m-2 0h3m1 0h3m6 0h3m-2 0h3m28 0h3m-107 1h3m-2 0h3m-2 0h3m1 0h3m2 0h3m0 0h3m-1 0h3m-2 0h3m-2 0h3m-2 0h3m-2 0h3m-2 0h3m-2 0h3m-1 0h3m-2 0h3m-2 0h3m-2 0h3m-1 0h3m-2 0h3m-1 0h3m0 0h3m-2 0h3m-1 0h3m-2 0h3m-1 0h3m0 0h3m-2 0h3m-2 0h3m-1 0h3m0 0h3m0 0h3m-1 0h3m-2 0h3m-2 0h3m2 0h3m2 0h3m-1 0h3m28 0h3m-113 1h3m5 0h3m-1 0h3m0 0h3m1 0h3m0 0h3m-1 0h3m0 0h3m-2 0h3m-2 0h3m0 0h3m0 0h3m-2 0h3m-2 0h3m-1 0h3m-1 0h3m-1 0h3m-2 0h3m-2 0h3m-2 0h3m-1 0h3m-2 0h3m-2 0h3m0 0h3m-1 0h3m-1 0h3m0 0h3m-1 0h3m13 0h3m-83 1h3m9 0h3m-2 0h3m4 0h3m-2 0h3m-2 0h3m2 0h3m-1 0h3m0 0h3m-2 0h3m-2 0h3m-1 0h3m-2 0h3m5 0h3m-2 0h3m-2 0h3m-2 0h3m-2 0h3m-2 0h3m-2 0h3m-2 0h3m0 0h3m0 0h3m0 0h3m-2 0h3m0 0h3m-2 0h3m0 0h3m-1 0h3m9 0h3m11 0h3m-100 1h3m11 0h3m0 0h3m2 0h3m0 0h3m3 0h3m-2 0h3m-2 0h3m2 0h3m-1 0h3m-2 0h3m-2 0h3m-2 0h3m0 0h3m-1 0h3m-2 0h3m-2 0h3m-1 0h3m-2 0h3m-2 0h3m-2 0h3m-2 0h3m0 0h3m-1 0h3m-2 0h3m-2 0h3m2 0h3m1 0h3m0 0h3m-1 0h3m2 0h3m-68 1h3m-2 0h3m-2 0h3m-2 0h3m-1 0h3m-1 0h3m3 0h3m1 0h3m-1 0h3m-2 0h3m-2 0h3m-1 0h3m-2 0h3m-2 0h3m-1 0h3m-2 0h3m-2 0h3m-2 0h3m-2 0h3m-2 0h3m-2 0h3m-2 0h3m-2 0h3m-2 0h3m0 0h3m-1 0h3m0 0h3m-2 0h3m1 0h3m-2 0h3m0 0h3m1 0h3m9 0h3m-84 1h3m0 0h3m0 0h3m0 0h3m0 0h3m2 0h3m0 0h3m-2 0h3m-2 0h3m0 0h3m-2 0h3m-1 0h3m-2 0h3m-2 0h3m-2 0h3m-1 0h3m-2 0h3m-2 0h3m-2 0h3m-1 0h3m-2 0h3m-2 0h3m-1 0h3m-2 0h3m-2 0h3m-2 0h3m-2 0h3m-2 0h3m-1 0h3m-2 0h3m-2 0h3m-2 0h3m-2 0h3m-1 0h3m-1 0h3m-1 0h3m2 0h3m0 0h3m-2 0h3m-1 0h3m-2 0h3m6 0h3m60 0h3m-151 1h3m0 0h3m9 0h3m1 0h3m2 0h3m-2 0h3m1 0h3m0 0h3m-2 0h3m-1 0h3m-2 0h3m-1 0h3m-2 0h3m-2 0h3m1 0h3m-2 0h3m1 0h3m-2 0h3m-2 0h3m-2 0h3m1 0h3m2 0h3m0 0h3m-2 0h3m-1 0h3m2 0h3m6 0h3m4 0h3m-82 1h3m2 0h3m1 0h3m-2 0h3m-1 0h3m1 0h3m1 0h3m0 0h3m-1 0h3m-2 0h3m0 0h3m-1 0h3m0 0h3m-1 0h3m-1 0h3m-1 0h3m-2 0h3m-1 0h3m0 0h3m0 0h3m0 0h3m-1 0h3m2 0h3m-2 0h3m3 0h3m-1 0h3m1 0h3m-76 1h3m7 0h3m-2 0h3m-1 0h3m-2 0h3m-2 0h3m-2 0h3m-1 0h3m-2 0h3m-1 0h3m-1 0h3m-1 0h3m-2 0h3m-2 0h3m1 0h3m3 0h3m0 0h3m0 0h3m0 0h3m2 0h3m0 0h3m12 0h3m-2 0h3m-82 1h3m1 0h3m9 0h3m0 0h3m2 0h3m0 0h3m-2 0h3m-2 0h3m3 0h3m1 0h3m-2 0h3m-2 0h3m-2 0h3m-2 0h3m-2 0h3m-2 0h3m1 0h3m-1 0h3m1 0h3m-2 0h3m-2 0h3m1 0h3m5 0h3m-1 0h3m5 0h3m0 0h3m71 0h3m-159 1h3m3 0h3m11 0h3m0 0h3m2 0h3m1 0h3m0 0h3m-1 0h3m-2 0h3m4 0h3m0 0h3m-2 0h3m-2 0h3m-1 0h3m0 0h3m-2 0h3m-2 0h3m0 0h3m-1 0h3m-2 0h3m-1 0h3m8 0h3m-2 0h3m-2 0h3m82 0h3m-158 1h3m2 0h3m-1 0h3m2 0h3m0 0h3m1 0h3m-2 0h3m-2 0h3m-2 0h3m0 0h3m-2 0h3m-2 0h3m-2 0h3m-2 0h3m-2 0h3m0 0h3m-1 0h3m5 0h3m-2 0h3m-1 0h3m-1 0h3m1 0h3m1 0h3m3 0h3m3 0h3m-63 1h3m12 0h3m4 0h3m-2 0h3m-1 0h3m-2 0h3m-2 0h3m-2 0h3m-1 0h3m-2 0h3m6 0h3m4 0h3m3 0h3m-64 1h3m-1 0h3m3 0h3m0 0h3m5 0h3m-1 0h3m-1 0h3m-1 0h3m-2 0h3m1 0h3m-1 0h3m-1 0h3m-2 0h3m1 0h3m-2 0h3m-1 0h3m-2 0h3m-1 0h3m1 0h3m0 0h3m1 0h3m-1 0h3m-65 1h3m6 0h3m2 0h3m0 0h3m-2 0h3m-1 0h3m8 0h3m-2 0h3m3 0h3m-2 0h3m-2 0h3m0 0h3m-2 0h3m-2 0h3m0 0h3m-1 0h3m-2 0h3m2 0h3m-2 0h3m-2 0h3m9 0h3m-75 1h3m3 0h3m1 0h3m-1 0h3m1 0h3m4 0h3m3 0h3m-2 0h3m1 0h3m-2 0h3m-1 0h3m8 0h3m4 0h3m-2 0h3m-1 0h3m-1 0h3m-2 0h3m-2 0h3m0 0h3m-1 0h3m-2 0h3m-64 1h3m16 0h3m-1 0h3m-2 0h3m-1 0h3m-2 0h3m0 0h3m-1 0h3m-2 0h3m2 0h3m0 0h3m1 0h3m2 0h3m3 0h3m4 0h3m50 0h3m-112 1h3m6 0h3m1 0h3m-2 0h3m-2 0h3m2 0h3m-2 0h3m-2 0h3m-1 0h3m-2 0h3m-2 0h3m-1 0h3m-2 0h3m3 0h3m0 0h3m1 0h3m-2 0h3m-1 0h3m8 0h3m4 0h3m48 0h3m19 0h3m-142 1h3m-1 0h3m12 0h3m-1 0h3m1 0h3m3 0h3m-1 0h3m-2 0h3m-1 0h3m-2 0h3m14 0h3m-1 0h3m-66 1h3m18 0h3m1 0h3m-1 0h3m1 0h3m0 0h3m6 0h3m0 0h3m-2 0h3m0 0h3m2 0h3m-1 0h3m-2 0h3m2 0h3m-1 0h3m29 0h3m-100 1h3m6 0h3m9 0h3m4 0h3m-2 0h3m4 0h3m1 0h3m7 0h3m-1 0h3m5 0h3m-1 0h3m3 0h3m-31 1h3m0 0h3m1 0h3m1 0h3m12 0h3m-2 0h3m-1 0h3m0 0h3m-46 1h3m-1 0h3m3 0h3m-1 0h3m11 0h3m0 0h3m-1 0h3m17 0h3m-2 0h3m-1 0h3m-61 1h3m7 0h3m0 0h3m1 0h3m7 0h3m-1 0h3m-50 1h3m4 0h3m-1 0h3m8 0h3m3 0h3m-2 0h3m1 0h3m1 0h3m2 0h3m0 0h3m2 0h3m3 0h3m2 0h3m-59 1h3m2 0h3m14 0h3m5 0h3m-1 0h3m5 0h3m0 0h3m-43 1h3m1 0h3m-1 0h3m0 0h3m2 0h3m6 0h3m3 0h3m4 0h3m0 0h3m2 0h3m9 0h3m7 0h3m-68 1h3m3 0h3m2 0h3m0 0h3m8 0h3m1 0h3m1 0h3m-1 0h3m10 0h3m7 0h3m1 0h3m1 0h3m1 0h3m4 0h3m17 0h3m-99 1h3m9 0h3m8 0h3m0 0h3m3 0h3m3 0h3m7 0h3m-2 0h3m6 0h3m9 0h3m-2 0h3m-80 1h3m-1 0h3m2 0h3m0 0h3m6 0h3m0 0h3m3 0h3m1 0h3m-2 0h3m-2 0h3m-2 0h3m2 0h3m-1 0h3m1 0h3m6 0h3m5 0h3m7 0h3m0 0h3m3 0h3m-90 1h3m10 0h3m7 0h3m-1 0h3m-2 0h3m1 0h3m-2 0h3m-2 0h3m2 0h3m0 0h3m7 0h3m-1 0h3m0 0h3m8 0h3m-1 0h3m6 0h3m-1 0h3m1 0h3m-86 1h3m8 0h3m3 0h3m6 0h3m2 0h3m5 0h3m-2 0h3m14 0h3m-2 0h3m0 0h3m-2 0h3m5 0h3m16 0h3m-81 1h3m11 0h3m2 0h3m-2 0h3m-2 0h3m0 0h3m16 0h3m0 0h3m0 0h3m2 0h3m-2 0h3m2 0h3m7 0h3m0 0h3m0 0h3m-77 1h3m10 0h3m5 0h3m4 0h3m16 0h3m3 0h3m1 0h3m-2 0h3m14 0h3m-2 0h3m-82 1h3m21 0h3m23 1h3m10 0h3" stroke="#999999" stroke-width="2.8" fill="none"/>
<path d="M274 1404h3m6 0h3m-23 1h3m1 0h3m-2 1h3m-2 0h3m-10 4h3m-7 1h3m-1 0h3m-1 0h3m-2 0h3m-1 0h3m1 0h3m2 0h3m-7 1h3m-18 1h3m1 0h3m2 0h3m-4 1h3m2 0h3m1 0h3m-6 1h3m-2 0h3m1 0h3m-18 1h3m5 0h3m-1 0h3m2 0h3m-12 1h3m-15 1h3m0 0h3m2 0h3m-2 0h3m-1 0h3m2 0h3m-2 0h3m-1 0h3m6 0h3m-30 1h3m3 0h3m-2 0h3m4 0h3m1 0h3m-13 1h3m9 0h3m-1 0h3m-23 1h3m3 0h3m0 0h3m-2 0h3m3 0h3m-15 1h3m-2 0h3m-1 0h3m-2 0h3m0 0h3m-2 0h3m3 0h3m-14 1h3m-1 0h3m-2 0h3m2 0h3m-13 1h3m4 0h3m0 0h3m-2 0h3m-19 1h3m7 0h3m-2 0h3m-10 1h3m0 0h3m-2 0h3m-1 0h3m0 0h3m-2 0h3m5 0h3m-27 1h3m14 0h3m3 0h3m-18 1h3m-1 0h3m-1 0h3m-17 1h3m3 0h3m13 0h3m7 0h3m-23 1h3m-1 0h3m-10 1h3m-3 1h3m7 0h3m-9 1h3m0 1h3m0 0h3m-2 0h3m1 0h3m-18 1h3m2 0h3m6 0h3m-20 1h3m3 1h3m1 0h3m-2 0h3m-5 1h3m-7 1h3m-10 1h3m0 0h3m-3 1h3m-3 1h3m1 0h3m-29 2h3m18 3h3m20 0h3m-8 2h3m-13 1h3m-11 2h3m-10 4h3m25 2h3m-24 2h3m-11 9h3m12 2h3m12 0h3" stroke="#22c322" stroke-width="2.9" fill="none"/>
<circle cx="274.3" cy="1418.7" r="50" fill="none" stroke="#111" stroke-width="1.4"/>
<line x1="323.5" y1="1401" x2="357.4" y2="1401" stroke="#000" stroke-width="1.6"/>
<path d="M373.4 1401L356.4 1394.7L356.4 1407.3Z" fill="#000"/>
<text x="128" y="1559.5" font-size="16.5" class="k" textLength="112.7" lengthAdjust="spacingAndGlyphs" transform="rotate(-90 128 1559.5)">Pdpn-APC-Cy7</text>
<line x1="123.4" y1="1434.6" x2="123.4" y2="1366.9" stroke="#000" stroke-width="1.6"/>
<path d="M123.4 1349.9L116.9 1367.9L129.9 1367.9Z" fill="#000"/>
<text x="47.2" y="1353.8" font-size="18" class="k" textLength="58" lengthAdjust="spacingAndGlyphs">CD45 –</text>
<text x="47.2" y="1377.3" font-size="18" class="k" textLength="58" lengthAdjust="spacingAndGlyphs">CD31 –</text>
<text x="147.2" y="1596.4" font-size="16.5" class="k" textLength="178.9" lengthAdjust="spacingAndGlyphs">PDGFRα-PerCP-Cy5.5</text>
<line x1="330.7" y1="1590.3" x2="354.8" y2="1590.3" stroke="#000" stroke-width="1.6"/>
<path d="M371.8 1590.3L353.8 1583.8L353.8 1596.8Z" fill="#000"/>
<rect x="421.5" y="1351.7" width="207.9" height="206.3" fill="#fff" stroke="#7d7d7d" stroke-width="1.2"/>
<path d="M443.5 1558v5.5M485.2 1558v5.5M526.7 1558v5.5M569.3 1558v5.5M611.1 1558v5.5" stroke="#111" stroke-width="1.3" fill="none"/>
<path d="M456.1 1558v3.0M463.4 1558v3.0M468.6 1558v3.0M472.6 1558v3.0M475.9 1558v3.0M478.7 1558v3.0M481.2 1558v3.0M483.3 1558v3.0M497.7 1558v3.0M505 1558v3.0M510.2 1558v3.0M514.2 1558v3.0M517.5 1558v3.0M520.3 1558v3.0M522.7 1558v3.0M524.8 1558v3.0M539.5 1558v3.0M547 1558v3.0M552.3 1558v3.0M556.5 1558v3.0M559.8 1558v3.0M562.7 1558v3.0M565.2 1558v3.0M567.4 1558v3.0M581.9 1558v3.0M589.2 1558v3.0M594.5 1558v3.0M598.5 1558v3.0M601.8 1558v3.0M604.6 1558v3.0M607 1558v3.0M609.2 1558v3.0M623.7 1558v3.0M421.6 1558v3.0M426.9 1558v3.0M430.9 1558v3.0M434.2 1558v3.0M437 1558v3.0M439.4 1558v3.0M441.6 1558v3.0" stroke="#222" stroke-width="0.9" fill="none"/>
<text x="445.5" y="1574" font-size="7.8" text-anchor="middle" fill="#111">10<tspan dy="-3.5" font-size="6.2">1</tspan></text>
<text x="487.2" y="1574" font-size="7.8" text-anchor="middle" fill="#111">10<tspan dy="-3.5" font-size="6.2">2</tspan></text>
<text x="528.7" y="1574" font-size="7.8" text-anchor="middle" fill="#111">10<tspan dy="-3.5" font-size="6.2">3</tspan></text>
<text x="571.3" y="1574" font-size="7.8" text-anchor="middle" fill="#111">10<tspan dy="-3.5" font-size="6.2">4</tspan></text>
<text x="613.1" y="1574" font-size="7.8" text-anchor="middle" fill="#111">10<tspan dy="-3.5" font-size="6.2">5</tspan></text>
<path d="M421.5 1536.7h-5.5M421.5 1494.9h-5.5M421.5 1452.9h-5.5M421.5 1411.1h-5.5M421.5 1369.7h-5.5" stroke="#111" stroke-width="1.3" fill="none"/>
<path d="M421.5 1524.1h-3.0M421.5 1516.8h-3.0M421.5 1511.5h-3.0M421.5 1507.5h-3.0M421.5 1504.2h-3.0M421.5 1501.4h-3.0M421.5 1499h-3.0M421.5 1496.8h-3.0M421.5 1482.3h-3.0M421.5 1474.9h-3.0M421.5 1469.6h-3.0M421.5 1465.5h-3.0M421.5 1462.2h-3.0M421.5 1459.4h-3.0M421.5 1457h-3.0M421.5 1454.8h-3.0M421.5 1440.3h-3.0M421.5 1433h-3.0M421.5 1427.7h-3.0M421.5 1423.7h-3.0M421.5 1420.4h-3.0M421.5 1417.6h-3.0M421.5 1415.2h-3.0M421.5 1413h-3.0M421.5 1398.6h-3.0M421.5 1391.3h-3.0M421.5 1386.2h-3.0M421.5 1382.2h-3.0M421.5 1378.9h-3.0M421.5 1376.1h-3.0M421.5 1373.7h-3.0M421.5 1371.6h-3.0M421.5 1357.2h-3.0M421.5 1553.2h-3.0M421.5 1549.2h-3.0M421.5 1545.9h-3.0M421.5 1543.1h-3.0M421.5 1540.7h-3.0M421.5 1538.6h-3.0" stroke="#222" stroke-width="0.9" fill="none"/>
<text x="411.5" y="1540.7" font-size="7.8" text-anchor="end" fill="#111">10<tspan dy="-3.5" font-size="6.2">1</tspan></text>
<text x="411.5" y="1498.9" font-size="7.8" text-anchor="end" fill="#111">10<tspan dy="-3.5" font-size="6.2">2</tspan></text>
<text x="411.5" y="1456.9" font-size="7.8" text-anchor="end" fill="#111">10<tspan dy="-3.5" font-size="6.2">3</tspan></text>
<text x="411.5" y="1415.1" font-size="7.8" text-anchor="end" fill="#111">10<tspan dy="-3.5" font-size="6.2">4</tspan></text>
<text x="411.5" y="1373.7" font-size="7.8" text-anchor="end" fill="#111">10<tspan dy="-3.5" font-size="6.2">5</tspan></text>
<path d="M540 1383h3m-20 3h3m8 1h3m-6 4h3m-11 3h3m3 1h3m12 0h3m4 0h3m-32 2h3m4 0h3m0 0h3m-27 1h3m1 0h3m11 0h3m7 0h3m5 0h3m-32 1h3m-1 0h3m11 0h3m-16 2h3m0 0h3m35 0h3m-47 1h3m5 0h3m8 0h3m5 0h3m-36 1h3m20 0h3m1 0h3m-2 0h3m4 0h3m12 0h3m-2 0h3m0 0h3m-1 0h3m1 0h3m-45 1h3m7 0h3m5 0h3m-1 0h3m-2 0h3m1 0h3m1 0h3m-1 0h3m0 0h3m1 0h3m-56 1h3m2 0h3m3 0h3m3 0h3m0 0h3m-2 0h3m-2 0h3m1 0h3m4 0h3m-1 0h3m2 0h3m4 0h3m1 0h3m-1 0h3m7 0h3m-75 1h3m7 0h3m0 0h3m4 0h3m-1 0h3m-1 0h3m1 0h3m-2 0h3m-2 0h3m0 0h3m3 0h3m4 0h3m2 0h3m-2 0h3m-2 0h3m-2 0h3m4 0h3m4 0h3m-2 0h3m-66 1h3m-2 0h3m2 0h3m-2 0h3m-1 0h3m-2 0h3m-2 0h3m-2 0h3m0 0h3m1 0h3m0 0h3m-1 0h3m-1 0h3m-2 0h3m-1 0h3m-1 0h3m0 0h3m-2 0h3m-2 0h3m0 0h3m-2 0h3m-2 0h3m0 0h3m-1 0h3m-1 0h3m-2 0h3m-1 0h3m-2 0h3m-2 0h3m-2 0h3m-1 0h3m-2 0h3m-2 0h3m-1 0h3m0 0h3m-74 1h3m2 0h3m1 0h3m-2 0h3m-1 0h3m0 0h3m2 0h3m-1 0h3m-2 0h3m-2 0h3m-2 0h3m5 0h3m-2 0h3m-1 0h3m0 0h3m-2 0h3m-1 0h3m-1 0h3m-2 0h3m0 0h3m-1 0h3m-2 0h3m-2 0h3m-2 0h3m-2 0h3m-1 0h3m-2 0h3m-1 0h3m-2 0h3m-2 0h3m-2 0h3m2 0h3m-2 0h3m-2 0h3m-63 1h3m0 0h3m3 0h3m5 0h3m2 0h3m-2 0h3m-2 0h3m-2 0h3m-2 0h3m-2 0h3m-1 0h3m-1 0h3m-2 0h3m-2 0h3m-2 0h3m-2 0h3m-2 0h3m-1 0h3m-2 0h3m-1 0h3m-2 0h3m-1 0h3m-1 0h3m-2 0h3m-2 0h3m-1 0h3m-1 0h3m0 0h3m-2 0h3m-2 0h3m-1 0h3m2 0h3m-2 0h3m-79 1h3m5 0h3m0 0h3m2 0h3m-2 0h3m-2 0h3m0 0h3m3 0h3m4 0h3m-2 0h3m-1 0h3m-1 0h3m-2 0h3m-2 0h3m-2 0h3m-1 0h3m0 0h3m0 0h3m-2 0h3m-1 0h3m0 0h3m-2 0h3m-2 0h3m2 0h3m-2 0h3m-2 0h3m-2 0h3m-1 0h3m0 0h3m-2 0h3m-69 1h3m1 0h3m-1 0h3m-2 0h3m0 0h3m-2 0h3m-2 0h3m-1 0h3m3 0h3m3 0h3m-2 0h3m-1 0h3m-1 0h3m-2 0h3m-2 0h3m-2 0h3m-2 0h3m-2 0h3m-2 0h3m-2 0h3m-2 0h3m-2 0h3m-2 0h3m-1 0h3m-2 0h3m-2 0h3m-2 0h3m-1 0h3m-2 0h3m0 0h3m-2 0h3m-2 0h3m-2 0h3m-1 0h3m-2 0h3m-2 0h3m-1 0h3m-1 0h3m-2 0h3m0 0h3m-75 1h3m1 0h3m0 0h3m-2 0h3m6 0h3m0 0h3m-2 0h3m-2 0h3m1 0h3m-1 0h3m1 0h3m-2 0h3m-2 0h3m-2 0h3m-2 0h3m-1 0h3m-1 0h3m-2 0h3m-2 0h3m-2 0h3m-1 0h3m-2 0h3m-1 0h3m-2 0h3m-2 0h3m-2 0h3m-2 0h3m-1 0h3m-2 0h3m-2 0h3m-2 0h3m-2 0h3m0 0h3m-2 0h3m0 0h3m-1 0h3m-1 0h3m-2 0h3m0 0h3m-1 0h3m-2 0h3m-83 1h3m-1 0h3m0 0h3m-1 0h3m-1 0h3m-1 0h3m0 0h3m0 0h3m-1 0h3m0 0h3m-1 0h3m-2 0h3m-2 0h3m-1 0h3m-2 0h3m1 0h3m-1 0h3m-2 0h3m-1 0h3m-2 0h3m-1 0h3m-2 0h3m-2 0h3m-1 0h3m-2 0h3m-2 0h3m-2 0h3m-2 0h3m-2 0h3m0 0h3m-2 0h3m-2 0h3m0 0h3m-1 0h3m-1 0h3m-2 0h3m-1 0h3m-2 0h3m-2 0h3m-2 0h3m-1 0h3m-2 0h3m-2 0h3m-2 0h3m-2 0h3m-76 1h3m-2 0h3m2 0h3m-1 0h3m-2 0h3m-2 0h3m1 0h3m0 0h3m-2 0h3m-1 0h3m-1 0h3m-2 0h3m-2 0h3m0 0h3m0 0h3m-2 0h3m0 0h3m-2 0h3m-2 0h3m-2 0h3m0 0h3m-1 0h3m-2 0h3m1 0h3m-2 0h3m-2 0h3m-2 0h3m-2 0h3m-1 0h3m-1 0h3m-2 0h3m-1 0h3m-1 0h3m-2 0h3m-1 0h3m-2 0h3m-2 0h3m-2 0h3m-2 0h3m-2 0h3m-2 0h3m-1 0h3m-2 0h3m-1 0h3m-2 0h3m-1 0h3m-80 1h3m-2 0h3m1 0h3m-2 0h3m-1 0h3m-2 0h3m-2 0h3m-2 0h3m-2 0h3m-2 0h3m-2 0h3m-2 0h3m-2 0h3m0 0h3m-2 0h3m-1 0h3m-2 0h3m-2 0h3m-2 0h3m5 0h3m-2 0h3m-2 0h3m-1 0h3m-2 0h3m0 0h3m-1 0h3m-2 0h3m-2 0h3m-2 0h3m-2 0h3m-2 0h3m-1 0h3m-2 0h3m-2 0h3m-2 0h3m-2 0h3m-2 0h3m-2 0h3m-2 0h3m-2 0h3m-1 0h3m-2 0h3m-2 0h3m-1 0h3m-2 0h3m-1 0h3m-1 0h3m1 0h3m-2 0h3m-2 0h3m-81 1h3m1 0h3m-2 0h3m1 0h3m-1 0h3m0 0h3m-2 0h3m-1 0h3m-2 0h3m-1 0h3m-2 0h3m-1 0h3m-2 0h3m-1 0h3m3 0h3m2 0h3m1 0h3m-2 0h3m-2 0h3m-2 0h3m-2 0h3m-2 0h3m-2 0h3m-2 0h3m-2 0h3m-2 0h3m-2 0h3m-2 0h3m-2 0h3m-1 0h3m-2 0h3m-2 0h3m-2 0h3m-2 0h3m-2 0h3m-1 0h3m-2 0h3m-1 0h3m-2 0h3m-2 0h3m-1 0h3m-2 0h3m-2 0h3m-1 0h3m-2 0h3m-2 0h3m-1 0h3m-1 0h3m1 0h3m-90 1h3m2 0h3m7 0h3m0 0h3m-1 0h3m0 0h3m-1 0h3m-2 0h3m-1 0h3m-2 0h3m-2 0h3m-1 0h3m-2 0h3m-1 0h3m-2 0h3m2 0h3m-2 0h3m-2 0h3m-1 0h3m-1 0h3m-2 0h3m-2 0h3m-2 0h3m-2 0h3m-1 0h3m-2 0h3m-2 0h3m-2 0h3m-2 0h3m-2 0h3m0 0h3m-2 0h3m-2 0h3m-1 0h3m-2 0h3m-1 0h3m-2 0h3m-1 0h3m-2 0h3m-2 0h3m-2 0h3m-2 0h3m0 0h3m1 0h3m-84 1h3m4 0h3m-2 0h3m-2 0h3m-2 0h3m-2 0h3m-2 0h3m-2 0h3m-2 0h3m-2 0h3m-1 0h3m1 0h3m-2 0h3m-2 0h3m0 0h3m-1 0h3m-2 0h3m-1 0h3m-2 0h3m-2 0h3m-1 0h3m3 0h3m0 0h3m-2 0h3m-2 0h3m-2 0h3m-2 0h3m-1 0h3m-2 0h3m0 0h3m-2 0h3m-2 0h3m-1 0h3m-1 0h3m-2 0h3m-2 0h3m-2 0h3m-2 0h3m-1 0h3m-2 0h3m-2 0h3m-2 0h3m-2 0h3m-2 0h3m0 0h3m-2 0h3m-2 0h3m-2 0h3m-2 0h3m-79 1h3m-1 0h3m-1 0h3m-1 0h3m-1 0h3m-2 0h3m-1 0h3m-2 0h3m-1 0h3m-2 0h3m-2 0h3m-2 0h3m-2 0h3m-2 0h3m-2 0h3m-2 0h3m-1 0h3m-1 0h3m-2 0h3m-2 0h3m-2 0h3m-2 0h3m4 0h3m0 0h3m-2 0h3m-1 0h3m-2 0h3m-1 0h3m-2 0h3m-2 0h3m-2 0h3m-2 0h3m-2 0h3m-2 0h3m-1 0h3m-1 0h3m-2 0h3m-2 0h3m-2 0h3m-2 0h3m-2 0h3m-2 0h3m-2 0h3m-2 0h3m-2 0h3m-2 0h3m-1 0h3m-2 0h3m-2 0h3m-2 0h3m-2 0h3m-1 0h3m1 0h3m-2 0h3m-84 1h3m3 0h3m-1 0h3m-1 0h3m-2 0h3m-2 0h3m-2 0h3m-2 0h3m-2 0h3m-1 0h3m1 0h3m-1 0h3m-2 0h3m-2 0h3m-2 0h3m-2 0h3m-1 0h3m-2 0h3m1 0h3m-1 0h3m-2 0h3m4 0h3m-2 0h3m-2 0h3m-2 0h3m-2 0h3m-1 0h3m-2 0h3m-2 0h3m-2 0h3m-2 0h3m-2 0h3m-2 0h3m-1 0h3m-2 0h3m-2 0h3m1 0h3m0 0h3m0 0h3m-1 0h3m-2 0h3m-2 0h3m4 0h3m-2 0h3m-87 1h3m1 0h3m1 0h3m-2 0h3m0 0h3m2 0h3m-2 0h3m-2 0h3m-2 0h3m-1 0h3m-1 0h3m-2 0h3m-2 0h3m-2 0h3m-2 0h3m-2 0h3m-2 0h3m-1 0h3m0 0h3m-2 0h3m1 0h3m0 0h3m0 0h3m-1 0h3m-1 0h3m-2 0h3m-1 0h3m-2 0h3m-1 0h3m-1 0h3m-2 0h3m-2 0h3m-2 0h3m-2 0h3m-2 0h3m-1 0h3m-2 0h3m-2 0h3m-2 0h3m-1 0h3m-2 0h3m-1 0h3m-2 0h3m-2 0h3m-2 0h3m-1 0h3m-2 0h3m-2 0h3m0 0h3m-2 0h3m-1 0h3m-85 1h3m-2 0h3m-2 0h3m-2 0h3m-2 0h3m-2 0h3m-1 0h3m-2 0h3m-1 0h3m-2 0h3m0 0h3m-2 0h3m-2 0h3m-2 0h3m-1 0h3m-2 0h3m-2 0h3m0 0h3m-1 0h3m-2 0h3m0 0h3m0 0h3m4 0h3m-2 0h3m-2 0h3m-2 0h3m-2 0h3m-1 0h3m-2 0h3m-1 0h3m-2 0h3m-2 0h3m-2 0h3m1 0h3m-2 0h3m-2 0h3m-2 0h3m0 0h3m-2 0h3m-1 0h3m-2 0h3m-2 0h3m-2 0h3m-2 0h3m2 0h3m-2 0h3m0 0h3m-2 0h3m-1 0h3m-104 1h3m5 0h3m9 0h3m-2 0h3m0 0h3m-1 0h3m-2 0h3m-1 0h3m0 0h3m-2 0h3m-2 0h3m-2 0h3m-1 0h3m-2 0h3m-2 0h3m-2 0h3m-2 0h3m-2 0h3m-2 0h3m-2 0h3m0 0h3m-2 0h3m-1 0h3m0 0h3m1 0h3m-1 0h3m-2 0h3m-1 0h3m-2 0h3m-1 0h3m-1 0h3m-1 0h3m-2 0h3m-2 0h3m-2 0h3m-1 0h3m-2 0h3m-2 0h3m-2 0h3m-2 0h3m-2 0h3m-2 0h3m-1 0h3m-2 0h3m-1 0h3m0 0h3m-1 0h3m-2 0h3m0 0h3m-1 0h3m-95 1h3m6 0h3m5 0h3m-2 0h3m-2 0h3m-2 0h3m-2 0h3m0 0h3m-2 0h3m-1 0h3m-2 0h3m-2 0h3m-2 0h3m-2 0h3m-2 0h3m-1 0h3m-2 0h3m-1 0h3m-2 0h3m-1 0h3m-1 0h3m5 0h3m-2 0h3m-2 0h3m-2 0h3m-2 0h3m1 0h3m-2 0h3m-2 0h3m-2 0h3m-1 0h3m0 0h3m-2 0h3m-2 0h3m-1 0h3m-2 0h3m-2 0h3m-2 0h3m-1 0h3m-2 0h3m-2 0h3m-2 0h3m-1 0h3m-1 0h3m-2 0h3m-2 0h3m-2 0h3m0 0h3m2 0h3m-2 0h3m0 0h3m-88 1h3m-2 0h3m-2 0h3m1 0h3m-1 0h3m-2 0h3m-2 0h3m-2 0h3m-2 0h3m-2 0h3m-2 0h3m-2 0h3m-2 0h3m-2 0h3m-1 0h3m-2 0h3m-2 0h3m-2 0h3m-2 0h3m-1 0h3m-2 0h3m-2 0h3m0 0h3m-2 0h3m-1 0h3m-1 0h3m-2 0h3m-1 0h3m-2 0h3m5 0h3m-2 0h3m-2 0h3m-2 0h3m-2 0h3m0 0h3m-2 0h3m0 0h3m-1 0h3m-2 0h3m-2 0h3m1 0h3m-1 0h3m-2 0h3m-1 0h3m-1 0h3m-2 0h3m0 0h3m-2 0h3m0 0h3m-88 1h3m-2 0h3m-2 0h3m-2 0h3m0 0h3m-2 0h3m-2 0h3m-2 0h3m-2 0h3m-2 0h3m-2 0h3m-2 0h3m-1 0h3m0 0h3m-2 0h3m-2 0h3m-2 0h3m-2 0h3m-2 0h3m0 0h3m-2 0h3m-1 0h3m2 0h3m0 0h3m6 0h3m-2 0h3m-2 0h3m-2 0h3m-2 0h3m-2 0h3m-2 0h3m-1 0h3m-2 0h3m-1 0h3m-2 0h3m0 0h3m-1 0h3m-1 0h3m-2 0h3m-2 0h3m-2 0h3m-1 0h3m-2 0h3m0 0h3m-2 0h3m-2 0h3m-2 0h3m-2 0h3m-2 0h3m0 0h3m-91 1h3m5 0h3m0 0h3m-2 0h3m1 0h3m-2 0h3m-2 0h3m-2 0h3m-2 0h3m-1 0h3m-2 0h3m-2 0h3m-2 0h3m-2 0h3m-2 0h3m-2 0h3m-2 0h3m-2 0h3m-1 0h3m-2 0h3m-2 0h3m-1 0h3m-1 0h3m-1 0h3m-1 0h3m-1 0h3m-1 0h3m-1 0h3m-1 0h3m0 0h3m1 0h3m-2 0h3m0 0h3m-2 0h3m-2 0h3m0 0h3m-2 0h3m-1 0h3m0 0h3m-2 0h3m-2 0h3m-2 0h3m-2 0h3m-2 0h3m-2 0h3m-2 0h3m-2 0h3m-2 0h3m-1 0h3m-2 0h3m-2 0h3m-2 0h3m-1 0h3m-2 0h3m1 0h3m-94 1h3m4 0h3m-1 0h3m-2 0h3m-1 0h3m-2 0h3m-2 0h3m-2 0h3m-2 0h3m-2 0h3m-1 0h3m-2 0h3m-2 0h3m-2 0h3m-2 0h3m-2 0h3m-2 0h3m-1 0h3m2 0h3m-2 0h3m-1 0h3m1 0h3m1 0h3m5 0h3m-1 0h3m-2 0h3m-2 0h3m-1 0h3m-2 0h3m-1 0h3m-1 0h3m-1 0h3m-2 0h3m-2 0h3m-2 0h3m-2 0h3m-2 0h3m-1 0h3m-2 0h3m-1 0h3m0 0h3m-2 0h3m-1 0h3m-2 0h3m-2 0h3m0 0h3m-2 0h3m-2 0h3m-94 1h3m0 0h3m4 0h3m-2 0h3m0 0h3m-1 0h3m-2 0h3m0 0h3m-2 0h3m0 0h3m-1 0h3m-2 0h3m-2 0h3m-2 0h3m-2 0h3m-2 0h3m-1 0h3m-2 0h3m-2 0h3m-2 0h3m-1 0h3m-2 0h3m-2 0h3m-2 0h3m-2 0h3m-1 0h3m0 0h3m-2 0h3m-2 0h3m5 0h3m-2 0h3m-2 0h3m-2 0h3m-2 0h3m-2 0h3m-2 0h3m-2 0h3m0 0h3m-2 0h3m-2 0h3m-2 0h3m-1 0h3m-2 0h3m0 0h3m-2 0h3m-2 0h3m-1 0h3m-2 0h3m-2 0h3m-2 0h3m-2 0h3m-2 0h3m-1 0h3m-2 0h3m1 0h3m-2 0h3m-110 1h3m13 0h3m3 0h3m-1 0h3m-1 0h3m-1 0h3m-2 0h3m-2 0h3m-2 0h3m-2 0h3m-2 0h3m-2 0h3m-2 0h3m-2 0h3m-2 0h3m-1 0h3m-2 0h3m-2 0h3m-2 0h3m0 0h3m-2 0h3m-2 0h3m-2 0h3m-2 0h3m-2 0h3m-2 0h3m-2 0h3m-2 0h3m-2 0h3m-1 0h3m-2 0h3m2 0h3m3 0h3m-1 0h3m-2 0h3m-2 0h3m-2 0h3m-2 0h3m-2 0h3m-2 0h3m-2 0h3m-2 0h3m0 0h3m-2 0h3m-2 0h3m-2 0h3m-2 0h3m-2 0h3m-1 0h3m0 0h3m-2 0h3m-2 0h3m-1 0h3m-2 0h3m-2 0h3m-2 0h3m-2 0h3m-2 0h3m-2 0h3m-2 0h3m-2 0h3m-1 0h3m-98 1h3m6 0h3m-2 0h3m0 0h3m-2 0h3m-2 0h3m-2 0h3m-2 0h3m-1 0h3m-2 0h3m-2 0h3m-2 0h3m-2 0h3m-2 0h3m-2 0h3m-2 0h3m-2 0h3m-2 0h3m-2 0h3m-2 0h3m-2 0h3m-2 0h3m1 0h3m-2 0h3m-1 0h3m-1 0h3m-2 0h3m1 0h3m0 0h3m-2 0h3m-2 0h3m7 0h3m-2 0h3m-2 0h3m-2 0h3m-2 0h3m-1 0h3m2 0h3m-2 0h3m0 0h3m-2 0h3m-2 0h3m-2 0h3m-2 0h3m0 0h3m-2 0h3m-2 0h3m-2 0h3m-2 0h3m-2 0h3m-1 0h3m-104 1h3m10 0h3m1 0h3m-1 0h3m-2 0h3m3 0h3m-2 0h3m-2 0h3m-2 0h3m-2 0h3m-2 0h3m-2 0h3m-2 0h3m-2 0h3m-2 0h3m-1 0h3m-2 0h3m-2 0h3m-2 0h3m-2 0h3m-2 0h3m-2 0h3m-2 0h3m0 0h3m-1 0h3m-1 0h3m0 0h3m-2 0h3m-2 0h3m2 0h3m0 0h3m-2 0h3m2 0h3m-2 0h3m-1 0h3m-2 0h3m-2 0h3m-1 0h3m-2 0h3m-2 0h3m-2 0h3m-2 0h3m-2 0h3m-2 0h3m-2 0h3m-2 0h3m0 0h3m0 0h3m-2 0h3m-2 0h3m1 0h3m-2 0h3m-2 0h3m1 0h3m-2 0h3m-101 1h3m2 0h3m0 0h3m0 0h3m0 0h3m-2 0h3m-2 0h3m-2 0h3m-2 0h3m-2 0h3m-2 0h3m-2 0h3m-1 0h3m-2 0h3m-2 0h3m-2 0h3m-2 0h3m-2 0h3m-2 0h3m-2 0h3m-2 0h3m-2 0h3m-2 0h3m-2 0h3m-2 0h3m-2 0h3m-2 0h3m-2 0h3m-2 0h3m-2 0h3m-2 0h3m-2 0h3m0 0h3m-1 0h3m-2 0h3m7 0h3m4 0h3m-2 0h3m-2 0h3m-2 0h3m0 0h3m-1 0h3m-1 0h3m-2 0h3m-2 0h3m-2 0h3m-1 0h3m-1 0h3m-2 0h3m-2 0h3m-2 0h3m-2 0h3m-2 0h3m-2 0h3m-2 0h3m-2 0h3m-2 0h3m-2 0h3m-2 0h3m-2 0h3m-1 0h3m-2 0h3m-103 1h3m-1 0h3m8 0h3m-2 0h3m-1 0h3m-2 0h3m-1 0h3m-1 0h3m-2 0h3m-2 0h3m-2 0h3m-2 0h3m-1 0h3m-2 0h3m-2 0h3m-2 0h3m-2 0h3m-2 0h3m-2 0h3m-2 0h3m-2 0h3m-1 0h3m-2 0h3m-1 0h3m-2 0h3m-2 0h3m-2 0h3m-2 0h3m-1 0h3m-2 0h3m-2 0h3m-2 0h3m-1 0h3m12 0h3m-1 0h3m-2 0h3m-2 0h3m0 0h3m-2 0h3m-2 0h3m-2 0h3m-1 0h3m-2 0h3m-2 0h3m-2 0h3m-1 0h3m-2 0h3m-2 0h3m-2 0h3m-2 0h3m-2 0h3m-2 0h3m-2 0h3m-2 0h3m-2 0h3m-1 0h3m-2 0h3m-1 0h3m-2 0h3m-1 0h3m-102 1h3m1 0h3m3 0h3m-2 0h3m-2 0h3m0 0h3m-2 0h3m-1 0h3m-2 0h3m0 0h3m-2 0h3m-2 0h3m-2 0h3m-2 0h3m-2 0h3m-2 0h3m-2 0h3m-2 0h3m-2 0h3m-2 0h3m-2 0h3m-2 0h3m-2 0h3m-1 0h3m-2 0h3m-2 0h3m-2 0h3m-2 0h3m-1 0h3m-2 0h3m-1 0h3m-1 0h3m-1 0h3m6 0h3m5 0h3m0 0h3m-2 0h3m-1 0h3m-2 0h3m-2 0h3m-2 0h3m2 0h3m-2 0h3m-2 0h3m-2 0h3m-2 0h3m-2 0h3m-1 0h3m-2 0h3m-2 0h3m-2 0h3m-1 0h3m-2 0h3m-2 0h3m0 0h3m-2 0h3m1 0h3m-117 1h3m18 0h3m-1 0h3m-2 0h3m-2 0h3m-2 0h3m-2 0h3m1 0h3m-2 0h3m-2 0h3m-1 0h3m-2 0h3m-1 0h3m-2 0h3m-2 0h3m-2 0h3m-1 0h3m-2 0h3m-2 0h3m-2 0h3m-1 0h3m-2 0h3m-1 0h3m-2 0h3m-2 0h3m-2 0h3m-2 0h3m-2 0h3m-2 0h3m-2 0h3m-2 0h3m0 0h3m-1 0h3m9 0h3m1 0h3m-2 0h3m-2 0h3m-2 0h3m-1 0h3m-1 0h3m-2 0h3m-2 0h3m-2 0h3m-2 0h3m-2 0h3m-2 0h3m1 0h3m0 0h3m0 0h3m-2 0h3m-1 0h3m-2 0h3m1 0h3m-2 0h3m-107 1h3m1 0h3m1 0h3m0 0h3m-2 0h3m-2 0h3m-2 0h3m-2 0h3m-2 0h3m-2 0h3m-2 0h3m-1 0h3m-1 0h3m-2 0h3m-2 0h3m-2 0h3m-1 0h3m-2 0h3m-2 0h3m-2 0h3m-2 0h3m-2 0h3m-1 0h3m-2 0h3m-2 0h3m-2 0h3m-1 0h3m-2 0h3m-2 0h3m-2 0h3m-2 0h3m-2 0h3m-2 0h3m-2 0h3m-2 0h3m-2 0h3m1 0h3m-2 0h3m-1 0h3m2 0h3m2 0h3m-2 0h3m-1 0h3m-2 0h3m-2 0h3m-1 0h3m-2 0h3m-2 0h3m-1 0h3m-2 0h3m-2 0h3m-2 0h3m-2 0h3m-2 0h3m-1 0h3m-2 0h3m-2 0h3m-2 0h3m-2 0h3m-1 0h3m-2 0h3m-1 0h3m-2 0h3m-2 0h3m-2 0h3m-1 0h3m-2 0h3m-2 0h3m-2 0h3m-2 0h3m-104 1h3m-2 0h3m8 0h3m2 0h3m-2 0h3m-2 0h3m-2 0h3m-2 0h3m-1 0h3m-2 0h3m-2 0h3m-2 0h3m-2 0h3m-2 0h3m-2 0h3m-2 0h3m-2 0h3m-2 0h3m-2 0h3m-2 0h3m-2 0h3m-2 0h3m-2 0h3m-2 0h3m-1 0h3m-2 0h3m-2 0h3m-2 0h3m-2 0h3m-1 0h3m-2 0h3m-2 0h3m-2 0h3m0 0h3m-1 0h3m-2 0h3m13 0h3m-2 0h3m-2 0h3m-2 0h3m-2 0h3m-2 0h3m-2 0h3m-2 0h3m-2 0h3m-2 0h3m-2 0h3m-2 0h3m-1 0h3m-2 0h3m-2 0h3m1 0h3m-1 0h3m0 0h3m0 0h3m-1 0h3m-101 1h3m-2 0h3m1 0h3m-1 0h3m0 0h3m-2 0h3m-2 0h3m-2 0h3m-2 0h3m-1 0h3m-2 0h3m-2 0h3m-2 0h3m-2 0h3m-2 0h3m-2 0h3m-2 0h3m-2 0h3m-2 0h3m-2 0h3m-1 0h3m-2 0h3m-2 0h3m-2 0h3m-2 0h3m-2 0h3m-2 0h3m-2 0h3m-2 0h3m-2 0h3m-2 0h3m-2 0h3m0 0h3m-1 0h3m-2 0h3m0 0h3m-1 0h3m14 0h3m0 0h3m-1 0h3m0 0h3m-2 0h3m-2 0h3m-2 0h3m-1 0h3m-2 0h3m-2 0h3m-2 0h3m-2 0h3m-2 0h3m-2 0h3m-1 0h3m-2 0h3m-2 0h3m-2 0h3m-1 0h3m-2 0h3m-1 0h3m0 0h3m-113 1h3m2 0h3m8 0h3m0 0h3m-1 0h3m-2 0h3m-1 0h3m-2 0h3m-2 0h3m-2 0h3m-2 0h3m-2 0h3m-2 0h3m-2 0h3m-2 0h3m-2 0h3m-1 0h3m-2 0h3m-2 0h3m-2 0h3m-2 0h3m-2 0h3m-2 0h3m-2 0h3m-2 0h3m-2 0h3m-2 0h3m-2 0h3m-2 0h3m-2 0h3m-2 0h3m-1 0h3m1 0h3m-1 0h3m-2 0h3m-1 0h3m-2 0h3m2 0h3m7 0h3m-2 0h3m0 0h3m-2 0h3m-2 0h3m2 0h3m-2 0h3m-1 0h3m-2 0h3m-2 0h3m-2 0h3m-2 0h3m-2 0h3m-2 0h3m-2 0h3m-1 0h3m-2 0h3m-2 0h3m-2 0h3m-2 0h3m-1 0h3m-2 0h3m-2 0h3m-1 0h3m-137 1h3m27 0h3m7 0h3m-2 0h3m-1 0h3m3 0h3m-2 0h3m-2 0h3m-2 0h3m-2 0h3m-2 0h3m-2 0h3m-2 0h3m-2 0h3m-2 0h3m-2 0h3m-2 0h3m-1 0h3m-2 0h3m-2 0h3m-2 0h3m-2 0h3m-2 0h3m-2 0h3m-2 0h3m-1 0h3m-2 0h3m-2 0h3m-2 0h3m-1 0h3m-1 0h3m-2 0h3m1 0h3m-1 0h3m15 0h3m-1 0h3m-2 0h3m-1 0h3m0 0h3m-2 0h3m-1 0h3m-2 0h3m-1 0h3m-2 0h3m-2 0h3m-2 0h3m-1 0h3m-2 0h3m-1 0h3m-2 0h3m-2 0h3m-2 0h3m-2 0h3m-1 0h3m-2 0h3m-2 0h3m0 0h3m-106 1h3m-2 0h3m1 0h3m-2 0h3m-2 0h3m-2 0h3m-1 0h3m-2 0h3m1 0h3m-2 0h3m-2 0h3m-2 0h3m-1 0h3m-2 0h3m-2 0h3m-2 0h3m-1 0h3m-1 0h3m-2 0h3m-2 0h3m-2 0h3m-2 0h3m-2 0h3m-2 0h3m-2 0h3m-2 0h3m-1 0h3m-2 0h3m-1 0h3m-2 0h3m-2 0h3m-2 0h3m-2 0h3m-2 0h3m-2 0h3m1 0h3m-1 0h3m16 0h3m-2 0h3m-2 0h3m-2 0h3m-1 0h3m-2 0h3m-2 0h3m-2 0h3m-2 0h3m0 0h3m-2 0h3m-2 0h3m-1 0h3m-2 0h3m-2 0h3m-1 0h3m-2 0h3m-1 0h3m-1 0h3m-2 0h3m-2 0h3m-2 0h3m-103 1h3m-2 0h3m-2 0h3m3 0h3m0 0h3m-1 0h3m-2 0h3m-1 0h3m-1 0h3m-2 0h3m-2 0h3m-2 0h3m-2 0h3m-2 0h3m-2 0h3m-2 0h3m-2 0h3m-1 0h3m-2 0h3m-1 0h3m-2 0h3m-2 0h3m-2 0h3m-2 0h3m-2 0h3m-2 0h3m-2 0h3m-2 0h3m-2 0h3m-2 0h3m-1 0h3m-2 0h3m-2 0h3m1 0h3m-2 0h3m5 0h3m8 0h3m-2 0h3m-1 0h3m-1 0h3m-2 0h3m-2 0h3m-2 0h3m-2 0h3m-2 0h3m-1 0h3m-2 0h3m-2 0h3m-2 0h3m-1 0h3m0 0h3m-2 0h3m1 0h3m1 0h3m-2 0h3m-100 1h3m4 0h3m-1 0h3m-2 0h3m-1 0h3m-2 0h3m-2 0h3m-2 0h3m-2 0h3m-2 0h3m-2 0h3m-2 0h3m-2 0h3m-2 0h3m-2 0h3m-2 0h3m-2 0h3m-2 0h3m-2 0h3m-2 0h3m-2 0h3m-2 0h3m-2 0h3m-2 0h3m-2 0h3m-2 0h3m-2 0h3m-2 0h3m-2 0h3m-2 0h3m-2 0h3m-1 0h3m-1 0h3m-1 0h3m-2 0h3m-2 0h3m-1 0h3m-1 0h3m3 0h3m10 0h3m-2 0h3m-1 0h3m0 0h3m-1 0h3m-1 0h3m-2 0h3m-2 0h3m-2 0h3m-2 0h3m-2 0h3m-2 0h3m-2 0h3m-2 0h3m-2 0h3m-2 0h3m-2 0h3m-2 0h3m-2 0h3m-2 0h3m-2 0h3m0 0h3m0 0h3m-109 1h3m1 0h3m-1 0h3m-1 0h3m-2 0h3m0 0h3m-2 0h3m-2 0h3m-2 0h3m0 0h3m-2 0h3m-2 0h3m-2 0h3m-2 0h3m-2 0h3m-2 0h3m-2 0h3m-2 0h3m-2 0h3m-2 0h3m-2 0h3m-2 0h3m-2 0h3m-1 0h3m-2 0h3m-2 0h3m-2 0h3m-2 0h3m-1 0h3m-1 0h3m-2 0h3m-2 0h3m-1 0h3m-2 0h3m0 0h3m1 0h3m6 0h3m9 0h3m1 0h3m-2 0h3m1 0h3m-2 0h3m-2 0h3m-2 0h3m-1 0h3m-2 0h3m-1 0h3m-2 0h3m-2 0h3m-2 0h3m-2 0h3m-2 0h3m-1 0h3m-1 0h3m-1 0h3m0 0h3m-2 0h3m-112 1h3m5 0h3m0 0h3m1 0h3m-2 0h3m-2 0h3m-1 0h3m-2 0h3m-2 0h3m-2 0h3m-2 0h3m-2 0h3m-1 0h3m-2 0h3m-2 0h3m-2 0h3m-2 0h3m-2 0h3m-2 0h3m-2 0h3m-2 0h3m-2 0h3m-2 0h3m-2 0h3m-2 0h3m-2 0h3m-2 0h3m-2 0h3m-2 0h3m-2 0h3m-1 0h3m-2 0h3m-2 0h3m-2 0h3m-2 0h3m-2 0h3m-2 0h3m0 0h3m-2 0h3m-2 0h3m-2 0h3m19 0h3m-2 0h3m-1 0h3m-2 0h3m-1 0h3m-2 0h3m-2 0h3m-2 0h3m-1 0h3m-2 0h3m-1 0h3m1 0h3m-2 0h3m-1 0h3m-1 0h3m-2 0h3m-1 0h3m-125 1h3m17 0h3m-2 0h3m-1 0h3m1 0h3m0 0h3m1 0h3m-1 0h3m-2 0h3m-2 0h3m-2 0h3m-2 0h3m-2 0h3m-2 0h3m-2 0h3m-2 0h3m-2 0h3m-2 0h3m-2 0h3m-2 0h3m-2 0h3m-2 0h3m-1 0h3m-2 0h3m-2 0h3m-2 0h3m-2 0h3m-2 0h3m-2 0h3m-2 0h3m-1 0h3m-2 0h3m-1 0h3m-2 0h3m-2 0h3m1 0h3m-2 0h3m-1 0h3m6 0h3m8 0h3m0 0h3m-1 0h3m-1 0h3m-1 0h3m-2 0h3m-2 0h3m-2 0h3m-2 0h3m-2 0h3m-2 0h3m-2 0h3m-2 0h3m-2 0h3m-2 0h3m-2 0h3m-2 0h3m-2 0h3m-1 0h3m0 0h3m-2 0h3m-2 0h3m-2 0h3m-106 1h3m-2 0h3m5 0h3m-2 0h3m-2 0h3m-2 0h3m-1 0h3m-2 0h3m-2 0h3m-2 0h3m-1 0h3m-2 0h3m-2 0h3m-2 0h3m-2 0h3m-2 0h3m-2 0h3m-2 0h3m-2 0h3m-2 0h3m-2 0h3m-2 0h3m-2 0h3m-1 0h3m-2 0h3m-2 0h3m-2 0h3m-2 0h3m-2 0h3m1 0h3m-2 0h3m0 0h3m-2 0h3m0 0h3m3 0h3m2 0h3m11 0h3m-2 0h3m-1 0h3m-2 0h3m-2 0h3m-2 0h3m-2 0h3m-2 0h3m-1 0h3m-2 0h3m-2 0h3m-2 0h3m-1 0h3m-2 0h3m-1 0h3m-1 0h3m0 0h3m-1 0h3m0 0h3m-117 1h3m5 0h3m3 0h3m1 0h3m-2 0h3m-1 0h3m-2 0h3m1 0h3m0 0h3m-2 0h3m-2 0h3m-2 0h3m-2 0h3m-2 0h3m-2 0h3m-2 0h3m-2 0h3m-2 0h3m-2 0h3m-2 0h3m-2 0h3m-2 0h3m-2 0h3m-2 0h3m-2 0h3m-1 0h3m-2 0h3m-2 0h3m-2 0h3m-1 0h3m-1 0h3m-1 0h3m0 0h3m-1 0h3m0 0h3m10 0h3m5 0h3m-1 0h3m-1 0h3m-1 0h3m-2 0h3m-2 0h3m-2 0h3m-2 0h3m-2 0h3m-2 0h3m-2 0h3m0 0h3m-2 0h3m-2 0h3m-2 0h3m-2 0h3m-2 0h3m-2 0h3m-2 0h3m-1 0h3m-2 0h3m-1 0h3m2 0h3m-120 1h3m7 0h3m2 0h3m1 0h3m1 0h3m-2 0h3m-2 0h3m-2 0h3m-1 0h3m-2 0h3m-2 0h3m-2 0h3m-2 0h3m-2 0h3m-2 0h3m-2 0h3m-2 0h3m-2 0h3m-2 0h3m-2 0h3m-1 0h3m-2 0h3m-1 0h3m-2 0h3m-2 0h3m-1 0h3m-1 0h3m-2 0h3m-2 0h3m4 0h3m-1 0h3m19 0h3m0 0h3m-2 0h3m-2 0h3m-2 0h3m-2 0h3m-2 0h3m-2 0h3m-2 0h3m-2 0h3m-2 0h3m-2 0h3m-2 0h3m-2 0h3m-2 0h3m-2 0h3m-1 0h3m-1 0h3m-2 0h3m-1 0h3m-1 0h3m-2 0h3m-129 1h3m5 0h3m11 0h3m0 0h3m-1 0h3m1 0h3m-1 0h3m-2 0h3m-2 0h3m3 0h3m-2 0h3m-2 0h3m-2 0h3m-2 0h3m-2 0h3m-2 0h3m-2 0h3m-2 0h3m-2 0h3m-2 0h3m-2 0h3m1 0h3m-2 0h3m-2 0h3m-2 0h3m-2 0h3m-1 0h3m-2 0h3m-2 0h3m-2 0h3m-2 0h3m-2 0h3m1 0h3m-1 0h3m-2 0h3m-2 0h3m-1 0h3m3 0h3m16 0h3m-2 0h3m-2 0h3m-1 0h3m-1 0h3m-2 0h3m-2 0h3m-2 0h3m-2 0h3m-2 0h3m-2 0h3m-2 0h3m-2 0h3m-2 0h3m-1 0h3m-2 0h3m-2 0h3m0 0h3m-2 0h3m-2 0h3m-2 0h3m-1 0h3m-115 1h3m10 0h3m3 0h3m-2 0h3m-2 0h3m0 0h3m-2 0h3m-2 0h3m-1 0h3m-2 0h3m-2 0h3m-2 0h3m-2 0h3m-2 0h3m-2 0h3m-2 0h3m-2 0h3m-2 0h3m-2 0h3m-2 0h3m-2 0h3m-2 0h3m-1 0h3m1 0h3m-1 0h3m-2 0h3m-1 0h3m0 0h3m-1 0h3m24 0h3m-2 0h3m-1 0h3m-2 0h3m0 0h3m-1 0h3m-2 0h3m-2 0h3m-1 0h3m-2 0h3m-2 0h3m-2 0h3m-2 0h3m-1 0h3m-2 0h3m0 0h3m-2 0h3m0 0h3m-1 0h3m-118 1h3m0 0h3m2 0h3m1 0h3m-1 0h3m0 0h3m-1 0h3m-1 0h3m-2 0h3m-2 0h3m-2 0h3m-2 0h3m-2 0h3m-2 0h3m-2 0h3m-1 0h3m-1 0h3m-2 0h3m-2 0h3m-2 0h3m-2 0h3m-2 0h3m-2 0h3m-2 0h3m-1 0h3m-2 0h3m-2 0h3m-2 0h3m-2 0h3m-1 0h3m-2 0h3m0 0h3m-1 0h3m0 0h3m5 0h3m17 0h3m-2 0h3m-2 0h3m-1 0h3m-1 0h3m-2 0h3m-2 0h3m-2 0h3m-2 0h3m-2 0h3m-2 0h3m-2 0h3m-2 0h3m-2 0h3m-2 0h3m-1 0h3m1 0h3m-1 0h3m-1 0h3m-2 0h3m-2 0h3m-2 0h3m-1 0h3m-118 1h3m3 0h3m-2 0h3m-2 0h3m1 0h3m0 0h3m1 0h3m-2 0h3m-2 0h3m-1 0h3m-2 0h3m-2 0h3m-2 0h3m-2 0h3m-2 0h3m-2 0h3m-1 0h3m-1 0h3m-2 0h3m-2 0h3m-2 0h3m1 0h3m-2 0h3m-2 0h3m-2 0h3m-2 0h3m-1 0h3m-2 0h3m-1 0h3m-1 0h3m-1 0h3m-2 0h3m5 0h3m0 0h3m19 0h3m-2 0h3m0 0h3m-2 0h3m1 0h3m-1 0h3m-2 0h3m-2 0h3m-2 0h3m-1 0h3m-1 0h3m4 0h3m0 0h3m-125 1h3m6 0h3m2 0h3m-1 0h3m3 0h3m-1 0h3m-2 0h3m-2 0h3m-2 0h3m-1 0h3m-2 0h3m-2 0h3m-2 0h3m-1 0h3m-2 0h3m-2 0h3m-2 0h3m-2 0h3m-2 0h3m-2 0h3m-2 0h3m-2 0h3m-2 0h3m-2 0h3m-2 0h3m1 0h3m-2 0h3m-2 0h3m-1 0h3m-2 0h3m1 0h3m0 0h3m-2 0h3m-2 0h3m-2 0h3m2 0h3m-1 0h3m15 0h3m2 0h3m0 0h3m-2 0h3m-2 0h3m-1 0h3m-1 0h3m-2 0h3m-2 0h3m-2 0h3m-2 0h3m-1 0h3m-2 0h3m-2 0h3m-2 0h3m0 0h3m1 0h3m-2 0h3m-2 0h3m-122 1h3m-2 0h3m0 0h3m-1 0h3m1 0h3m5 0h3m-2 0h3m-2 0h3m-2 0h3m-1 0h3m2 0h3m-1 0h3m-1 0h3m-2 0h3m-2 0h3m-2 0h3m-2 0h3m-1 0h3m-2 0h3m-1 0h3m-2 0h3m-2 0h3m-2 0h3m-2 0h3m-2 0h3m-2 0h3m-2 0h3m-2 0h3m-2 0h3m-1 0h3m-1 0h3m1 0h3m-1 0h3m-1 0h3m1 0h3m3 0h3m19 0h3m-2 0h3m-1 0h3m-2 0h3m0 0h3m-1 0h3m-2 0h3m-2 0h3m-1 0h3m-2 0h3m-2 0h3m0 0h3m-2 0h3m-2 0h3m-2 0h3m0 0h3m-116 1h3m1 0h3m-1 0h3m-2 0h3m0 0h3m-2 0h3m-2 0h3m-1 0h3m6 0h3m0 0h3m-1 0h3m-2 0h3m-2 0h3m-2 0h3m-2 0h3m-2 0h3m-2 0h3m-2 0h3m-2 0h3m-1 0h3m-1 0h3m-2 0h3m-2 0h3m0 0h3m-1 0h3m7 0h3m27 0h3m-1 0h3m-2 0h3m-2 0h3m-2 0h3m-2 0h3m-2 0h3m-2 0h3m-2 0h3m-2 0h3m-2 0h3m-2 0h3m-2 0h3m1 0h3m-2 0h3m-1 0h3m-2 0h3m-1 0h3m-2 0h3m2 0h3m-131 1h3m3 0h3m-1 0h3m2 0h3m-1 0h3m-2 0h3m3 0h3m0 0h3m-2 0h3m-2 0h3m-2 0h3m-2 0h3m-2 0h3m-1 0h3m-1 0h3m-1 0h3m-2 0h3m-2 0h3m-2 0h3m-2 0h3m-2 0h3m-2 0h3m-2 0h3m-2 0h3m-2 0h3m-2 0h3m-2 0h3m-2 0h3m-2 0h3m-1 0h3m-1 0h3m-2 0h3m-2 0h3m-2 0h3m-2 0h3m-2 0h3m-2 0h3m1 0h3m-1 0h3m32 0h3m-1 0h3m-2 0h3m-1 0h3m-2 0h3m-2 0h3m-2 0h3m-2 0h3m-1 0h3m-2 0h3m-2 0h3m-1 0h3m-2 0h3m-2 0h3m-1 0h3m-1 0h3m0 0h3m-122 1h3m1 0h3m-2 0h3m0 0h3m-2 0h3m-1 0h3m-1 0h3m-1 0h3m-1 0h3m-2 0h3m-1 0h3m0 0h3m2 0h3m-1 0h3m-2 0h3m-2 0h3m-1 0h3m-2 0h3m-2 0h3m-1 0h3m0 0h3m-1 0h3m-2 0h3m-2 0h3m-2 0h3m0 0h3m-2 0h3m-2 0h3m-1 0h3m-1 0h3m-2 0h3m-2 0h3m3 0h3m1 0h3m-2 0h3m25 0h3m-2 0h3m-2 0h3m0 0h3m-2 0h3m-2 0h3m-2 0h3m-1 0h3m-2 0h3m-1 0h3m0 0h3m-2 0h3m-2 0h3m-2 0h3m1 0h3m-123 1h3m-2 0h3m-1 0h3m1 0h3m-1 0h3m-2 0h3m-2 0h3m6 0h3m-2 0h3m-2 0h3m-2 0h3m-1 0h3m-1 0h3m-2 0h3m-2 0h3m-2 0h3m-2 0h3m-1 0h3m-2 0h3m-2 0h3m-2 0h3m-1 0h3m-2 0h3m-2 0h3m-1 0h3m-2 0h3m1 0h3m-2 0h3m0 0h3m-2 0h3m-2 0h3m-2 0h3m-1 0h3m-2 0h3m-1 0h3m10 0h3m21 0h3m-2 0h3m-2 0h3m-2 0h3m-2 0h3m-2 0h3m-1 0h3m-2 0h3m-2 0h3m-2 0h3m-1 0h3m0 0h3m-2 0h3m-1 0h3m-116 1h3m1 0h3m-1 0h3m-1 0h3m5 0h3m-1 0h3m0 0h3m-1 0h3m-2 0h3m-2 0h3m1 0h3m-2 0h3m-1 0h3m-2 0h3m-2 0h3m-1 0h3m0 0h3m0 0h3m0 0h3m-2 0h3m0 0h3m-2 0h3m-1 0h3m1 0h3m2 0h3m27 0h3m-2 0h3m-2 0h3m-2 0h3m-2 0h3m-2 0h3m0 0h3m-2 0h3m-2 0h3m-2 0h3m-2 0h3m-2 0h3m-2 0h3m0 0h3m-2 0h3m-2 0h3m-2 0h3m-2 0h3m-2 0h3m-2 0h3m1 0h3m-125 1h3m5 0h3m3 0h3m-1 0h3m1 0h3m-2 0h3m-2 0h3m-2 0h3m0 0h3m-1 0h3m-2 0h3m-2 0h3m-1 0h3m-2 0h3m-2 0h3m-2 0h3m-2 0h3m-2 0h3m-2 0h3m-2 0h3m-2 0h3m-2 0h3m-1 0h3m-1 0h3m-2 0h3m-1 0h3m-1 0h3m3 0h3m40 0h3m1 0h3m-2 0h3m-2 0h3m-2 0h3m-2 0h3m-2 0h3m-2 0h3m-2 0h3m-2 0h3m-1 0h3m-2 0h3m-2 0h3m-2 0h3m-2 0h3m-1 0h3m3 0h3m-128 1h3m1 0h3m8 0h3m0 0h3m-2 0h3m1 0h3m3 0h3m-2 0h3m-2 0h3m-1 0h3m-2 0h3m-2 0h3m-1 0h3m-1 0h3m-2 0h3m-2 0h3m-2 0h3m-1 0h3m1 0h3m-1 0h3m-2 0h3m-2 0h3m-2 0h3m-1 0h3m1 0h3m-1 0h3m5 0h3m25 0h3m0 0h3m-2 0h3m-2 0h3m-2 0h3m-2 0h3m-1 0h3m-2 0h3m-2 0h3m-2 0h3m-1 0h3m-2 0h3m-1 0h3m-1 0h3m-2 0h3m-117 1h3m2 0h3m2 0h3m0 0h3m2 0h3m-1 0h3m-2 0h3m-2 0h3m-1 0h3m2 0h3m-2 0h3m-2 0h3m-2 0h3m4 0h3m-2 0h3m-2 0h3m-2 0h3m-2 0h3m-2 0h3m-2 0h3m-2 0h3m-1 0h3m-2 0h3m2 0h3m-1 0h3m32 0h3m1 0h3m-1 0h3m-2 0h3m-2 0h3m-2 0h3m-2 0h3m-2 0h3m0 0h3m-2 0h3m0 0h3m-2 0h3m-2 0h3m-1 0h3m-2 0h3m-2 0h3m-123 1h3m0 0h3m8 0h3m-2 0h3m-1 0h3m0 0h3m1 0h3m0 0h3m2 0h3m-1 0h3m-2 0h3m-1 0h3m-2 0h3m-1 0h3m0 0h3m-2 0h3m5 0h3m3 0h3m26 0h3m9 0h3m-1 0h3m-2 0h3m-2 0h3m2 0h3m-2 0h3m-2 0h3m-2 0h3m-1 0h3m-1 0h3m-2 0h3m1 0h3m-1 0h3m-2 0h3m-135 1h3m1 0h3m4 0h3m0 0h3m2 0h3m10 0h3m-2 0h3m-2 0h3m0 0h3m-1 0h3m-2 0h3m1 0h3m-2 0h3m-1 0h3m-2 0h3m-2 0h3m-2 0h3m-2 0h3m1 0h3m-2 0h3m-2 0h3m-2 0h3m1 0h3m8 0h3m-2 0h3m33 0h3m-2 0h3m-2 0h3m-2 0h3m-1 0h3m-2 0h3m-2 0h3m-2 0h3m-2 0h3m-2 0h3m-2 0h3m-2 0h3m-2 0h3m-2 0h3m-1 0h3m-2 0h3m-2 0h3m-117 1h3m8 0h3m5 0h3m1 0h3m-1 0h3m0 0h3m0 0h3m-1 0h3m-2 0h3m-1 0h3m-2 0h3m-2 0h3m-2 0h3m-2 0h3m2 0h3m0 0h3m0 0h3m0 0h3m1 0h3m2 0h3m26 0h3m-2 0h3m-1 0h3m-1 0h3m-2 0h3m-2 0h3m-2 0h3m-2 0h3m-2 0h3m-2 0h3m-1 0h3m-2 0h3m-2 0h3m0 0h3m-2 0h3m-2 0h3m-1 0h3m-2 0h3m-2 0h3m-2 0h3m-105 1h3m-1 0h3m7 0h3m-2 0h3m0 0h3m-2 0h3m-1 0h3m-2 0h3m1 0h3m54 0h3m-2 0h3m1 0h3m-2 0h3m-2 0h3m-2 0h3m-2 0h3m-2 0h3m-2 0h3m-2 0h3m-2 0h3m0 0h3m-2 0h3m-2 0h3m1 0h3m-105 1h3m0 0h3m-2 0h3m1 0h3m-2 0h3m1 0h3m1 0h3m-1 0h3m-2 0h3m0 0h3m-1 0h3m-1 0h3m47 0h3m-2 0h3m-1 0h3m-2 0h3m0 0h3m0 0h3m-2 0h3m-2 0h3m0 0h3m-2 0h3m-2 0h3m-2 0h3m-2 0h3m-120 1h3m8 0h3m1 0h3m0 0h3m-2 0h3m-1 0h3m2 0h3m-1 0h3m-1 0h3m7 0h3m0 0h3m0 0h3m-2 0h3m5 0h3m9 0h3m30 0h3m-2 0h3m0 0h3m-2 0h3m-2 0h3m-2 0h3m-2 0h3m-2 0h3m-2 0h3m-2 0h3m-2 0h3m0 0h3m-2 0h3m-2 0h3m-1 0h3m-2 0h3m1 0h3m-127 1h3m12 0h3m12 0h3m2 0h3m0 0h3m5 0h3m2 0h3m5 0h3m37 0h3m-1 0h3m1 0h3m-2 0h3m-1 0h3m-2 0h3m0 0h3m-2 0h3m-2 0h3m-2 0h3m-2 0h3m-1 0h3m-2 0h3m-113 1h3m4 0h3m4 0h3m1 0h3m-2 0h3m17 0h3m6 0h3m19 0h3m16 0h3m0 0h3m-2 0h3m0 0h3m-1 0h3m-2 0h3m-1 0h3m-2 0h3m-2 0h3m-2 0h3m-2 0h3m-1 0h3m-2 0h3m-116 1h3m12 0h3m0 0h3m0 0h3m2 0h3m-2 0h3m2 0h3m62 0h3m1 0h3m-1 0h3m-1 0h3m-1 0h3m-2 0h3m-2 0h3m-2 0h3m4 0h3m-124 1h3m1 0h3m8 0h3m4 0h3m-1 0h3m-2 0h3m-1 0h3m-1 0h3m2 0h3m0 0h3m-1 0h3m-1 0h3m-2 0h3m0 0h3m53 0h3m-2 0h3m-2 0h3m-2 0h3m-2 0h3m-2 0h3m0 0h3m-2 0h3m-1 0h3m-2 0h3m-2 0h3m-2 0h3m-2 0h3m-2 0h3m-2 0h3m-127 1h3m2 0h3m0 0h3m5 0h3m0 0h3m7 0h3m3 0h3m1 0h3m-1 0h3m-1 0h3m7 0h3m4 0h3m24 0h3m18 0h3m-1 0h3m-2 0h3m-2 0h3m-2 0h3m-2 0h3m-2 0h3m-2 0h3m-2 0h3m-2 0h3m-1 0h3m-1 0h3m-2 0h3m-2 0h3m0 0h3m-1 0h3m-112 1h3m2 0h3m1 0h3m0 0h3m-1 0h3m8 0h3m13 0h3m43 0h3m1 0h3m-2 0h3m-1 0h3m-2 0h3m-2 0h3m-2 0h3m-2 0h3m-2 0h3m-2 0h3m-2 0h3m-2 0h3m-2 0h3m0 0h3m-2 0h3m-122 1h3m16 0h3m10 0h3m5 0h3m17 0h3m32 0h3m5 0h3m0 0h3m-2 0h3m-2 0h3m-2 0h3m-2 0h3m-2 0h3m-1 0h3m-1 0h3m-2 0h3m3 0h3m-89 1h3m21 0h3m40 0h3m1 0h3m-2 0h3m-2 0h3m-1 0h3m-2 0h3m-2 0h3m-2 0h3m3 0h3m-2 0h3m5 0h3m-112 1h3m8 0h3m4 0h3m63 0h3m0 0h3m-2 0h3m-2 0h3m0 0h3m-1 0h3m12 0h3m-117 1h3m21 0h3m21 0h3m46 0h3m-2 0h3m-2 0h3m0 0h3m-97 1h3m47 0h3m0 0h3m24 0h3m-1 0h3m1 0h3m-2 0h3m-2 0h3m-2 0h3m-1 0h3m11 0h3m-116 1h3m16 0h3m40 0h3m5 0h3m5 0h3m9 0h3m1 0h3m0 0h3m-2 0h3m-1 0h3m2 0h3m-112 1h3m14 0h3m39 0h3m37 0h3m-2 0h3m-1 0h3m8 0h3m-71 1h3m9 0h3m0 0h3m28 0h3m10 0h3m1 0h3m-77 1h3m35 0h3m0 0h3m-2 0h3m19 0h3m-2 0h3m-1 0h3m6 0h3m-2 0h3m8 0h3m-138 1h3m12 0h3m51 0h3m36 0h3m1 0h3m-74 1h3m10 0h3m36 0h3m9 0h3m-99 1h3m1 0h3m48 0h3m12 0h3m-1 0h3m-2 0h3m10 0h3m8 0h3m4 0h3m-1 0h3m-119 1h3m20 0h3m28 0h3m0 0h3m14 0h3m38 0h3m14 0h3m-58 1h3m43 0h3m-134 1h3m30 0h3m34 0h3m-18 1h3m13 0h3m0 0h3m12 0h3m17 0h3m34 0h3m-147 1h3m127 0h3m-93 1h3m19 0h3m15 0h3m-1 0h3m1 0h3m-2 0h3m20 0h3m-40 1h3m28 0h3m1 0h3m11 0h3m-120 1h3m66 0h3m47 0h3m10 0h3m-134 1h3m52 0h3m3 0h3m40 0h3m1 0h3m0 0h3m19 0h3m-105 1h3m33 0h3m17 0h3m10 0h3m-49 1h3m32 0h3m50 0h3m-85 1h3m2 0h3m36 0h3m-62 1h3m55 0h3m-11 1h3m-37 1h3m0 1h3m37 2h3m3 1h3m2 1h3m22 3h3m-107 1h3m27 2h3" stroke="#999999" stroke-width="2.8" fill="none"/>
<path d="M517 1410h3m9 0h3m-26 4h3m1 0h3m10 0h3m-22 1h3m5 0h3m-2 0h3m0 0h3m-14 1h3m14 0h3m-1 0h3m-21 1h3m1 0h3m4 0h3m3 0h3m-13 1h3m2 0h3m16 0h3m-45 1h3m-1 0h3m-2 0h3m-2 0h3m3 0h3m5 0h3m-20 1h3m3 0h3m5 0h3m-24 1h3m2 0h3m7 0h3m4 0h3m-12 1h3m0 0h3m-2 0h3m7 0h3m-2 0h3m2 0h3m-51 1h3m31 0h3m-2 0h3m5 0h3m4 0h3m-27 1h3m7 0h3m0 0h3m-2 0h3m-1 0h3m10 0h3m-28 1h3m-2 0h3m0 0h3m5 0h3m-19 1h3m6 0h3m-10 1h3m2 0h3m-1 0h3m-1 0h3m-2 0h3m-2 0h3m0 0h3m0 0h3m-21 1h3m9 0h3m1 0h3m-22 1h3m2 0h3m3 0h3m0 0h3m3 0h3m-2 0h3m-34 1h3m5 0h3m-1 0h3m3 0h3m-2 0h3m2 0h3m3 0h3m1 0h3m-31 1h3m2 0h3m-1 0h3m-1 0h3m-2 0h3m-1 0h3m7 0h3m0 0h3m-25 1h3m6 0h3m-2 0h3m1 0h3m1 0h3m-2 0h3m-2 0h3m-24 1h3m2 0h3m-2 0h3m-1 0h3m0 0h3m-2 0h3m7 0h3m-31 1h3m4 0h3m-1 0h3m-1 0h3m1 0h3m1 0h3m1 0h3m-9 1h3m2 0h3m-27 1h3m6 0h3m0 0h3m0 0h3m-1 0h3m-2 0h3m1 0h3m2 0h3m-26 1h3m3 0h3m0 0h3m2 0h3m-8 1h3m-2 0h3m-1 0h3m3 0h3m1 0h3m1 0h3m-45 1h3m24 0h3m-2 0h3m3 0h3m-22 1h3m18 0h3m-2 0h3m-25 1h3m-2 0h3m11 0h3m-11 1h3m0 0h3m9 0h3m-14 1h3m-8 1h3m1 0h3m2 0h3m-1 0h3m-5 1h3m-19 2h3m-1 0h3m22 0h3m-23 1h3m2 0h3m10 0h3m-33 1h3m-5 1h3m6 0h3m-8 1h3m13 0h3m-17 3h3m-16 3h3m38 3h3m-45 2h3m12 0h3m2 1h3m-32 1h3m24 0h3m3 2h3m9 0h3m-28 2h3m23 0h3m-15 2h3m-24 2h3m12 0h3m15 0h3m-26 1h3m12 2h3m-42 1h3m66 1h3m-40 4h3m-20 5h3m9 0h3" stroke="#22c322" stroke-width="2.9" fill="none"/>
<rect x="454.1" y="1394" width="71.7" height="111.6" fill="none" stroke="#111" stroke-width="1.3"/>
<rect x="530.3" y="1394" width="54" height="113.1" fill="none" stroke="#111" stroke-width="1.3"/>
<text x="453.2" y="1385.8" font-size="16.5" fill="#111">Dpp4<tspan dy="-6" font-size="10.5">Low/–</tspan></text>
<text x="535.5" y="1385.8" font-size="16.5" fill="#111">Dpp4<tspan dy="-6" font-size="10.5">Hi</tspan></text>
<text x="394.7" y="1558.9" font-size="16.5" class="k" textLength="98.4" lengthAdjust="spacingAndGlyphs" transform="rotate(-90 394.7 1558.9)">CD34-eF660</text>
<line x1="387.1" y1="1452.9" x2="387.1" y2="1366.9" stroke="#000" stroke-width="1.6"/>
<path d="M387.1 1349.9L380.6 1367.9L393.6 1367.9Z" fill="#000"/>
<text x="418.2" y="1599.4" font-size="16.5" class="k" textLength="106.7" lengthAdjust="spacingAndGlyphs">Dpp4-PE-Cy7</text>
<line x1="541" y1="1594.3" x2="606.3" y2="1594.3" stroke="#000" stroke-width="1.6"/>
<path d="M623.3 1594.3L605.3 1587.8L605.3 1600.8Z" fill="#000"/>
<text x="683.2" y="1343.2" font-size="26" class="k" textLength="229.3" lengthAdjust="spacingAndGlyphs">ADAM12-GFP mice</text>
<text x="937.5" y="1343.2" font-size="26" class="k" textLength="166.8" lengthAdjust="spacingAndGlyphs">WT littermate</text>
<rect x="690.2" y="1353.2" width="207.6" height="207.4" fill="#fff" stroke="#7d7d7d" stroke-width="1.2"/>
<path d="M711.9 1560.6v5.5M754.3 1560.6v5.5M795.9 1560.6v5.5M837.9 1560.6v5.5M879.2 1560.6v5.5" stroke="#111" stroke-width="1.3" fill="none"/>
<path d="M724.7 1560.6v3.0M732.1 1560.6v3.0M737.4 1560.6v3.0M741.5 1560.6v3.0M744.9 1560.6v3.0M747.7 1560.6v3.0M750.2 1560.6v3.0M752.4 1560.6v3.0M766.8 1560.6v3.0M774.1 1560.6v3.0M779.3 1560.6v3.0M783.4 1560.6v3.0M786.7 1560.6v3.0M789.5 1560.6v3.0M791.9 1560.6v3.0M794 1560.6v3.0M808.5 1560.6v3.0M815.9 1560.6v3.0M821.2 1560.6v3.0M825.3 1560.6v3.0M828.6 1560.6v3.0M831.4 1560.6v3.0M833.8 1560.6v3.0M836 1560.6v3.0M850.3 1560.6v3.0M857.6 1560.6v3.0M862.8 1560.6v3.0M866.8 1560.6v3.0M870 1560.6v3.0M872.8 1560.6v3.0M875.2 1560.6v3.0M877.3 1560.6v3.0M891.6 1560.6v3.0M690.3 1560.6v3.0M695.5 1560.6v3.0M699.5 1560.6v3.0M702.7 1560.6v3.0M705.5 1560.6v3.0M707.9 1560.6v3.0M710 1560.6v3.0" stroke="#222" stroke-width="0.9" fill="none"/>
<path d="M690.2 1371.2h-5.5M690.2 1412.7h-5.5M690.2 1454.7h-5.5M690.2 1496h-5.5M690.2 1538h-5.5" stroke="#111" stroke-width="1.3" fill="none"/>
<path d="M690.2 1525.4h-3.0M690.2 1518h-3.0M690.2 1512.7h-3.0M690.2 1508.6h-3.0M690.2 1505.3h-3.0M690.2 1502.5h-3.0M690.2 1500.1h-3.0M690.2 1497.9h-3.0M690.2 1483.6h-3.0M690.2 1476.3h-3.0M690.2 1471.1h-3.0M690.2 1467.1h-3.0M690.2 1463.9h-3.0M690.2 1461.1h-3.0M690.2 1458.7h-3.0M690.2 1456.6h-3.0M690.2 1442.1h-3.0M690.2 1434.7h-3.0M690.2 1429.4h-3.0M690.2 1425.3h-3.0M690.2 1422h-3.0M690.2 1419.2h-3.0M690.2 1416.8h-3.0M690.2 1414.6h-3.0M690.2 1400.2h-3.0M690.2 1392.9h-3.0M690.2 1387.7h-3.0M690.2 1383.7h-3.0M690.2 1380.4h-3.0M690.2 1377.6h-3.0M690.2 1375.2h-3.0M690.2 1373.1h-3.0M690.2 1358.7h-3.0M690.2 1559.7h-3.0M690.2 1554.5h-3.0M690.2 1550.5h-3.0M690.2 1547.2h-3.0M690.2 1544.4h-3.0M690.2 1542h-3.0M690.2 1539.9h-3.0" stroke="#222" stroke-width="0.9" fill="none"/>
<text x="680.2" y="1375.2" font-size="8.5" text-anchor="end" fill="#111">10<tspan dy="-3.8" font-size="6.8">5</tspan></text>
<text x="680.2" y="1416.7" font-size="8.5" text-anchor="end" fill="#111">10<tspan dy="-3.8" font-size="6.8">4</tspan></text>
<text x="680.2" y="1458.7" font-size="8.5" text-anchor="end" fill="#111">10<tspan dy="-3.8" font-size="6.8">3</tspan></text>
<text x="680.2" y="1500" font-size="8.5" text-anchor="end" fill="#111">10<tspan dy="-3.8" font-size="6.8">2</tspan></text>
<text x="680.2" y="1542" font-size="8.5" text-anchor="end" fill="#111">10<tspan dy="-3.8" font-size="6.8">1</tspan></text>
<path d="M805 1402h1m-22 3h1m9 0h1m-13 3h1m10 0h1m-6 2h1m-7 1h1m14 0h1m-10 2h1m0 0h1m5 2h1m1 1h1m21 0h1m-32 1h1m-13 3h1m10 0h1m6 0h1m-8 1h1m4 0h1m-9 1h1m6 0h1m3 0h1m2 0h1m14 1h1m0 0h1m-38 1h1m16 0h1m-21 1h1m13 0h1m6 0h1m3 0h1m7 0h1m9 0h1m-24 1h1m2 0h1m2 0h1m0 0h1m0 0h1m-14 1h1m13 0h1m1 0h1m8 0h1m-36 1h1m2 0h1m6 0h1m12 0h1m1 0h1m7 0h1m-25 1h1m3 0h1m12 0h1m0 0h1m4 0h1m-34 1h1m2 0h1m38 0h1m-17 1h1m-37 1h1m11 0h1m23 0h1m3 0h1m3 0h1m-27 1h1m-1 1h1m17 0h1m-24 1h1m23 1h1m4 0h1m1 0h1m12 0h1m-73 1h1m28 0h1m-8 1h1m1 0h1m0 0h1m-12 1h1m40 0h1m6 0h1m-38 1h1m0 0h1m3 0h1m24 0h1m5 0h1m-36 1h1m32 0h1m3 0h1m25 0h1m-85 1h1m3 0h1m9 0h1m4 0h1m0 0h1m32 0h1m-53 1h1m15 0h1m-19 1h1m10 0h1m2 0h1m-21 3h1m12 0h1m2 0h1m50 0h1m-56 1h1m61 0h1m-61 1h1m50 0h1m-59 1h1m0 0h1m0 0h1m-3 1h1m57 0h1m-70 1h1m10 0h1m-20 1h1m75 0h1m2 0h1m2 0h1m-87 1h1m80 1h1m-67 1h1m5 0h1m0 0h1m-3 1h1m60 0h1m3 0h1m2 0h1m12 0h1m-88 1h1m6 0h1m-5 1h1m63 0h1m15 0h1m-89 3h1m74 0h1m-65 1h1m1 0h1m61 0h1m-65 1h1m62 0h1m2 0h1m0 0h1m-70 1h1m64 0h1m-69 1h1m69 0h1m-73 2h1m77 0h1m-84 1h1m8 0h1m0 0h1m63 0h1m0 0h1m-77 1h1m7 0h1m66 0h1m2 0h1m9 0h1m-14 1h1m6 0h1m-71 1h1m2 0h1m69 0h1m-76 1h1m2 0h1m60 0h1m-59 1h1m55 0h1m0 0h1m3 0h1m-64 1h1m66 0h1m3 0h1m-75 1h1m5 0h1m53 0h1m-57 1h1m2 0h1m50 0h1m3 0h1m-54 1h1m47 1h1m2 0h1m7 0h1m3 0h1m-61 1h1m41 0h1m26 0h1m-72 1h1m6 0h1m35 0h1m-52 1h1m4 0h1m3 0h1m9 0h1m30 0h1m-39 1h1m33 0h1m2 0h1m16 0h1m-54 1h1m5 0h1m27 0h1m7 0h1m1 0h1m-44 1h1m10 0h1m22 0h1m7 0h1m-38 1h1m1 0h1m3 0h1m3 0h1m1 0h1m2 0h1m0 0h1m0 0h1m4 0h1m-40 1h1m18 0h1m14 0h1m2 0h1m2 0h1m11 0h1m-41 1h1m15 0h1m3 0h1m6 0h1m-34 1h1m41 1h1m-43 1h1m4 0h1m8 0h1m0 2h1m4 0h1m20 0h1m7 2h1m-3 3h1m-49 8h1m65 0h1" stroke="#373cd9" stroke-width="1.1" fill="none"/>
<path d="M795 1428h1m-2 2h1m1 0h1m0 0h1m1 0h1m-8 1h1m1 0h1m0 0h1m3 0h1m-12 1h1m5 0h1m6 0h1m-14 1h1m0 0h1m7 0h1m1 0h1m1 0h1m-15 1h1m2 0h1m2 0h1m-5 1h1m0 0h1m0 0h1m0 0h1m3 0h1m1 0h1m1 0h1m0 0h1m-14 1h1m0 0h1m5 0h1m0 0h1m0 0h1m2 0h1m-13 1h1m0 0h1m1 0h1m0 0h1m6 0h1m0 0h1m2 0h1m-14 1h1m10 0h1m-16 1h1m3 0h1m11 0h1m0 0h1m-16 1h1m14 0h1m0 0h1m0 0h1m-19 1h1m14 0h1m1 0h1m2 0h1m-22 1h1m14 0h1m1 0h1m2 0h1m-29 1h1m2 0h1m2 0h1m2 0h1m0 0h1m12 0h1m2 0h1m1 0h1m0 0h1m1 0h1m-31 1h1m3 0h1m0 0h1m0 0h1m18 0h1m-29 1h1m3 0h1m21 0h1m2 0h1m3 0h1m-41 1h1m3 0h1m1 0h1m0 0h1m25 0h1m3 0h1m0 0h1m0 0h1m1 0h1m-43 1h1m0 0h1m2 0h1m4 0h1m2 0h1m26 0h1m2 0h1m-43 1h1m7 0h1m1 0h1m25 0h1m1 0h1m1 0h1m0 0h1m-39 1h1m3 0h1m32 0h1m0 0h1m1 0h1m-49 1h1m1 0h1m4 0h1m0 0h1m-10 1h1m1 0h1m2 0h1m2 0h1m37 0h1m0 0h1m0 0h1m0 0h1m-4 1h1m0 0h1m-49 1h1m5 0h1m40 0h1m2 0h1m1 0h1m-53 1h1m1 0h1m47 0h1m0 0h1m-50 1h1m45 0h1m-51 1h1m3 0h1m50 0h1m-56 1h1m0 0h1m51 0h1m0 0h1m-57 1h1m0 0h1m1 0h1m0 0h1m52 0h1m-5 1h1m1 0h1m-52 1h1m49 0h1m1 0h1m0 0h1m0 0h1m-56 1h1m50 0h1m1 0h1m0 1h1m1 0h1m-56 1h1m0 0h1m49 0h1m0 0h1m0 0h1m1 0h1m-5 1h1m3 0h1m-57 1h1m53 0h1m0 0h1m-59 1h1m0 0h1m0 0h1m1 0h1m0 0h1m-3 1h1m0 0h1m0 0h1m49 0h1m3 0h1m-60 1h1m2 0h1m1 0h1m47 0h1m0 0h1m-55 1h1m5 0h1m48 0h1m2 0h1m-59 1h1m1 0h1m3 0h1m46 0h1m-50 1h1m2 0h1m48 0h1m-52 1h1m2 0h1m42 0h1m0 0h1m1 0h1m-48 1h1m2 0h1m40 0h1m0 0h1m4 0h1m-53 1h1m1 0h1m0 0h1m1 0h1m39 0h1m1 0h1m2 0h1m0 0h1m-51 1h1m3 0h1m37 0h1m1 0h1m0 0h1m-39 1h1m33 0h1m0 0h1m0 0h1m3 0h1m-44 1h1m1 0h1m0 0h1m37 0h1m-44 1h1m4 0h1m1 0h1m0 0h1m26 0h1m0 0h1m3 0h1m0 0h1m-30 1h1m15 0h1m0 0h1m2 0h1m1 0h1m0 0h1m0 0h1m0 0h1m-33 1h1m3 0h1m1 0h1m0 0h1m17 0h1m0 0h1m2 0h1m0 0h1m0 0h1m-29 1h1m2 0h1m2 0h1m2 0h1m7 0h1m3 0h1m1 0h1m0 0h1m-22 1h1m1 0h1m0 0h1m1 0h1m3 0h1m5 0h1m1 0h1m1 0h1m3 0h1m-23 1h1m0 0h1m3 0h1m0 0h1m4 0h1m1 0h1m2 0h1m1 0h1m3 0h1m-12 1h1m0 0h1m5 0h1m0 0h1m-10 1h1m5 0h1m-1 1h1" stroke="#3140d2" stroke-width="1.1" fill="none"/>
<path d="M799 1436h1m-5 1h1m0 0h1m-6 1h1m0 0h1m1 0h1m1 0h1m0 0h1m1 0h1m0 0h1m-10 1h1m1 0h1m0 0h1m4 0h1m-8 1h1m1 0h1m1 0h1m0 0h1m0 0h1m1 0h1m-9 1h1m0 0h1m0 0h1m0 0h1m1 0h1m1 0h1m1 0h1m-11 1h1m0 0h1m0 0h1m0 0h1m1 0h1m1 0h1m0 0h1m-9 1h1m3 0h1m-9 1h1m0 0h1m0 0h1m2 0h1m1 0h1m1 0h1m0 0h1m0 0h1m1 0h1m-13 1h1m0 0h1m0 0h1m1 0h1m1 0h1m0 0h1m4 0h1m-16 1h1m0 0h1m3 0h1m1 0h1m2 0h1m1 0h1m0 0h1m0 0h1m0 0h1m-20 1h1m0 0h1m4 0h1m0 0h1m1 0h1m3 0h1m-18 1h1m1 0h1m1 0h1m2 0h1m0 0h1m1 0h1m10 0h1m1 0h1m0 0h1m-25 1h1m0 0h1m0 0h1m2 0h1m16 0h1m0 0h1m1 0h1m0 0h1m-32 1h1m0 0h1m4 0h1m1 0h1m21 0h1m1 0h1m-32 1h1m0 0h1m0 0h1m0 0h1m0 0h1m25 0h1m0 0h1m0 0h1m-39 1h1m4 0h1m2 0h1m0 0h1m29 0h1m-38 1h1m0 0h1m1 0h1m0 0h1m1 0h1m29 0h1m-40 1h1m1 0h1m0 0h1m-2 1h1m0 0h1m35 0h1m-39 1h1m0 0h1m0 0h1m34 0h1m0 0h1m1 0h1m-45 1h1m0 0h1m0 0h1m0 0h1m42 0h1m-48 1h1m0 0h1m1 0h1m0 0h1m39 0h1m-43 1h1m43 0h1m0 0h1m-46 1h1m1 0h1m39 0h1m0 0h1m-45 1h1m0 0h1m0 0h1m42 0h1m0 0h1m0 0h1m-48 1h1m0 0h1m0 0h1m0 0h1m-3 1h1m-1 1h1m0 0h1m0 0h1m42 0h1m0 0h1m0 0h1m-46 1h1m42 0h1m0 0h1m-47 1h1m0 0h1m43 0h1m0 0h1m-46 1h1m0 0h1m0 0h1m0 0h1m39 0h1m-46 1h1m0 0h1m2 0h1m1 0h1m35 1h1m0 0h1m-41 1h1m0 0h1m35 0h1m1 0h1m0 0h1m1 0h1m0 0h1m-43 1h1m0 0h1m34 0h1m0 0h1m0 0h1m-39 1h1m0 0h1m0 0h1m33 0h1m2 0h1m-38 1h1m33 0h1m3 0h1m-39 1h1m0 0h1m0 0h1m28 0h1m1 0h1m1 0h1m-36 1h1m0 0h1m0 0h1m0 0h1m27 0h1m-27 1h1m0 0h1m20 0h1m0 0h1m0 0h1m3 0h1m0 0h1m-32 1h1m0 0h1m3 0h1m3 0h1m3 0h1m8 0h1m1 0h1m3 0h1m0 0h1m-26 1h1m1 0h1m0 0h1m3 0h1m0 0h1m3 0h1m0 0h1m0 0h1m5 0h1m0 0h1m-19 1h1m2 0h1m1 0h1m0 0h1m0 0h1m0 0h1m0 0h1m0 0h1m0 0h1m-10 1h1m2 0h1m2 0h1m0 0h1m0 0h1m-5 1h1m1 0h1m0 0h1" stroke="#2b44cb" stroke-width="1.1" fill="none"/>
<path d="M789 1447h1m1 0h1m0 0h1m0 0h1m-5 1h1m0 0h1m0 0h1m0 0h1m0 0h1m1 0h1m0 0h1m-13 1h1m3 0h1m0 0h1m0 0h1m0 0h1m0 0h1m2 0h1m-14 1h1m1 0h1m1 0h1m1 0h1m0 0h1m0 0h1m0 0h1m0 0h1m1 0h1m1 0h1m0 0h1m0 0h1m1 0h1m-20 1h1m0 0h1m0 0h1m1 0h1m2 0h1m0 0h1m6 0h1m1 0h1m1 0h1m0 0h1m-24 1h1m0 0h1m1 0h1m1 0h1m0 0h1m0 0h1m0 0h1m4 0h1m-15 1h1m0 0h1m1 0h1m20 0h1m0 0h1m0 0h1m-34 1h1m3 0h1m0 0h1m0 0h1m0 0h1m0 0h1m22 0h1m0 0h1m-33 1h1m1 0h1m0 0h1m3 0h1m24 0h1m0 0h1m-31 1h1m28 0h1m0 0h1m-36 1h1m2 0h1m32 0h1m0 0h1m-38 1h1m0 0h1m34 0h1m0 0h1m-37 1h1m0 0h1m33 0h1m1 0h1m-39 1h1m0 0h1m34 0h1m0 0h1m-38 1h1m0 0h1m35 0h1m1 0h1m-41 1h1m0 0h1m0 0h1m34 0h1m0 0h1m0 0h1m0 0h1m-41 1h1m0 0h1m0 0h1m35 0h1m0 0h1m0 0h1m-41 1h1m1 0h1m35 0h1m1 0h1m-40 1h1m0 0h1m34 0h1m0 0h1m0 0h1m0 0h1m0 0h1m-40 1h1m0 0h1m33 0h1m0 0h1m-36 1h1m0 0h1m31 0h1m1 0h1m0 0h1m-37 1h1m0 0h1m30 0h1m0 0h1m0 0h1m0 0h1m0 0h1m-36 1h1m28 0h1m0 0h1m0 0h1m-32 1h1m28 0h1m-32 1h1m0 0h1m29 0h1m-31 1h1m0 0h1m1 0h1m23 0h1m0 0h1m0 0h1m-29 1h1m0 0h1m1 0h1m23 0h1m0 0h1m0 0h1m-29 1h1m1 0h1m1 0h1m0 0h1m3 0h1m0 0h1m5 0h1m0 0h1m1 0h1m3 0h1m0 0h1m1 0h1m0 0h1m-24 1h1m2 0h1m1 0h1m2 0h1m0 0h1m0 0h1m2 0h1m0 0h1m1 0h1m0 0h1m0 0h1m0 0h1m-20 1h1m0 0h1m0 0h1m2 0h1m1 0h1m0 0h1m2 0h1m2 0h1m1 0h1m0 0h1m1 0h1m-16 1h1m1 0h1m1 0h1" stroke="#2657ca" stroke-width="1.1" fill="none"/>
<path d="M792 1451h1m0 0h1m1 0h1m-14 1h1m5 0h1m1 0h1m3 0h1m0 0h1m0 0h1m1 0h1m0 0h1m0 0h1m-22 1h1m1 0h1m0 0h1m0 0h1m0 0h1m1 0h1m0 0h1m1 0h1m0 0h1m1 0h1m1 0h1m0 0h1m1 0h1m0 0h1m1 0h1m-20 1h1m1 0h1m0 0h1m0 0h1m0 0h1m1 0h1m1 0h1m0 0h1m0 0h1m0 0h1m1 0h1m0 0h1m1 0h1m-24 1h1m2 0h1m1 0h1m9 0h1m0 0h1m5 0h1m0 0h1m0 0h1m0 0h1m0 0h1m-30 1h1m3 0h1m2 0h1m0 0h1m18 0h1m0 0h1m0 0h1m-29 1h1m0 0h1m2 0h1m23 0h1m0 0h1m-32 1h1m0 0h1m1 0h1m0 0h1m23 0h1m0 0h1m0 0h1m0 0h1m-32 1h1m0 0h1m0 0h1m26 0h1m0 0h1m1 0h1m-34 1h1m0 0h1m0 0h1m27 0h1m0 0h1m0 0h1m0 0h1m-34 1h1m0 0h1m0 0h1m28 0h1m0 0h1m1 0h1m-35 1h1m0 0h1m0 0h1m27 0h1m0 0h1m0 0h1m-33 1h1m1 0h1m28 0h1m1 0h1m0 0h1m-35 1h1m0 0h1m0 0h1m28 0h1m0 0h1m1 0h1m-35 1h1m0 0h1m29 0h1m1 0h1m-4 1h1m1 0h1m0 0h1m-32 1h1m0 0h1m25 0h1m0 0h1m0 0h1m-29 1h1m24 0h1m-26 1h1m1 0h1m22 0h1m-25 1h1m0 0h1m20 0h1m0 0h1m-26 1h1m0 0h1m0 0h1m0 0h1m0 0h1m20 0h1m-24 1h1m0 0h1m0 0h1m0 0h1m0 0h1m8 0h1m7 0h1m0 0h1m-22 1h1m0 0h1m0 0h1m0 0h1m2 0h1m0 0h1m0 0h1m0 0h1m0 0h1m2 0h1m0 0h1m3 0h1m0 0h1m0 0h1m0 0h1m0 0h1m-20 1h1m0 0h1m3 0h1m0 0h1m0 0h1m0 0h1m0 0h1m2 0h1m1 0h1" stroke="#2179cf" stroke-width="1.1" fill="none"/>
<path d="M782 1454h1m4 0h1m6 0h1m-14 1h1m0 0h1m0 0h1m0 0h1m0 0h1m0 0h1m2 0h1m2 0h1m1 0h1m0 0h1m0 0h1m-16 1h1m0 0h1m0 0h1m0 0h1m0 0h1m0 0h1m2 0h1m0 0h1m0 0h1m0 0h1m0 0h1m0 0h1m0 0h1m0 0h1m0 0h1m0 0h1m-24 1h1m0 0h1m1 0h1m1 0h1m5 0h1m4 0h1m2 0h1m0 0h1m1 0h1m0 0h1m-23 1h1m0 0h1m0 0h1m0 0h1m16 0h1m0 0h1m-22 1h1m0 0h1m19 0h1m0 0h1m-26 1h1m0 0h1m0 0h1m0 0h1m0 0h1m19 0h1m0 0h1m0 0h1m-27 1h1m0 0h1m1 0h1m21 0h1m0 0h1m0 0h1m-27 1h1m22 0h1m0 0h1m0 0h1m-27 1h1m0 0h1m21 0h1m0 0h1m0 0h1m0 0h1m0 0h1m-28 1h1m0 0h1m21 0h1m0 0h1m0 0h1m0 0h1m0 0h1m-29 1h1m0 0h1m0 0h1m21 0h1m0 0h1m0 0h1m0 0h1m-27 1h1m0 0h1m20 0h1m0 0h1m-23 1h1m0 0h1m0 0h1m0 0h1m18 0h1m0 0h1m0 0h1m-24 1h1m2 0h1m16 0h1m0 0h1m0 0h1m-24 1h1m1 0h1m0 0h1m0 0h1m15 0h1m0 0h1m0 0h1m0 0h1m-21 1h1m1 0h1m0 0h1m3 0h1m2 0h1m0 0h1m2 0h1m0 0h1m0 0h1m0 0h1m0 0h1m-19 1h1m0 0h1m0 0h1m1 0h1m0 0h1m0 0h1m0 0h1m0 0h1m0 0h1m0 0h1m0 0h1m0 0h1m0 0h1m0 0h1m0 0h1m0 0h1m0 0h1m0 0h1m-17 1h1m0 0h1m0 0h1m0 0h1m0 0h1m0 0h1m1 0h1m1 0h1m0 0h1m0 0h1m0 0h1m0 0h1m0 0h1" stroke="#219bc6" stroke-width="1.1" fill="none"/>
<path d="M783 1457h1m1 0h1m1 0h1m0 0h1m1 0h1m1 0h1m-11 1h1m0 0h1m0 0h1m0 0h1m0 0h1m1 0h1m0 0h1m0 0h1m0 0h1m0 0h1m0 0h1m0 0h1m0 0h1m-18 1h1m1 0h1m0 0h1m1 0h1m0 0h1m0 0h1m0 0h1m0 0h1m0 0h1m0 0h1m0 0h1m0 0h1m0 0h1m0 0h1m0 0h1m0 0h1m0 0h1m-19 1h1m0 0h1m0 0h1m0 0h1m0 0h1m0 0h1m0 0h1m1 0h1m0 0h1m0 0h1m0 0h1m0 0h1m0 0h1m0 0h1m0 0h1m0 0h1m0 0h1m0 0h1m-19 1h1m0 0h1m0 0h1m0 0h1m5 0h1m0 0h1m0 0h1m1 0h1m0 0h1m0 0h1m0 0h1m0 0h1m0 0h1m-21 1h1m0 0h1m0 0h1m0 0h1m0 0h1m8 0h1m0 0h1m0 0h1m0 0h1m0 0h1m0 0h1m0 0h1m-21 1h1m0 0h1m0 0h1m0 0h1m0 0h1m0 0h1m8 0h1m1 0h1m0 0h1m0 0h1m0 0h1m0 0h1m-21 1h1m0 0h1m1 0h1m0 0h1m0 0h1m9 0h1m0 0h1m1 0h1m0 0h1m0 0h1m-20 1h1m0 0h1m0 0h1m0 0h1m0 0h1m8 0h1m0 0h1m0 0h1m0 0h1m0 0h1m0 0h1m0 0h1m-21 1h1m0 0h1m0 0h1m0 0h1m0 0h1m0 0h1m0 0h1m7 0h1m0 0h1m0 0h1m0 0h1m0 0h1m0 0h1m-16 1h1m0 0h1m0 0h1m7 0h1m0 0h1m0 0h1m0 0h1m0 0h1m0 0h1m-16 1h1m0 0h1m0 0h1m0 0h1m0 0h1m0 0h1m0 0h1m0 0h1m0 0h1m0 0h1m0 0h1m0 0h1m0 0h1m1 0h1m0 0h1m-16 1h1m0 0h1m0 0h1m0 0h1m0 0h1m0 0h1m0 0h1m0 0h1m0 0h1m0 0h1m0 0h1m0 0h1m0 0h1m0 0h1m0 0h1m-12 1h1m0 0h1m1 0h1m0 0h1m2 0h1m0 0h1" stroke="#27bbad" stroke-width="1.1" fill="none"/>
<path d="M785 1460h1m-4 1h1m0 0h1m0 0h1m0 0h1m0 0h1m-6 1h1m0 0h1m0 0h1m0 0h1m1 0h1m0 0h1m0 0h1m-8 1h1m1 0h1m0 0h1m0 0h1m0 0h1m0 0h1m0 0h1m-8 1h1m0 0h1m0 0h1m0 0h1m0 0h1m0 0h1m0 0h1m-7 1h1m0 0h1m0 0h1m0 0h1m0 0h1m0 0h1m0 0h1m-6 1h1m0 0h1m0 0h1m0 0h1m0 0h1m0 0h1m-5 1h1m0 0h1m0 0h1m0 0h1m0 0h1m0 0h1" stroke="#34c476" stroke-width="1.1" fill="none"/>
<rect x="744.5" y="1392.9" width="97.8" height="50.1" fill="none" stroke="#111" stroke-width="1.4"/>
<text x="840.2" y="1385.9" font-size="19" text-anchor="end" class="k">5.2</text>
<rect x="905.5" y="1353.2" width="208.1" height="207.4" fill="#fff" stroke="#7d7d7d" stroke-width="1.2"/>
<path d="M927.4 1560.6v5.5M969.4 1560.6v5.5M1011 1560.6v5.5M1053 1560.6v5.5M1095 1560.6v5.5" stroke="#111" stroke-width="1.3" fill="none"/>
<path d="M940 1560.6v3.0M947.4 1560.6v3.0M952.7 1560.6v3.0M956.8 1560.6v3.0M960.1 1560.6v3.0M962.9 1560.6v3.0M965.3 1560.6v3.0M967.5 1560.6v3.0M981.9 1560.6v3.0M989.2 1560.6v3.0M994.4 1560.6v3.0M998.5 1560.6v3.0M1001.8 1560.6v3.0M1004.6 1560.6v3.0M1007 1560.6v3.0M1009.1 1560.6v3.0M1023.6 1560.6v3.0M1031 1560.6v3.0M1036.3 1560.6v3.0M1040.4 1560.6v3.0M1043.7 1560.6v3.0M1046.5 1560.6v3.0M1048.9 1560.6v3.0M1051.1 1560.6v3.0M1065.6 1560.6v3.0M1073 1560.6v3.0M1078.3 1560.6v3.0M1082.4 1560.6v3.0M1085.7 1560.6v3.0M1088.5 1560.6v3.0M1090.9 1560.6v3.0M1093.1 1560.6v3.0M1107.6 1560.6v3.0M910.7 1560.6v3.0M914.8 1560.6v3.0M918.1 1560.6v3.0M920.9 1560.6v3.0M923.3 1560.6v3.0M925.5 1560.6v3.0" stroke="#222" stroke-width="0.9" fill="none"/>
<path d="M905.5 1371.2h-5.5M905.5 1412.7h-5.5M905.5 1454.7h-5.5M905.5 1496h-5.5M905.5 1538h-5.5" stroke="#111" stroke-width="1.3" fill="none"/>
<path d="M905.5 1525.4h-3.0M905.5 1518h-3.0M905.5 1512.7h-3.0M905.5 1508.6h-3.0M905.5 1505.3h-3.0M905.5 1502.5h-3.0M905.5 1500.1h-3.0M905.5 1497.9h-3.0M905.5 1483.6h-3.0M905.5 1476.3h-3.0M905.5 1471.1h-3.0M905.5 1467.1h-3.0M905.5 1463.9h-3.0M905.5 1461.1h-3.0M905.5 1458.7h-3.0M905.5 1456.6h-3.0M905.5 1442.1h-3.0M905.5 1434.7h-3.0M905.5 1429.4h-3.0M905.5 1425.3h-3.0M905.5 1422h-3.0M905.5 1419.2h-3.0M905.5 1416.8h-3.0M905.5 1414.6h-3.0M905.5 1400.2h-3.0M905.5 1392.9h-3.0M905.5 1387.7h-3.0M905.5 1383.7h-3.0M905.5 1380.4h-3.0M905.5 1377.6h-3.0M905.5 1375.2h-3.0M905.5 1373.1h-3.0M905.5 1358.7h-3.0M905.5 1559.7h-3.0M905.5 1554.5h-3.0M905.5 1550.5h-3.0M905.5 1547.2h-3.0M905.5 1544.4h-3.0M905.5 1542h-3.0M905.5 1539.9h-3.0" stroke="#222" stroke-width="0.9" fill="none"/>
<path d="M987 1429h1m-12 6h1m-1 1h1m8 0h1m-5 1h1m14 0h1m22 0h1m-37 1h1m6 0h1m-1 1h1m21 0h1m4 0h1m-40 1h1m2 0h1m37 0h1m3 0h1m-38 1h1m0 0h1m1 0h1m13 0h1m9 0h1m-40 1h1m23 0h1m0 0h1m9 0h1m31 0h1m-66 1h1m1 0h1m2 0h1m12 0h1m3 1h1m0 0h1m-26 1h1m2 0h1m0 0h1m19 0h1m0 0h1m12 0h1m7 0h1m0 0h1m-59 1h1m52 0h1m-48 1h1m50 0h1m5 0h1m-57 1h1m58 0h1m-60 1h1m85 1h1m-91 2h1m1 0h1m67 0h1m1 1h1m-6 1h1m9 1h1m-9 1h1m8 0h1m-14 1h1m7 0h1m-75 1h1m1 0h1m66 0h1m0 0h1m4 1h1m-82 1h1m5 0h1m67 1h1m3 0h1m1 1h1m-2 1h1m1 0h1m-78 1h1m99 0h1m-99 1h1m75 0h1m8 1h1m-11 1h1m-74 1h1m68 0h1m16 0h1m-90 1h1m72 0h1m-3 1h1m12 0h1m-82 1h1m75 0h1m-10 1h1m-71 1h1m3 1h1m63 0h1m7 1h1m-76 1h1m0 0h1m3 0h1m71 0h1m-78 1h1m4 1h1m1 0h1m58 0h1m-64 1h1m3 1h1m57 0h1m9 0h1m-64 1h1m48 0h1m3 1h1m11 0h1m-75 1h1m9 0h1m6 0h1m38 0h1m-48 1h1m1 0h1m16 0h1m25 0h1m-34 1h1m7 0h1m27 0h1m8 0h1m-71 1h1m21 0h1m5 0h1m22 0h1m0 0h1m-41 1h1m23 0h1m0 0h1m17 0h1m0 0h1m0 0h1m3 0h1m1 0h1m15 0h1m-45 1h1m16 0h1m-23 1h1m10 0h1m9 0h1m0 0h1m-36 1h1m14 0h1m7 0h1m11 0h1m-23 1h1m9 1h1m-2 1h1m6 0h1m-29 1h1m30 0h1m-38 1h1m34 0h1m36 0h1m-13 1h1m-41 1h1m5 0h1m13 3h1m23 17h1" stroke="#373cd9" stroke-width="1.1" fill="none"/>
<path d="M987 1442h1m-3 1h1m1 0h1m2 0h1m-5 1h1m0 0h1m4 0h1m-11 1h1m0 0h1m0 0h1m2 0h1m-5 1h1m8 0h1m3 0h1m5 0h1m1 0h1m0 0h1m2 0h1m-27 1h1m7 0h1m2 0h1m-21 1h1m2 0h1m1 0h1m16 0h1m5 0h1m0 0h1m2 0h1m0 0h1m1 0h1m1 0h1m1 0h1m0 0h1m8 0h1m-48 1h1m18 0h1m2 0h1m3 0h1m13 0h1m1 0h1m5 0h1m0 0h1m0 0h1m-55 1h1m49 0h1m0 0h1m0 0h1m-52 1h1m47 0h1m2 0h1m2 0h1m-57 1h1m52 0h1m-53 1h1m-1 1h1m-1 1h1m0 0h1m-3 1h1m1 0h1m52 0h1m2 1h1m-1 1h1m-58 1h1m56 0h1m1 0h1m-62 2h1m0 0h1m59 0h1m-63 1h1m62 0h1m-64 1h1m1 0h1m59 0h1m-64 2h1m2 0h1m59 0h1m0 0h1m-65 1h1m64 0h1m-3 1h1m0 0h1m-62 1h1m57 1h1m0 0h1m1 0h1m-1 1h1m1 0h1m0 0h1m-65 1h1m0 0h1m56 0h1m-57 1h1m57 0h1m-58 1h1m1 0h1m50 0h1m0 0h1m2 0h1m-56 1h1m-2 1h1m52 0h1m1 0h1m-55 1h1m0 1h1m0 0h1m4 0h1m-4 1h1m0 0h1m2 0h1m-5 1h1m2 0h1m2 0h1m-8 1h1m5 0h1m2 0h1m1 0h1m7 0h1m23 0h1m3 0h1m-43 1h1m0 0h1m34 0h1m1 0h1m0 0h1m-35 1h1m0 0h1m2 0h1m2 0h1m3 0h1m2 0h1m-11 1h1m7 0h1m0 0h1m2 0h1m0 0h1m1 0h1m1 0h1m0 0h1m3 0h1m2 0h1m-24 1h1m0 0h1m9 0h1m4 0h1m-9 1h1m8 0h1m-9 1h1m0 0h1m4 0h1m3 0h1m0 0h1" stroke="#3140d2" stroke-width="1.1" fill="none"/>
<path d="M985 1446h1m0 0h1m-3 1h1m3 0h1m-5 1h1m1 0h1m0 0h1m0 0h1m0 0h1m1 0h1m15 0h1m-27 1h1m1 0h1m6 0h1m13 0h1m0 0h1m1 0h1m2 0h1m1 0h1m-35 1h1m0 0h1m10 0h1m8 0h1m1 0h1m0 0h1m1 0h1m1 0h1m0 0h1m1 0h1m1 0h1m-21 1h1m1 0h1m0 0h1m5 0h1m0 0h1m3 0h1m2 0h1m0 0h1m0 0h1m-36 1h1m1 0h1m0 0h1m0 0h1m14 0h1m2 0h1m3 0h1m0 0h1m3 0h1m7 0h1m0 0h1m0 0h1m2 0h1m0 0h1m1 0h1m-50 1h1m0 0h1m0 0h1m0 0h1m37 0h1m7 0h1m-49 1h1m46 0h1m2 0h1m-3 1h1m1 0h1m-52 1h1m0 0h1m0 0h1m47 0h1m0 0h1m-1 1h1m-2 1h1m1 0h1m-52 1h1m50 0h1m0 0h1m-54 1h1m52 0h1m-54 1h1m53 0h1m-57 1h1m0 0h1m52 0h1m1 0h1m0 0h1m-56 1h1m54 0h1m-2 1h1m0 0h1m0 1h1m-59 1h1m0 0h1m54 0h1m0 0h1m-57 1h1m52 0h1m3 0h1m-58 1h1m55 0h1m0 0h1m-58 1h1m0 0h1m52 0h1m0 0h1m-57 1h1m1 0h1m-2 1h1m0 0h1m52 0h1m-53 1h1m2 1h1m4 0h1m-7 1h1m0 0h1m0 0h1m0 0h1m0 0h1m3 0h1m38 0h1m0 0h1m0 0h1m-48 1h1m1 0h1m1 0h1m1 0h1m38 0h1m0 0h1m-43 1h1m2 0h1m7 0h1m4 0h1m23 0h1m-39 1h1m8 0h1m0 0h1m1 0h1m2 0h1m-11 1h1m3 0h1m0 0h1m2 0h1m5 0h1m16 0h1m1 0h1m-34 1h1m2 0h1m0 0h1m2 0h1m2 0h1m2 0h1m2 0h1m1 0h1m9 0h1m1 0h1m-21 1h1m2 0h1m1 0h1m1 0h1m2 0h1m5 0h1m1 0h1m0 0h1m-18 1h1m3 0h1m1 0h1m1 0h1m1 0h1m0 0h1m1 0h1m-12 1h1m2 0h1m3 0h1m3 0h1" stroke="#2b44cb" stroke-width="1.1" fill="none"/>
<path d="M985 1449h1m0 0h1m1 0h1m-6 1h1m0 0h1m2 0h1m0 0h1m0 0h1m-7 1h1m0 0h1m0 0h1m2 0h1m-9 1h1m0 0h1m0 0h1m0 0h1m0 0h1m0 0h1m3 0h1m0 0h1m1 0h1m12 0h1m6 0h1m-35 1h1m4 0h1m5 0h1m3 0h1m0 0h1m0 0h1m0 0h1m7 0h1m0 0h1m1 0h1m0 0h1m0 0h1m0 0h1m1 0h1m0 0h1m2 0h1m1 0h1m-42 1h1m0 0h1m1 0h1m0 0h1m0 0h1m10 0h1m2 0h1m0 0h1m0 0h1m0 0h1m0 0h1m0 0h1m1 0h1m1 0h1m3 0h1m0 0h1m2 0h1m2 0h1m0 0h1m0 0h1m0 0h1m0 0h1m-44 1h1m0 0h1m2 0h1m20 0h1m11 0h1m1 0h1m1 0h1m1 0h1m-44 1h1m0 0h1m1 0h1m37 0h1m0 0h1m0 0h1m-45 1h1m0 0h1m0 0h1m41 0h1m0 0h1m-47 1h1m0 0h1m0 0h1m43 0h1m0 0h1m-48 1h1m1 0h1m44 0h1m0 0h1m-49 1h1m46 0h1m0 0h1m-48 1h1m46 0h1m0 0h1m-51 1h1m0 0h1m0 0h1m45 0h1m1 0h1m-49 1h1m46 0h1m0 0h1m-50 1h1m46 0h1m0 0h1m0 0h1m0 0h1m-53 1h1m0 0h1m0 0h1m46 0h1m0 0h1m0 0h1m-51 1h1m0 0h1m46 0h1m1 0h1m0 0h1m-52 1h1m48 0h1m0 0h1m-50 1h1m0 0h1m45 0h1m0 0h1m0 0h1m-51 1h1m1 0h1m2 0h1m-3 1h1m1 0h1m4 0h1m38 0h1m-44 1h1m1 0h1m0 0h1m37 0h1m0 0h1m0 0h1m-43 1h1m40 0h1m-39 1h1m1 0h1m9 0h1m24 0h1m0 0h1m-36 1h1m9 0h1m0 0h1m0 0h1m20 0h1m0 0h1m-36 1h1m0 0h1m0 0h1m2 0h1m0 0h1m0 0h1m3 0h1m2 0h1m0 0h1m0 0h1m17 0h1m0 0h1m-33 1h1m0 0h1m0 0h1m3 0h1m5 0h1m0 0h1m16 0h1m0 0h1m0 0h1m-33 1h1m13 0h1m1 0h1m11 0h1m2 0h1m-14 1h1m1 0h1m3 0h1m0 0h1m1 0h1m1 0h1m0 0h1m-11 1h1m1 0h1m0 0h1m0 0h1m2 0h1" stroke="#2657ca" stroke-width="1.1" fill="none"/>
<path d="M986 1452h1m0 0h1m-4 1h1m0 0h1m1 0h1m0 0h1m-6 1h1m4 0h1m0 0h1m17 0h1m0 0h1m-27 1h1m0 0h1m0 0h1m3 0h1m2 0h1m0 0h1m0 0h1m3 0h1m0 0h1m0 0h1m4 0h1m0 0h1m3 0h1m0 0h1m0 0h1m0 0h1m0 0h1m1 0h1m-33 1h1m1 0h1m5 0h1m1 0h1m0 0h1m1 0h1m0 0h1m1 0h1m0 0h1m0 0h1m2 0h1m2 0h1m3 0h1m0 0h1m0 0h1m2 0h1m0 0h1m-39 1h1m0 0h1m1 0h1m17 0h1m0 0h1m0 0h1m0 0h1m0 0h1m0 0h1m3 0h1m4 0h1m3 0h1m0 0h1m-42 1h1m1 0h1m19 0h1m0 0h1m16 0h1m0 0h1m0 0h1m-42 1h1m38 0h1m0 0h1m-43 1h1m0 0h1m0 0h1m38 0h1m1 0h1m-3 1h1m1 0h1m0 0h1m-44 1h1m39 0h1m0 0h1m0 0h1m-43 1h1m39 0h1m1 0h1m0 0h1m-45 1h1m0 0h1m41 0h1m0 0h1m-44 1h1m39 0h1m0 0h1m0 0h1m0 0h1m-46 1h1m0 0h1m0 0h1m40 0h1m1 0h1m-46 1h1m0 0h1m1 0h1m39 0h1m0 0h1m0 0h1m-45 1h1m0 0h1m1 0h1m0 0h1m37 0h1m0 0h1m-43 1h1m3 0h1m0 0h1m1 0h1m33 0h1m0 0h1m-39 1h1m2 0h1m33 0h1m0 0h1m0 0h1m-37 1h1m0 0h1m0 0h1m2 0h1m3 0h1m0 0h1m0 0h1m2 0h1m-14 1h1m0 0h1m0 0h1m0 0h1m0 0h1m0 0h1m0 0h1m1 0h1m2 0h1m1 0h1m0 0h1m0 0h1m17 0h1m0 0h1m-34 1h1m0 0h1m0 0h1m0 0h1m0 0h1m2 0h1m2 0h1m0 0h1m0 0h1m0 0h1m0 0h1m0 0h1m0 0h1m14 0h1m-31 1h1m0 0h1m1 0h1m0 0h1m7 0h1m0 0h1m0 0h1m0 0h1m1 0h1m1 0h1m9 0h1m0 0h1m-30 1h1m13 0h1m0 0h1m2 0h1m8 0h1m0 0h1m0 0h1m0 0h1m-15 1h1m1 0h1m0 0h1m0 0h1m0 0h1m0 0h1m0 0h1m1 0h1m0 0h1m0 0h1m-10 1h1m1 0h1m0 0h1m0 0h1m3 0h1" stroke="#2179cf" stroke-width="1.1" fill="none"/>
<path d="M986 1455h1m0 0h1m1 0h1m0 0h1m-7 1h1m1 0h1m0 0h1m0 0h1m0 0h1m0 0h1m1 0h1m2 0h1m-12 1h1m0 0h1m0 0h1m3 0h1m0 0h1m1 0h1m0 0h1m0 0h1m0 0h1m0 0h1m0 0h1m7 0h1m0 0h1m0 0h1m1 0h1m0 0h1m1 0h1m1 0h1m0 0h1m-35 1h1m0 0h1m0 0h1m0 0h1m0 0h1m5 0h1m2 0h1m0 0h1m0 0h1m6 0h1m0 0h1m0 0h1m0 0h1m0 0h1m0 0h1m0 0h1m1 0h1m0 0h1m0 0h1m0 0h1m0 0h1m-37 1h1m0 0h1m0 0h1m0 0h1m10 0h1m1 0h1m1 0h1m0 0h1m1 0h1m0 0h1m0 0h1m0 0h1m1 0h1m1 0h1m0 0h1m0 0h1m0 0h1m0 0h1m1 0h1m2 0h1m-38 1h1m1 0h1m14 0h1m0 0h1m0 0h1m0 0h1m0 0h1m0 0h1m0 0h1m0 0h1m1 0h1m0 0h1m1 0h1m4 0h1m0 0h1m1 0h1m-39 1h1m19 0h1m1 0h1m1 0h1m2 0h1m0 0h1m7 0h1m0 0h1m0 0h1m-38 1h1m34 0h1m1 0h1m-39 1h1m0 0h1m34 0h1m1 0h1m-38 1h1m34 0h1m0 0h1m-38 1h1m0 0h1m0 0h1m1 0h1m33 0h1m-39 1h1m0 0h1m0 0h1m0 0h1m0 0h1m13 0h1m18 0h1m1 0h1m-38 1h1m1 0h1m0 0h1m1 0h1m10 0h1m0 0h1m0 0h1m0 0h1m0 0h1m15 0h1m0 0h1m-36 1h1m0 0h1m10 0h1m0 0h1m2 0h1m0 0h1m0 0h1m0 0h1m-17 1h1m0 0h1m2 0h1m1 0h1m0 0h1m0 0h1m0 0h1m0 0h1m0 0h1m0 0h1m0 0h1m0 0h1m2 0h1m1 0h1m11 0h1m0 0h1m-31 1h1m0 0h1m1 0h1m0 0h1m0 0h1m0 0h1m1 0h1m0 0h1m0 0h1m1 0h1m0 0h1m0 0h1m0 0h1m0 0h1m11 0h1m1 0h1m-31 1h1m0 0h1m1 0h1m0 0h1m0 0h1m6 0h1m0 0h1m0 0h1m1 0h1m1 0h1m1 0h1m8 0h1m-16 1h1m0 0h1m0 0h1m2 0h1m0 0h1m7 0h1m0 0h1m0 0h1m-13 1h1m0 0h1m0 0h1m0 0h1m0 0h1m0 0h1m0 0h1m0 0h1m1 0h1m0 0h1m0 0h1m-12 1h1m1 0h1m0 0h1m1 0h1m0 0h1m0 0h1m0 0h1m0 0h1m0 0h1m-9 1h1m0 0h1m1 0h1m1 0h1m0 0h1" stroke="#219bc6" stroke-width="1.1" fill="none"/>
<path d="M989 1457h1m-3 1h1m0 0h1m0 0h1m-5 1h1m0 0h1m0 0h1m0 0h1m0 0h1m0 0h1m0 0h1m0 0h1m0 0h1m19 0h1m-31 1h1m1 0h1m0 0h1m0 0h1m1 0h1m1 0h1m0 0h1m0 0h1m0 0h1m0 0h1m0 0h1m13 0h1m1 0h1m0 0h1m-32 1h1m0 0h1m0 0h1m0 0h1m6 0h1m0 0h1m0 0h1m0 0h1m0 0h1m0 0h1m0 0h1m1 0h1m1 0h1m1 0h1m4 0h1m1 0h1m0 0h1m0 0h1m0 0h1m-34 1h1m0 0h1m0 0h1m0 0h1m0 0h1m8 0h1m1 0h1m1 0h1m0 0h1m0 0h1m0 0h1m0 0h1m0 0h1m0 0h1m0 0h1m0 0h1m0 0h1m0 0h1m0 0h1m0 0h1m0 0h1m1 0h1m0 0h1m-34 1h1m0 0h1m0 0h1m0 0h1m0 0h1m7 0h1m0 0h1m0 0h1m0 0h1m0 0h1m0 0h1m0 0h1m0 0h1m0 0h1m0 0h1m1 0h1m0 0h1m0 0h1m0 0h1m0 0h1m0 0h1m0 0h1m0 0h1m0 0h1m0 0h1m0 0h1m-34 1h1m0 0h1m0 0h1m0 0h1m2 0h1m5 0h1m0 0h1m1 0h1m0 0h1m0 0h1m0 0h1m0 0h1m0 0h1m2 0h1m0 0h1m1 0h1m1 0h1m0 0h1m0 0h1m1 0h1m0 0h1m-33 1h1m1 0h1m0 0h1m0 0h1m0 0h1m3 0h1m1 0h1m0 0h1m0 0h1m0 0h1m0 0h1m0 0h1m0 0h1m0 0h1m0 0h1m1 0h1m0 0h1m0 0h1m0 0h1m1 0h1m0 0h1m0 0h1m0 0h1m0 0h1m0 0h1m0 0h1m-30 1h1m2 0h1m0 0h1m3 0h1m0 0h1m3 0h1m0 0h1m0 0h1m0 0h1m2 0h1m0 0h1m0 0h1m0 0h1m0 0h1m1 0h1m0 0h1m0 0h1m0 0h1m0 0h1m0 0h1m-28 1h1m0 0h1m0 0h1m0 0h1m0 0h1m0 0h1m0 0h1m7 0h1m0 0h1m0 0h1m0 0h1m0 0h1m0 0h1m0 0h1m0 0h1m0 0h1m0 0h1m0 0h1m0 0h1m0 0h1m-27 1h1m0 0h1m0 0h1m0 0h1m0 0h1m10 0h1m0 0h1m1 0h1m0 0h1m0 0h1m0 0h1m0 0h1m0 0h1m0 0h1m0 0h1m0 0h1m0 0h1m-25 1h1m12 0h1m1 0h1m0 0h1m0 0h1m0 0h1m0 0h1m0 0h1m0 0h1m0 0h1m1 0h1m0 0h1m-11 1h1m0 0h1m0 0h1m2 0h1m0 0h1m0 0h1m0 0h1m0 0h1m-9 1h1m2 0h1m0 0h1m0 0h1m0 0h1m0 0h1m-6 1h1m2 0h1m0 0h1m0 0h1" stroke="#27bbad" stroke-width="1.1" fill="none"/>
<path d="M990 1460h1m-5 1h1m0 0h1m0 0h1m0 0h1m0 0h1m0 0h1m-6 1h1m0 0h1m0 0h1m0 0h1m0 0h1m0 0h1m-6 1h1m0 0h1m0 0h1m0 0h1m0 0h1m0 0h1m0 0h1m-5 1h1m0 0h1m0 0h1m-3 1h1m1 0h1m1 0h1m-3 1h1" stroke="#34c476" stroke-width="1.1" fill="none"/>
<rect x="959.6" y="1392.9" width="98" height="50.1" fill="none" stroke="#111" stroke-width="1.4"/>
<text x="1055.3" y="1385.9" font-size="19" text-anchor="end" class="k">0</text>
<rect x="690.2" y="1569.3" width="207.6" height="207.2" fill="#fff" stroke="#7d7d7d" stroke-width="1.2"/>
<path d="M711.9 1776.5v5.5M754.3 1776.5v5.5M795.9 1776.5v5.5M837.9 1776.5v5.5M879.2 1776.5v5.5" stroke="#111" stroke-width="1.3" fill="none"/>
<path d="M724.7 1776.5v3.0M732.1 1776.5v3.0M737.4 1776.5v3.0M741.5 1776.5v3.0M744.9 1776.5v3.0M747.7 1776.5v3.0M750.2 1776.5v3.0M752.4 1776.5v3.0M766.8 1776.5v3.0M774.1 1776.5v3.0M779.3 1776.5v3.0M783.4 1776.5v3.0M786.7 1776.5v3.0M789.5 1776.5v3.0M791.9 1776.5v3.0M794 1776.5v3.0M808.5 1776.5v3.0M815.9 1776.5v3.0M821.2 1776.5v3.0M825.3 1776.5v3.0M828.6 1776.5v3.0M831.4 1776.5v3.0M833.8 1776.5v3.0M836 1776.5v3.0M850.3 1776.5v3.0M857.6 1776.5v3.0M862.8 1776.5v3.0M866.8 1776.5v3.0M870 1776.5v3.0M872.8 1776.5v3.0M875.2 1776.5v3.0M877.3 1776.5v3.0M891.6 1776.5v3.0M690.3 1776.5v3.0M695.5 1776.5v3.0M699.5 1776.5v3.0M702.7 1776.5v3.0M705.5 1776.5v3.0M707.9 1776.5v3.0M710 1776.5v3.0" stroke="#222" stroke-width="0.9" fill="none"/>
<text x="713.9" y="1793" font-size="8.5" text-anchor="middle" fill="#111">10<tspan dy="-3.8" font-size="6.8">1</tspan></text>
<text x="756.3" y="1793" font-size="8.5" text-anchor="middle" fill="#111">10<tspan dy="-3.8" font-size="6.8">2</tspan></text>
<text x="797.9" y="1793" font-size="8.5" text-anchor="middle" fill="#111">10<tspan dy="-3.8" font-size="6.8">3</tspan></text>
<text x="839.9" y="1793" font-size="8.5" text-anchor="middle" fill="#111">10<tspan dy="-3.8" font-size="6.8">4</tspan></text>
<text x="881.2" y="1793" font-size="8.5" text-anchor="middle" fill="#111">10<tspan dy="-3.8" font-size="6.8">5</tspan></text>
<path d="M690.2 1587.5h-5.5M690.2 1628.8h-5.5M690.2 1670.8h-5.5M690.2 1712.1h-5.5M690.2 1754.1h-5.5" stroke="#111" stroke-width="1.3" fill="none"/>
<path d="M690.2 1741.5h-3.0M690.2 1734.1h-3.0M690.2 1728.8h-3.0M690.2 1724.7h-3.0M690.2 1721.4h-3.0M690.2 1718.6h-3.0M690.2 1716.2h-3.0M690.2 1714h-3.0M690.2 1699.7h-3.0M690.2 1692.4h-3.0M690.2 1687.2h-3.0M690.2 1683.2h-3.0M690.2 1680h-3.0M690.2 1677.2h-3.0M690.2 1674.8h-3.0M690.2 1672.7h-3.0M690.2 1658.2h-3.0M690.2 1650.8h-3.0M690.2 1645.5h-3.0M690.2 1641.4h-3.0M690.2 1638.1h-3.0M690.2 1635.3h-3.0M690.2 1632.9h-3.0M690.2 1630.7h-3.0M690.2 1616.4h-3.0M690.2 1609.1h-3.0M690.2 1603.9h-3.0M690.2 1599.9h-3.0M690.2 1596.7h-3.0M690.2 1593.9h-3.0M690.2 1591.5h-3.0M690.2 1589.4h-3.0M690.2 1575.1h-3.0M690.2 1775.7h-3.0M690.2 1770.5h-3.0M690.2 1766.5h-3.0M690.2 1763.3h-3.0M690.2 1760.5h-3.0M690.2 1758.1h-3.0M690.2 1756h-3.0" stroke="#222" stroke-width="0.9" fill="none"/>
<text x="680.2" y="1591.5" font-size="8.5" text-anchor="end" fill="#111">10<tspan dy="-3.8" font-size="6.8">5</tspan></text>
<text x="680.2" y="1632.8" font-size="8.5" text-anchor="end" fill="#111">10<tspan dy="-3.8" font-size="6.8">4</tspan></text>
<text x="680.2" y="1674.8" font-size="8.5" text-anchor="end" fill="#111">10<tspan dy="-3.8" font-size="6.8">3</tspan></text>
<text x="680.2" y="1716.1" font-size="8.5" text-anchor="end" fill="#111">10<tspan dy="-3.8" font-size="6.8">2</tspan></text>
<text x="680.2" y="1758.1" font-size="8.5" text-anchor="end" fill="#111">10<tspan dy="-3.8" font-size="6.8">1</tspan></text>
<path d="M777 1634h1m-16 4h1m62 3h1m-16 2h1m-18 1h1m3 0h1m6 1h1m-24 1h1m5 1h1m-11 1h1m14 0h1m18 0h1m0 0h1m10 0h1m-68 1h1m38 0h1m1 0h1m2 0h1m-11 1h1m2 0h1m29 0h1m-53 1h1m5 0h1m5 0h1m1 0h1m0 0h1m1 0h1m2 0h1m7 0h1m14 0h1m-42 1h1m9 0h1m3 0h1m9 0h1m15 0h1m-61 1h1m16 0h1m1 0h1m6 0h1m9 0h1m1 0h1m-24 1h1m8 0h1m0 0h1m23 0h1m-41 1h1m7 0h1m4 0h1m26 0h1m7 0h1m-45 1h1m1 0h1m1 0h1m36 0h1m6 0h1m-53 1h1m6 0h1m33 0h1m5 0h1m-54 1h1m4 0h1m1 0h1m0 0h1m5 0h1m-9 1h1m4 0h1m43 0h1m3 0h1m9 0h1m-7 1h1m18 0h1m-83 1h1m55 0h1m6 1h1m-72 1h1m1 0h1m8 0h1m4 0h1m48 0h1m3 0h1m-64 1h1m3 0h1m5 0h1m-12 1h1m7 0h1m63 0h1m-65 1h1m58 0h1m-5 1h1m-78 1h1m18 0h1m1 0h1m65 0h1m-72 1h1m2 0h1m-4 1h1m62 0h1m4 0h1m-87 1h1m7 0h1m-1 1h1m8 0h1m4 0h1m-11 1h1m8 0h1m61 0h1m0 0h1m-74 1h1m5 0h1m1 0h1m2 0h1m60 0h1m3 0h1m1 0h1m0 0h1m1 0h1m-70 1h1m74 0h1m-18 1h1m-78 1h1m14 0h1m73 0h1m-92 1h1m13 0h1m3 0h1m66 0h1m-78 1h1m1 1h1m6 0h1m69 0h1m-82 1h1m6 0h1m3 0h1m2 0h1m71 0h1m-73 1h1m0 0h1m58 0h1m1 0h1m0 0h1m-1 1h1m3 0h1m4 0h1m-73 1h1m-5 2h1m1 0h1m2 0h1m60 0h1m1 0h1m-65 1h1m75 0h1m-83 2h1m0 0h1m-22 1h1m15 0h1m6 0h1m2 0h1m0 0h1m55 0h1m9 0h1m3 0h1m29 0h1m-104 1h1m69 0h1m-68 1h1m59 0h1m4 0h1m-75 1h1m5 0h1m64 0h1m-73 1h1m5 0h1m3 0h1m61 0h1m-68 1h1m59 0h1m-71 1h1m5 0h1m1 0h1m62 0h1m1 0h1m2 0h1m-67 1h1m9 0h1m46 0h1m-57 1h1m3 0h1m4 0h1m-5 1h1m3 0h1m41 1h1m2 0h1m5 0h1m-69 1h1m9 0h1m4 0h1m0 0h1m40 0h1m1 0h1m1 0h1m6 0h1m-64 1h1m48 0h1m1 0h1m0 0h1m0 0h1m2 0h1m4 0h1m2 0h1m1 0h1m-46 1h1m0 0h1m9 0h1m27 0h1m-59 1h1m10 0h1m2 0h1m0 0h1m0 0h1m8 0h1m5 0h1m20 0h1m6 0h1m-62 1h1m18 0h1m4 0h1m2 0h1m2 0h1m7 0h1m-43 1h1m23 0h1m10 0h1m10 0h1m10 0h1m0 0h1m5 0h1m-45 1h1m6 0h1m14 0h1m2 0h1m11 0h1m-60 1h1m11 0h1m1 0h1m22 0h1m7 0h1m1 0h1m24 0h1m-48 1h1m11 0h1m12 0h1m-34 1h1m15 0h1m6 0h1m2 0h1m0 0h1m7 0h1m9 0h1m-40 1h1m12 0h1m0 0h1m12 0h1m-34 1h1m1 0h1m12 0h1m-19 1h1m25 0h1m20 0h1m-41 1h1m12 0h1m3 0h1m10 0h1m-31 1h1m19 0h1m1 1h1m4 1h1m17 0h1m-44 2h1m13 0h1m4 0h1m6 0h1m-11 2h1m13 0h1m-2 2h1m-23 1h1m5 0h1m8 1h1m0 3h1m38 3h1m-18 2h1m-27 2h1m2 10h1m-18 12h1" stroke="#373cd9" stroke-width="1.1" fill="none"/>
<path d="M798 1652h1m-2 1h1m-15 1h1m9 0h1m1 0h1m2 0h1m-16 1h1m7 0h1m6 0h1m1 0h1m-25 1h1m0 0h1m0 0h1m0 0h1m2 0h1m0 0h1m0 0h1m0 0h1m8 0h1m2 0h1m0 0h1m-26 1h1m3 0h1m3 0h1m0 0h1m-8 1h1m2 0h1m23 0h1m1 0h1m-29 1h1m26 0h1m0 0h1m-34 1h1m0 0h1m0 0h1m0 0h1m26 0h1m1 0h1m0 0h1m2 0h1m-41 1h1m2 0h1m1 0h1m0 0h1m32 0h1m0 0h1m-3 1h1m0 0h1m1 0h1m0 0h1m0 0h1m-45 1h1m1 0h1m0 0h1m1 0h1m-5 1h1m3 0h1m39 0h1m0 0h1m-50 1h1m1 0h1m1 0h1m-3 1h1m1 0h1m0 0h1m-1 1h1m43 0h1m-50 1h1m0 0h1m1 0h1m0 0h1m44 0h1m0 0h1m-51 1h1m1 0h1m47 0h1m-49 1h1m-5 1h1m53 0h1m-54 1h1m0 0h1m51 0h1m-54 1h1m0 0h1m2 0h1m48 0h1m-56 1h1m1 0h1m51 0h1m2 0h1m-56 1h1m1 0h1m51 0h1m0 0h1m-56 1h1m0 0h1m0 0h1m50 0h1m-51 1h1m48 0h1m-54 1h1m53 1h1m0 1h1m-5 1h1m0 0h1m0 0h1m0 0h1m0 0h1m-56 1h1m52 0h1m-51 1h1m51 0h1m0 0h1m-56 1h1m1 0h1m48 0h1m-52 1h1m50 0h1m-50 1h1m49 0h1m0 0h1m0 0h1m-54 1h1m0 0h1m47 0h1m-51 1h1m0 0h1m0 0h1m47 0h1m1 0h1m0 0h1m-53 1h1m1 0h1m-3 1h1m0 0h1m46 0h1m0 0h1m0 0h1m0 0h1m-54 1h1m2 0h1m1 0h1m43 0h1m2 0h1m-52 1h1m2 0h1m0 0h1m0 0h1m1 0h1m41 0h1m-49 1h1m40 0h1m4 0h1m1 0h1m-44 1h1m0 0h1m0 0h1m33 0h1m8 0h1m-50 1h1m0 0h1m2 0h1m0 0h1m0 0h1m1 0h1m36 0h1m1 0h1m0 0h1m-48 1h1m3 0h1m32 0h1m0 0h1m4 0h1m0 0h1m1 0h1m-42 1h1m0 0h1m0 0h1m27 0h1m0 0h1m5 0h1m2 0h1m-42 1h1m5 0h1m0 0h1m3 0h1m19 0h1m4 0h1m2 0h1m-38 1h1m0 0h1m1 0h1m1 0h1m1 0h1m1 0h1m3 0h1m0 0h1m1 0h1m4 0h1m2 0h1m0 0h1m3 0h1m2 0h1m5 0h1m-39 1h1m0 0h1m7 0h1m0 0h1m1 0h1m4 0h1m2 0h1m7 0h1m0 0h1m-27 1h1m2 0h1m4 0h1m0 0h1m1 0h1m6 0h1m1 0h1m0 0h1m1 0h1m0 0h1m0 0h1m-22 1h1m3 0h1m3 0h1m0 0h1m5 0h1m0 0h1m1 0h1m0 0h1m0 0h1m-20 1h1m10 0h1m0 0h1m7 0h1m-18 1h1m6 0h1m2 0h1m1 0h1" stroke="#3140d2" stroke-width="1.1" fill="none"/>
<path d="M790 1656h1m1 0h1m2 0h1m-10 1h1m1 0h1m0 0h1m4 0h1m2 0h1m-15 1h1m2 0h1m0 0h1m1 0h1m1 0h1m0 0h1m2 0h1m-17 1h1m0 0h1m0 0h1m0 0h1m4 0h1m0 0h1m7 0h1m0 0h1m1 0h1m-24 1h1m1 0h1m20 0h1m-20 1h1m-6 1h1m25 0h1m2 0h1m-32 1h1m2 0h1m-5 1h1m0 0h1m1 0h1m28 0h1m0 0h1m1 0h1m0 0h1m-38 1h1m1 0h1m31 0h1m0 0h1m0 0h1m0 0h1m-38 1h1m2 0h1m-6 1h1m0 0h1m0 0h1m1 0h1m32 0h1m2 0h1m-39 1h1m36 0h1m0 0h1m0 0h1m0 0h1m-45 1h1m0 0h1m0 0h1m40 0h1m-44 1h1m1 0h1m41 0h1m0 0h1m0 0h1m-46 1h1m42 0h1m1 0h1m-47 1h1m0 0h1m0 0h1m41 0h1m0 0h1m-44 1h1m0 0h1m-4 1h1m0 0h1m0 0h1m42 0h1m0 0h1m-46 1h1m41 0h1m0 0h1m0 0h1m0 0h1m-49 1h1m1 0h1m1 0h1m43 0h1m-48 1h1m0 0h1m0 0h1m42 0h1m-47 1h1m0 0h1m0 0h1m0 0h1m41 0h1m0 0h1m-48 1h1m0 0h1m1 0h1m0 0h1m0 0h1m-5 1h1m0 0h1m1 0h1m40 0h1m0 0h1m1 0h1m-49 1h1m0 0h1m0 0h1m1 0h1m40 0h1m1 0h1m-47 1h1m0 0h1m42 0h1m0 0h1m-45 1h1m0 0h1m40 0h1m-42 1h1m41 0h1m0 0h1m0 0h1m0 0h1m-48 1h1m0 0h1m40 0h1m0 0h1m-42 1h1m0 0h1m-4 1h1m0 0h1m0 0h1m0 0h1m42 0h1m-47 1h1m4 0h1m36 0h1m3 0h1m-45 1h1m0 0h1m3 0h1m34 0h1m0 0h1m0 0h1m0 0h1m-44 1h1m2 0h1m1 0h1m33 0h1m0 0h1m1 0h1m-40 1h1m2 0h1m31 0h1m0 0h1m0 0h1m0 0h1m0 0h1m-38 1h1m31 0h1m1 0h1m-33 1h1m1 0h1m28 0h1m0 0h1m-36 1h1m3 0h1m0 0h1m0 0h1m-4 1h1m0 0h1m0 0h1m0 0h1m3 0h1m0 0h1m7 0h1m7 0h1m0 0h1m0 0h1m1 0h1m-28 1h1m3 0h1m0 0h1m1 0h1m1 0h1m2 0h1m0 0h1m1 0h1m1 0h1m2 0h1m0 0h1m-22 1h1m0 0h1m2 0h1m0 0h1m1 0h1m0 0h1m0 0h1m1 0h1m1 0h1m1 0h1m0 0h1m1 0h1m1 0h1m1 0h1m-16 1h1m8 0h1m0 0h1m0 0h1m2 0h1m-15 1h1" stroke="#2b44cb" stroke-width="1.1" fill="none"/>
<path d="M786 1659h1m4 0h1m0 0h1m0 0h1m0 0h1m-14 1h1m0 0h1m0 0h1m2 0h1m0 0h1m0 0h1m4 0h1m0 0h1m0 0h1m0 0h1m0 0h1m-17 1h1m0 0h1m0 0h1m2 0h1m1 0h1m3 0h1m0 0h1m0 0h1m0 0h1m2 0h1m0 0h1m-21 1h1m3 0h1m0 0h1m13 0h1m0 0h1m0 0h1m-24 1h1m0 0h1m1 0h1m18 0h1m1 0h1m0 0h1m-27 1h1m0 0h1m0 0h1m-3 1h1m0 0h1m0 0h1m23 0h1m0 0h1m0 0h1m-32 1h1m2 0h1m27 0h1m0 0h1m-31 1h1m29 1h1m0 0h1m0 0h1m-37 1h1m0 0h1m33 0h1m0 0h1m-38 1h1m1 0h1m0 0h1m33 0h1m0 0h1m-39 1h1m36 0h1m0 0h1m1 0h1m-41 1h1m0 0h1m0 0h1m0 0h1m33 0h1m0 0h1m0 0h1m0 0h1m-39 1h1m35 0h1m0 0h1m1 0h1m-41 1h1m1 0h1m36 0h1m0 0h1m-4 1h1m-1 1h1m0 0h1m0 0h1m-40 1h1m0 0h1m34 0h1m0 0h1m0 0h1m0 0h1m-41 1h1m36 0h1m1 0h1m-39 1h1m35 0h1m-39 1h1m36 0h1m0 0h1m-39 1h1m0 0h1m35 0h1m1 0h1m-42 1h1m0 0h1m1 0h1m35 0h1m-39 1h1m0 0h1m37 0h1m-40 1h1m0 0h1m0 0h1m34 0h1m1 0h1m-39 1h1m0 0h1m34 0h1m-37 1h1m1 0h1m34 0h1m-37 1h1m0 0h1m34 0h1m-2 1h1m0 0h1m-34 1h1m30 0h1m0 0h1m-33 1h1m30 0h1m-31 1h1m0 0h1m0 0h1m0 0h1m24 0h1m1 0h1m-30 1h1m2 0h1m0 0h1m0 0h1m6 0h1m14 0h1m-25 1h1m3 0h1m0 0h1m1 0h1m0 0h1m1 0h1m5 0h1m4 0h1m0 0h1m0 0h1m-22 1h1m2 0h1m1 0h1m1 0h1m4 0h1m0 0h1m0 0h1m0 0h1m0 0h1m0 0h1m0 0h1m-15 1h1m0 0h1m0 0h1m2 0h1m2 0h1m0 0h1m1 0h1m1 0h1m-4 1h1" stroke="#2657ca" stroke-width="1.1" fill="none"/>
<path d="M790 1660h1m0 0h1m-7 1h1m1 0h1m2 0h1m-9 1h1m2 0h1m1 0h1m0 0h1m0 0h1m0 0h1m0 0h1m0 0h1m1 0h1m0 0h1m0 0h1m0 0h1m-17 1h1m1 0h1m0 0h1m6 0h1m0 0h1m0 0h1m0 0h1m0 0h1m0 0h1m0 0h1m0 0h1m-17 1h1m0 0h1m0 0h1m12 0h1m0 0h1m0 0h1m0 0h1m-22 1h1m0 0h1m1 0h1m16 0h1m1 0h1m-25 1h1m0 0h1m0 0h1m20 0h1m0 0h1m0 0h1m0 0h1m-28 1h1m1 0h1m22 0h1m0 0h1m0 0h1m-27 1h1m0 0h1m23 0h1m0 0h1m0 0h1m-29 1h1m28 0h1m-31 1h1m0 0h1m27 0h1m1 0h1m-33 1h1m0 0h1m29 0h1m0 0h1m-33 1h1m0 0h1m30 0h1m-34 1h1m0 0h1m31 0h1m-33 1h1m0 0h1m30 0h1m1 0h1m-35 1h1m0 0h1m30 0h1m0 0h1m-35 1h1m0 0h1m30 0h1m0 0h1m-33 1h1m31 0h1m-2 1h1m-34 1h1m0 0h1m0 0h1m-3 1h1m30 0h1m0 0h1m0 0h1m-35 1h1m0 0h1m30 0h1m0 0h1m-34 1h1m0 0h1m31 0h1m-34 1h1m1 0h1m30 0h1m-34 1h1m0 0h1m0 0h1m-3 1h1m0 0h1m31 0h1m-33 1h1m0 0h1m0 0h1m-2 1h1m1 0h1m-3 1h1m0 0h1m0 0h1m27 0h1m0 0h1m-31 1h1m0 0h1m0 0h1m25 0h1m-28 1h1m0 0h1m1 0h1m0 0h1m2 0h1m17 0h1m0 0h1m0 0h1m-25 1h1m1 0h1m1 0h1m0 0h1m0 0h1m15 0h1m-20 1h1m2 0h1m0 0h1m0 0h1m1 0h1m0 0h1m2 0h1m0 0h1m3 0h1m0 0h1m0 0h1m-11 1h1m0 0h1m0 0h1m1 0h1m1 0h1m2 0h1" stroke="#2179cf" stroke-width="1.1" fill="none"/>
<path d="M785 1663h1m1 0h1m0 0h1m0 0h1m0 0h1m-6 1h1m0 0h1m0 0h1m0 0h1m0 0h1m0 0h1m0 0h1m1 0h1m0 0h1m0 0h1m-12 1h1m3 0h1m0 0h1m1 0h1m0 0h1m0 0h1m1 0h1m1 0h1m0 0h1m-19 1h1m0 0h1m0 0h1m1 0h1m-4 1h1m16 0h1m-19 1h1m0 0h1m17 0h1m0 0h1m0 0h1m-2 1h1m0 0h1m0 0h1m-2 1h1m0 0h1m-27 1h1m0 0h1m0 0h1m24 0h1m-28 1h1m26 0h1m0 0h1m0 0h1m-31 1h1m0 0h1m27 0h1m0 0h1m-29 1h1m25 0h1m0 0h1m0 0h1m-2 1h1m0 0h1m-31 1h1m28 0h1m-30 1h1m0 0h1m-3 1h1m28 0h1m0 0h1m-30 1h1m27 0h1m-31 1h1m0 0h1m-1 1h1m-2 1h1m0 0h1m28 0h1m-30 1h1m27 0h1m0 0h1m-30 1h1m27 0h1m-30 1h1m0 0h1m26 0h1m0 0h1m0 0h1m-29 1h1m0 0h1m25 0h1m0 0h1m-28 1h1m25 0h1m-25 1h1m22 0h1m0 0h1m-26 1h1m0 0h1m0 0h1m0 0h1m0 0h1m17 0h1m0 0h1m-21 1h1m0 0h1m1 0h1m0 0h1m2 0h1m0 0h1m0 0h1m8 0h1m0 0h1m-14 1h1m0 0h1m1 0h1m1 0h1m0 0h1m0 0h1m1 0h1m0 0h1m0 0h1m0 0h1m-4 1h1m0 0h1" stroke="#219bc6" stroke-width="1.1" fill="none"/>
<path d="M785 1665h1m0 0h1m7 0h1m-10 1h1m0 0h1m2 0h1m1 0h1m0 0h1m0 0h1m0 0h1m0 0h1m0 0h1m-15 1h1m0 0h1m0 0h1m0 0h1m0 0h1m0 0h1m1 0h1m1 0h1m3 0h1m1 0h1m-16 1h1m0 0h1m0 0h1m11 0h1m0 0h1m-20 1h1m0 0h1m0 0h1m18 0h1m-22 1h1m0 0h1m0 1h1m19 0h1m0 0h1m-24 1h1m0 0h1m22 0h1m-26 1h1m0 0h1m23 0h1m0 0h1m-26 1h1m23 0h1m-27 1h1m0 0h1m0 0h1m23 0h1m0 0h1m-28 1h1m0 0h1m24 0h1m0 0h1m-27 1h1m24 0h1m0 0h1m-28 1h1m25 0h1m-27 1h1m0 0h1m24 0h1m-28 1h1m0 0h1m24 0h1m-26 1h1m24 0h1m-27 1h1m0 0h1m24 0h1m0 0h1m-28 1h1m0 0h1m24 0h1m-27 1h1m0 0h1m0 0h1m23 0h1m-26 1h1m0 0h1m0 0h1m-2 1h1m0 0h1m0 0h1m20 0h1m0 0h1m-24 1h1m1 0h1m19 0h1m0 0h1m-18 1h1m13 0h1m0 0h1m0 0h1m-18 1h1m0 0h1m0 0h1m0 0h1m0 0h1m0 0h1m0 0h1m1 0h1m0 0h1m0 0h1m0 0h1m0 0h1m0 0h1m0 0h1m0 0h1m-8 1h1m0 0h1m0 0h1m0 0h1m0 0h1m0 0h1m0 0h1" stroke="#27bbad" stroke-width="1.1" fill="none"/>
<path d="M790 1667h1m1 0h1m0 0h1m0 0h1m-8 1h1m1 0h1m0 0h1m0 0h1m2 0h1m0 0h1m-14 1h1m0 0h1m0 0h1m0 0h1m10 0h1m0 0h1m0 0h1m-19 1h1m0 0h1m1 0h1m12 0h1m0 0h1m0 0h1m0 0h1m-21 1h1m1 0h1m15 0h1m0 0h1m0 0h1m-1 1h1m0 0h1m-22 1h1m0 0h1m18 0h1m0 0h1m0 0h1m-23 1h1m0 0h1m18 0h1m0 0h1m0 0h1m-23 1h1m0 0h1m19 0h1m0 0h1m-24 1h1m21 0h1m0 0h1m-24 1h1m21 0h1m0 0h1m-25 1h1m0 0h1m21 0h1m0 0h1m-24 1h1m0 0h1m20 0h1m0 0h1m-25 1h1m0 0h1m21 0h1m-24 1h1m0 0h1m21 0h1m-24 1h1m0 0h1m21 0h1m-23 1h1m0 0h1m-2 1h1m0 0h1m19 0h1m0 0h1m-22 1h1m0 0h1m0 0h1m16 0h1m0 0h1m0 0h1m-20 1h1m0 0h1m0 0h1m0 0h1m12 0h1m0 0h1m0 0h1m-19 1h1m0 0h1m0 0h1m0 0h1m0 0h1m0 0h1m0 0h1m0 0h1m0 0h1m0 0h1m1 0h1m0 0h1m1 0h1m0 0h1m0 0h1m1 0h1m-14 1h1m1 0h1m0 0h1m0 0h1m0 0h1m0 0h1m0 0h1m0 0h1m0 0h1m0 0h1m0 0h1" stroke="#34c476" stroke-width="1.1" fill="none"/>
<path d="M786 1668h1m1 0h1m3 0h1m0 0h1m-8 1h1m0 0h1m0 0h1m0 0h1m0 0h1m0 0h1m0 0h1m0 0h1m0 0h1m0 0h1m-7 1h1m1 0h1m0 0h1m0 0h1m0 0h1m0 0h1m-14 1h1m0 0h1m10 0h1m1 0h1m-17 1h1m0 0h1m13 0h1m1 0h1m-17 1h1m15 0h1m0 0h1m-18 1h1m15 0h1m0 0h1m-1 1h1m0 0h1m-20 1h1m17 0h1m0 0h1m-21 1h1m0 0h1m17 0h1m0 0h1m-21 1h1m0 0h1m0 0h1m17 0h1m-20 1h1m0 0h1m17 0h1m-21 1h1m0 0h1m18 0h1m-21 1h1m0 0h1m0 0h1m16 0h1m0 0h1m-21 1h1m0 0h1m0 0h1m0 0h1m15 0h1m0 0h1m-20 1h1m0 0h1m0 0h1m3 0h1m11 0h1m0 0h1m-20 1h1m0 0h1m0 0h1m0 0h1m0 0h1m0 0h1m11 0h1m0 0h1m-17 1h1m0 0h1m0 0h1m0 0h1m0 0h1m0 0h1m0 0h1m0 0h1m0 0h1m0 0h1m0 0h1m0 0h1m1 0h1m0 0h1m0 0h1m-13 1h1m0 0h1m0 0h1m0 0h1m0 0h1m0 0h1m0 0h1m0 0h1m0 0h1m0 0h1m1 0h1" stroke="#58c948" stroke-width="1.1" fill="none"/>
<path d="M784 1670h1m0 0h1m0 0h1m0 0h1m2 0h1m-7 1h1m0 0h1m3 0h1m0 0h1m0 0h1m0 0h1m0 0h1m-12 1h1m0 0h1m0 0h1m8 0h1m2 0h1m-15 1h1m0 0h1m11 0h1m0 0h1m-15 1h1m0 0h1m11 0h1m0 0h1m-16 1h1m0 0h1m13 0h1m0 0h1m-17 1h1m1 0h1m12 0h1m0 0h1m-17 1h1m0 0h1m0 0h1m12 0h1m0 0h1m-16 1h1m0 0h1m0 0h1m11 0h1m0 0h1m0 0h1m-17 1h1m0 0h1m13 0h1m0 0h1m-18 1h1m0 0h1m1 0h1m12 0h1m-16 1h1m0 0h1m0 0h1m0 0h1m0 0h1m9 0h1m0 0h1m-15 1h1m0 0h1m0 0h1m0 0h1m0 0h1m8 0h1m0 0h1m-15 1h1m0 0h1m0 0h1m1 0h1m0 0h1m0 0h1m0 0h1m0 0h1m2 0h1m0 0h1m0 0h1m0 0h1m-12 1h1m0 0h1m0 0h1m0 0h1m0 0h1m0 0h1m0 0h1m0 0h1m0 0h1m0 0h1m0 0h1" stroke="#accc30" stroke-width="1.1" fill="none"/>
<path d="M786 1671h1m0 0h1m0 0h1m-4 1h1m0 0h1m0 0h1m0 0h1m0 0h1m0 0h1m0 0h1m0 0h1m-9 1h1m0 0h1m0 0h1m0 0h1m0 0h1m0 0h1m0 0h1m0 0h1m0 0h1m0 0h1m-10 1h1m0 0h1m0 0h1m1 0h1m1 0h1m0 0h1m0 0h1m0 0h1m0 0h1m-12 1h1m0 0h1m0 0h1m0 0h1m4 0h1m0 0h1m0 0h1m0 0h1m0 0h1m-12 1h1m0 0h1m0 0h1m5 0h1m0 0h1m0 0h1m0 0h1m-12 1h1m0 0h1m0 0h1m5 0h1m0 0h1m0 0h1m0 0h1m-11 1h1m0 0h1m0 0h1m4 0h1m0 0h1m0 0h1m0 0h1m-12 1h1m0 0h1m0 0h1m0 0h1m0 0h1m3 0h1m0 0h1m0 0h1m0 0h1m0 0h1m-12 1h1m0 0h1m0 0h1m0 0h1m0 0h1m0 0h1m0 0h1m0 0h1m0 0h1m0 0h1m0 0h1m0 0h1m-10 1h1m0 0h1m0 0h1m0 0h1m0 0h1m0 0h1m0 0h1m0 0h1m0 0h1m-8 1h1m0 0h1m0 0h1m0 0h1m0 0h1m0 0h1m0 0h1m0 0h1m-4 1h1m0 0h1" stroke="#dba91d" stroke-width="1.1" fill="none"/>
<path d="M787 1674h1m1 0h1m-3 1h1m0 0h1m0 0h1m0 0h1m-3 1h1m0 0h1m0 0h1m0 0h1m-5 1h1m0 0h1m0 0h1m0 0h1m0 0h1m-3 1h1m0 0h1m0 0h1m-3 1h1m0 0h1m0 0h1" stroke="#e65712" stroke-width="1.1" fill="none"/>
<rect x="744.3" y="1604.8" width="96.8" height="48.1" fill="none" stroke="#111" stroke-width="1.4"/>
<text x="840.2" y="1597.8" font-size="19" text-anchor="end" class="k">0.3</text>
<rect x="906" y="1569.3" width="207.6" height="207.2" fill="#fff" stroke="#7d7d7d" stroke-width="1.2"/>
<path d="M927.4 1776.5v5.5M969.4 1776.5v5.5M1011 1776.5v5.5M1053 1776.5v5.5M1095 1776.5v5.5" stroke="#111" stroke-width="1.3" fill="none"/>
<path d="M940 1776.5v3.0M947.4 1776.5v3.0M952.7 1776.5v3.0M956.8 1776.5v3.0M960.1 1776.5v3.0M962.9 1776.5v3.0M965.3 1776.5v3.0M967.5 1776.5v3.0M981.9 1776.5v3.0M989.2 1776.5v3.0M994.4 1776.5v3.0M998.5 1776.5v3.0M1001.8 1776.5v3.0M1004.6 1776.5v3.0M1007 1776.5v3.0M1009.1 1776.5v3.0M1023.6 1776.5v3.0M1031 1776.5v3.0M1036.3 1776.5v3.0M1040.4 1776.5v3.0M1043.7 1776.5v3.0M1046.5 1776.5v3.0M1048.9 1776.5v3.0M1051.1 1776.5v3.0M1065.6 1776.5v3.0M1073 1776.5v3.0M1078.3 1776.5v3.0M1082.4 1776.5v3.0M1085.7 1776.5v3.0M1088.5 1776.5v3.0M1090.9 1776.5v3.0M1093.1 1776.5v3.0M1107.6 1776.5v3.0M910.7 1776.5v3.0M914.8 1776.5v3.0M918.1 1776.5v3.0M920.9 1776.5v3.0M923.3 1776.5v3.0M925.5 1776.5v3.0" stroke="#222" stroke-width="0.9" fill="none"/>
<text x="929.4" y="1793" font-size="8.5" text-anchor="middle" fill="#111">10<tspan dy="-3.8" font-size="6.8">1</tspan></text>
<text x="971.4" y="1793" font-size="8.5" text-anchor="middle" fill="#111">10<tspan dy="-3.8" font-size="6.8">2</tspan></text>
<text x="1013" y="1793" font-size="8.5" text-anchor="middle" fill="#111">10<tspan dy="-3.8" font-size="6.8">3</tspan></text>
<text x="1055" y="1793" font-size="8.5" text-anchor="middle" fill="#111">10<tspan dy="-3.8" font-size="6.8">4</tspan></text>
<text x="1097" y="1793" font-size="8.5" text-anchor="middle" fill="#111">10<tspan dy="-3.8" font-size="6.8">5</tspan></text>
<path d="M906 1587.5h-5.5M906 1628.8h-5.5M906 1670.8h-5.5M906 1712.1h-5.5M906 1754.1h-5.5" stroke="#111" stroke-width="1.3" fill="none"/>
<path d="M906 1741.5h-3.0M906 1734.1h-3.0M906 1728.8h-3.0M906 1724.7h-3.0M906 1721.4h-3.0M906 1718.6h-3.0M906 1716.2h-3.0M906 1714h-3.0M906 1699.7h-3.0M906 1692.4h-3.0M906 1687.2h-3.0M906 1683.2h-3.0M906 1680h-3.0M906 1677.2h-3.0M906 1674.8h-3.0M906 1672.7h-3.0M906 1658.2h-3.0M906 1650.8h-3.0M906 1645.5h-3.0M906 1641.4h-3.0M906 1638.1h-3.0M906 1635.3h-3.0M906 1632.9h-3.0M906 1630.7h-3.0M906 1616.4h-3.0M906 1609.1h-3.0M906 1603.9h-3.0M906 1599.9h-3.0M906 1596.7h-3.0M906 1593.9h-3.0M906 1591.5h-3.0M906 1589.4h-3.0M906 1575.1h-3.0M906 1775.7h-3.0M906 1770.5h-3.0M906 1766.5h-3.0M906 1763.3h-3.0M906 1760.5h-3.0M906 1758.1h-3.0M906 1756h-3.0" stroke="#222" stroke-width="0.9" fill="none"/>
<path d="M993 1622h1m45 20h1m-26 2h1m33 2h1m5 1h1m-23 2h1m-6 1h1m5 0h1m-21 1h1m1 0h1m-14 1h1m0 0h1m5 0h1m14 0h1m-2 1h1m2 0h1m-35 1h1m10 0h1m9 0h1m5 0h1m0 0h1m4 0h1m-16 1h1m29 0h1m-44 1h1m0 0h1m-7 1h1m15 0h1m10 0h1m4 0h1m7 0h1m-25 1h1m5 0h1m0 0h1m2 0h1m3 0h1m0 0h1m3 0h1m1 0h1m-41 1h1m7 0h1m8 0h1m11 0h1m0 0h1m10 0h1m3 0h1m3 0h1m0 0h1m-39 1h1m24 0h1m5 0h1m-51 1h1m50 0h1m6 0h1m8 0h1m-11 1h1m5 0h1m2 0h1m36 0h1m-44 1h1m3 0h1m3 0h1m-71 1h1m9 0h1m52 0h1m12 0h1m-66 1h1m59 0h1m-66 1h1m63 0h1m-10 1h1m-98 1h1m29 0h1m9 0h1m0 0h1m54 0h1m10 0h1m-73 1h1m5 0h1m1 0h1m59 0h1m28 0h1m-98 2h1m2 0h1m58 0h1m9 0h1m-67 1h1m-11 1h1m2 0h1m2 0h1m59 0h1m1 1h1m-76 1h1m4 0h1m5 0h1m66 0h1m-83 2h1m6 0h1m4 0h1m66 0h1m-72 2h1m72 0h1m-92 1h1m2 1h1m6 1h1m5 0h1m73 0h1m14 0h1m-104 1h1m18 0h1m-7 1h1m-4 1h1m0 0h1m3 0h1m74 0h1m0 0h1m-83 1h1m4 1h1m115 0h1m-116 1h1m73 0h1m6 0h1m3 0h1m-94 1h1m81 0h1m-4 1h1m-76 1h1m0 0h1m103 0h1m-32 3h1m-96 1h1m11 0h1m81 0h1m-82 1h1m9 0h1m0 0h1m-8 1h1m2 0h1m0 0h1m72 0h1m11 0h1m-98 1h1m78 0h1m2 0h1m-7 1h1m13 0h1m-84 1h1m2 0h1m65 0h1m-83 1h1m79 0h1m7 0h1m1 0h1m-91 1h1m14 0h1m5 0h1m59 0h1m-80 1h1m12 0h1m3 0h1m0 0h1m58 0h1m0 0h1m2 0h1m5 0h1m-71 1h1m57 0h1m5 0h1m-65 1h1m53 0h1m5 0h1m-65 1h1m72 0h1m-91 1h1m20 0h1m3 0h1m0 0h1m48 0h1m1 0h1m-54 1h1m44 0h1m17 0h1m-73 1h1m2 0h1m51 0h1m2 0h1m-1 1h1m5 0h1m2 0h1m-65 1h1m13 0h1m43 0h1m4 0h1m-65 1h1m52 0h1m2 0h1m18 0h1m-66 1h1m34 0h1m-49 1h1m11 0h1m0 0h1m40 0h1m-36 1h1m0 0h1m13 0h1m5 0h1m7 0h1m0 0h1m21 0h1m8 0h1m-81 1h1m0 0h1m8 0h1m10 0h1m20 0h1m6 0h1m-29 1h1m10 0h1m7 0h1m6 0h1m3 0h1m-50 1h1m4 0h1m15 0h1m0 0h1m6 0h1m10 0h1m0 0h1m10 0h1m-53 1h1m6 0h1m1 0h1m4 0h1m2 0h1m8 0h1m0 0h1m-16 1h1m12 0h1m1 0h1m1 1h1m-1 1h1m23 0h1m-33 1h1m13 0h1m-26 1h1m7 1h1m37 0h1m-37 1h1m4 0h1m24 1h1m53 0h1m-83 1h1m17 1h1m41 0h1m-72 1h1m12 4h1m21 1h1m-13 2h1m43 4h1m6 20h1" stroke="#373cd9" stroke-width="1.1" fill="none"/>
<path d="M997 1661h1m2 0h1m3 0h1m5 0h1m0 0h1m3 0h1m0 0h1m-4 1h1m4 0h1m2 0h1m7 0h1m-35 1h1m1 0h1m0 0h1m2 0h1m0 0h1m0 0h1m4 0h1m4 0h1m6 0h1m1 0h1m-29 1h1m3 0h1m3 0h1m1 0h1m2 0h1m14 0h1m-29 1h1m37 0h1m0 0h1m0 0h1m-45 1h1m40 0h1m4 0h1m-45 1h1m-3 1h1m44 0h1m-43 1h1m41 0h1m1 0h1m-47 1h1m43 0h1m2 0h1m-53 1h1m48 0h1m-48 1h1m1 0h1m45 0h1m2 1h1m-56 1h1m53 0h1m1 0h1m-1 1h1m-56 1h1m52 0h1m0 0h1m0 0h1m-61 1h1m55 0h1m-56 1h1m0 0h1m-4 1h1m-1 1h1m1 0h1m1 0h1m54 0h1m0 0h1m0 0h1m-64 1h1m65 0h1m-64 1h1m-7 1h1m2 0h1m62 0h1m-64 1h1m61 0h1m1 0h1m-70 1h1m0 0h1m66 0h1m-68 1h1m1 0h1m0 0h1m1 0h1m-7 1h1m1 0h1m2 0h1m0 0h1m59 0h1m3 0h1m-68 1h1m-5 1h1m3 0h1m63 0h1m-65 1h1m61 0h1m-64 1h1m60 0h1m1 0h1m-64 1h1m60 0h1m-58 1h1m54 0h1m1 0h1m-60 1h1m54 0h1m3 0h1m-63 1h1m2 0h1m1 0h1m53 0h1m-61 1h1m62 0h1m-64 1h1m52 0h1m2 0h1m-56 1h1m0 0h1m1 0h1m45 0h1m-49 1h1m0 0h1m47 0h1m4 0h1m-58 1h1m0 0h1m54 0h1m-53 1h1m0 0h1m45 0h1m2 0h1m1 0h1m-57 1h1m46 0h1m0 0h1m1 0h1m-48 1h1m0 0h1m3 0h1m0 0h1m36 0h1m0 0h1m5 0h1m-49 1h1m0 0h1m1 0h1m38 0h1m4 0h1m-46 1h1m4 0h1m32 0h1m-40 1h1m2 0h1m2 0h1m1 0h1m0 0h1m0 0h1m24 0h1m-31 1h1m4 0h1m28 0h1m-34 1h1m3 0h1m16 0h1m-24 1h1m4 0h1m0 0h1m4 0h1m2 0h1m0 0h1m11 0h1m5 0h1m-34 1h1m0 0h1m3 0h1m2 0h1m0 0h1m2 0h1m0 0h1m0 0h1m0 0h1m3 0h1m0 0h1m0 0h1m1 0h1m0 0h1m1 0h1m-27 1h1m3 0h1m0 0h1m2 0h1m1 0h1m2 0h1m5 0h1m1 0h1m3 0h1m-25 1h1m1 0h1m3 0h1m1 0h1m7 0h1m1 0h1m-18 1h1m0 0h1m0 0h1m2 0h1m0 0h1m1 0h1m0 0h1m9 0h1m0 0h1m-19 1h1m4 0h1m11 0h1m-16 1h1m1 0h1m0 1h1m1 0h1m-6 1h1m1 0h1m-4 1h1" stroke="#3140d2" stroke-width="1.1" fill="none"/>
<path d="M1015 1663h1m1 0h1m-12 1h1m3 0h1m1 0h1m0 0h1m9 0h1m3 0h1m0 0h1m-34 1h1m2 0h1m0 0h1m0 0h1m0 0h1m2 0h1m1 0h1m2 0h1m9 0h1m3 0h1m0 0h1m0 0h1m0 0h1m1 0h1m0 0h1m0 0h1m-31 1h1m15 0h1m1 0h1m4 0h1m6 0h1m-36 1h1m0 0h1m0 0h1m0 0h1m0 0h1m5 0h1m15 0h1m2 0h1m0 0h1m2 0h1m0 0h1m1 0h1m-39 1h1m0 0h1m1 0h1m-1 1h1m33 0h1m1 0h1m1 0h1m-42 1h1m0 0h1m-1 1h1m0 0h1m37 0h1m0 0h1m-41 1h1m38 0h1m1 0h1m-45 1h1m1 0h1m38 0h1m2 0h1m-49 1h1m1 0h1m43 0h1m-46 1h1m0 0h1m1 0h1m-4 1h1m0 0h1m44 0h1m-49 1h1m0 1h1m0 0h1m44 0h1m0 0h1m-47 1h1m45 0h1m0 0h1m-52 1h1m1 0h1m46 0h1m0 0h1m1 0h1m0 0h1m-55 1h1m1 0h1m0 0h1m48 0h1m2 0h1m0 0h1m-58 1h1m1 0h1m49 0h1m2 0h1m0 0h1m-57 1h1m0 0h1m51 0h1m1 0h1m-2 1h1m1 0h1m-3 1h1m0 0h1m0 0h1m-58 1h1m0 0h1m50 0h1m1 0h1m-3 1h1m0 0h1m2 0h1m-58 1h1m-1 1h1m-3 1h1m1 0h1m0 0h1m49 0h1m0 0h1m0 0h1m0 0h1m-6 1h1m1 0h1m-54 1h1m0 0h1m47 0h1m0 0h1m2 0h1m0 0h1m-53 1h1m49 0h1m0 0h1m-51 1h1m43 0h1m2 0h1m-50 1h1m0 0h1m46 0h1m-48 2h1m0 0h1m40 0h1m0 0h1m-3 1h1m1 0h1m-47 1h1m3 0h1m0 0h1m37 0h1m-43 1h1m0 0h1m0 0h1m0 0h1m34 0h1m0 0h1m0 0h1m0 0h1m-41 1h1m3 0h1m2 0h1m28 0h1m1 0h1m-39 1h1m2 0h1m0 0h1m1 0h1m26 0h1m1 0h1m-33 1h1m1 0h1m2 0h1m0 0h1m0 0h1m0 0h1m0 0h1m20 0h1m0 0h1m1 0h1m-31 1h1m8 0h1m15 0h1m-24 1h1m2 0h1m0 0h1m3 0h1m1 0h1m5 0h1m2 0h1m1 0h1m0 0h1m0 0h1m0 0h1m-23 1h1m0 0h1m1 0h1m0 0h1m1 0h1m2 0h1m0 0h1m0 0h1m0 0h1m2 0h1m0 0h1m1 0h1m2 0h1m0 0h1m-16 1h1m2 0h1m1 0h1m4 0h1m0 0h1m1 0h1m1 0h1m-22 1h1m0 0h1m4 0h1m3 0h1m1 0h1m3 0h1m1 0h1m-21 1h1m8 0h1m0 0h1m3 0h1" stroke="#2b44cb" stroke-width="1.1" fill="none"/>
<path d="M1012 1665h1m-4 1h1m1 0h1m1 0h1m0 0h1m0 0h1m3 0h1m-20 1h1m0 0h1m7 0h1m1 0h1m0 0h1m5 0h1m1 0h1m5 0h1m0 0h1m-30 1h1m0 0h1m4 0h1m0 0h1m0 0h1m8 0h1m2 0h1m0 0h1m0 0h1m4 0h1m1 0h1m0 0h1m-32 1h1m1 0h1m0 0h1m1 0h1m0 0h1m14 0h1m2 0h1m0 0h1m2 0h1m1 0h1m0 0h1m0 0h1m-33 1h1m0 0h1m0 0h1m30 0h1m0 0h1m-36 1h1m2 0h1m29 0h1m0 0h1m0 0h1m-33 1h1m30 0h1m0 0h1m0 0h1m-39 1h1m0 0h1m1 0h1m-4 1h1m0 0h1m0 0h1m1 0h1m31 0h1m1 0h1m-41 1h1m0 0h1m1 0h1m36 0h1m-43 1h1m0 0h1m-3 1h1m2 0h1m38 0h1m1 0h1m-45 1h1m1 0h1m38 0h1m0 0h1m-43 1h1m40 0h1m2 0h1m-47 1h1m0 0h1m41 0h1m1 0h1m-44 1h1m40 0h1m-45 1h1m42 0h1m0 0h1m0 0h1m0 0h1m-48 1h1m44 0h1m1 0h1m-49 1h1m45 0h1m0 0h1m0 0h1m0 0h1m0 0h1m-53 1h1m1 0h1m47 0h1m-49 1h1m44 0h1m1 0h1m-50 1h1m0 0h1m45 0h1m0 0h1m0 0h1m0 0h1m-52 1h1m0 0h1m45 0h1m1 0h1m1 0h1m0 0h1m-52 1h1m43 0h1m3 0h1m0 0h1m-50 1h1m43 0h1m2 0h1m-49 1h1m-1 1h1m0 0h1m41 0h1m0 0h1m0 0h1m-46 1h1m1 0h1m38 0h1m1 0h1m1 0h1m-45 1h1m0 0h1m38 0h1m0 0h1m-40 1h1m38 0h1m-42 1h1m2 0h1m32 0h1m0 0h1m0 0h1m0 0h1m-39 1h1m1 0h1m0 0h1m30 0h1m0 0h1m0 0h1m0 0h1m0 0h1m-39 1h1m1 0h1m0 0h1m0 0h1m1 0h1m27 0h1m0 0h1m-34 1h1m0 0h1m0 0h1m1 0h1m24 0h1m2 0h1m0 0h1m-36 1h1m0 0h1m0 0h1m1 0h1m0 0h1m26 0h1m-26 1h1m1 0h1m19 0h1m1 0h1m-25 1h1m0 0h1m0 0h1m0 0h1m13 0h1m1 0h1m1 0h1m-20 1h1m0 0h1m11 0h1m4 0h1m-12 1h1m1 0h1m0 0h1m5 0h1m-8 1h1m3 0h1" stroke="#2657ca" stroke-width="1.1" fill="none"/>
<path d="M1014 1667h1m-6 1h1m0 0h1m0 0h1m0 0h1m0 0h1m0 0h1m1 0h1m-11 1h1m0 0h1m0 0h1m0 0h1m1 0h1m2 0h1m1 0h1m0 0h1m8 0h1m-27 1h1m0 0h1m1 0h1m0 0h1m2 0h1m7 0h1m0 0h1m0 0h1m2 0h1m0 0h1m0 0h1m0 0h1m1 0h1m0 0h1m-27 1h1m0 0h1m1 0h1m0 0h1m12 0h1m2 0h1m1 0h1m0 0h1m0 0h1m0 0h1m0 0h1m1 0h1m-6 1h1m0 0h1m0 0h1m0 0h1m1 0h1m-31 1h1m0 0h1m1 0h1m24 0h1m0 0h1m0 0h1m0 0h1m-29 1h1m25 0h1m0 0h1m0 0h1m-3 1h1m0 0h1m0 0h1m0 0h1m-37 1h1m32 0h1m0 0h1m1 0h1m-38 1h1m0 0h1m0 0h1m0 0h1m28 0h1m0 0h1m1 0h1m1 0h1m-39 1h1m0 0h1m0 0h1m30 0h1m0 0h1m2 0h1m-4 1h1m0 0h1m0 0h1m0 0h1m-40 1h1m0 0h1m0 0h1m0 0h1m33 0h1m0 0h1m-3 1h1m2 0h1m-41 1h1m0 0h1m0 0h1m36 0h1m-40 1h1m35 0h1m1 0h1m-42 1h1m0 0h1m0 0h1m36 0h1m1 0h1m0 0h1m0 0h1m-44 1h1m0 0h1m0 0h1m37 0h1m2 0h1m-45 1h1m0 0h1m1 0h1m37 0h1m0 0h1m0 0h1m-45 1h1m0 0h1m0 0h1m38 0h1m0 0h1m1 0h1m-46 1h1m1 0h1m40 0h1m-44 1h1m0 0h1m0 0h1m38 0h1m0 0h1m-42 1h1m1 0h1m36 0h1m0 0h1m-40 1h1m0 0h1m35 0h1m0 0h1m0 0h1m-42 1h1m0 0h1m0 0h1m0 0h1m0 0h1m34 0h1m0 0h1m-40 1h1m0 0h1m34 0h1m0 0h1m1 0h1m-37 1h1m33 0h1m-35 1h1m30 0h1m0 0h1m0 0h1m-35 1h1m0 0h1m0 0h1m0 0h1m25 0h1m1 0h1m-31 1h1m0 0h1m0 0h1m0 0h1m0 0h1m21 0h1m0 0h1m0 0h1m-26 1h1m0 0h1m20 0h1m0 0h1m0 0h1m0 0h1m-25 1h1m0 0h1m17 0h1m0 0h1m0 0h1m0 0h1m-21 1h1m0 0h1m0 0h1m13 0h1m0 0h1m-17 1h1m0 0h1m9 0h1m0 0h1m-12 1h1m1 0h1m0 0h1m0 0h1m1 0h1m0 0h1m0 0h1m0 0h1m0 0h1m0 0h1m-9 1h1m1 0h1m0 0h1" stroke="#2179cf" stroke-width="1.1" fill="none"/>
<path d="M1006 1670h1m1 0h1m1 0h1m0 0h1m0 0h1m0 0h1m-9 1h1m0 0h1m1 0h1m1 0h1m0 0h1m1 0h1m1 0h1m2 0h1m-16 1h1m0 0h1m2 0h1m3 0h1m0 0h1m0 0h1m0 0h1m3 0h1m1 0h1m0 0h1m0 0h1m-21 1h1m0 0h1m11 0h1m0 0h1m0 0h1m0 0h1m0 0h1m0 0h1m1 0h1m1 0h1m0 0h1m-24 1h1m0 0h1m13 0h1m0 0h1m0 0h1m2 0h1m0 0h1m0 0h1m0 0h1m0 0h1m-27 1h1m0 0h1m22 0h1m-27 1h1m24 0h1m0 0h1m0 0h1m-29 1h1m26 0h1m-1 1h1m0 1h1m-32 1h1m0 0h1m28 0h1m0 0h1m-33 1h1m0 0h1m29 0h1m-33 1h1m31 0h1m0 0h1m-36 1h1m1 0h1m31 0h1m-35 1h1m32 0h1m0 0h1m-36 1h1m0 0h1m33 0h1m0 0h1m-39 1h1m1 0h1m0 0h1m31 0h1m1 0h1m0 0h1m-38 1h1m35 0h1m-36 1h1m33 0h1m0 0h1m-37 1h1m1 0h1m30 0h1m0 0h1m-35 1h1m32 0h1m-35 1h1m0 0h1m31 0h1m0 0h1m-34 1h1m0 0h1m28 0h1m0 0h1m0 0h1m0 0h1m-33 1h1m0 0h1m27 0h1m0 0h1m-30 1h1m0 0h1m24 0h1m0 0h1m0 0h1m-29 1h1m0 0h1m22 0h1m1 0h1m0 0h1m-28 1h1m0 0h1m0 0h1m0 0h1m17 0h1m1 0h1m-5 1h1m2 0h1m-20 1h1m0 0h1m12 0h1m1 0h1m-17 1h1m0 0h1m1 0h1m7 0h1m0 0h1m0 0h1m0 0h1m-12 1h1m0 0h1m0 0h1m0 0h1m1 0h1m1 0h1m0 0h1m0 0h1m-9 1h1m2 0h1m0 0h1" stroke="#219bc6" stroke-width="1.1" fill="none"/>
<path d="M1009 1671h1m-5 1h1m2 0h1m0 0h1m0 0h1m-6 1h1m0 0h1m0 0h1m0 0h1m0 0h1m0 0h1m1 0h1m0 0h1m0 0h1m-11 1h1m1 0h1m2 0h1m0 0h1m1 0h1m1 0h1m1 0h1m3 0h1m0 0h1m-20 1h1m2 0h1m7 0h1m0 0h1m0 0h1m0 0h1m0 0h1m0 0h1m0 0h1m0 0h1m0 0h1m0 0h1m-24 1h1m0 0h1m0 0h1m0 0h1m13 0h1m2 0h1m0 0h1m0 0h1m0 0h1m-24 1h1m0 0h1m19 0h1m0 0h1m1 0h1m-27 1h1m0 0h1m0 0h1m-4 1h1m0 0h1m22 0h1m1 0h1m0 0h1m-27 1h1m25 0h1m-29 1h1m0 0h1m24 0h1m0 0h1m-29 1h1m0 0h1m25 0h1m0 0h1m0 0h1m-30 1h1m26 0h1m0 0h1m0 0h1m-31 1h1m-3 1h1m0 0h1m29 0h1m-32 1h1m29 0h1m1 0h1m-34 1h1m0 0h1m27 0h1m0 0h1m0 0h1m-32 1h1m28 0h1m1 0h1m0 0h1m-5 1h1m0 0h1m0 0h1m-31 1h1m0 0h1m0 0h1m25 0h1m0 0h1m-30 1h1m0 0h1m25 0h1m1 0h1m-30 1h1m0 0h1m23 0h1m0 0h1m0 0h1m-27 1h1m0 0h1m22 0h1m-24 1h1m0 0h1m18 0h1m0 0h1m1 0h1m-24 1h1m1 0h1m0 0h1m16 0h1m0 0h1m-20 1h1m2 0h1m11 0h1m2 0h1m-19 1h1m0 0h1m0 0h1m0 0h1m0 0h1m0 0h1m7 0h1m0 0h1m-13 1h1m0 0h1m0 0h1m0 0h1m0 0h1m1 0h1m0 0h1m0 0h1m0 0h1m0 0h1m1 0h1m-12 1h1m0 0h1m0 0h1m0 0h1m0 0h1m0 0h1m0 0h1m-4 1h1" stroke="#27bbad" stroke-width="1.1" fill="none"/>
<path d="M1007 1674h1m0 0h1m-5 1h1m1 0h1m0 0h1m0 0h1m0 0h1m0 0h1m0 0h1m0 0h1m-9 1h1m0 0h1m0 0h1m1 0h1m1 0h1m0 0h1m0 0h1m0 0h1m0 0h1m2 0h1m-17 1h1m1 0h1m6 0h1m2 0h1m1 0h1m0 0h1m1 0h1m0 0h1m-20 1h1m0 0h1m12 0h1m0 0h1m1 0h1m0 0h1m1 0h1m-23 1h1m0 0h1m0 0h1m0 0h1m14 0h1m0 0h1m0 0h1m0 0h1m1 0h1m-24 1h1m0 0h1m17 0h1m0 0h1m0 0h1m0 0h1m0 0h1m-24 1h1m20 0h1m0 0h1m-24 1h1m0 0h1m19 0h1m0 0h1m0 0h1m-24 1h1m1 0h1m19 0h1m0 0h1m-27 1h1m0 0h1m0 0h1m23 0h1m-28 1h1m0 0h1m0 0h1m0 0h1m21 0h1m0 0h1m0 0h1m0 0h1m-30 1h1m0 0h1m0 0h1m23 0h1m0 0h1m-28 1h1m0 0h1m24 0h1m-28 1h1m0 0h1m23 0h1m0 0h1m0 0h1m-27 1h1m0 1h1m21 0h1m0 0h1m-25 1h1m23 0h1m-25 1h1m0 0h1m0 0h1m19 0h1m-22 1h1m0 0h1m0 0h1m1 0h1m14 0h1m0 0h1m-20 1h1m0 0h1m0 0h1m0 0h1m0 0h1m11 0h1m-15 1h1m1 0h1m0 0h1m0 0h1m5 0h1m1 0h1m0 0h1m0 0h1m0 0h1m-14 1h1m0 0h1m0 0h1m1 0h1m0 0h1m0 0h1m0 0h1m0 0h1m0 0h1m0 0h1m-9 1h1m0 0h1m0 0h1m0 0h1m0 0h1m0 0h1m0 0h1" stroke="#34c476" stroke-width="1.1" fill="none"/>
<path d="M1009 1676h1m-8 1h1m1 0h1m0 0h1m0 0h1m0 0h1m0 0h1m0 0h1m1 0h1m0 0h1m-11 1h1m0 0h1m0 0h1m1 0h1m2 0h1m0 0h1m0 0h1m0 0h1m0 0h1m-12 1h1m1 0h1m5 0h1m0 0h1m0 0h1m0 0h1m0 0h1m0 0h1m-15 1h1m11 0h1m0 0h1m0 0h1m0 0h1m-18 1h1m0 0h1m0 0h1m0 0h1m12 0h1m0 0h1m0 0h1m0 0h1m-20 1h1m0 0h1m15 0h1m0 0h1m-20 1h1m17 0h1m0 0h1m0 0h1m-22 1h1m1 0h1m0 0h1m16 0h1m0 0h1m-22 1h1m0 0h1m17 0h1m0 0h1m-23 1h1m0 0h1m1 0h1m0 0h1m16 0h1m0 0h1m-24 1h1m0 0h1m20 0h1m0 0h1m-25 1h1m0 0h1m0 0h1m18 0h1m0 0h1m-23 1h1m0 0h1m0 0h1m18 0h1m0 0h1m-22 1h1m0 0h1m18 0h1m-21 1h1m0 0h1m0 0h1m0 0h1m14 0h1m0 0h1m0 0h1m-20 1h1m0 0h1m0 0h1m0 0h1m0 0h1m0 0h1m8 0h1m0 0h1m0 0h1m0 0h1m0 0h1m-18 1h1m1 0h1m0 0h1m1 0h1m0 0h1m0 0h1m0 0h1m0 0h1m0 0h1m0 0h1m0 0h1m0 0h1m0 0h1m0 0h1m-13 1h1m0 0h1m0 0h1m0 0h1m0 0h1m1 0h1m0 0h1m0 0h1m0 0h1m0 0h1m-9 1h1m0 0h1m0 0h1m0 0h1m0 0h1m1 0h1" stroke="#58c948" stroke-width="1.1" fill="none"/>
<path d="M1005 1678h1m2 0h1m-6 1h1m1 0h1m0 0h1m0 0h1m0 0h1m0 0h1m-8 1h1m0 0h1m0 0h1m0 0h1m0 0h1m0 0h1m0 0h1m0 0h1m0 0h1m0 0h1m0 0h1m-10 1h1m0 0h1m1 0h1m0 0h1m0 0h1m1 0h1m0 0h1m0 0h1m0 0h1m0 0h1m-13 1h1m0 0h1m8 0h1m0 0h1m0 0h1m0 0h1m-14 1h1m0 0h1m10 0h1m0 0h1m-15 1h1m0 0h1m0 0h1m10 0h1m0 0h1m-17 1h1m0 0h1m0 0h1m0 0h1m11 0h1m0 0h1m-19 1h1m2 0h1m0 0h1m0 0h1m11 0h1m0 0h1m-20 1h1m0 0h1m0 0h1m0 0h1m0 0h1m0 0h1m0 0h1m10 0h1m0 0h1m0 0h1m-20 1h1m0 0h1m1 0h1m0 0h1m0 0h1m0 0h1m1 0h1m8 0h1m-18 1h1m0 0h1m1 0h1m0 0h1m0 0h1m0 0h1m0 0h1m0 0h1m5 0h1m0 0h1m0 0h1m0 0h1m-18 1h1m0 0h1m0 0h1m0 0h1m0 0h1m0 0h1m0 0h1m0 0h1m0 0h1m0 0h1m0 0h1m0 0h1m0 0h1m0 0h1m0 0h1m0 0h1m0 0h1m0 0h1m-16 1h1m0 0h1m0 0h1m0 0h1m0 0h1m0 0h1m0 0h1m0 0h1m0 0h1m0 0h1m0 0h1m0 0h1m0 0h1m-10 1h1m0 0h1m0 0h1m0 0h1m0 0h1m0 0h1m0 0h1m0 0h1" stroke="#accc30" stroke-width="1.1" fill="none"/>
<path d="M1005 1681h1m3 0h1m-6 1h1m0 0h1m0 0h1m0 0h1m0 0h1m0 0h1m0 0h1m0 0h1m-8 1h1m0 0h1m0 0h1m0 0h1m0 0h1m0 0h1m0 0h1m0 0h1m0 0h1m0 0h1m-10 1h1m0 0h1m0 0h1m0 0h1m0 0h1m0 0h1m0 0h1m0 0h1m0 0h1m0 0h1m-11 1h1m0 0h1m0 0h1m0 0h1m0 0h1m0 0h1m0 0h1m0 0h1m0 0h1m0 0h1m0 0h1m-10 1h1m0 0h1m1 0h1m0 0h1m0 0h1m0 0h1m0 0h1m0 0h1m0 0h1m-11 1h1m0 0h1m0 0h1m0 0h1m0 0h1m0 0h1m0 0h1m0 0h1m0 0h1m0 0h1m-8 1h1m0 0h1m0 0h1m0 0h1m0 0h1m0 0h1m0 0h1m0 0h1m-8 1h1m1 0h1m0 0h1m0 0h1" stroke="#dba91d" stroke-width="1.1" fill="none"/>
<rect x="960.1" y="1604.3" width="96.9" height="48.1" fill="none" stroke="#111" stroke-width="1.4"/>
<text x="1058.3" y="1597.8" font-size="19" text-anchor="end" class="k">0</text>
<text x="694.8" y="1375.8" font-size="19.5" fill="#111">Dpp4<tspan dy="-7.5" font-size="12.5">Low/–</tspan></text>
<text x="695.5" y="1591.5" font-size="19.5" fill="#111">Dpp4<tspan dy="-7.5" font-size="12.5">Hi</tspan></text>
<text x="664.5" y="1546.2" font-size="16.5" class="k" textLength="32.7" lengthAdjust="spacingAndGlyphs" transform="rotate(-90 664.5 1546.2)">GFP</text>
<line x1="657.5" y1="1499.5" x2="657.5" y2="1366" stroke="#000" stroke-width="1.6"/>
<path d="M657.5 1350L651.2 1367L663.8 1367Z" fill="#000"/>
<text x="664.5" y="1772.3" font-size="16.5" class="k" textLength="33.8" lengthAdjust="spacingAndGlyphs" transform="rotate(-90 664.5 1772.3)">GFP</text>
<line x1="657.5" y1="1729.2" x2="657.5" y2="1588.8" stroke="#000" stroke-width="1.6"/>
<path d="M657.5 1572.8L651.2 1589.8L663.8 1589.8Z" fill="#000"/>
<text x="683.9" y="1814.8" font-size="16.5" class="k" textLength="177.8" lengthAdjust="spacingAndGlyphs">PDGFRα-PerCP-Cy5.5</text>
<line x1="889.2" y1="1809.6" x2="1080.5" y2="1809.6" stroke="#000" stroke-width="1.6"/>
<path d="M1098.5 1809.6L1079.5 1803.1L1079.5 1816.1Z" fill="#000"/>
</svg>
</body></html>
